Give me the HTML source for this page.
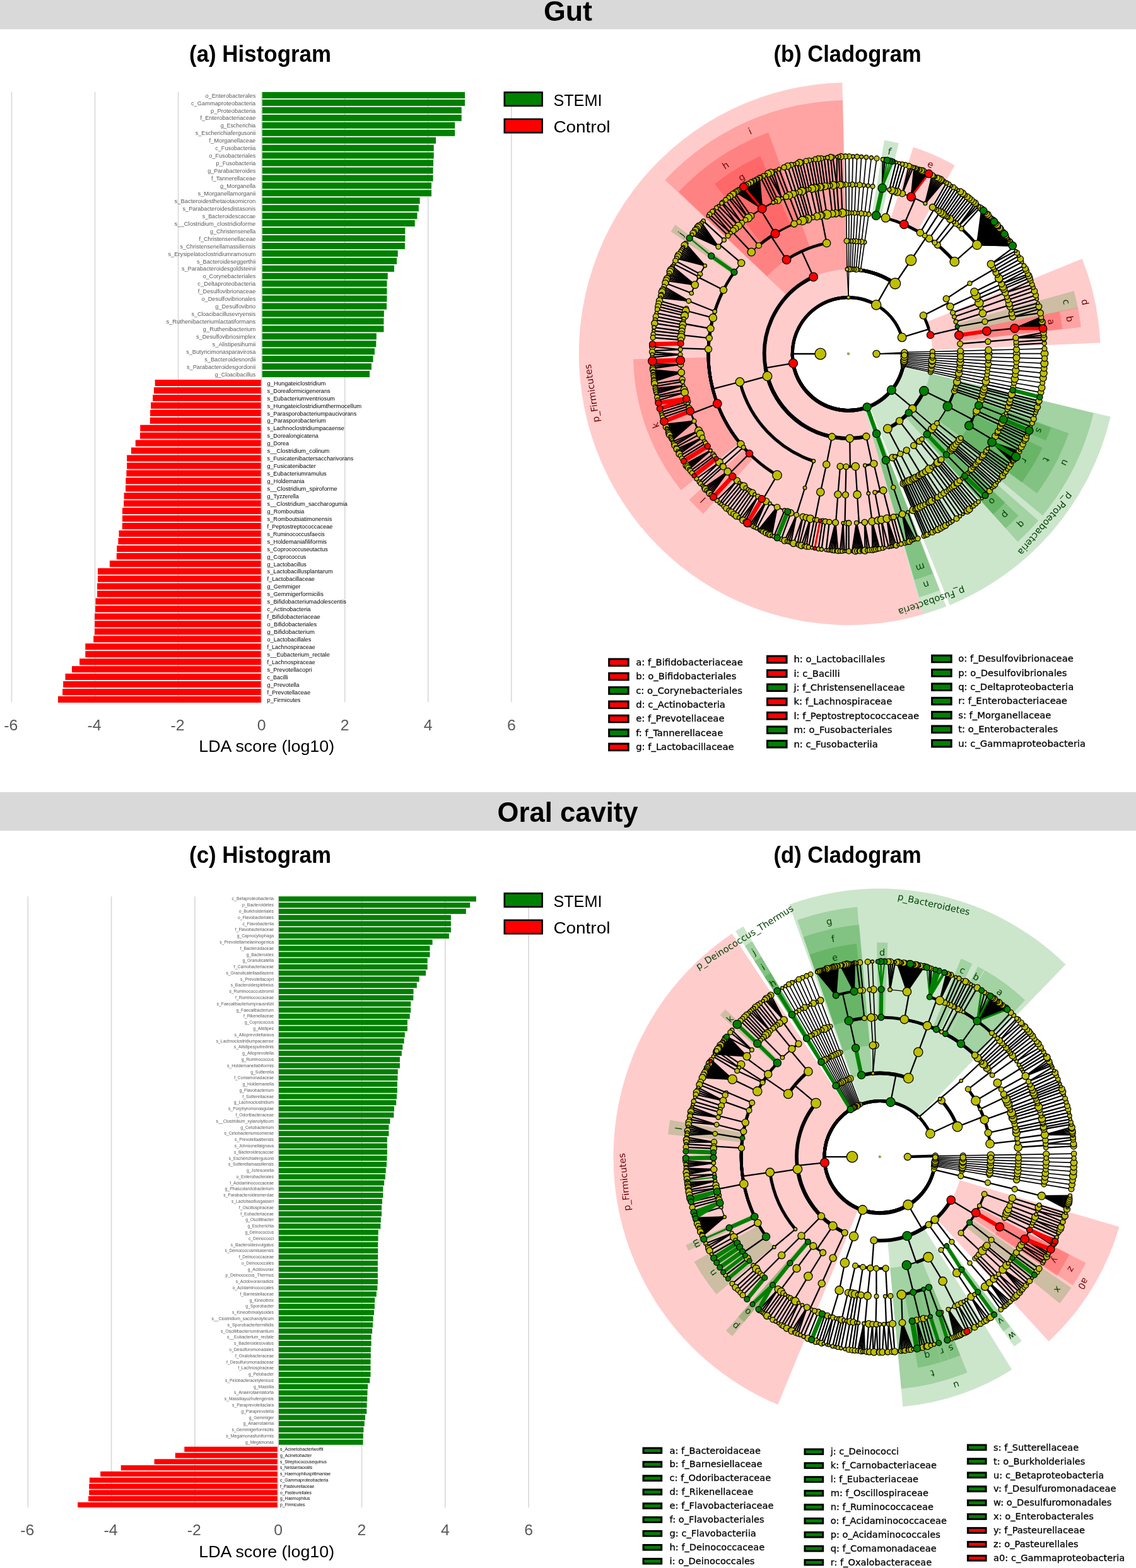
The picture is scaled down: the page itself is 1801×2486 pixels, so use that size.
<!DOCTYPE html>
<html><head><meta charset="utf-8"><title>LEfSe: Gut and Oral cavity</title>
<style>html,body{margin:0;padding:0;background:#fff}svg{display:block}text{white-space:pre}</style></head>
<body><svg width="1801" height="2486" viewBox="0 0 1801 2486" font-family="'Liberation Sans',sans-serif">
<rect x="0" y="-15" width="1801" height="61.4" fill="#d9d9d9"/>
<rect x="0" y="1255.8" width="1801" height="61.2" fill="#d9d9d9"/>
<text x="862" y="32.6" font-size="43.5" fill="#000" font-weight="bold" textLength="77" lengthAdjust="spacingAndGlyphs">Gut</text>
<text x="788.6" y="1303.2" font-size="43.5" fill="#000" font-weight="bold" textLength="223" lengthAdjust="spacingAndGlyphs">Oral cavity</text>
<text x="300" y="98.3" font-size="36" fill="#000" font-weight="bold" textLength="225" lengthAdjust="spacingAndGlyphs">(a) Histogram</text>
<text x="1226.6" y="98.3" font-size="36" fill="#000" font-weight="bold" textLength="234" lengthAdjust="spacingAndGlyphs">(b) Cladogram</text>
<text x="300" y="1368.3" font-size="36" fill="#000" font-weight="bold" textLength="225" lengthAdjust="spacingAndGlyphs">(c) Histogram</text>
<text x="1226.6" y="1368.3" font-size="36" fill="#000" font-weight="bold" textLength="234" lengthAdjust="spacingAndGlyphs">(d) Cladogram</text>
<g font-family="'Liberation Sans',sans-serif">
<g stroke="#d9d9d9" stroke-width="1.7">
<path d="M18.4 145.9V1113.3"/>
<path d="M150.5 145.9V1113.3"/>
<path d="M282.6 145.9V1113.3"/>
<path d="M414.6 145.9V1113.3"/>
<path d="M546.7 145.9V1113.3"/>
<path d="M678.7 145.9V1113.3"/>
<path d="M810.8 145.9V1113.3"/>
</g>
<g fill="#008000">
<rect x="415.7" y="145.9" width="321.3" height="10.1"/>
<rect x="415.7" y="157.8" width="321.3" height="10.1"/>
<rect x="415.7" y="169.8" width="316" height="10.1"/>
<rect x="415.7" y="181.8" width="316" height="10.1"/>
<rect x="415.7" y="193.7" width="305.5" height="10.1"/>
<rect x="415.7" y="205.7" width="305.5" height="10.1"/>
<rect x="415.7" y="217.6" width="275.3" height="10.1"/>
<rect x="415.7" y="229.6" width="272" height="10.1"/>
<rect x="415.7" y="241.5" width="272" height="10.1"/>
<rect x="415.7" y="253.4" width="271.3" height="10.1"/>
<rect x="415.7" y="265.4" width="270.9" height="10.1"/>
<rect x="415.7" y="277.4" width="270.9" height="10.1"/>
<rect x="415.7" y="289.3" width="268.3" height="10.1"/>
<rect x="415.7" y="301.2" width="268.3" height="10.1"/>
<rect x="415.7" y="313.2" width="249.9" height="10.1"/>
<rect x="415.7" y="325.1" width="248.1" height="10.1"/>
<rect x="415.7" y="337.1" width="245.7" height="10.1"/>
<rect x="415.7" y="349" width="242" height="10.1"/>
<rect x="415.7" y="361" width="226.6" height="10.1"/>
<rect x="415.7" y="372.9" width="226.6" height="10.1"/>
<rect x="415.7" y="384.9" width="226.2" height="10.1"/>
<rect x="415.7" y="396.9" width="215" height="10.1"/>
<rect x="415.7" y="408.8" width="213.3" height="10.1"/>
<rect x="415.7" y="420.8" width="209.3" height="10.1"/>
<rect x="415.7" y="432.7" width="199" height="10.1"/>
<rect x="415.7" y="444.6" width="197.7" height="10.1"/>
<rect x="415.7" y="456.6" width="197.7" height="10.1"/>
<rect x="415.7" y="468.5" width="197.7" height="10.1"/>
<rect x="415.7" y="480.5" width="197.3" height="10.1"/>
<rect x="415.7" y="492.4" width="193.1" height="10.1"/>
<rect x="415.7" y="504.4" width="192.7" height="10.1"/>
<rect x="415.7" y="516.4" width="192.7" height="10.1"/>
<rect x="415.7" y="528.3" width="181.1" height="10.1"/>
<rect x="415.7" y="540.2" width="180.6" height="10.1"/>
<rect x="415.7" y="552.2" width="178.2" height="10.1"/>
<rect x="415.7" y="564.1" width="175.8" height="10.1"/>
<rect x="415.7" y="576.1" width="173.2" height="10.1"/>
<rect x="415.7" y="588" width="170.3" height="10.1"/>
</g>
<g fill="#ff0000">
<rect x="245.7" y="602" width="168" height="10.1"/>
<rect x="244" y="614" width="169.7" height="10.1"/>
<rect x="242.2" y="625.9" width="171.5" height="10.1"/>
<rect x="239.2" y="637.9" width="174.5" height="10.1"/>
<rect x="238.1" y="649.8" width="175.6" height="10.1"/>
<rect x="237.8" y="661.8" width="175.9" height="10.1"/>
<rect x="222.3" y="673.7" width="191.4" height="10.1"/>
<rect x="222.1" y="685.6" width="191.6" height="10.1"/>
<rect x="214.8" y="697.6" width="198.9" height="10.1"/>
<rect x="208" y="709.5" width="205.7" height="10.1"/>
<rect x="201.2" y="721.5" width="212.5" height="10.1"/>
<rect x="201.2" y="733.5" width="212.5" height="10.1"/>
<rect x="200.4" y="745.4" width="213.3" height="10.1"/>
<rect x="199.3" y="757.4" width="214.4" height="10.1"/>
<rect x="199.1" y="769.3" width="214.6" height="10.1"/>
<rect x="196.6" y="781.2" width="217.1" height="10.1"/>
<rect x="196.2" y="793.2" width="217.5" height="10.1"/>
<rect x="194" y="805.1" width="219.7" height="10.1"/>
<rect x="194" y="817.1" width="219.7" height="10.1"/>
<rect x="193.8" y="829" width="219.9" height="10.1"/>
<rect x="188.5" y="841" width="225.2" height="10.1"/>
<rect x="187.4" y="853" width="226.3" height="10.1"/>
<rect x="185.3" y="864.9" width="228.4" height="10.1"/>
<rect x="184.8" y="876.8" width="228.9" height="10.1"/>
<rect x="173.9" y="888.8" width="239.8" height="10.1"/>
<rect x="155" y="900.8" width="258.7" height="10.1"/>
<rect x="155" y="912.7" width="258.7" height="10.1"/>
<rect x="154.1" y="924.6" width="259.6" height="10.1"/>
<rect x="154.1" y="936.6" width="259.6" height="10.1"/>
<rect x="151.5" y="948.5" width="262.2" height="10.1"/>
<rect x="151.1" y="960.5" width="262.6" height="10.1"/>
<rect x="150.2" y="972.5" width="263.5" height="10.1"/>
<rect x="150.2" y="984.4" width="263.5" height="10.1"/>
<rect x="150" y="996.3" width="263.7" height="10.1"/>
<rect x="148.2" y="1008.3" width="265.5" height="10.1"/>
<rect x="135.3" y="1020.2" width="278.4" height="10.1"/>
<rect x="135.3" y="1032.2" width="278.4" height="10.1"/>
<rect x="126.1" y="1044.2" width="287.6" height="10.1"/>
<rect x="114" y="1056.1" width="299.7" height="10.1"/>
<rect x="103.5" y="1068" width="310.2" height="10.1"/>
<rect x="100.2" y="1080" width="313.5" height="10.1"/>
<rect x="99.1" y="1092" width="314.6" height="10.1"/>
<rect x="92" y="1103.9" width="321.7" height="10.1"/>
</g>
<g font-family="'Liberation Sans',sans-serif" font-size="9.3" fill="#595959" text-anchor="end">
<text x="405.3" y="154.6" textLength="79.9" lengthAdjust="spacingAndGlyphs">o_Enterobacterales</text>
<text x="405.3" y="166.5" textLength="102.4" lengthAdjust="spacingAndGlyphs">c_Gammaproteobacteria</text>
<text x="405.3" y="178.5" textLength="71.3" lengthAdjust="spacingAndGlyphs">p_Proteobacteria</text>
<text x="405.3" y="190.4" textLength="87.8" lengthAdjust="spacingAndGlyphs">f_Enterobacteriaceae</text>
<text x="405.3" y="202.4" textLength="55.6" lengthAdjust="spacingAndGlyphs">g_Escherichia</text>
<text x="405.3" y="214.3" textLength="95.5" lengthAdjust="spacingAndGlyphs">s_Escherichiafergusonii</text>
<text x="405.3" y="226.3" textLength="73.8" lengthAdjust="spacingAndGlyphs">f_Morganellaceae</text>
<text x="405.3" y="238.2" textLength="64" lengthAdjust="spacingAndGlyphs">c_Fusobacteriia</text>
<text x="405.3" y="250.2" textLength="74" lengthAdjust="spacingAndGlyphs">o_Fusobacteriales</text>
<text x="405.3" y="262.1" textLength="62.7" lengthAdjust="spacingAndGlyphs">p_Fusobacteria</text>
<text x="405.3" y="274.1" textLength="76.1" lengthAdjust="spacingAndGlyphs">g_Parabacteroides</text>
<text x="405.3" y="286" textLength="70.3" lengthAdjust="spacingAndGlyphs">f_Tannerellaceae</text>
<text x="405.3" y="298" textLength="56.4" lengthAdjust="spacingAndGlyphs">g_Morganella</text>
<text x="405.3" y="309.9" textLength="91.9" lengthAdjust="spacingAndGlyphs">s_Morganellamorganii</text>
<text x="405.3" y="321.9" textLength="128.7" lengthAdjust="spacingAndGlyphs">s_Bacteroidesthetaiotaomicron</text>
<text x="405.3" y="333.8" textLength="115.7" lengthAdjust="spacingAndGlyphs">s_Parabacteroidesdistasonis</text>
<text x="405.3" y="345.8" textLength="84.5" lengthAdjust="spacingAndGlyphs">s_Bacteroidescaccae</text>
<text x="405.3" y="357.7" textLength="128.7" lengthAdjust="spacingAndGlyphs">s__Clostridium_clostridioforme</text>
<text x="405.3" y="369.7" textLength="72.4" lengthAdjust="spacingAndGlyphs">g_Christensenella</text>
<text x="405.3" y="381.6" textLength="89.8" lengthAdjust="spacingAndGlyphs">f_Christensenellaceae</text>
<text x="405.3" y="393.6" textLength="119.7" lengthAdjust="spacingAndGlyphs">s_Christensenellamassiliensis</text>
<text x="405.3" y="405.5" textLength="138.9" lengthAdjust="spacingAndGlyphs">s_Erysipelatoclostridiumramosum</text>
<text x="405.3" y="417.5" textLength="93.4" lengthAdjust="spacingAndGlyphs">s_Bacteroideseggerthii</text>
<text x="405.3" y="429.4" textLength="117.4" lengthAdjust="spacingAndGlyphs">s_Parabacteroidesgoldsteinii</text>
<text x="405.3" y="441.4" textLength="83.9" lengthAdjust="spacingAndGlyphs">o_Corynebacteriales</text>
<text x="405.3" y="453.3" textLength="92" lengthAdjust="spacingAndGlyphs">c_Deltaproteobacteria</text>
<text x="405.3" y="465.3" textLength="91.5" lengthAdjust="spacingAndGlyphs">f_Desulfovibrionaceae</text>
<text x="405.3" y="477.2" textLength="85.9" lengthAdjust="spacingAndGlyphs">o_Desulfovibrionales</text>
<text x="405.3" y="489.2" textLength="64" lengthAdjust="spacingAndGlyphs">g_Desulfovibrio</text>
<text x="405.3" y="501.1" textLength="101.8" lengthAdjust="spacingAndGlyphs">s_Cloacibacillusevryensis</text>
<text x="405.3" y="513.1" textLength="141.9" lengthAdjust="spacingAndGlyphs">s_Ruthenibacteriumlactatiformans</text>
<text x="405.3" y="525" textLength="83.5" lengthAdjust="spacingAndGlyphs">g_Ruthenibacterium</text>
<text x="405.3" y="537" textLength="94.4" lengthAdjust="spacingAndGlyphs">s_Desulfovibriosimplex</text>
<text x="405.3" y="548.9" textLength="68.7" lengthAdjust="spacingAndGlyphs">s_Alistipesihumii</text>
<text x="405.3" y="560.9" textLength="110.1" lengthAdjust="spacingAndGlyphs">s_Butyricimonasparavirosa</text>
<text x="405.3" y="572.8" textLength="81.1" lengthAdjust="spacingAndGlyphs">s_Bacteroidesnordii</text>
<text x="405.3" y="584.8" textLength="109.3" lengthAdjust="spacingAndGlyphs">s_Parabacteroidesgordonii</text>
<text x="405.3" y="596.7" textLength="64.5" lengthAdjust="spacingAndGlyphs">g_Cloacibacillus</text>
</g>
<g font-family="'Liberation Sans',sans-serif" font-size="9.3" fill="#000">
<text x="423.6" y="610.7" textLength="92.6" lengthAdjust="spacingAndGlyphs">g_Hungateiclostridium</text>
<text x="423.6" y="622.6" textLength="100" lengthAdjust="spacingAndGlyphs">s_Doreaformicigenerans</text>
<text x="423.6" y="634.6" textLength="107.5" lengthAdjust="spacingAndGlyphs">s_Eubacteriumventriosum</text>
<text x="423.6" y="646.5" textLength="149.5" lengthAdjust="spacingAndGlyphs">s_Hungateiclostridiumthermocellum</text>
<text x="423.6" y="658.5" textLength="141.7" lengthAdjust="spacingAndGlyphs">s_Parasporobacteriumpaucivorans</text>
<text x="423.6" y="670.4" textLength="93.2" lengthAdjust="spacingAndGlyphs">g_Parasporobacterium</text>
<text x="423.6" y="682.4" textLength="122.3" lengthAdjust="spacingAndGlyphs">s_Lachnoclostridiumpacaense</text>
<text x="423.6" y="694.3" textLength="81.2" lengthAdjust="spacingAndGlyphs">s_Dorealongicatena</text>
<text x="423.6" y="706.3" textLength="34.5" lengthAdjust="spacingAndGlyphs">g_Dorea</text>
<text x="423.6" y="718.2" textLength="98.7" lengthAdjust="spacingAndGlyphs">s__Clostridium_colinum</text>
<text x="423.6" y="730.2" textLength="136.8" lengthAdjust="spacingAndGlyphs">s_Fusicatenibactersaccharivorans</text>
<text x="423.6" y="742.1" textLength="77.1" lengthAdjust="spacingAndGlyphs">g_Fusicatenibacter</text>
<text x="423.6" y="754.1" textLength="94.1" lengthAdjust="spacingAndGlyphs">s_Eubacteriumramulus</text>
<text x="423.6" y="766" textLength="59.1" lengthAdjust="spacingAndGlyphs">g_Holdemania</text>
<text x="423.6" y="778" textLength="111.1" lengthAdjust="spacingAndGlyphs">s__Clostridium_spiroforme</text>
<text x="423.6" y="789.9" textLength="50.1" lengthAdjust="spacingAndGlyphs">g_Tyzzerella</text>
<text x="423.6" y="801.9" textLength="127.2" lengthAdjust="spacingAndGlyphs">s__Clostridium_saccharogumia</text>
<text x="423.6" y="813.8" textLength="58.8" lengthAdjust="spacingAndGlyphs">g_Romboutsia</text>
<text x="423.6" y="825.8" textLength="102.7" lengthAdjust="spacingAndGlyphs">s_Romboutsiatimonensis</text>
<text x="423.6" y="837.7" textLength="103.9" lengthAdjust="spacingAndGlyphs">f_Peptostreptococcaceae</text>
<text x="423.6" y="849.7" textLength="91.2" lengthAdjust="spacingAndGlyphs">s_Ruminococcusfaecis</text>
<text x="423.6" y="861.6" textLength="94.4" lengthAdjust="spacingAndGlyphs">s_Holdemaniafiliformis</text>
<text x="423.6" y="873.6" textLength="96.2" lengthAdjust="spacingAndGlyphs">s_Coprococcuseutactus</text>
<text x="423.6" y="885.5" textLength="61.7" lengthAdjust="spacingAndGlyphs">g_Coprococcus</text>
<text x="423.6" y="897.5" textLength="62.2" lengthAdjust="spacingAndGlyphs">g_Lactobacillus</text>
<text x="423.6" y="909.4" textLength="104" lengthAdjust="spacingAndGlyphs">s_Lactobacillusplantarum</text>
<text x="423.6" y="921.4" textLength="75.2" lengthAdjust="spacingAndGlyphs">f_Lactobacillaceae</text>
<text x="423.6" y="933.3" textLength="52.7" lengthAdjust="spacingAndGlyphs">g_Gemmiger</text>
<text x="423.6" y="945.3" textLength="89.2" lengthAdjust="spacingAndGlyphs">s_Gemmigerformicilis</text>
<text x="423.6" y="957.2" textLength="125.3" lengthAdjust="spacingAndGlyphs">s_Bifidobacteriumadolescentis</text>
<text x="423.6" y="969.2" textLength="68.9" lengthAdjust="spacingAndGlyphs">c_Actinobacteria</text>
<text x="423.6" y="981.1" textLength="84.2" lengthAdjust="spacingAndGlyphs">f_Bifidobacteriaceae</text>
<text x="423.6" y="993.1" textLength="78.6" lengthAdjust="spacingAndGlyphs">o_Bifidobacteriales</text>
<text x="423.6" y="1005" textLength="75.3" lengthAdjust="spacingAndGlyphs">g_Bifidobacterium</text>
<text x="423.6" y="1017" textLength="69.6" lengthAdjust="spacingAndGlyphs">o_Lactobacillales</text>
<text x="423.6" y="1028.9" textLength="76.1" lengthAdjust="spacingAndGlyphs">f_Lachnospiraceae</text>
<text x="423.6" y="1040.9" textLength="99.2" lengthAdjust="spacingAndGlyphs">s__Eubacterium_rectale</text>
<text x="423.6" y="1052.8" textLength="76.1" lengthAdjust="spacingAndGlyphs">f_Lachnospiraceae</text>
<text x="423.6" y="1064.8" textLength="70.9" lengthAdjust="spacingAndGlyphs">s_Prevotellacopri</text>
<text x="423.6" y="1076.7" textLength="33" lengthAdjust="spacingAndGlyphs">c_Bacilli</text>
<text x="423.6" y="1088.7" textLength="51.1" lengthAdjust="spacingAndGlyphs">g_Prevotella</text>
<text x="423.6" y="1100.6" textLength="68.5" lengthAdjust="spacingAndGlyphs">f_Prevotellaceae</text>
<text x="423.6" y="1112.6" textLength="52.9" lengthAdjust="spacingAndGlyphs">p_Firmicutes</text>
</g>
<g font-family="'Liberation Sans',sans-serif" font-size="24.6" fill="#595959" text-anchor="middle">
<text x="17.4" y="1158.4" textLength="22.1" lengthAdjust="spacingAndGlyphs">-6</text>
<text x="149.5" y="1158.4" textLength="22.1" lengthAdjust="spacingAndGlyphs">-4</text>
<text x="281.6" y="1158.4" textLength="22.1" lengthAdjust="spacingAndGlyphs">-2</text>
<text x="414.6" y="1158.4" textLength="13.8" lengthAdjust="spacingAndGlyphs">0</text>
<text x="546.7" y="1158.4" textLength="13.8" lengthAdjust="spacingAndGlyphs">2</text>
<text x="678.7" y="1158.4" textLength="13.8" lengthAdjust="spacingAndGlyphs">4</text>
<text x="810.8" y="1158.4" textLength="13.8" lengthAdjust="spacingAndGlyphs">6</text>
</g>
<text x="315.2" y="1191.7" font-size="26.6" fill="#000" textLength="215" lengthAdjust="spacingAndGlyphs">LDA score (log10)</text>
<g stroke="#d9d9d9" stroke-width="1.7">
<path d="M44.3 1421.2V2390.2"/>
<path d="M176.6 1421.2V2390.2"/>
<path d="M308.9 1421.2V2390.2"/>
<path d="M441.2 1421.2V2390.2"/>
<path d="M573.5 1421.2V2390.2"/>
<path d="M705.8 1421.2V2390.2"/>
<path d="M838.1 1421.2V2390.2"/>
</g>
<g fill="#008000">
<rect x="442" y="1421.2" width="312.9" height="8.2"/>
<rect x="442" y="1431" width="303.2" height="8.2"/>
<rect x="442" y="1440.8" width="296.8" height="8.2"/>
<rect x="442" y="1450.6" width="272.9" height="8.2"/>
<rect x="442" y="1460.3" width="272.9" height="8.2"/>
<rect x="442" y="1470.1" width="272.9" height="8.2"/>
<rect x="442" y="1479.9" width="269.9" height="8.2"/>
<rect x="442" y="1489.7" width="243.6" height="8.2"/>
<rect x="442" y="1499.5" width="239.5" height="8.2"/>
<rect x="442" y="1509.3" width="239.5" height="8.2"/>
<rect x="442" y="1519.1" width="235.7" height="8.2"/>
<rect x="442" y="1528.9" width="235.7" height="8.2"/>
<rect x="442" y="1538.6" width="233.1" height="8.2"/>
<rect x="442" y="1548.4" width="222.6" height="8.2"/>
<rect x="442" y="1558.2" width="218.8" height="8.2"/>
<rect x="442" y="1568" width="213.5" height="8.2"/>
<rect x="442" y="1577.8" width="213.3" height="8.2"/>
<rect x="442" y="1587.6" width="209.2" height="8.2"/>
<rect x="442" y="1597.4" width="209.2" height="8.2"/>
<rect x="442" y="1607.2" width="207.7" height="8.2"/>
<rect x="442" y="1616.9" width="203.9" height="8.2"/>
<rect x="442" y="1626.7" width="203.9" height="8.2"/>
<rect x="442" y="1636.5" width="199.8" height="8.2"/>
<rect x="442" y="1646.3" width="198.6" height="8.2"/>
<rect x="442" y="1656.1" width="196.3" height="8.2"/>
<rect x="442" y="1665.9" width="194.8" height="8.2"/>
<rect x="442" y="1675.7" width="191.9" height="8.2"/>
<rect x="442" y="1685.4" width="191.9" height="8.2"/>
<rect x="442" y="1695.2" width="188.7" height="8.2"/>
<rect x="442" y="1705" width="188.4" height="8.2"/>
<rect x="442" y="1714.8" width="187.8" height="8.2"/>
<rect x="442" y="1724.6" width="187.8" height="8.2"/>
<rect x="442" y="1734.4" width="187" height="8.2"/>
<rect x="442" y="1744.2" width="186.1" height="8.2"/>
<rect x="442" y="1754" width="182.9" height="8.2"/>
<rect x="442" y="1763.7" width="182.3" height="8.2"/>
<rect x="442" y="1773.5" width="176.4" height="8.2"/>
<rect x="442" y="1783.3" width="174.4" height="8.2"/>
<rect x="442" y="1793.1" width="174.4" height="8.2"/>
<rect x="442" y="1802.9" width="171.8" height="8.2"/>
<rect x="442" y="1812.7" width="171.8" height="8.2"/>
<rect x="442" y="1822.5" width="171.8" height="8.2"/>
<rect x="442" y="1832.3" width="171.5" height="8.2"/>
<rect x="442" y="1842" width="170.9" height="8.2"/>
<rect x="442" y="1851.8" width="169.7" height="8.2"/>
<rect x="442" y="1861.6" width="168.8" height="8.2"/>
<rect x="442" y="1871.4" width="167.1" height="8.2"/>
<rect x="442" y="1881.2" width="165.3" height="8.2"/>
<rect x="442" y="1891" width="165.3" height="8.2"/>
<rect x="442" y="1900.8" width="163.9" height="8.2"/>
<rect x="442" y="1910.6" width="163" height="8.2"/>
<rect x="442" y="1920.3" width="163" height="8.2"/>
<rect x="442" y="1930.1" width="161.8" height="8.2"/>
<rect x="442" y="1939.9" width="161.3" height="8.2"/>
<rect x="442" y="1949.7" width="157.7" height="8.2"/>
<rect x="442" y="1959.5" width="157.5" height="8.2"/>
<rect x="442" y="1969.3" width="157.2" height="8.2"/>
<rect x="442" y="1979.1" width="157.2" height="8.2"/>
<rect x="442" y="1988.8" width="157.2" height="8.2"/>
<rect x="442" y="1998.6" width="156.9" height="8.2"/>
<rect x="442" y="2008.4" width="156.9" height="8.2"/>
<rect x="442" y="2018.2" width="156.9" height="8.2"/>
<rect x="442" y="2028" width="156.9" height="8.2"/>
<rect x="442" y="2037.8" width="156.3" height="8.2"/>
<rect x="442" y="2047.6" width="154.8" height="8.2"/>
<rect x="442" y="2057.4" width="152.2" height="8.2"/>
<rect x="442" y="2067.1" width="151.9" height="8.2"/>
<rect x="442" y="2076.9" width="151" height="8.2"/>
<rect x="442" y="2086.7" width="149.6" height="8.2"/>
<rect x="442" y="2096.5" width="149" height="8.2"/>
<rect x="442" y="2106.3" width="148.1" height="8.2"/>
<rect x="442" y="2116.1" width="146.6" height="8.2"/>
<rect x="442" y="2125.9" width="146.6" height="8.2"/>
<rect x="442" y="2135.7" width="145.8" height="8.2"/>
<rect x="442" y="2145.4" width="145.8" height="8.2"/>
<rect x="442" y="2155.2" width="145.5" height="8.2"/>
<rect x="442" y="2165" width="145.5" height="8.2"/>
<rect x="442" y="2174.8" width="145.5" height="8.2"/>
<rect x="442" y="2184.6" width="144.3" height="8.2"/>
<rect x="442" y="2194.4" width="141.1" height="8.2"/>
<rect x="442" y="2204.2" width="140.5" height="8.2"/>
<rect x="442" y="2213.9" width="140.2" height="8.2"/>
<rect x="442" y="2223.7" width="139.6" height="8.2"/>
<rect x="442" y="2233.5" width="139.3" height="8.2"/>
<rect x="442" y="2243.3" width="137" height="8.2"/>
<rect x="442" y="2253.1" width="135.8" height="8.2"/>
<rect x="442" y="2262.9" width="134.4" height="8.2"/>
<rect x="442" y="2272.7" width="133.8" height="8.2"/>
<rect x="442" y="2282.5" width="133.5" height="8.2"/>
</g>
<g fill="#ff0000">
<rect x="292.3" y="2293.7" width="147.5" height="8.2"/>
<rect x="277.8" y="2303.5" width="162" height="8.2"/>
<rect x="244.6" y="2313.3" width="195.2" height="8.2"/>
<rect x="191.7" y="2323.1" width="248.1" height="8.2"/>
<rect x="159.2" y="2332.9" width="280.6" height="8.2"/>
<rect x="141.9" y="2342.7" width="297.9" height="8.2"/>
<rect x="141.2" y="2352.5" width="298.6" height="8.2"/>
<rect x="141.2" y="2362.3" width="298.6" height="8.2"/>
<rect x="140.1" y="2372" width="299.7" height="8.2"/>
<rect x="123.2" y="2381.8" width="316.6" height="8.2"/>
</g>
<g font-family="'Liberation Sans',sans-serif" font-size="7" fill="#595959" text-anchor="end">
<text x="434" y="1427.4" textLength="66.4" lengthAdjust="spacingAndGlyphs">c_Betaproteobacteria</text>
<text x="434" y="1437.2" textLength="49.9" lengthAdjust="spacingAndGlyphs">p_Bacteroidetes</text>
<text x="434" y="1447" textLength="55.3" lengthAdjust="spacingAndGlyphs">o_Burkholderiales</text>
<text x="434" y="1456.8" textLength="57.1" lengthAdjust="spacingAndGlyphs">o_Flavobacteriales</text>
<text x="434" y="1466.6" textLength="49.6" lengthAdjust="spacingAndGlyphs">c_Flavobacteriia</text>
<text x="434" y="1476.4" textLength="61.2" lengthAdjust="spacingAndGlyphs">f_Flavobacteriaceae</text>
<text x="434" y="1486.1" textLength="58.3" lengthAdjust="spacingAndGlyphs">g_Capnocytophaga</text>
<text x="434" y="1495.9" textLength="85.8" lengthAdjust="spacingAndGlyphs">s_Prevotellamelaninogenica</text>
<text x="434" y="1505.7" textLength="53.2" lengthAdjust="spacingAndGlyphs">f_Bacteroidaceae</text>
<text x="434" y="1515.5" textLength="43.2" lengthAdjust="spacingAndGlyphs">g_Bacteroides</text>
<text x="434" y="1525.3" textLength="49.6" lengthAdjust="spacingAndGlyphs">g_Granulicatella</text>
<text x="434" y="1535.1" textLength="63.2" lengthAdjust="spacingAndGlyphs">f_Carnobacteriaceae</text>
<text x="434" y="1544.9" textLength="75.6" lengthAdjust="spacingAndGlyphs">s_Granulicatellaadiacens</text>
<text x="434" y="1554.7" textLength="52.9" lengthAdjust="spacingAndGlyphs">s_Prevotellacopri</text>
<text x="434" y="1564.4" textLength="68.3" lengthAdjust="spacingAndGlyphs">s_Bacteroidesplebeius</text>
<text x="434" y="1574.2" textLength="70.6" lengthAdjust="spacingAndGlyphs">s_Ruminococcusbromii</text>
<text x="434" y="1584" textLength="60.9" lengthAdjust="spacingAndGlyphs">f_Ruminococcaceae</text>
<text x="434" y="1593.8" textLength="90.5" lengthAdjust="spacingAndGlyphs">s_Faecalibacteriumprausnitzii</text>
<text x="434" y="1603.6" textLength="59.5" lengthAdjust="spacingAndGlyphs">g_Faecalibacterium</text>
<text x="434" y="1613.4" textLength="47.9" lengthAdjust="spacingAndGlyphs">f_Rikenellaceae</text>
<text x="434" y="1623.2" textLength="46.1" lengthAdjust="spacingAndGlyphs">g_Coprococcus</text>
<text x="434" y="1633" textLength="32.8" lengthAdjust="spacingAndGlyphs">g_Alistipes</text>
<text x="434" y="1642.7" textLength="62.5" lengthAdjust="spacingAndGlyphs">s_Alloprevotellarava</text>
<text x="434" y="1652.5" textLength="91.3" lengthAdjust="spacingAndGlyphs">s_Lachnoclostridiumpacaense</text>
<text x="434" y="1662.3" textLength="63.2" lengthAdjust="spacingAndGlyphs">s_Alistipesputredinis</text>
<text x="434" y="1672.1" textLength="49.9" lengthAdjust="spacingAndGlyphs">g_Alloprevotella</text>
<text x="434" y="1681.9" textLength="51.2" lengthAdjust="spacingAndGlyphs">g_Ruminococcus</text>
<text x="434" y="1691.7" textLength="74.1" lengthAdjust="spacingAndGlyphs">s_Holdemanellabiformis</text>
<text x="434" y="1701.5" textLength="36.8" lengthAdjust="spacingAndGlyphs">g_Sutterella</text>
<text x="434" y="1711.2" textLength="62.8" lengthAdjust="spacingAndGlyphs">f_Comamonadaceae</text>
<text x="434" y="1721" textLength="49.6" lengthAdjust="spacingAndGlyphs">g_Holdemanella</text>
<text x="434" y="1730.8" textLength="54.6" lengthAdjust="spacingAndGlyphs">g_Flavobacterium</text>
<text x="434" y="1740.6" textLength="49.8" lengthAdjust="spacingAndGlyphs">f_Sutterellaceae</text>
<text x="434" y="1750.4" textLength="63.2" lengthAdjust="spacingAndGlyphs">g_Lachnoclostridium</text>
<text x="434" y="1760.2" textLength="71.9" lengthAdjust="spacingAndGlyphs">s_Porphyromonasgulae</text>
<text x="434" y="1770" textLength="60.6" lengthAdjust="spacingAndGlyphs">f_Odoribacteraceae</text>
<text x="434" y="1779.8" textLength="91.5" lengthAdjust="spacingAndGlyphs">s__Clostridium_xylanolyticum</text>
<text x="434" y="1789.5" textLength="52.7" lengthAdjust="spacingAndGlyphs">g_Cetobacterium</text>
<text x="434" y="1799.3" textLength="78.6" lengthAdjust="spacingAndGlyphs">s_Cetobacteriumsomerae</text>
<text x="434" y="1809.1" textLength="62" lengthAdjust="spacingAndGlyphs">s_Prevotellaalbensis</text>
<text x="434" y="1818.9" textLength="62.3" lengthAdjust="spacingAndGlyphs">s_Johnsonellaignava</text>
<text x="434" y="1828.7" textLength="63.1" lengthAdjust="spacingAndGlyphs">s_Bacteroidescaccae</text>
<text x="434" y="1838.5" textLength="71.2" lengthAdjust="spacingAndGlyphs">s_Escherichiafergusonii</text>
<text x="434" y="1848.3" textLength="72.1" lengthAdjust="spacingAndGlyphs">s_Sutterellamassiliensis</text>
<text x="434" y="1858.1" textLength="43.1" lengthAdjust="spacingAndGlyphs">g_Johnsonella</text>
<text x="434" y="1867.8" textLength="59.6" lengthAdjust="spacingAndGlyphs">o_Enterobacterales</text>
<text x="434" y="1877.6" textLength="69.7" lengthAdjust="spacingAndGlyphs">f_Acidaminococcaceae</text>
<text x="434" y="1887.4" textLength="77.5" lengthAdjust="spacingAndGlyphs">g_Phascolarctobacterium</text>
<text x="434" y="1897.2" textLength="79.8" lengthAdjust="spacingAndGlyphs">s_Parabacteroidesmerdae</text>
<text x="434" y="1907" textLength="66.9" lengthAdjust="spacingAndGlyphs">s_Lactobacillusgasseri</text>
<text x="434" y="1916.8" textLength="55.2" lengthAdjust="spacingAndGlyphs">f_Oscillospiraceae</text>
<text x="434" y="1926.6" textLength="52.7" lengthAdjust="spacingAndGlyphs">f_Eubacteriaceae</text>
<text x="434" y="1936.3" textLength="44.8" lengthAdjust="spacingAndGlyphs">g_Oscillibacter</text>
<text x="434" y="1946.1" textLength="41.5" lengthAdjust="spacingAndGlyphs">g_Escherichia</text>
<text x="434" y="1955.9" textLength="45.6" lengthAdjust="spacingAndGlyphs">g_Deinococcus</text>
<text x="434" y="1965.7" textLength="40.1" lengthAdjust="spacingAndGlyphs">c_Deinococci</text>
<text x="434" y="1975.5" textLength="68.2" lengthAdjust="spacingAndGlyphs">s_Bacteroidesvulgatus</text>
<text x="434" y="1985.3" textLength="77.4" lengthAdjust="spacingAndGlyphs">s_Deinococcusmisasensis</text>
<text x="434" y="1995.1" textLength="55.3" lengthAdjust="spacingAndGlyphs">f_Deinococcaceae</text>
<text x="434" y="2004.9" textLength="51.1" lengthAdjust="spacingAndGlyphs">o_Deinococcales</text>
<text x="434" y="2014.6" textLength="41.2" lengthAdjust="spacingAndGlyphs">g_Acidovorax</text>
<text x="434" y="2024.4" textLength="76.5" lengthAdjust="spacingAndGlyphs">p_Deinococcus_Thermus</text>
<text x="434" y="2034.2" textLength="60.3" lengthAdjust="spacingAndGlyphs">s_Acidovoraxradicis</text>
<text x="434" y="2044" textLength="65.5" lengthAdjust="spacingAndGlyphs">o_Acidaminococcales</text>
<text x="434" y="2053.8" textLength="53.6" lengthAdjust="spacingAndGlyphs">f_Barnesiellaceae</text>
<text x="434" y="2063.6" textLength="38.5" lengthAdjust="spacingAndGlyphs">g_Kineothrix</text>
<text x="434" y="2073.4" textLength="44.7" lengthAdjust="spacingAndGlyphs">g_Sporobacter</text>
<text x="434" y="2083.2" textLength="65.9" lengthAdjust="spacingAndGlyphs">s_Kineothrixalysoides</text>
<text x="434" y="2092.9" textLength="98.6" lengthAdjust="spacingAndGlyphs">s__Clostridium_saccharolyticum</text>
<text x="434" y="2102.7" textLength="73.5" lengthAdjust="spacingAndGlyphs">s_Sporobactertermitidis</text>
<text x="434" y="2112.5" textLength="84.1" lengthAdjust="spacingAndGlyphs">s_Oscillibacterruminantium</text>
<text x="434" y="2122.3" textLength="74" lengthAdjust="spacingAndGlyphs">s__Eubacterium_rectale</text>
<text x="434" y="2132.1" textLength="63" lengthAdjust="spacingAndGlyphs">s_Bacteroidesovatus</text>
<text x="434" y="2141.9" textLength="70.8" lengthAdjust="spacingAndGlyphs">o_Desulfuromonadales</text>
<text x="434" y="2151.7" textLength="60.9" lengthAdjust="spacingAndGlyphs">f_Oxalobacteraceae</text>
<text x="434" y="2161.5" textLength="75" lengthAdjust="spacingAndGlyphs">f_Desulfuromonadaceae</text>
<text x="434" y="2171.2" textLength="56.8" lengthAdjust="spacingAndGlyphs">f_Lachnospiraceae</text>
<text x="434" y="2181" textLength="40.1" lengthAdjust="spacingAndGlyphs">g_Pelobacter</text>
<text x="434" y="2190.8" textLength="77.1" lengthAdjust="spacingAndGlyphs">s_Pelobacteracetylenicus</text>
<text x="434" y="2200.6" textLength="31.9" lengthAdjust="spacingAndGlyphs">g_Massilia</text>
<text x="434" y="2210.4" textLength="63.1" lengthAdjust="spacingAndGlyphs">s_Anaerotaeniatorta</text>
<text x="434" y="2220.2" textLength="78.2" lengthAdjust="spacingAndGlyphs">s_Massiliayuzhufengensis</text>
<text x="434" y="2230" textLength="65.9" lengthAdjust="spacingAndGlyphs">s_Paraprevotellaclara</text>
<text x="434" y="2239.7" textLength="51.8" lengthAdjust="spacingAndGlyphs">g_Paraprevotella</text>
<text x="434" y="2249.5" textLength="39.3" lengthAdjust="spacingAndGlyphs">g_Gemmiger</text>
<text x="434" y="2259.3" textLength="48.5" lengthAdjust="spacingAndGlyphs">g_Anaerotaenia</text>
<text x="434" y="2269.1" textLength="66.6" lengthAdjust="spacingAndGlyphs">s_Gemmigerformicilis</text>
<text x="434" y="2278.9" textLength="75.7" lengthAdjust="spacingAndGlyphs">s_Megamonasfuniformis</text>
<text x="434" y="2288.7" textLength="44.9" lengthAdjust="spacingAndGlyphs">g_Megamonas</text>
</g>
<g font-family="'Liberation Sans',sans-serif" font-size="7" fill="#000">
<text x="444" y="2300" textLength="68.7" lengthAdjust="spacingAndGlyphs">s_Acinetobacterlwoffii</text>
<text x="444" y="2309.8" textLength="50.2" lengthAdjust="spacingAndGlyphs">g_Acinetobacter</text>
<text x="444" y="2319.5" textLength="73.9" lengthAdjust="spacingAndGlyphs">s_Streptococcusequinus</text>
<text x="444" y="2329.3" textLength="51" lengthAdjust="spacingAndGlyphs">s_Neisseriaoralis</text>
<text x="444" y="2339.1" textLength="80.1" lengthAdjust="spacingAndGlyphs">s_Haemophiluspittmaniae</text>
<text x="444" y="2348.9" textLength="76.4" lengthAdjust="spacingAndGlyphs">c_Gammaproteobacteria</text>
<text x="444" y="2358.7" textLength="54.2" lengthAdjust="spacingAndGlyphs">f_Pasteurellaceae</text>
<text x="444" y="2368.5" textLength="50" lengthAdjust="spacingAndGlyphs">o_Pasteurellales</text>
<text x="444" y="2378.3" textLength="47.4" lengthAdjust="spacingAndGlyphs">g_Haemophilus</text>
<text x="444" y="2388.1" textLength="39.5" lengthAdjust="spacingAndGlyphs">p_Firmicutes</text>
</g>
<g font-family="'Liberation Sans',sans-serif" font-size="24.6" fill="#595959" text-anchor="middle">
<text x="43.3" y="2433.6" textLength="22.1" lengthAdjust="spacingAndGlyphs">-6</text>
<text x="175.6" y="2433.6" textLength="22.1" lengthAdjust="spacingAndGlyphs">-4</text>
<text x="307.9" y="2433.6" textLength="22.1" lengthAdjust="spacingAndGlyphs">-2</text>
<text x="441.2" y="2433.6" textLength="13.8" lengthAdjust="spacingAndGlyphs">0</text>
<text x="573.5" y="2433.6" textLength="13.8" lengthAdjust="spacingAndGlyphs">2</text>
<text x="705.8" y="2433.6" textLength="13.8" lengthAdjust="spacingAndGlyphs">4</text>
<text x="838.1" y="2433.6" textLength="13.8" lengthAdjust="spacingAndGlyphs">6</text>
</g>
<text x="315.2" y="2468.7" font-size="26.6" fill="#000" textLength="215" lengthAdjust="spacingAndGlyphs">LDA score (log10)</text>
<rect x="799.8" y="146.4" width="59.8" height="21.4" fill="#008000" stroke="#000" stroke-width="2.6"/>
<text x="877.4" y="168.3" font-size="26.6" fill="#000" textLength="77" lengthAdjust="spacingAndGlyphs">STEMI</text>
<rect x="799.8" y="188.9" width="59.8" height="21.4" fill="#ff0000" stroke="#000" stroke-width="2.6"/>
<text x="877.4" y="209.9" font-size="26.6" fill="#000" textLength="90" lengthAdjust="spacingAndGlyphs">Control</text>
<rect x="799.8" y="1416.4" width="59.8" height="21.4" fill="#008000" stroke="#000" stroke-width="2.6"/>
<text x="877.4" y="1438.3" font-size="26.6" fill="#000" textLength="77" lengthAdjust="spacingAndGlyphs">STEMI</text>
<rect x="799.8" y="1458.9" width="59.8" height="21.4" fill="#ff0000" stroke="#000" stroke-width="2.6"/>
<text x="877.4" y="1479.9" font-size="26.6" fill="#000" textLength="90" lengthAdjust="spacingAndGlyphs">Control</text>
</g>
<g font-family="'DejaVu Sans',sans-serif" font-size="14.8" fill="#000" stroke="#000" stroke-width="0.3">
<rect x="965.6" y="1044.9" width="30.6" height="10.6" fill="#ff0000" stroke="#000" stroke-width="3"/>
<text x="1008.2" y="1055">a: f_Bifidobacteriaceae</text>
<rect x="965.6" y="1067.3" width="30.6" height="10.6" fill="#ff0000" stroke="#000" stroke-width="3"/>
<text x="1008.2" y="1077.4">b: o_Bifidobacteriales</text>
<rect x="965.6" y="1089.6" width="30.6" height="10.6" fill="#008000" stroke="#000" stroke-width="3"/>
<text x="1008.2" y="1099.7">c: o_Corynebacteriales</text>
<rect x="965.6" y="1112" width="30.6" height="10.6" fill="#ff0000" stroke="#000" stroke-width="3"/>
<text x="1008.2" y="1122.1">d: c_Actinobacteria</text>
<rect x="965.6" y="1134.3" width="30.6" height="10.6" fill="#ff0000" stroke="#000" stroke-width="3"/>
<text x="1008.2" y="1144.4">e: f_Prevotellaceae</text>
<rect x="965.6" y="1156.7" width="30.6" height="10.6" fill="#008000" stroke="#000" stroke-width="3"/>
<text x="1008.2" y="1166.8">f: f_Tannerellaceae</text>
<rect x="965.6" y="1179.1" width="30.6" height="10.6" fill="#ff0000" stroke="#000" stroke-width="3"/>
<text x="1008.2" y="1189.2">g: f_Lactobacillaceae</text>
<rect x="1216.5" y="1040.2" width="30.6" height="10.6" fill="#ff0000" stroke="#000" stroke-width="3"/>
<text x="1258.4" y="1050.3">h: o_Lactobacillales</text>
<rect x="1216.5" y="1062.6" width="30.6" height="10.6" fill="#ff0000" stroke="#000" stroke-width="3"/>
<text x="1258.4" y="1072.7">i: c_Bacilli</text>
<rect x="1216.5" y="1084.9" width="30.6" height="10.6" fill="#008000" stroke="#000" stroke-width="3"/>
<text x="1258.4" y="1095">j: f_Christensenellaceae</text>
<rect x="1216.5" y="1107.3" width="30.6" height="10.6" fill="#ff0000" stroke="#000" stroke-width="3"/>
<text x="1258.4" y="1117.4">k: f_Lachnospiraceae</text>
<rect x="1216.5" y="1129.6" width="30.6" height="10.6" fill="#ff0000" stroke="#000" stroke-width="3"/>
<text x="1258.4" y="1139.7">l: f_Peptostreptococcaceae</text>
<rect x="1216.5" y="1152" width="30.6" height="10.6" fill="#008000" stroke="#000" stroke-width="3"/>
<text x="1258.4" y="1162.1">m: o_Fusobacteriales</text>
<rect x="1216.5" y="1174.4" width="30.6" height="10.6" fill="#008000" stroke="#000" stroke-width="3"/>
<text x="1258.4" y="1184.5">n: c_Fusobacteriia</text>
<rect x="1477.6" y="1039.2" width="30.6" height="10.6" fill="#008000" stroke="#000" stroke-width="3"/>
<text x="1519.2" y="1049.3">o: f_Desulfovibrionaceae</text>
<rect x="1477.6" y="1061.6" width="30.6" height="10.6" fill="#008000" stroke="#000" stroke-width="3"/>
<text x="1519.2" y="1071.7">p: o_Desulfovibrionales</text>
<rect x="1477.6" y="1083.9" width="30.6" height="10.6" fill="#008000" stroke="#000" stroke-width="3"/>
<text x="1519.2" y="1094">q: c_Deltaproteobacteria</text>
<rect x="1477.6" y="1106.3" width="30.6" height="10.6" fill="#008000" stroke="#000" stroke-width="3"/>
<text x="1519.2" y="1116.4">r: f_Enterobacteriaceae</text>
<rect x="1477.6" y="1128.6" width="30.6" height="10.6" fill="#008000" stroke="#000" stroke-width="3"/>
<text x="1519.2" y="1138.7">s: f_Morganellaceae</text>
<rect x="1477.6" y="1151" width="30.6" height="10.6" fill="#008000" stroke="#000" stroke-width="3"/>
<text x="1519.2" y="1161.1">t: o_Enterobacterales</text>
<rect x="1477.6" y="1173.4" width="30.6" height="10.6" fill="#008000" stroke="#000" stroke-width="3"/>
<text x="1519.2" y="1183.5">u: c_Gammaproteobacteria</text>
</g>
<g font-family="'DejaVu Sans',sans-serif" font-size="14.6" fill="#000" stroke="#000" stroke-width="0.3">
<rect x="1020" y="2295.9" width="28.7" height="7.7" fill="#008000" stroke="#000" stroke-width="3"/>
<text x="1061.6" y="2304.5">a: f_Bacteroidaceae</text>
<rect x="1020" y="2317.8" width="28.7" height="7.7" fill="#008000" stroke="#000" stroke-width="3"/>
<text x="1061.6" y="2326.4">b: f_Barnesiellaceae</text>
<rect x="1020" y="2339.8" width="28.7" height="7.7" fill="#008000" stroke="#000" stroke-width="3"/>
<text x="1061.6" y="2348.4">c: f_Odoribacteraceae</text>
<rect x="1020" y="2361.7" width="28.7" height="7.7" fill="#008000" stroke="#000" stroke-width="3"/>
<text x="1061.6" y="2370.3">d: f_Rikenellaceae</text>
<rect x="1020" y="2383.7" width="28.7" height="7.7" fill="#008000" stroke="#000" stroke-width="3"/>
<text x="1061.6" y="2392.3">e: f_Flavobacteriaceae</text>
<rect x="1020" y="2405.6" width="28.7" height="7.7" fill="#008000" stroke="#000" stroke-width="3"/>
<text x="1061.6" y="2414.2">f: o_Flavobacteriales</text>
<rect x="1020" y="2427.5" width="28.7" height="7.7" fill="#008000" stroke="#000" stroke-width="3"/>
<text x="1061.6" y="2436.1">g: c_Flavobacteriia</text>
<rect x="1020" y="2449.5" width="28.7" height="7.7" fill="#008000" stroke="#000" stroke-width="3"/>
<text x="1061.6" y="2458.1">h: f_Deinococcaceae</text>
<rect x="1020" y="2471.4" width="28.7" height="7.7" fill="#008000" stroke="#000" stroke-width="3"/>
<text x="1061.6" y="2480">i: o_Deinococcales</text>
<rect x="1276" y="2297.8" width="28.7" height="7.7" fill="#008000" stroke="#000" stroke-width="3"/>
<text x="1316.7" y="2306.4">j: c_Deinococci</text>
<rect x="1276" y="2319.7" width="28.7" height="7.7" fill="#008000" stroke="#000" stroke-width="3"/>
<text x="1316.7" y="2328.3">k: f_Carnobacteriaceae</text>
<rect x="1276" y="2341.7" width="28.7" height="7.7" fill="#008000" stroke="#000" stroke-width="3"/>
<text x="1316.7" y="2350.3">l: f_Eubacteriaceae</text>
<rect x="1276" y="2363.6" width="28.7" height="7.7" fill="#008000" stroke="#000" stroke-width="3"/>
<text x="1316.7" y="2372.2">m: f_Oscillospiraceae</text>
<rect x="1276" y="2385.6" width="28.7" height="7.7" fill="#008000" stroke="#000" stroke-width="3"/>
<text x="1316.7" y="2394.2">n: f_Ruminococcaceae</text>
<rect x="1276" y="2407.5" width="28.7" height="7.7" fill="#008000" stroke="#000" stroke-width="3"/>
<text x="1316.7" y="2416.1">o: f_Acidaminococcaceae</text>
<rect x="1276" y="2429.4" width="28.7" height="7.7" fill="#008000" stroke="#000" stroke-width="3"/>
<text x="1316.7" y="2438">p: o_Acidaminococcales</text>
<rect x="1276" y="2451.4" width="28.7" height="7.7" fill="#008000" stroke="#000" stroke-width="3"/>
<text x="1316.7" y="2460">q: f_Comamonadaceae</text>
<rect x="1276" y="2473.3" width="28.7" height="7.7" fill="#008000" stroke="#000" stroke-width="3"/>
<text x="1316.7" y="2481.9">r: f_Oxalobacteraceae</text>
<rect x="1534.4" y="2291" width="28.7" height="7.7" fill="#008000" stroke="#000" stroke-width="3"/>
<text x="1575.1" y="2299.6">s: f_Sutterellaceae</text>
<rect x="1534.4" y="2312.9" width="28.7" height="7.7" fill="#008000" stroke="#000" stroke-width="3"/>
<text x="1575.1" y="2321.5">t: o_Burkholderiales</text>
<rect x="1534.4" y="2334.9" width="28.7" height="7.7" fill="#008000" stroke="#000" stroke-width="3"/>
<text x="1575.1" y="2343.5">u: c_Betaproteobacteria</text>
<rect x="1534.4" y="2356.8" width="28.7" height="7.7" fill="#008000" stroke="#000" stroke-width="3"/>
<text x="1575.1" y="2365.4">v: f_Desulfuromonadaceae</text>
<rect x="1534.4" y="2378.8" width="28.7" height="7.7" fill="#008000" stroke="#000" stroke-width="3"/>
<text x="1575.1" y="2387.4">w: o_Desulfuromonadales</text>
<rect x="1534.4" y="2400.7" width="28.7" height="7.7" fill="#008000" stroke="#000" stroke-width="3"/>
<text x="1575.1" y="2409.3">x: o_Enterobacterales</text>
<rect x="1534.4" y="2422.6" width="28.7" height="7.7" fill="#ff0000" stroke="#000" stroke-width="3"/>
<text x="1575.1" y="2431.2">y: f_Pasteurellaceae</text>
<rect x="1534.4" y="2444.6" width="28.7" height="7.7" fill="#ff0000" stroke="#000" stroke-width="3"/>
<text x="1575.1" y="2453.2">z: o_Pasteurellales</text>
<rect x="1534.4" y="2466.5" width="28.7" height="7.7" fill="#ff0000" stroke="#000" stroke-width="3"/>
<text x="1575.1" y="2475.1">a0: c_Gammaproteobacteria</text>
</g>
<g transform="translate(1345.1 0) scale(0.9935 1) translate(-1345.1 0)"><path d="M1335.3 131.1A430 430 0 1 0 1464.3 974.1L1369.9 646.9A89.4 89.4 0 1 1 1343.1 471.6Z" fill="#ff0000" fill-opacity="0.2"/>
<path d="M1336 158.9A402.2 402.2 0 0 0 1052.4 285.2L1247.5 469A134.2 134.2 0 0 1 1342.1 426.9Z" fill="#ff0000" fill-opacity="0.2"/>
<path d="M1217.4 210.1A373.4 373.4 0 0 0 1074.2 304L1215.3 437.9A178.9 178.9 0 0 1 1283.9 392.9Z" fill="#ff0000" fill-opacity="0.2"/>
<path d="M1204.3 247.6A343.6 343.6 0 0 0 1131.7 291.7L1206.2 385.8A223.6 223.6 0 0 1 1253.4 357Z" fill="#ff0000" fill-opacity="0.2"/>
<path d="M1068.9 356.6A343.6 343.6 0 0 0 1061.6 366.9L1160.6 434.7A223.6 223.6 0 0 1 1165.4 428Z" fill="#008000" fill-opacity="0.2"/>
<path d="M1001.6 569.4A343.6 343.6 0 0 0 1078.1 777.2L1171.3 701.7A223.6 223.6 0 0 1 1121.6 566.5Z" fill="#ff0000" fill-opacity="0.2"/>
<path d="M1091 792.2A343.6 343.6 0 0 0 1113.4 814.7L1194.3 726.1A223.6 223.6 0 0 1 1179.7 711.5Z" fill="#ff0000" fill-opacity="0.2"/>
<path d="M1746.9 543.5A402.2 402.2 0 0 0 1718 410.3L1469.5 510.7A134.2 134.2 0 0 1 1479.1 555.1Z" fill="#ff0000" fill-opacity="0.2"/>
<path d="M1716.1 518.7A373.4 373.4 0 0 0 1711.3 487.8L1520.5 525.9A178.9 178.9 0 0 1 1522.8 540.8Z" fill="#ff0000" fill-opacity="0.2"/>
<path d="M1686.4 521.5A343.6 343.6 0 0 0 1682.2 494.3L1564.4 517.6A223.6 223.6 0 0 1 1567.2 535.3Z" fill="#ff0000" fill-opacity="0.2"/>
<path d="M1711.4 488.5A373.4 373.4 0 0 0 1704.9 461.2L1517.5 513.2A178.9 178.9 0 0 1 1520.6 526.3Z" fill="#008000" fill-opacity="0.2"/>
<path d="M1514.8 262.2A343.6 343.6 0 0 0 1448.4 233.3L1412.3 347.7A223.6 223.6 0 0 1 1455.5 366.6Z" fill="#ff0000" fill-opacity="0.2"/>
<path d="M1425.3 226.9A343.6 343.6 0 0 0 1402.4 222.2L1382.4 340.5A223.6 223.6 0 0 1 1397.3 343.6Z" fill="#008000" fill-opacity="0.2"/>
<path d="M1464.3 974.1A430 430 0 0 0 1501.3 961.6L1377.6 644.3A89.4 89.4 0 0 1 1369.9 646.9Z" fill="#008000" fill-opacity="0.2"/>
<path d="M1458 947A402.2 402.2 0 0 0 1490.5 936L1393.6 686.1A134.2 134.2 0 0 1 1382.8 689.8Z" fill="#008000" fill-opacity="0.2"/>
<path d="M1450.5 919.2A373.4 373.4 0 0 0 1479.5 909.4L1409.5 727.9A178.9 178.9 0 0 1 1395.6 732.6Z" fill="#008000" fill-opacity="0.2"/>
<path d="M1506.9 959.4A430 430 0 0 0 1763.4 660.7L1432.1 581.7A89.4 89.4 0 0 1 1378.7 643.9Z" fill="#008000" fill-opacity="0.2"/>
<path d="M1655 817.4A402.2 402.2 0 0 0 1736.2 654.9L1475.6 592.3A134.2 134.2 0 0 1 1448.5 646.5Z" fill="#008000" fill-opacity="0.2"/>
<path d="M1646 782.1A373.4 373.4 0 0 0 1696.6 686.9L1513.5 621.3A178.9 178.9 0 0 1 1489.3 666.9Z" fill="#008000" fill-opacity="0.2"/>
<path d="M1660 698.6A343.6 343.6 0 0 0 1668.2 678L1555.3 637.1A223.6 223.6 0 0 1 1550 650.5Z" fill="#008000" fill-opacity="0.2"/>
<path d="M1621.7 764.9A343.6 343.6 0 0 0 1654.7 710L1546.6 658A223.6 223.6 0 0 1 1525.1 693.7Z" fill="#008000" fill-opacity="0.2"/>
<path d="M1615.3 859A402.2 402.2 0 0 0 1648.2 825.4L1446.2 649.2A134.2 134.2 0 0 1 1435.2 660.4Z" fill="#008000" fill-opacity="0.2"/>
<path d="M1595.9 837.6A373.4 373.4 0 0 0 1616.4 817.6L1475.1 683.9A178.9 178.9 0 0 1 1465.3 693.5Z" fill="#008000" fill-opacity="0.2"/>
<path d="M1575.9 815.5A343.6 343.6 0 0 0 1595.2 796.6L1507.8 714.3A223.6 223.6 0 0 1 1495.3 726.6Z" fill="#008000" fill-opacity="0.2"/>
<g fill="none" stroke-linecap="butt">
<path d="M1389.8 561L1434.5 560.9" stroke="#000" stroke-width="1.6"/>
<path d="M1389.8 561L1434.5 558.7" stroke="#000" stroke-width="1.6"/>
<path d="M1434.5 560.9L1479.3 560.8" stroke="#000" stroke-width="1.7"/>
<path d="M1479.3 560.8L1524 560.8" stroke="#000" stroke-width="1.7"/>
<path d="M1524 560.8L1568.7 560.7" stroke="#000" stroke-width="1.7"/>
<path d="M1568.7 560.7L1613.4 560.6" stroke="#000" stroke-width="1.7"/>
<path d="M1613.4 560.6L1658.1 560.6" stroke="#000" stroke-width="1.7"/>
<path d="M1434.5 558.7L1479.2 557.5" stroke="#000" stroke-width="1.7"/>
<path d="M1479.2 557.5L1523.9 556.3" stroke="#000" stroke-width="1.7"/>
<path d="M1523.9 556.3L1568.6 555.1" stroke="#000" stroke-width="1.7"/>
<path d="M1568.6 555.1L1613.3 554" stroke="#000" stroke-width="1.7"/>
<path d="M1613.3 554L1658 552.8" stroke="#000" stroke-width="1.7"/>
<path d="M1300.4 561L1255.7 561" stroke="#000" stroke-width="2.3"/>
<path d="M1404.8 729.6L1416.8 772.8" stroke="#000" stroke-width="2.3"/>
<path d="M1416.8 772.8L1431.1 815.2" stroke="#000" stroke-width="2.3"/>
<path d="M1422.2 818L1435.1 860.8" stroke="#000" stroke-width="2.3"/>
<path d="M1431.1 815.2L1439.1 859.6" stroke="#000" stroke-width="2.3"/>
<path d="M1431.1 815.2L1442.3 858.6" stroke="#000" stroke-width="2.3"/>
<path d="M1431.1 815.2L1445.5 857.5" stroke="#000" stroke-width="2.3"/>
<path d="M1431.1 815.2L1448.6 856.4" stroke="#000" stroke-width="2.3"/>
<path d="M1431.1 815.2L1451.8 855.3" stroke="#000" stroke-width="2.3"/>
<path d="M1439.9 812L1455.8 853.8" stroke="#000" stroke-width="2.3"/>
<path d="M1413.8 618.3L1448.2 646.9" stroke="#000" stroke-width="2.3"/>
<path d="M1407.7 679.7L1428.5 719.2" stroke="#000" stroke-width="2.3"/>
<path d="M1415.4 725.5L1432.9 766.6" stroke="#000" stroke-width="2.3"/>
<path d="M1431 767.4L1448.2 808.7" stroke="#000" stroke-width="2.3"/>
<path d="M1448.2 808.7L1465.4 850" stroke="#000" stroke-width="2.3"/>
<path d="M1433.2 766.5L1450.8 807.6" stroke="#000" stroke-width="2.3"/>
<path d="M1450.8 807.6L1468.4 848.7" stroke="#000" stroke-width="2.3"/>
<path d="M1435.1 765.7L1453.1 806.6" stroke="#000" stroke-width="2.3"/>
<path d="M1453.1 806.6L1471.1 847.6" stroke="#000" stroke-width="2.3"/>
<path d="M1419.3 723.8L1437.9 764.4" stroke="#000" stroke-width="2.3"/>
<path d="M1437.9 764.4L1456.4 805.1" stroke="#000" stroke-width="2.3"/>
<path d="M1456.4 805.1L1475 845.8" stroke="#000" stroke-width="2.3"/>
<path d="M1427.9 719.5L1448.7 759.2" stroke="#000" stroke-width="2.3"/>
<path d="M1440.9 763L1460.1 803.4" stroke="#000" stroke-width="2.3"/>
<path d="M1460.1 803.4L1479.2 843.9" stroke="#000" stroke-width="2.3"/>
<path d="M1443.8 761.6L1463.6 801.7" stroke="#000" stroke-width="2.3"/>
<path d="M1463.6 801.7L1483.3 841.9" stroke="#000" stroke-width="2.3"/>
<path d="M1447.1 760L1467.4 799.8" stroke="#000" stroke-width="2.3"/>
<path d="M1467.4 799.8L1487.8 839.6" stroke="#000" stroke-width="2.3"/>
<path d="M1450.3 758.3L1471.3 797.8" stroke="#000" stroke-width="2.3"/>
<path d="M1471.3 797.8L1492.3 837.3" stroke="#000" stroke-width="2.3"/>
<path d="M1453.1 756.8L1474.7 795.9" stroke="#000" stroke-width="2.3"/>
<path d="M1474.7 795.9L1496.3 835.1" stroke="#000" stroke-width="2.3"/>
<path d="M1455.7 755.3L1477.8 794.2" stroke="#000" stroke-width="2.3"/>
<path d="M1477.8 794.2L1500 833.1" stroke="#000" stroke-width="2.3"/>
<path d="M1437.9 713.9L1461.1 752.1" stroke="#000" stroke-width="2.3"/>
<path d="M1458.7 753.6L1481.4 792.1" stroke="#000" stroke-width="2.3"/>
<path d="M1481.4 792.1L1504.2 830.6" stroke="#000" stroke-width="2.3"/>
<path d="M1461.3 752L1484.6 790.2" stroke="#000" stroke-width="2.3"/>
<path d="M1484.6 790.2L1507.8 828.4" stroke="#000" stroke-width="2.3"/>
<path d="M1463.7 750.5L1487.5 788.4" stroke="#000" stroke-width="2.3"/>
<path d="M1487.5 788.4L1511.2 826.4" stroke="#000" stroke-width="2.3"/>
<path d="M1426.6 667.5L1453.8 703" stroke="#000" stroke-width="2.3"/>
<path d="M1449.3 706.4L1475.4 742.7" stroke="#000" stroke-width="2.3"/>
<path d="M1468.3 747.6L1493 784.9" stroke="#000" stroke-width="2.3"/>
<path d="M1493 784.9L1517.6 822.2" stroke="#000" stroke-width="2.3"/>
<path d="M1473.8 743.8L1499.6 780.4" stroke="#000" stroke-width="2.3"/>
<path d="M1497.5 781.8L1523 818.6" stroke="#000" stroke-width="2.3"/>
<path d="M1501.6 778.9L1527.7 815.3" stroke="#000" stroke-width="2.3"/>
<path d="M1478.3 740.6L1505 776.5" stroke="#000" stroke-width="2.3"/>
<path d="M1505 776.5L1531.6 812.4" stroke="#000" stroke-width="2.3"/>
<path d="M1481.8 737.9L1509.1 773.3" stroke="#000" stroke-width="2.3"/>
<path d="M1507.7 774.4L1534.8 810" stroke="#000" stroke-width="2.3"/>
<path d="M1510.6 772.2L1538.1 807.4" stroke="#000" stroke-width="2.3"/>
<path d="M1458.2 699.6L1486.5 734.2" stroke="#000" stroke-width="2.3"/>
<path d="M1485.5 735L1513.6 769.8" stroke="#000" stroke-width="2.3"/>
<path d="M1513.6 769.8L1541.7 804.6" stroke="#000" stroke-width="2.3"/>
<path d="M1487.8 733.1L1516.4 767.6" stroke="#000" stroke-width="2.3"/>
<path d="M1516.4 767.6L1544.9 802" stroke="#000" stroke-width="2.3"/>
<path d="M1462.2 696.2L1491.5 730" stroke="#000" stroke-width="2.3"/>
<path d="M1490.5 730.9L1519.6 764.9" stroke="#000" stroke-width="2.3"/>
<path d="M1519.6 764.9L1548.6 798.8" stroke="#000" stroke-width="2.3"/>
<path d="M1493.1 728.6L1522.7 762.1" stroke="#000" stroke-width="2.3"/>
<path d="M1522.7 762.1L1552.4 795.6" stroke="#000" stroke-width="2.3"/>
<path d="M1441.4 654.4L1473.4 685.6" stroke="#000" stroke-width="2.3"/>
<path d="M1501.5 720.8L1532.8 752.7" stroke="#000" stroke-width="2.3"/>
<path d="M1527.6 757.7L1558 790.5" stroke="#000" stroke-width="2.3"/>
<path d="M1535.1 750.5L1566.7 782.1" stroke="#000" stroke-width="2.3"/>
<path d="M1538.2 747.3L1570.4 778.4" stroke="#000" stroke-width="2.3"/>
<path d="M1475.9 683L1508.6 713.5" stroke="#000" stroke-width="2.3"/>
<path d="M1508.6 713.5L1541.3 744" stroke="#000" stroke-width="2.3"/>
<path d="M1541.3 744L1574 774.5" stroke="#000" stroke-width="2.3"/>
<path d="M1478.3 680.3L1511.7 710.2" stroke="#000" stroke-width="2.3"/>
<path d="M1510.9 711L1544.1 741" stroke="#000" stroke-width="2.3"/>
<path d="M1544.1 741L1577.3 771" stroke="#000" stroke-width="2.3"/>
<path d="M1512.6 709.1L1546.1 738.7" stroke="#000" stroke-width="2.3"/>
<path d="M1546.1 738.7L1579.6 768.4" stroke="#000" stroke-width="2.3"/>
<path d="M1447.3 647.9L1481.4 676.8" stroke="#000" stroke-width="2.3"/>
<path d="M1481.4 676.8L1515.5 705.8" stroke="#000" stroke-width="2.3"/>
<path d="M1514.6 706.8L1548.5 736" stroke="#000" stroke-width="2.3"/>
<path d="M1548.5 736L1582.4 765.1" stroke="#000" stroke-width="2.3"/>
<path d="M1516.8 704.3L1551.1 732.9" stroke="#000" stroke-width="2.3"/>
<path d="M1551.1 732.9L1585.4 761.6" stroke="#000" stroke-width="2.3"/>
<path d="M1465.7 619.8L1505.9 639.4" stroke="#000" stroke-width="2.3"/>
<path d="M1486.3 670.9L1521.5 698.4" stroke="#000" stroke-width="2.3"/>
<path d="M1519.9 700.5L1554.8 728.4" stroke="#000" stroke-width="2.3"/>
<path d="M1553.5 730L1588.2 758.2" stroke="#000" stroke-width="2.3"/>
<path d="M1556.1 726.7L1591.3 754.3" stroke="#000" stroke-width="2.3"/>
<path d="M1522.8 696.8L1558.3 723.9" stroke="#000" stroke-width="2.3"/>
<path d="M1558.3 723.9L1593.8 751.1" stroke="#000" stroke-width="2.3"/>
<path d="M1524.4 694.6L1560.3 721.3" stroke="#000" stroke-width="2.3"/>
<path d="M1560.3 721.3L1596.1 748" stroke="#000" stroke-width="2.3"/>
<path d="M1503.4 644.2L1543 665" stroke="#000" stroke-width="2.3"/>
<path d="M1537.6 674.8L1576.1 697.6" stroke="#000" stroke-width="2.3"/>
<path d="M1562.6 718.1L1598.8 744.3" stroke="#000" stroke-width="2.3"/>
<path d="M1565 714.7L1601.7 740.3" stroke="#000" stroke-width="2.3"/>
<path d="M1567.4 711.2L1604.5 736.3" stroke="#000" stroke-width="2.3"/>
<path d="M1574 701L1606.4 733.3" stroke="#000" stroke-width="2.3"/>
<path d="M1574 701L1607.7 731.4" stroke="#000" stroke-width="2.3"/>
<path d="M1574 701L1608.9 729.5" stroke="#000" stroke-width="2.3"/>
<path d="M1574 701L1610.2 727.5" stroke="#000" stroke-width="2.3"/>
<path d="M1574 701L1611.4 725.6" stroke="#000" stroke-width="2.3"/>
<path d="M1574 701L1612.6 723.6" stroke="#000" stroke-width="2.3"/>
<path d="M1574 701L1613.8 721.7" stroke="#000" stroke-width="2.3"/>
<path d="M1574 701L1614.9 719.7" stroke="#000" stroke-width="2.3"/>
<path d="M1574 701L1616.1 717.7" stroke="#000" stroke-width="2.3"/>
<path d="M1574 701L1617.2 715.7" stroke="#000" stroke-width="2.3"/>
<path d="M1579.5 691.6L1618.6 713.4" stroke="#000" stroke-width="2.3"/>
<path d="M1581.6 687.7L1621 708.8" stroke="#000" stroke-width="2.3"/>
<path d="M1583.7 683.8L1623.5 704.2" stroke="#000" stroke-width="2.3"/>
<path d="M1585.7 679.8L1625.8 699.6" stroke="#000" stroke-width="2.3"/>
<path d="M1547.7 655.5L1588.3 674.4" stroke="#000" stroke-width="2.3"/>
<path d="M1587.5 676.1L1627.9 695.3" stroke="#000" stroke-width="2.3"/>
<path d="M1589 672.7L1629.7 691.4" stroke="#000" stroke-width="2.3"/>
<path d="M1549.6 651.4L1590.5 669.5" stroke="#000" stroke-width="2.3"/>
<path d="M1590.5 669.5L1631.4 687.6" stroke="#000" stroke-width="2.3"/>
<path d="M1553.1 642.9L1594.7 659.3" stroke="#000" stroke-width="2.3"/>
<path d="M1594.5 660L1636.1 676.5" stroke="#000" stroke-width="2.3"/>
<path d="M1596.3 655.2L1638.2 670.9" stroke="#000" stroke-width="2.3"/>
<path d="M1514 619.9L1556.2 634.7" stroke="#000" stroke-width="2.3"/>
<path d="M1556.2 634.7L1598.4 649.4" stroke="#000" stroke-width="2.3"/>
<path d="M1598.4 649.4L1640.7 664.1" stroke="#000" stroke-width="2.3"/>
<path d="M1515.1 616.8L1557.6 630.7" stroke="#000" stroke-width="2.3"/>
<path d="M1557.6 630.7L1600.1 644.6" stroke="#000" stroke-width="2.3"/>
<path d="M1600.1 644.6L1642.5 658.6" stroke="#000" stroke-width="2.3"/>
<path d="M1516.3 613L1559.1 626" stroke="#000" stroke-width="2.3"/>
<path d="M1559.1 626L1601.8 639" stroke="#000" stroke-width="2.3"/>
<path d="M1601.3 640.7L1644 654" stroke="#000" stroke-width="2.3"/>
<path d="M1602.4 637.2L1645.2 649.9" stroke="#000" stroke-width="2.3"/>
<path d="M1517.4 609.2L1560.4 621.2" stroke="#000" stroke-width="2.3"/>
<path d="M1560.4 621.2L1603.5 633.2" stroke="#000" stroke-width="2.3"/>
<path d="M1603.5 633.2L1646.6 645.3" stroke="#000" stroke-width="2.3"/>
<path d="M1518.4 605.4L1561.7 616.5" stroke="#000" stroke-width="2.3"/>
<path d="M1561.5 617.3L1604.8 628.6" stroke="#000" stroke-width="2.3"/>
<path d="M1604.8 628.6L1648.1 639.8" stroke="#000" stroke-width="2.3"/>
<path d="M1562.2 614.4L1605.6 625.1" stroke="#000" stroke-width="2.3"/>
<path d="M1605.6 625.1L1649.1 635.8" stroke="#000" stroke-width="2.3"/>
<path d="M1432.4 580.4L1476.1 590" stroke="#000" stroke-width="1.7"/>
<path d="M1476.1 590L1519.7 599.7" stroke="#000" stroke-width="1.7"/>
<path d="M1519.7 599.7L1563.4 609.4" stroke="#000" stroke-width="1.7"/>
<path d="M1563.4 609.4L1607.2 618.6" stroke="#000" stroke-width="2.3"/>
<path d="M1432.8 578.5L1476.7 587.3" stroke="#000" stroke-width="1.7"/>
<path d="M1476.7 587.3L1520.5 596.1" stroke="#000" stroke-width="1.7"/>
<path d="M1520.5 596.1L1564.4 604.8" stroke="#000" stroke-width="1.7"/>
<path d="M1564.4 604.8L1608.2 613.6" stroke="#000" stroke-width="1.7"/>
<path d="M1608.2 613.6L1652.1 622.3" stroke="#000" stroke-width="1.7"/>
<path d="M1433.2 576.3L1477.3 584" stroke="#000" stroke-width="1.7"/>
<path d="M1477.3 584L1521.3 591.7" stroke="#000" stroke-width="1.7"/>
<path d="M1521.3 591.7L1565.4 599.4" stroke="#000" stroke-width="1.7"/>
<path d="M1565.4 599.4L1609.4 607" stroke="#000" stroke-width="1.7"/>
<path d="M1609.4 607L1653.5 614.7" stroke="#000" stroke-width="1.7"/>
<path d="M1433.6 574.2L1477.8 580.7" stroke="#000" stroke-width="1.7"/>
<path d="M1477.8 580.7L1522 587.3" stroke="#000" stroke-width="1.7"/>
<path d="M1522 587.3L1566.3 593.9" stroke="#000" stroke-width="1.7"/>
<path d="M1566.3 593.9L1610.5 600.5" stroke="#000" stroke-width="1.7"/>
<path d="M1610.5 600.5L1654.7 607" stroke="#000" stroke-width="1.7"/>
<path d="M1433.9 572L1478.3 577.4" stroke="#000" stroke-width="1.7"/>
<path d="M1478.3 577.4L1522.6 582.9" stroke="#000" stroke-width="1.7"/>
<path d="M1522.6 582.9L1567 588.4" stroke="#000" stroke-width="1.7"/>
<path d="M1567 588.4L1611.4 593.9" stroke="#000" stroke-width="1.7"/>
<path d="M1611.4 593.9L1655.8 599.3" stroke="#000" stroke-width="1.7"/>
<path d="M1434.1 569.7L1478.6 574.1" stroke="#000" stroke-width="1.7"/>
<path d="M1478.6 574.1L1523.1 578.5" stroke="#000" stroke-width="1.7"/>
<path d="M1523.1 578.5L1567.6 582.9" stroke="#000" stroke-width="1.7"/>
<path d="M1567.6 582.9L1612.1 587.2" stroke="#000" stroke-width="1.7"/>
<path d="M1612.1 587.2L1656.6 591.6" stroke="#000" stroke-width="1.7"/>
<path d="M1434.3 567.5L1478.9 570.8" stroke="#000" stroke-width="1.7"/>
<path d="M1478.9 570.8L1523.5 574.1" stroke="#000" stroke-width="1.7"/>
<path d="M1523.5 574.1L1568.1 577.3" stroke="#000" stroke-width="1.7"/>
<path d="M1568.1 577.3L1612.7 580.6" stroke="#000" stroke-width="1.7"/>
<path d="M1612.7 580.6L1657.3 583.9" stroke="#000" stroke-width="1.7"/>
<path d="M1434.4 565.3L1479.1 567.5" stroke="#000" stroke-width="1.7"/>
<path d="M1479.1 567.5L1523.8 569.6" stroke="#000" stroke-width="1.7"/>
<path d="M1523.8 569.6L1568.4 571.8" stroke="#000" stroke-width="1.7"/>
<path d="M1568.4 571.8L1613.1 574" stroke="#000" stroke-width="1.7"/>
<path d="M1613.1 574L1657.8 576.1" stroke="#000" stroke-width="1.7"/>
<path d="M1434.5 563.1L1479.2 564.1" stroke="#000" stroke-width="1.7"/>
<path d="M1479.2 564.1L1523.9 565.2" stroke="#000" stroke-width="1.7"/>
<path d="M1523.9 565.2L1568.6 566.2" stroke="#000" stroke-width="1.7"/>
<path d="M1568.6 566.2L1613.3 567.3" stroke="#000" stroke-width="1.7"/>
<path d="M1613.3 567.3L1658.1 568.3" stroke="#000" stroke-width="1.7"/>
<path d="M1430.6 534.9L1473.4 521.8" stroke="#000" stroke-width="2.3"/>
<path d="M1475.9 531.2L1519.5 521.2" stroke="#000" stroke-width="2.3"/>
<path d="M1523.3 545.1L1567.8 541.5" stroke="#000" stroke-width="2.3"/>
<path d="M1567.8 541.5L1612.4 537.6" stroke="#000" stroke-width="2.3"/>
<path d="M1613 546.6L1657.7 544.2" stroke="#000" stroke-width="2.3"/>
<path d="M1612.8 542.2L1657.4 539" stroke="#000" stroke-width="2.3"/>
<path d="M1612.2 535.5L1657.1 535.4" stroke="#000" stroke-width="2.3"/>
<path d="M1612.2 535.5L1656.7 531.3" stroke="#000" stroke-width="2.3"/>
<path d="M1612.2 535.5L1656.3 527.1" stroke="#000" stroke-width="2.3"/>
<path d="M1565.8 525L1610.4 520.6" stroke="#000" stroke-width="2.3"/>
<path d="M1610.4 520.6L1655.1 517.4" stroke="#000" stroke-width="2.3"/>
<path d="M1610.4 520.6L1654.7 515" stroke="#000" stroke-width="2.3"/>
<path d="M1610.4 520.6L1654.4 512.6" stroke="#000" stroke-width="2.3"/>
<path d="M1610.4 520.6L1654 510.1" stroke="#000" stroke-width="2.3"/>
<path d="M1610.4 520.6L1653.6 507.7" stroke="#000" stroke-width="2.3"/>
<path d="M1610.4 520.6L1653.1 505.3" stroke="#000" stroke-width="2.3"/>
<path d="M1610.4 520.6L1652.7 502.9" stroke="#000" stroke-width="2.3"/>
<path d="M1518.7 517.7L1562.8 509.9" stroke="#000" stroke-width="2.3"/>
<path d="M1562.8 509.9L1606.3 499.7" stroke="#000" stroke-width="2.3"/>
<path d="M1607 502.6L1651.4 496.2" stroke="#000" stroke-width="2.3"/>
<path d="M1607 502.6L1649.9 489.6" stroke="#000" stroke-width="2.3"/>
<path d="M1605.6 496.7L1649 486" stroke="#000" stroke-width="2.3"/>
<path d="M1604.4 492.1L1647.6 480.6" stroke="#000" stroke-width="2.3"/>
<path d="M1516.5 509.9L1559.3 496.7" stroke="#000" stroke-width="2.3"/>
<path d="M1559.3 496.7L1602.1 483.9" stroke="#000" stroke-width="2.3"/>
<path d="M1602.8 486.4L1645.8 473.9" stroke="#000" stroke-width="2.3"/>
<path d="M1601.4 481.4L1644.1 468.2" stroke="#000" stroke-width="2.3"/>
<path d="M1514 502.2L1556.4 487.8" stroke="#000" stroke-width="2.3"/>
<path d="M1556.4 487.8L1598.6 473.2" stroke="#000" stroke-width="2.3"/>
<path d="M1599.5 475.6L1641.9 461.4" stroke="#000" stroke-width="2.3"/>
<path d="M1597.8 470.8L1639.9 455.7" stroke="#000" stroke-width="2.3"/>
<path d="M1511.6 495.7L1553.6 480.3" stroke="#000" stroke-width="2.3"/>
<path d="M1553.6 480.3L1595.3 464.2" stroke="#000" stroke-width="2.3"/>
<path d="M1595.3 464.2L1638.2 451.1" stroke="#000" stroke-width="2.3"/>
<path d="M1595.3 464.2L1635.9 445" stroke="#000" stroke-width="2.3"/>
<path d="M1464.7 500.3L1504.6 480.1" stroke="#000" stroke-width="2.3"/>
<path d="M1507.5 486L1548.1 467.2" stroke="#000" stroke-width="2.3"/>
<path d="M1551 473.9L1592.2 456.4" stroke="#000" stroke-width="2.3"/>
<path d="M1592.9 458L1634.2 440.9" stroke="#000" stroke-width="2.3"/>
<path d="M1591.5 454.8L1632.6 437.1" stroke="#000" stroke-width="2.3"/>
<path d="M1548.7 468.7L1589.5 450.2" stroke="#000" stroke-width="2.3"/>
<path d="M1589.5 450.2L1631.5 434.6" stroke="#000" stroke-width="2.3"/>
<path d="M1589.5 450.2L1628.9 428.9" stroke="#000" stroke-width="2.3"/>
<path d="M1546 462.8L1586.1 443.1" stroke="#000" stroke-width="2.3"/>
<path d="M1587.1 445.1L1627.4 425.8" stroke="#000" stroke-width="2.3"/>
<path d="M1585.2 441.2L1625.2 421.2" stroke="#000" stroke-width="2.3"/>
<path d="M1501.2 473.7L1538.7 449.2" stroke="#000" stroke-width="2.3"/>
<path d="M1538.7 449.2L1577.5 426.8" stroke="#000" stroke-width="2.3"/>
<path d="M1582.6 436.2L1622.2 415.4" stroke="#000" stroke-width="2.3"/>
<path d="M1580.4 432L1619.6 410.5" stroke="#000" stroke-width="2.3"/>
<path d="M1578.1 427.9L1616.9 405.7" stroke="#000" stroke-width="2.3"/>
<path d="M1575.7 423.8L1614.1 400.9" stroke="#000" stroke-width="2.3"/>
<path d="M1572.6 418.7L1612.2 397.8" stroke="#000" stroke-width="2.3"/>
<path d="M1572.6 418.7L1608.7 392.1" stroke="#000" stroke-width="2.3"/>
<path d="M1389.5 483.4L1411.8 444.6" stroke="#000" stroke-width="2.3"/>
<path d="M1419.7 449.5L1444.9 412.5" stroke="#000" stroke-width="2.3"/>
<path d="M1444.9 412.5L1469.8 375.4" stroke="#000" stroke-width="2.3"/>
<path d="M1514.4 414.9L1548.2 385.7" stroke="#000" stroke-width="2.3"/>
<path d="M1550.3 388.2L1607 389.6" stroke="#000" stroke-width="2.3"/>
<path d="M1550.3 388.2L1607 389.6" stroke="#000" stroke-width="2.3"/>
<path d="M1550.3 388.2L1605.8 387.8" stroke="#000" stroke-width="2.3"/>
<path d="M1550.3 388.2L1604.6 386" stroke="#000" stroke-width="2.3"/>
<path d="M1550.3 388.2L1603.4 384.1" stroke="#000" stroke-width="2.3"/>
<path d="M1550.3 388.2L1602.2 382.3" stroke="#000" stroke-width="2.3"/>
<path d="M1550.3 388.2L1600.9 380.6" stroke="#000" stroke-width="2.3"/>
<path d="M1550.3 388.2L1599.6 378.8" stroke="#000" stroke-width="2.3"/>
<path d="M1550.3 388.2L1598.4 377" stroke="#000" stroke-width="2.3"/>
<path d="M1550.3 388.2L1597.1 375.2" stroke="#000" stroke-width="2.3"/>
<path d="M1550.3 388.2L1595.8 373.5" stroke="#000" stroke-width="2.3"/>
<path d="M1550.3 388.2L1594.4 371.7" stroke="#000" stroke-width="2.3"/>
<path d="M1550.3 388.2L1593.8 370.9" stroke="#000" stroke-width="2.3"/>
<path d="M1550.3 388.2L1593.1 370" stroke="#000" stroke-width="2.3"/>
<path d="M1550.3 388.2L1591.8 368.3" stroke="#000" stroke-width="2.3"/>
<path d="M1550.3 388.2L1590.4 366.6" stroke="#000" stroke-width="2.3"/>
<path d="M1550.3 388.2L1589.1 364.8" stroke="#000" stroke-width="2.3"/>
<path d="M1550.3 388.2L1587.7 363.1" stroke="#000" stroke-width="2.3"/>
<path d="M1550.3 388.2L1586.3 361.5" stroke="#000" stroke-width="2.3"/>
<path d="M1550.3 388.2L1584.9 359.8" stroke="#000" stroke-width="2.3"/>
<path d="M1550.3 388.2L1583.5 358.1" stroke="#000" stroke-width="2.3"/>
<path d="M1550.3 388.2L1582.1 356.5" stroke="#000" stroke-width="2.3"/>
<path d="M1550.3 388.2L1580.6 354.8" stroke="#000" stroke-width="2.3"/>
<path d="M1550.3 388.2L1579.2 353.2" stroke="#000" stroke-width="2.3"/>
<path d="M1550.3 388.2L1577.7 351.5" stroke="#000" stroke-width="2.3"/>
<path d="M1550.3 388.2L1577.7 351.5" stroke="#000" stroke-width="2.3"/>
<path d="M1550.3 388.2L1576.3 349.9" stroke="#000" stroke-width="2.3"/>
<path d="M1550.3 388.2L1574.8 348.3" stroke="#000" stroke-width="2.3"/>
<path d="M1550.3 388.2L1573.3 346.7" stroke="#000" stroke-width="2.3"/>
<path d="M1550.3 388.2L1571.8 345.1" stroke="#000" stroke-width="2.3"/>
<path d="M1550.3 388.2L1570.3 343.5" stroke="#000" stroke-width="2.3"/>
<path d="M1550.3 388.2L1568.8 342" stroke="#000" stroke-width="2.3"/>
<path d="M1550.3 388.2L1567.2 340.4" stroke="#000" stroke-width="2.3"/>
<path d="M1550.3 388.2L1565.7 338.9" stroke="#000" stroke-width="2.3"/>
<path d="M1550.3 388.2L1564.1 337.3" stroke="#000" stroke-width="2.3"/>
<path d="M1550.3 388.2L1562.6 335.8" stroke="#000" stroke-width="2.3"/>
<path d="M1550.3 388.2L1561 334.3" stroke="#000" stroke-width="2.3"/>
<path d="M1550.3 388.2L1560.6 333.9" stroke="#000" stroke-width="2.3"/>
<path d="M1550.3 388.2L1559.4 332.8" stroke="#000" stroke-width="2.3"/>
<path d="M1550.3 388.2L1557.8 331.3" stroke="#000" stroke-width="2.3"/>
<path d="M1525.3 362.2L1555.4 329.1" stroke="#000" stroke-width="2.3"/>
<path d="M1487.3 388.5L1515.8 354" stroke="#000" stroke-width="2.3"/>
<path d="M1520.9 358.3L1553 327" stroke="#000" stroke-width="2.3"/>
<path d="M1520.9 358.3L1550.2 324.5" stroke="#000" stroke-width="2.3"/>
<path d="M1520.9 358.3L1547.3 322" stroke="#000" stroke-width="2.3"/>
<path d="M1516.3 354.4L1544.8 319.9" stroke="#000" stroke-width="2.3"/>
<path d="M1482.8 384.8L1510.3 349.6" stroke="#000" stroke-width="2.3"/>
<path d="M1513.2 351.9L1541.3 317" stroke="#000" stroke-width="2.3"/>
<path d="M1510.3 349.6L1537.8 314.3" stroke="#000" stroke-width="2.3"/>
<path d="M1507.3 347.3L1534.4 311.7" stroke="#000" stroke-width="2.3"/>
<path d="M1474 378.3L1499.8 341.7" stroke="#000" stroke-width="2.3"/>
<path d="M1504.3 345L1530.9 309" stroke="#000" stroke-width="2.3"/>
<path d="M1501.3 342.8L1527.3 306.5" stroke="#000" stroke-width="2.3"/>
<path d="M1498.2 340.7L1523.8 303.9" stroke="#000" stroke-width="2.3"/>
<path d="M1466.9 373.5L1491.2 336" stroke="#000" stroke-width="2.3"/>
<path d="M1495.1 338.6L1520.1 301.5" stroke="#000" stroke-width="2.3"/>
<path d="M1492 336.5L1516.5 299.1" stroke="#000" stroke-width="2.3"/>
<path d="M1488.9 334.4L1512.8 296.7" stroke="#000" stroke-width="2.3"/>
<path d="M1459.6 368.9L1482.5 330.5" stroke="#000" stroke-width="2.3"/>
<path d="M1485.7 332.5L1509.1 294.4" stroke="#000" stroke-width="2.3"/>
<path d="M1482.5 330.5L1505.4 292.1" stroke="#000" stroke-width="2.3"/>
<path d="M1479.3 328.6L1501.6 289.9" stroke="#000" stroke-width="2.3"/>
<path d="M1433.9 355.8L1451.7 314.7" stroke="#000" stroke-width="2.3"/>
<path d="M1467.7 322.4L1497.4 287.5" stroke="#000" stroke-width="2.3"/>
<path d="M1467.7 322.4L1494.8 286.1" stroke="#000" stroke-width="2.3"/>
<path d="M1467.7 322.4L1492.2 284.7" stroke="#000" stroke-width="2.3"/>
<path d="M1467.7 322.4L1489.5 283.3" stroke="#000" stroke-width="2.3"/>
<path d="M1467.7 322.4L1486.9 281.9" stroke="#000" stroke-width="2.3"/>
<path d="M1467.7 322.4L1484.2 280.6" stroke="#000" stroke-width="2.3"/>
<path d="M1467.7 322.4L1481.5 279.2" stroke="#000" stroke-width="2.3"/>
<path d="M1467.7 322.4L1478.8 277.9" stroke="#000" stroke-width="2.3"/>
<path d="M1445.2 312L1471.4 274.6" stroke="#000" stroke-width="2.3"/>
<path d="M1445.2 312L1469.5 273.7" stroke="#000" stroke-width="2.3"/>
<path d="M1445.2 312L1467.6 272.9" stroke="#000" stroke-width="2.3"/>
<path d="M1445.2 312L1465.7 272.1" stroke="#000" stroke-width="2.3"/>
<path d="M1445.2 312L1463.7 271.3" stroke="#000" stroke-width="2.3"/>
<path d="M1445.2 312L1461.8 270.5" stroke="#000" stroke-width="2.3"/>
<path d="M1445.2 312L1459.9 269.8" stroke="#000" stroke-width="2.3"/>
<path d="M1445.2 312L1457.9 269" stroke="#000" stroke-width="2.3"/>
<path d="M1445.2 312L1456 268.3" stroke="#000" stroke-width="2.3"/>
<path d="M1445.2 312L1454 267.5" stroke="#000" stroke-width="2.3"/>
<path d="M1445.2 312L1452.1 266.8" stroke="#000" stroke-width="2.3"/>
<path d="M1445.2 312L1450.1 266.1" stroke="#000" stroke-width="2.3"/>
<path d="M1431.1 306.8L1448.3 265.4" stroke="#000" stroke-width="2.3"/>
<path d="M1431.1 306.8L1444.9 264.3" stroke="#000" stroke-width="2.3"/>
<path d="M1431.1 306.8L1441.6 263.2" stroke="#000" stroke-width="2.3"/>
<path d="M1404.5 345.4L1416.4 302.3" stroke="#000" stroke-width="2.3"/>
<path d="M1422.8 304.2L1435.8 261.4" stroke="#000" stroke-width="2.3"/>
<path d="M1418.7 303L1430.9 260" stroke="#000" stroke-width="2.3"/>
<path d="M1414.5 301.8L1426.1 258.6" stroke="#000" stroke-width="2.3"/>
<path d="M1410.3 300.7L1421.2 257.3" stroke="#000" stroke-width="2.3"/>
<path d="M1399.1 298.2L1403.2 253.4" stroke="#000" stroke-width="2.3"/>
<path d="M1399.1 298.2L1400 252.8" stroke="#000" stroke-width="2.3"/>
<path d="M1364.5 428.2L1370.9 384" stroke="#000" stroke-width="1.7"/>
<path d="M1370.9 384L1377.4 339.7" stroke="#000" stroke-width="1.7"/>
<path d="M1377.4 339.7L1383.8 295.5" stroke="#000" stroke-width="1.7"/>
<path d="M1383.8 295.5L1390.3 251.2" stroke="#000" stroke-width="1.7"/>
<path d="M1360.8 427.8L1366 383.3" stroke="#000" stroke-width="1.7"/>
<path d="M1366 383.3L1371.2 338.9" stroke="#000" stroke-width="1.7"/>
<path d="M1371.2 338.9L1376.4 294.5" stroke="#000" stroke-width="1.7"/>
<path d="M1376.4 294.5L1381.6 250.1" stroke="#000" stroke-width="1.7"/>
<path d="M1357.3 427.4L1361.3 382.9" stroke="#000" stroke-width="1.7"/>
<path d="M1361.3 382.9L1365.4 338.3" stroke="#000" stroke-width="1.7"/>
<path d="M1365.4 338.3L1369.4 293.8" stroke="#000" stroke-width="1.7"/>
<path d="M1369.4 293.8L1373.5 249.2" stroke="#000" stroke-width="1.7"/>
<path d="M1354 427.1L1357 382.5" stroke="#000" stroke-width="1.7"/>
<path d="M1357 382.5L1359.9 337.9" stroke="#000" stroke-width="1.7"/>
<path d="M1359.9 337.9L1362.9 293.3" stroke="#000" stroke-width="1.7"/>
<path d="M1362.9 293.3L1365.8 248.6" stroke="#000" stroke-width="1.7"/>
<path d="M1351 427L1352.9 382.3" stroke="#000" stroke-width="1.7"/>
<path d="M1352.9 382.3L1354.9 337.6" stroke="#000" stroke-width="1.7"/>
<path d="M1354.9 337.6L1356.8 292.9" stroke="#000" stroke-width="1.7"/>
<path d="M1356.8 292.9L1358.8 248.3" stroke="#000" stroke-width="1.7"/>
<path d="M1348.1 426.9L1349.2 382.2" stroke="#000" stroke-width="1.7"/>
<path d="M1349.2 382.2L1350.2 337.5" stroke="#000" stroke-width="1.7"/>
<path d="M1350.2 337.5L1351.2 292.7" stroke="#000" stroke-width="1.7"/>
<path d="M1351.2 292.7L1352.2 248" stroke="#000" stroke-width="1.7"/>
<path d="M1345.1 471.6L1345.6 426.8" stroke="#000" stroke-width="1.6"/>
<path d="M1345.1 471.6L1343 426.9" stroke="#000" stroke-width="1.6"/>
<path d="M1345.6 426.8L1345.7 382.1" stroke="#000" stroke-width="1.7"/>
<path d="M1345.7 382.1L1345.9 337.4" stroke="#000" stroke-width="1.7"/>
<path d="M1345.9 337.4L1346 292.7" stroke="#000" stroke-width="1.7"/>
<path d="M1346 292.7L1346.2 248" stroke="#000" stroke-width="1.7"/>
<path d="M1343 426.9L1342.3 382.1" stroke="#000" stroke-width="1.7"/>
<path d="M1342.3 382.1L1341.6 337.4" stroke="#000" stroke-width="1.7"/>
<path d="M1341.6 337.4L1340.9 292.7" stroke="#000" stroke-width="1.7"/>
<path d="M1340.9 292.7L1340.2 248" stroke="#000" stroke-width="1.7"/>
<path d="M1256.9 575.9L1212.8 583.4" stroke="#000" stroke-width="2.3"/>
<path d="M1289.3 439L1270.6 398.4" stroke="#000" stroke-width="2.3"/>
<path d="M1310.4 385.5L1301.7 341.7" stroke="#000" stroke-width="2.3"/>
<path d="M1335.3 337.6L1333.4 292.9" stroke="#000" stroke-width="2.3"/>
<path d="M1335 292.9L1333.4 248.2" stroke="#000" stroke-width="2.3"/>
<path d="M1331.8 293L1329.5 248.3" stroke="#000" stroke-width="2.3"/>
<path d="M1329.6 337.9L1326.5 293.3" stroke="#000" stroke-width="2.3"/>
<path d="M1326.5 293.3L1326.8 248.5" stroke="#000" stroke-width="2.3"/>
<path d="M1326.5 293.3L1320 249" stroke="#000" stroke-width="2.3"/>
<path d="M1324.8 338.3L1320.8 293.8" stroke="#000" stroke-width="2.3"/>
<path d="M1320.8 293.8L1316.7 249.3" stroke="#000" stroke-width="2.3"/>
<path d="M1319.3 338.9L1314.1 294.5" stroke="#000" stroke-width="2.3"/>
<path d="M1316.4 294.2L1311.6 249.8" stroke="#000" stroke-width="2.3"/>
<path d="M1311.9 294.7L1306.3 250.4" stroke="#000" stroke-width="2.3"/>
<path d="M1310.5 340.1L1303.6 295.9" stroke="#000" stroke-width="2.3"/>
<path d="M1307.6 295.3L1301.4 251" stroke="#000" stroke-width="2.3"/>
<path d="M1303.6 295.9L1296.7 251.7" stroke="#000" stroke-width="2.3"/>
<path d="M1299.6 296.6L1292 252.5" stroke="#000" stroke-width="2.3"/>
<path d="M1303.8 341.3L1295.5 297.3" stroke="#000" stroke-width="2.3"/>
<path d="M1295.5 297.3L1287.2 253.4" stroke="#000" stroke-width="2.3"/>
<path d="M1300.3 341.9L1291.4 298.1" stroke="#000" stroke-width="2.3"/>
<path d="M1291.4 298.1L1282.4 254.3" stroke="#000" stroke-width="2.3"/>
<path d="M1294.8 343.1L1284.8 299.6" stroke="#000" stroke-width="2.3"/>
<path d="M1287 299L1277.4 255.4" stroke="#000" stroke-width="2.3"/>
<path d="M1282.5 300.1L1272 256.6" stroke="#000" stroke-width="2.3"/>
<path d="M1288 344.8L1276.6 301.6" stroke="#000" stroke-width="2.3"/>
<path d="M1278.4 301.1L1267.3 257.8" stroke="#000" stroke-width="2.3"/>
<path d="M1274.9 302L1263.1 258.9" stroke="#000" stroke-width="2.3"/>
<path d="M1283.4 346.1L1271 303.1" stroke="#000" stroke-width="2.3"/>
<path d="M1271 303.1L1258.7 260.1" stroke="#000" stroke-width="2.3"/>
<path d="M1280 347.1L1267 304.3" stroke="#000" stroke-width="2.3"/>
<path d="M1267 304.3L1254 261.5" stroke="#000" stroke-width="2.3"/>
<path d="M1275.8 348.4L1262 305.9" stroke="#000" stroke-width="2.3"/>
<path d="M1262 305.9L1248.1 263.4" stroke="#000" stroke-width="2.3"/>
<path d="M1271.7 349.8L1257 307.5" stroke="#000" stroke-width="2.3"/>
<path d="M1257 307.5L1242.4 265.3" stroke="#000" stroke-width="2.3"/>
<path d="M1246.4 411.8L1221.7 374.5" stroke="#000" stroke-width="2.3"/>
<path d="M1266.1 351.8L1250.3 310" stroke="#000" stroke-width="2.3"/>
<path d="M1250.3 310L1234.4 268.2" stroke="#000" stroke-width="2.3"/>
<path d="M1258.5 354.9L1241.1 313.6" stroke="#000" stroke-width="2.3"/>
<path d="M1245.7 311.8L1229.2 270.2" stroke="#000" stroke-width="2.3"/>
<path d="M1238.8 314.6L1225.4 271.7" stroke="#000" stroke-width="2.3"/>
<path d="M1238.8 314.6L1221.1 273.6" stroke="#000" stroke-width="2.3"/>
<path d="M1238.8 314.6L1216.8 275.4" stroke="#000" stroke-width="2.3"/>
<path d="M1228.3 370.3L1204.9 332.2" stroke="#000" stroke-width="2.3"/>
<path d="M1232.4 317.5L1213.6 276.9" stroke="#000" stroke-width="2.3"/>
<path d="M1228.7 319.2L1209.3 278.9" stroke="#000" stroke-width="2.3"/>
<path d="M1225.1 321L1205.1 281" stroke="#000" stroke-width="2.3"/>
<path d="M1207.3 330.8L1203 282.1" stroke="#000" stroke-width="2.3"/>
<path d="M1207.3 330.8L1200.7 283.3" stroke="#000" stroke-width="2.3"/>
<path d="M1207.3 330.8L1198.4 284.5" stroke="#000" stroke-width="2.3"/>
<path d="M1207.3 330.8L1196.2 285.7" stroke="#000" stroke-width="2.3"/>
<path d="M1207.3 330.8L1193.9 286.9" stroke="#000" stroke-width="2.3"/>
<path d="M1207.3 330.8L1191.7 288.1" stroke="#000" stroke-width="2.3"/>
<path d="M1207.3 330.8L1189.4 289.4" stroke="#000" stroke-width="2.3"/>
<path d="M1207.3 330.8L1187.2 290.7" stroke="#000" stroke-width="2.3"/>
<path d="M1207.3 330.8L1185 292" stroke="#000" stroke-width="2.3"/>
<path d="M1207.3 330.8L1182.8 293.3" stroke="#000" stroke-width="2.3"/>
<path d="M1207.3 330.8L1180.6 294.7" stroke="#000" stroke-width="2.3"/>
<path d="M1207.3 330.8L1176.2 297.4" stroke="#000" stroke-width="2.3"/>
<path d="M1207.3 330.8L1174.1 298.8" stroke="#000" stroke-width="2.3"/>
<path d="M1207.3 330.8L1171.9 300.2" stroke="#000" stroke-width="2.3"/>
<path d="M1207.3 330.8L1169.8 301.7" stroke="#000" stroke-width="2.3"/>
<path d="M1207.3 330.8L1167.7 303.1" stroke="#000" stroke-width="2.3"/>
<path d="M1207.3 330.8L1165.5 304.6" stroke="#000" stroke-width="2.3"/>
<path d="M1189.4 342.4L1163.5 306" stroke="#000" stroke-width="2.3"/>
<path d="M1185.1 345.6L1160.9 307.9" stroke="#000" stroke-width="2.3"/>
<path d="M1185.1 345.6L1156.1 311.5" stroke="#000" stroke-width="2.3"/>
<path d="M1180.9 348.8L1153.5 313.5" stroke="#000" stroke-width="2.3"/>
<path d="M1202 389.2L1173.3 354.9" stroke="#000" stroke-width="2.3"/>
<path d="M1175 353.5L1149.2 316.9" stroke="#000" stroke-width="2.3"/>
<path d="M1175 353.5L1144.1 321" stroke="#000" stroke-width="2.3"/>
<path d="M1169.6 358L1142.8 322.1" stroke="#000" stroke-width="2.3"/>
<path d="M1169.6 358L1137.9 326.4" stroke="#000" stroke-width="2.3"/>
<path d="M1190.3 399.6L1159.4 367.3" stroke="#000" stroke-width="2.3"/>
<path d="M1164.6 362.5L1134.5 329.4" stroke="#000" stroke-width="2.3"/>
<path d="M1161.2 365.6L1130.5 333.1" stroke="#000" stroke-width="2.3"/>
<path d="M1157.1 369.6L1128 335.4" stroke="#000" stroke-width="2.3"/>
<path d="M1157.1 369.6L1123.5 339.9" stroke="#000" stroke-width="2.3"/>
<path d="M1153 373.6L1121 342.4" stroke="#000" stroke-width="2.3"/>
<path d="M1215.7 596.4L1172.6 608.2" stroke="#000" stroke-width="2.3"/>
<path d="M1171.8 605.5L1128.5 616.6" stroke="#000" stroke-width="2.3"/>
<path d="M1174.1 417L1139.9 388.2" stroke="#000" stroke-width="2.3"/>
<path d="M1146.6 380.4L1113.6 350.3" stroke="#000" stroke-width="2.3"/>
<path d="M1137.5 391.1L1110.7 353.5" stroke="#000" stroke-width="2.3"/>
<path d="M1137.5 391.1L1108.7 355.8" stroke="#000" stroke-width="2.3"/>
<path d="M1137.5 391.1L1106.7 358.1" stroke="#000" stroke-width="2.3"/>
<path d="M1137.5 391.1L1104.8 360.4" stroke="#000" stroke-width="2.3"/>
<path d="M1137.5 391.1L1102.9 362.7" stroke="#000" stroke-width="2.3"/>
<path d="M1137.5 391.1L1100.9 365.1" stroke="#000" stroke-width="2.3"/>
<path d="M1137.5 391.1L1099.1 367.5" stroke="#000" stroke-width="2.3"/>
<path d="M1137.5 391.1L1097.2 369.8" stroke="#000" stroke-width="2.3"/>
<path d="M1137.5 391.1L1095.4 372.3" stroke="#000" stroke-width="2.3"/>
<path d="M1145.7 459.8L1105.8 439.6" stroke="#000" stroke-width="2.3"/>
<path d="M1116.1 421.2L1085.3 386.3" stroke="#000" stroke-width="2.3"/>
<path d="M1116.1 421.2L1083.6 388.9" stroke="#000" stroke-width="2.3"/>
<path d="M1116.1 421.2L1082 391.4" stroke="#000" stroke-width="2.3"/>
<path d="M1116.1 421.2L1080.3 394" stroke="#000" stroke-width="2.3"/>
<path d="M1116.1 421.2L1078.7 396.6" stroke="#000" stroke-width="2.3"/>
<path d="M1116.1 421.2L1077.1 399.2" stroke="#000" stroke-width="2.3"/>
<path d="M1116.1 421.2L1075.6 401.8" stroke="#000" stroke-width="2.3"/>
<path d="M1116.1 421.2L1074 404.4" stroke="#000" stroke-width="2.3"/>
<path d="M1116.1 421.2L1072.5 407.1" stroke="#000" stroke-width="2.3"/>
<path d="M1116.1 421.2L1071 409.7" stroke="#000" stroke-width="2.3"/>
<path d="M1108.4 434.6L1069 413.5" stroke="#000" stroke-width="2.3"/>
<path d="M1106.2 438.8L1066.4 418.4" stroke="#000" stroke-width="2.3"/>
<path d="M1100.1 451.6L1064.5 422.3" stroke="#000" stroke-width="2.3"/>
<path d="M1100.1 451.6L1063.1 425" stroke="#000" stroke-width="2.3"/>
<path d="M1100.1 451.6L1061.8 427.8" stroke="#000" stroke-width="2.3"/>
<path d="M1100.1 451.6L1060.5 430.6" stroke="#000" stroke-width="2.3"/>
<path d="M1100.1 451.6L1059.2 433.4" stroke="#000" stroke-width="2.3"/>
<path d="M1100.1 451.6L1058 436.2" stroke="#000" stroke-width="2.3"/>
<path d="M1100.1 451.6L1056.8 439.1" stroke="#000" stroke-width="2.3"/>
<path d="M1100.1 451.6L1055.6 441.9" stroke="#000" stroke-width="2.3"/>
<path d="M1100.1 451.6L1054.4 444.8" stroke="#000" stroke-width="2.3"/>
<path d="M1094.6 464.8L1052.9 448.8" stroke="#000" stroke-width="2.3"/>
<path d="M1131.8 493.8L1090.2 477.2" stroke="#000" stroke-width="2.3"/>
<path d="M1090.2 477.2L1050.8 454.3" stroke="#000" stroke-width="2.3"/>
<path d="M1090.2 477.2L1049.7 457.3" stroke="#000" stroke-width="2.3"/>
<path d="M1090.2 477.2L1048.7 460.3" stroke="#000" stroke-width="2.3"/>
<path d="M1090.2 477.2L1047.7 463.2" stroke="#000" stroke-width="2.3"/>
<path d="M1090.2 477.2L1046.8 466.2" stroke="#000" stroke-width="2.3"/>
<path d="M1090.2 477.2L1045.8 469.2" stroke="#000" stroke-width="2.3"/>
<path d="M1090.2 477.2L1044.9 472.2" stroke="#000" stroke-width="2.3"/>
<path d="M1128.9 503.9L1085.7 492.5" stroke="#000" stroke-width="2.3"/>
<path d="M1086.6 489L1043.6 476.9" stroke="#000" stroke-width="2.3"/>
<path d="M1085.6 492.8L1042.3 481.4" stroke="#000" stroke-width="2.3"/>
<path d="M1084.6 496.7L1041.2 485.9" stroke="#000" stroke-width="2.3"/>
<path d="M1083.7 500.5L1040.1 490.4" stroke="#000" stroke-width="2.3"/>
<path d="M1125.1 521L1081.1 513" stroke="#000" stroke-width="2.3"/>
<path d="M1082.5 505.7L1038.8 496.4" stroke="#000" stroke-width="2.3"/>
<path d="M1081.6 510.3L1037.7 501.8" stroke="#000" stroke-width="2.3"/>
<path d="M1080.8 514.9L1036.7 507.2" stroke="#000" stroke-width="2.3"/>
<path d="M1080 519.5L1035.8 512.6" stroke="#000" stroke-width="2.3"/>
<path d="M1122.9 536.1L1078.5 531.1" stroke="#000" stroke-width="2.3"/>
<path d="M1079.2 525L1034.9 519.1" stroke="#000" stroke-width="2.3"/>
<path d="M1078.6 529.7L1034.2 524.5" stroke="#000" stroke-width="2.3"/>
<path d="M1078.1 534.4L1033.6 529.9" stroke="#000" stroke-width="2.3"/>
<path d="M1077.7 539L1033.1 535.3" stroke="#000" stroke-width="2.3"/>
<path d="M1121.6 553.6L1076.9 552.1" stroke="#000" stroke-width="2.3"/>
<path d="M1076.9 554.1L1032.3 549.8" stroke="#000" stroke-width="2.3"/>
<path d="M1076.9 554.1L1032.1 556.1" stroke="#000" stroke-width="2.3"/>
<path d="M1076.8 562.1L1032.1 558" stroke="#000" stroke-width="2.3"/>
<path d="M1076.8 562.1L1032.1 562.2" stroke="#000" stroke-width="2.3"/>
<path d="M1076.8 562.1L1032.1 566.5" stroke="#000" stroke-width="2.3"/>
<path d="M1135.9 640L1094.1 655.8" stroke="#000" stroke-width="2.3"/>
<path d="M1077.3 577.8L1032.5 577.1" stroke="#000" stroke-width="2.3"/>
<path d="M1077.3 577.8L1032.7 580.6" stroke="#000" stroke-width="2.3"/>
<path d="M1077.3 577.8L1032.9 584" stroke="#000" stroke-width="2.3"/>
<path d="M1078.4 590.6L1033.1 586.4" stroke="#000" stroke-width="2.3"/>
<path d="M1078.4 590.6L1033.3 588.7" stroke="#000" stroke-width="2.3"/>
<path d="M1078.4 590.6L1033.5 591" stroke="#000" stroke-width="2.3"/>
<path d="M1078.4 590.6L1033.7 593.3" stroke="#000" stroke-width="2.3"/>
<path d="M1078.4 590.6L1034 595.5" stroke="#000" stroke-width="2.3"/>
<path d="M1078.4 590.6L1034.2 597.8" stroke="#000" stroke-width="2.3"/>
<path d="M1078.4 590.6L1034.5 600.1" stroke="#000" stroke-width="2.3"/>
<path d="M1078.4 590.6L1034.8 602.4" stroke="#000" stroke-width="2.3"/>
<path d="M1078.4 590.6L1035.1 604.7" stroke="#000" stroke-width="2.3"/>
<path d="M1079.9 601.6L1035.7 608.3" stroke="#000" stroke-width="2.3"/>
<path d="M1080.4 605.2L1036.3 612.6" stroke="#000" stroke-width="2.3"/>
<path d="M1081.6 611.5L1036.9 615.7" stroke="#000" stroke-width="2.3"/>
<path d="M1081.6 611.5L1037.4 618.5" stroke="#000" stroke-width="2.3"/>
<path d="M1081.6 611.5L1037.9 621.4" stroke="#000" stroke-width="2.3"/>
<path d="M1081.6 611.5L1038.5 624.2" stroke="#000" stroke-width="2.3"/>
<path d="M1082.9 617.8L1039.2 627.3" stroke="#000" stroke-width="2.3"/>
<path d="M1083.9 622.3L1039.8 630" stroke="#000" stroke-width="2.3"/>
<path d="M1083.9 622.3L1040.9 635" stroke="#000" stroke-width="2.3"/>
<path d="M1087.7 636.8L1044.8 649.4" stroke="#000" stroke-width="2.3"/>
<path d="M1088.8 640.3L1046.1 653.6" stroke="#000" stroke-width="2.3"/>
<path d="M1089.9 643.9L1047.4 657.7" stroke="#000" stroke-width="2.3"/>
<path d="M1091.1 647.5L1048.8 661.9" stroke="#000" stroke-width="2.3"/>
<path d="M1098.9 667.7L1052.6 672.6" stroke="#000" stroke-width="2.3"/>
<path d="M1098.9 667.7L1053.5 674.7" stroke="#000" stroke-width="2.3"/>
<path d="M1098.9 667.7L1054.3 676.9" stroke="#000" stroke-width="2.3"/>
<path d="M1098.9 667.7L1055.2 679" stroke="#000" stroke-width="2.3"/>
<path d="M1098.9 667.7L1056 681.2" stroke="#000" stroke-width="2.3"/>
<path d="M1098.9 667.7L1056.9 683.3" stroke="#000" stroke-width="2.3"/>
<path d="M1098.9 667.7L1057.9 685.4" stroke="#000" stroke-width="2.3"/>
<path d="M1098.9 667.7L1058.8 687.6" stroke="#000" stroke-width="2.3"/>
<path d="M1098.9 667.7L1059.7 689.7" stroke="#000" stroke-width="2.3"/>
<path d="M1098.9 667.7L1060.7 691.8" stroke="#000" stroke-width="2.3"/>
<path d="M1098.9 667.7L1061.7 693.9" stroke="#000" stroke-width="2.3"/>
<path d="M1098.9 667.7L1062.7 696" stroke="#000" stroke-width="2.3"/>
<path d="M1098.9 667.7L1063.7 698.1" stroke="#000" stroke-width="2.3"/>
<path d="M1106.1 683L1064.7 700.2" stroke="#000" stroke-width="2.3"/>
<path d="M1106.1 683L1066.3 703.4" stroke="#000" stroke-width="2.3"/>
<path d="M1106.1 683L1067.9 706.5" stroke="#000" stroke-width="2.3"/>
<path d="M1108.8 688.1L1069.4 709.2" stroke="#000" stroke-width="2.3"/>
<path d="M1112 693.9L1071 712.1" stroke="#000" stroke-width="2.3"/>
<path d="M1112 693.9L1072.4 714.7" stroke="#000" stroke-width="2.3"/>
<path d="M1112 693.9L1073.9 717.3" stroke="#000" stroke-width="2.3"/>
<path d="M1112 693.9L1075.3 719.8" stroke="#000" stroke-width="2.3"/>
<path d="M1115.3 699.6L1077 722.6" stroke="#000" stroke-width="2.3"/>
<path d="M1117.3 702.8L1079.3 726.4" stroke="#000" stroke-width="2.3"/>
<path d="M1124.9 714.3L1085.4 735.7" stroke="#000" stroke-width="2.3"/>
<path d="M1124.9 714.3L1086.8 737.8" stroke="#000" stroke-width="2.3"/>
<path d="M1124.9 714.3L1088.2 739.8" stroke="#000" stroke-width="2.3"/>
<path d="M1124.9 714.3L1089.6 741.9" stroke="#000" stroke-width="2.3"/>
<path d="M1124.9 714.3L1091.1 743.9" stroke="#000" stroke-width="2.3"/>
<path d="M1129 720.1L1093 746.6" stroke="#000" stroke-width="2.3"/>
<path d="M1131.1 722.9L1095.5 749.9" stroke="#000" stroke-width="2.3"/>
<path d="M1173.3 704.1L1139.1 732.9" stroke="#000" stroke-width="2.3"/>
<path d="M1139.1 732.9L1102.7 759.1" stroke="#000" stroke-width="2.3"/>
<path d="M1139.1 732.9L1106.9 764.1" stroke="#000" stroke-width="2.3"/>
<path d="M1177.6 709.2L1144.1 738.8" stroke="#000" stroke-width="2.3"/>
<path d="M1142.8 737.3L1109.1 766.7" stroke="#000" stroke-width="2.3"/>
<path d="M1145.2 739.9L1111.8 769.8" stroke="#000" stroke-width="2.3"/>
<path d="M1187 719.1L1155.4 750.7" stroke="#000" stroke-width="2.3"/>
<path d="M1152.4 747.7L1115 773.2" stroke="#000" stroke-width="2.3"/>
<path d="M1152.4 747.7L1117.1 775.5" stroke="#000" stroke-width="2.3"/>
<path d="M1152.4 747.7L1119.2 777.7" stroke="#000" stroke-width="2.3"/>
<path d="M1152.4 747.7L1121.4 780" stroke="#000" stroke-width="2.3"/>
<path d="M1152.4 747.7L1123.6 782.2" stroke="#000" stroke-width="2.3"/>
<path d="M1152.4 747.7L1125.8 784.4" stroke="#000" stroke-width="2.3"/>
<path d="M1231.3 753.5L1208.5 792" stroke="#000" stroke-width="2.3"/>
<path d="M1167.3 761.9L1135.4 793.4" stroke="#000" stroke-width="2.3"/>
<path d="M1167.3 761.9L1139.9 797.4" stroke="#000" stroke-width="2.3"/>
<path d="M1171.4 765.5L1142.4 799.5" stroke="#000" stroke-width="2.3"/>
<path d="M1174.7 768.2L1146.3 802.8" stroke="#000" stroke-width="2.3"/>
<path d="M1178 771L1150.2 805.9" stroke="#000" stroke-width="2.3"/>
<path d="M1181.4 773.6L1154.1 809" stroke="#000" stroke-width="2.3"/>
<path d="M1184.9 776.2L1158.2 812.1" stroke="#000" stroke-width="2.3"/>
<path d="M1188.3 778.8L1162.2 815.1" stroke="#000" stroke-width="2.3"/>
<path d="M1191.9 781.3L1166.3 818" stroke="#000" stroke-width="2.3"/>
<path d="M1195.4 783.7L1170.5 820.8" stroke="#000" stroke-width="2.3"/>
<path d="M1200.8 787.2L1173.4 822.8" stroke="#000" stroke-width="2.3"/>
<path d="M1200.8 787.2L1176.8 825" stroke="#000" stroke-width="2.3"/>
<path d="M1200.8 787.2L1180.2 827.1" stroke="#000" stroke-width="2.3"/>
<path d="M1213.6 794.9L1187.7 831.6" stroke="#000" stroke-width="2.3"/>
<path d="M1213.6 794.9L1190.4 833.1" stroke="#000" stroke-width="2.3"/>
<path d="M1213.6 794.9L1193.1 834.6" stroke="#000" stroke-width="2.3"/>
<path d="M1213.6 794.9L1195.8 836.1" stroke="#000" stroke-width="2.3"/>
<path d="M1219.8 798.2L1198.9 837.8" stroke="#000" stroke-width="2.3"/>
<path d="M1231.3 804L1202.3 839.6" stroke="#000" stroke-width="2.3"/>
<path d="M1231.3 804L1204.5 840.7" stroke="#000" stroke-width="2.3"/>
<path d="M1231.3 804L1206.7 841.8" stroke="#000" stroke-width="2.3"/>
<path d="M1231.3 804L1209 842.9" stroke="#000" stroke-width="2.3"/>
<path d="M1231.3 804L1211.2 844" stroke="#000" stroke-width="2.3"/>
<path d="M1231.3 804L1213.5 845" stroke="#000" stroke-width="2.3"/>
<path d="M1231.3 804L1215.8 846.1" stroke="#000" stroke-width="2.3"/>
<path d="M1231.3 804L1218.1 847.1" stroke="#000" stroke-width="2.3"/>
<path d="M1231.3 804L1220.3 848.1" stroke="#000" stroke-width="2.3"/>
<path d="M1231.3 804L1222.6 849.1" stroke="#000" stroke-width="2.3"/>
<path d="M1243.2 809.2L1226.2 850.6" stroke="#000" stroke-width="2.3"/>
<path d="M1253.1 813.1L1237.8 855.1" stroke="#000" stroke-width="2.3"/>
<path d="M1289.5 731L1275.6 773.5" stroke="#000" stroke-width="2.3"/>
<path d="M1275.6 773.5L1262.2 816.2" stroke="#000" stroke-width="2.3"/>
<path d="M1262.2 816.2L1243.4 857.1" stroke="#000" stroke-width="2.3"/>
<path d="M1262.2 816.2L1246.7 858.2" stroke="#000" stroke-width="2.3"/>
<path d="M1262.2 816.2L1250 859.3" stroke="#000" stroke-width="2.3"/>
<path d="M1262.2 816.2L1253.4 860.3" stroke="#000" stroke-width="2.3"/>
<path d="M1318.8 692.6L1310 736.4" stroke="#000" stroke-width="2.3"/>
<path d="M1310 736.4L1300.5 780.1" stroke="#000" stroke-width="2.3"/>
<path d="M1300.5 780.1L1291.6 823.9" stroke="#000" stroke-width="2.3"/>
<path d="M1272.5 819.3L1257.5 861.5" stroke="#000" stroke-width="2.3"/>
<path d="M1272.5 819.3L1263.4 863.2" stroke="#000" stroke-width="2.3"/>
<path d="M1277.8 820.7L1266.6 864" stroke="#000" stroke-width="2.3"/>
<path d="M1284.2 822.3L1270.1 864.9" stroke="#000" stroke-width="2.3"/>
<path d="M1284.2 822.3L1274.1 865.9" stroke="#000" stroke-width="2.3"/>
<path d="M1284.2 822.3L1278.1 866.8" stroke="#000" stroke-width="2.3"/>
<path d="M1290.7 823.7L1281.6 867.5" stroke="#000" stroke-width="2.3"/>
<path d="M1295 824.6L1286.6 868.5" stroke="#000" stroke-width="2.3"/>
<path d="M1303.9 826.1L1297.1 870.3" stroke="#000" stroke-width="2.3"/>
<path d="M1308.3 826.8L1302.2 871.1" stroke="#000" stroke-width="2.3"/>
<path d="M1347.2 695.1L1347.9 739.9" stroke="#000" stroke-width="2.3"/>
<path d="M1332 739.4L1328.3 784" stroke="#000" stroke-width="2.3"/>
<path d="M1328.3 784L1325 828.6" stroke="#000" stroke-width="2.3"/>
<path d="M1314.6 827.6L1309.5 872" stroke="#000" stroke-width="2.3"/>
<path d="M1324.4 828.5L1313.5 872.4" stroke="#000" stroke-width="2.3"/>
<path d="M1324.4 828.5L1316.5 872.7" stroke="#000" stroke-width="2.3"/>
<path d="M1324.4 828.5L1319.4 873" stroke="#000" stroke-width="2.3"/>
<path d="M1324.4 828.5L1322.4 873.2" stroke="#000" stroke-width="2.3"/>
<path d="M1324.4 828.5L1325.3 873.4" stroke="#000" stroke-width="2.3"/>
<path d="M1324.4 828.5L1328.3 873.6" stroke="#000" stroke-width="2.3"/>
<path d="M1341.4 739.8L1340.4 784.6" stroke="#000" stroke-width="2.3"/>
<path d="M1340.4 784.6L1339.5 829.3" stroke="#000" stroke-width="2.3"/>
<path d="M1336.6 829.2L1331.7 873.8" stroke="#000" stroke-width="2.3"/>
<path d="M1336.6 829.2L1335.1 873.9" stroke="#000" stroke-width="2.3"/>
<path d="M1336.6 829.2L1338.5 874" stroke="#000" stroke-width="2.3"/>
<path d="M1342 829.3L1341.5 874" stroke="#000" stroke-width="2.3"/>
<path d="M1345.6 829.3L1345.7 874" stroke="#000" stroke-width="2.3"/>
<path d="M1356.3 739.5L1359.1 784.2" stroke="#000" stroke-width="2.3"/>
<path d="M1359.1 784.2L1361.9 828.8" stroke="#000" stroke-width="2.3"/>
<path d="M1357.9 829L1351 874" stroke="#000" stroke-width="2.3"/>
<path d="M1357.9 829L1353.6 873.9" stroke="#000" stroke-width="2.3"/>
<path d="M1357.9 829L1356.2 873.8" stroke="#000" stroke-width="2.3"/>
<path d="M1357.9 829L1358.8 873.7" stroke="#000" stroke-width="2.3"/>
<path d="M1357.9 829L1361.3 873.6" stroke="#000" stroke-width="2.3"/>
<path d="M1357.9 829L1363.9 873.5" stroke="#000" stroke-width="2.3"/>
<path d="M1357.9 829L1366.5 873.3" stroke="#000" stroke-width="2.3"/>
<path d="M1357.9 829L1369.1 873.1" stroke="#000" stroke-width="2.3"/>
<path d="M1371 828.1L1371.6 872.9" stroke="#000" stroke-width="2.3"/>
<path d="M1371 828.1L1375.3 872.6" stroke="#000" stroke-width="2.3"/>
<path d="M1371 828.1L1379.1 872.2" stroke="#000" stroke-width="2.3"/>
<path d="M1373.5 692.1L1382.9 735.8" stroke="#000" stroke-width="2.3"/>
<path d="M1371.5 737.9L1377 782.3" stroke="#000" stroke-width="2.3"/>
<path d="M1377 782.3L1382.9 826.6" stroke="#000" stroke-width="2.3"/>
<path d="M1382.9 826.6L1383.6 871.7" stroke="#000" stroke-width="2.3"/>
<path d="M1382.9 826.6L1386.4 871.3" stroke="#000" stroke-width="2.3"/>
<path d="M1382.9 826.6L1389.2 870.9" stroke="#000" stroke-width="2.3"/>
<path d="M1382.9 826.6L1392 870.5" stroke="#000" stroke-width="2.3"/>
<path d="M1382.9 826.6L1394.8 870.1" stroke="#000" stroke-width="2.3"/>
<path d="M1385.6 735.2L1395.8 778.8" stroke="#000" stroke-width="2.3"/>
<path d="M1387.4 780.6L1395.8 824.5" stroke="#000" stroke-width="2.3"/>
<path d="M1392.1 825.2L1399.9 869.2" stroke="#000" stroke-width="2.3"/>
<path d="M1397.6 824.1L1403.2 868.6" stroke="#000" stroke-width="2.3"/>
<path d="M1397.6 824.1L1409.4 867.4" stroke="#000" stroke-width="2.3"/>
<path d="M1400.7 777.6L1411.8 820.9" stroke="#000" stroke-width="2.3"/>
<path d="M1406.6 822.2L1412.4 866.7" stroke="#000" stroke-width="2.3"/>
<path d="M1406.6 822.2L1415.4 866" stroke="#000" stroke-width="2.3"/>
<path d="M1406.6 822.2L1418.4 865.3" stroke="#000" stroke-width="2.3"/>
<path d="M1406.6 822.2L1421.4 864.6" stroke="#000" stroke-width="2.3"/>
<path d="M1413.3 820.5L1424.7 863.7" stroke="#000" stroke-width="2.3"/>
<path d="M1417.2 819.5L1429.2 862.5" stroke="#000" stroke-width="2.3"/>
<path d="M1374.8 645.4L1389.9 687.5" stroke="#008000" stroke-width="6.3"/>
<path d="M1389.9 687.5L1404.8 729.6" stroke="#008000" stroke-width="6.3"/>
<path d="M1470.5 688.6L1501.5 720.8" stroke="#008000" stroke-width="6.3"/>
<path d="M1530.8 754.7L1563.3 785.4" stroke="#008000" stroke-width="6.3"/>
<path d="M1574 701L1612.4 724" stroke="#008000" stroke-width="6.3"/>
<path d="M1592.5 665L1633.6 682.6" stroke="#008000" stroke-width="6.3"/>
<path d="M1607.2 618.6L1650.5 629.6" stroke="#008000" stroke-width="6.3"/>
<path d="M1521.5 531.6L1565.8 525" stroke="#ff0000" stroke-width="6.3"/>
<path d="M1610.4 520.6L1655.6 520.9" stroke="#ff0000" stroke-width="5.2"/>
<path d="M1445.2 312L1473.3 275.4" stroke="#ff0000" stroke-width="3"/>
<path d="M1389.3 341.8L1399.1 298.2" stroke="#008000" stroke-width="6.9"/>
<path d="M1399.1 298.2L1416.6 256.2" stroke="#008000" stroke-width="1.9"/>
<path d="M1399.1 298.2L1413.9 255.6" stroke="#008000" stroke-width="1.9"/>
<path d="M1399.1 298.2L1410.7 254.9" stroke="#008000" stroke-width="1.9"/>
<path d="M1399.1 298.2L1406.8 254.1" stroke="#008000" stroke-width="2.5"/>
<path d="M1207.3 330.8L1177.8 296.4" stroke="#ff0000" stroke-width="3.5"/>
<path d="M1162.8 431.5L1126.2 405.8" stroke="#008000" stroke-width="5.8"/>
<path d="M1126.2 405.8L1091.5 377.4" stroke="#008000" stroke-width="2.5"/>
<path d="M1077.3 544.6L1032.4 545.7" stroke="#ff0000" stroke-width="6.9"/>
<path d="M1077 571.3L1032.3 572.5" stroke="#ff0000" stroke-width="7.5"/>
<path d="M1086.4 632.3L1041.9 638.8" stroke="#ff0000" stroke-width="6.9"/>
<path d="M1086.4 632.3L1044.3 647.8" stroke="#ff0000" stroke-width="5.8"/>
<path d="M1092.6 651.9L1050.9 668.1" stroke="#ff0000" stroke-width="6.9"/>
<path d="M1120.3 707.5L1082.3 731" stroke="#ff0000" stroke-width="6.9"/>
<path d="M1134.2 726.9L1098.8 754.2" stroke="#ff0000" stroke-width="6.9"/>
<path d="M1160.1 755.3L1129.6 788.1" stroke="#ff0000" stroke-width="6.9"/>
<path d="M1206.9 791L1183.9 829.3" stroke="#ff0000" stroke-width="6.9"/>
<path d="M1248.1 811.2L1231.4 852.7" stroke="#008000" stroke-width="6.9"/>
<path d="M1299.9 825.5L1291.3 869.4" stroke="#ff0000" stroke-width="3"/>
<path d="M1255.7 561A89.4 89.4 0 0 0 1374.8 645.4" stroke="#000" stroke-width="5"/>
<path d="M1255.7 561A89.4 89.4 0 0 0 1413.8 618.3" stroke="#000" stroke-width="5"/>
<path d="M1255.7 561A89.4 89.4 0 0 0 1432.4 580.4" stroke="#000" stroke-width="5"/>
<path d="M1255.7 561A89.4 89.4 0 0 0 1432.8 578.5" stroke="#000" stroke-width="5"/>
<path d="M1255.7 561A89.4 89.4 0 0 0 1433.2 576.3" stroke="#000" stroke-width="5"/>
<path d="M1255.7 561A89.4 89.4 0 0 0 1433.6 574.2" stroke="#000" stroke-width="5"/>
<path d="M1255.7 561A89.4 89.4 0 0 0 1433.9 572" stroke="#000" stroke-width="5"/>
<path d="M1255.7 561A89.4 89.4 0 0 0 1434.1 569.7" stroke="#000" stroke-width="5"/>
<path d="M1255.7 561A89.4 89.4 0 0 0 1434.3 567.5" stroke="#000" stroke-width="5"/>
<path d="M1255.7 561A89.4 89.4 0 0 0 1434.4 565.3" stroke="#000" stroke-width="5"/>
<path d="M1255.7 561A89.4 89.4 0 0 0 1434.5 563.1" stroke="#000" stroke-width="5"/>
<path d="M1430.6 534.9A89.4 89.4 0 0 0 1255.7 561" stroke="#000" stroke-width="5"/>
<path d="M1389.5 483.4A89.4 89.4 0 0 0 1255.7 561" stroke="#000" stroke-width="5"/>
<path d="M1345.1 471.6A89.4 89.4 0 0 0 1255.7 561" stroke="#000" stroke-width="5"/>
<path d="M1255.7 561A89.4 89.4 0 0 0 1256.9 575.9" stroke="#000" stroke-width="5"/>
<path d="M1422.2 818A268.3 268.3 0 0 0 1431.1 815.2" stroke="#000" stroke-width="2.1"/>
<path d="M1431.1 815.2A268.3 268.3 0 0 0 1439.9 812" stroke="#000" stroke-width="2.4"/>
<path d="M1407.7 679.7A134.2 134.2 0 0 0 1448.2 646.9" stroke="#000" stroke-width="5.9"/>
<path d="M1426.6 667.5A134.2 134.2 0 0 0 1448.2 646.9" stroke="#000" stroke-width="5.9"/>
<path d="M1441.4 654.4A134.2 134.2 0 0 0 1448.2 646.9" stroke="#000" stroke-width="5.9"/>
<path d="M1447.3 647.9A134.2 134.2 0 0 0 1448.2 646.9" stroke="#000" stroke-width="3.9"/>
<path d="M1448.2 646.9A134.2 134.2 0 0 0 1465.7 619.8" stroke="#000" stroke-width="5.9"/>
<path d="M1415.4 725.5A178.9 178.9 0 0 0 1428.5 719.2" stroke="#000" stroke-width="3.4"/>
<path d="M1419.3 723.8A178.9 178.9 0 0 0 1428.5 719.2" stroke="#000" stroke-width="2.2"/>
<path d="M1427.9 719.5A178.9 178.9 0 0 0 1428.5 719.2" stroke="#000" stroke-width="2.3"/>
<path d="M1428.5 719.2A178.9 178.9 0 0 0 1437.9 713.9" stroke="#000" stroke-width="2.3"/>
<path d="M1431 767.4A223.6 223.6 0 0 0 1432.9 766.6" stroke="#000" stroke-width="3.5"/>
<path d="M1432.9 766.6A223.6 223.6 0 0 0 1433.2 766.5" stroke="#000" stroke-width="3.4"/>
<path d="M1432.9 766.6A223.6 223.6 0 0 0 1435.1 765.7" stroke="#000" stroke-width="1.8"/>
<path d="M1440.9 763A223.6 223.6 0 0 0 1448.7 759.2" stroke="#000" stroke-width="3.1"/>
<path d="M1443.8 761.6A223.6 223.6 0 0 0 1448.7 759.2" stroke="#000" stroke-width="2.2"/>
<path d="M1447.1 760A223.6 223.6 0 0 0 1448.7 759.2" stroke="#000" stroke-width="1.9"/>
<path d="M1448.7 759.2A223.6 223.6 0 0 0 1450.3 758.3" stroke="#000" stroke-width="1.9"/>
<path d="M1448.7 759.2A223.6 223.6 0 0 0 1453.1 756.8" stroke="#000" stroke-width="2.3"/>
<path d="M1448.7 759.2A223.6 223.6 0 0 0 1455.7 755.3" stroke="#000" stroke-width="1.7"/>
<path d="M1458.7 753.6A223.6 223.6 0 0 0 1461.1 752.1" stroke="#000" stroke-width="3.2"/>
<path d="M1461.1 752.1A223.6 223.6 0 0 0 1461.3 752" stroke="#000" stroke-width="3.2"/>
<path d="M1461.1 752.1A223.6 223.6 0 0 0 1463.7 750.5" stroke="#000" stroke-width="2.2"/>
<path d="M1449.3 706.4A178.9 178.9 0 0 0 1453.8 703" stroke="#000" stroke-width="4.1"/>
<path d="M1453.8 703A178.9 178.9 0 0 0 1458.2 699.6" stroke="#000" stroke-width="3.6"/>
<path d="M1453.8 703A178.9 178.9 0 0 0 1462.2 696.2" stroke="#000" stroke-width="3"/>
<path d="M1468.3 747.6A223.6 223.6 0 0 0 1475.4 742.7" stroke="#000" stroke-width="2.4"/>
<path d="M1473.8 743.8A223.6 223.6 0 0 0 1475.4 742.7" stroke="#000" stroke-width="2.4"/>
<path d="M1475.4 742.7A223.6 223.6 0 0 0 1478.3 740.6" stroke="#000" stroke-width="2.2"/>
<path d="M1475.4 742.7A223.6 223.6 0 0 0 1481.8 737.9" stroke="#000" stroke-width="3.5"/>
<path d="M1497.5 781.8A268.3 268.3 0 0 0 1499.6 780.4" stroke="#000" stroke-width="1.3"/>
<path d="M1499.6 780.4A268.3 268.3 0 0 0 1501.6 778.9" stroke="#000" stroke-width="2"/>
<path d="M1507.7 774.4A268.3 268.3 0 0 0 1509.1 773.3" stroke="#000" stroke-width="2.3"/>
<path d="M1509.1 773.3A268.3 268.3 0 0 0 1510.6 772.2" stroke="#000" stroke-width="1.9"/>
<path d="M1485.5 735A223.6 223.6 0 0 0 1486.5 734.2" stroke="#000" stroke-width="3.2"/>
<path d="M1486.5 734.2A223.6 223.6 0 0 0 1487.8 733.1" stroke="#000" stroke-width="1.8"/>
<path d="M1490.5 730.9A223.6 223.6 0 0 0 1491.5 730" stroke="#000" stroke-width="2.3"/>
<path d="M1491.5 730A223.6 223.6 0 0 0 1493.1 728.6" stroke="#000" stroke-width="2.5"/>
<path d="M1470.5 688.6A178.9 178.9 0 0 0 1473.4 685.6" stroke="#000" stroke-width="1.9"/>
<path d="M1473.4 685.6A178.9 178.9 0 0 0 1475.9 683" stroke="#000" stroke-width="2.4"/>
<path d="M1473.4 685.6A178.9 178.9 0 0 0 1478.3 680.3" stroke="#000" stroke-width="3.6"/>
<path d="M1527.6 757.7A268.3 268.3 0 0 0 1532.8 752.7" stroke="#000" stroke-width="1.9"/>
<path d="M1532.8 752.7A268.3 268.3 0 0 0 1535.1 750.5" stroke="#000" stroke-width="1.6"/>
<path d="M1532.8 752.7A268.3 268.3 0 0 0 1538.2 747.3" stroke="#000" stroke-width="2.1"/>
<path d="M1510.9 711A223.6 223.6 0 0 0 1511.7 710.2" stroke="#000" stroke-width="3.5"/>
<path d="M1511.7 710.2A223.6 223.6 0 0 0 1512.6 709.1" stroke="#000" stroke-width="1.7"/>
<path d="M1514.6 706.8A223.6 223.6 0 0 0 1515.5 705.8" stroke="#000" stroke-width="2.3"/>
<path d="M1515.5 705.8A223.6 223.6 0 0 0 1516.8 704.3" stroke="#000" stroke-width="3.5"/>
<path d="M1486.3 670.9A178.9 178.9 0 0 0 1505.9 639.4" stroke="#000" stroke-width="2.1"/>
<path d="M1503.4 644.2A178.9 178.9 0 0 0 1505.9 639.4" stroke="#000" stroke-width="5.3"/>
<path d="M1505.9 639.4A178.9 178.9 0 0 0 1514 619.9" stroke="#000" stroke-width="3.3"/>
<path d="M1505.9 639.4A178.9 178.9 0 0 0 1515.1 616.8" stroke="#000" stroke-width="2.2"/>
<path d="M1505.9 639.4A178.9 178.9 0 0 0 1516.3 613" stroke="#000" stroke-width="3.2"/>
<path d="M1505.9 639.4A178.9 178.9 0 0 0 1517.4 609.2" stroke="#000" stroke-width="3.6"/>
<path d="M1505.9 639.4A178.9 178.9 0 0 0 1518.4 605.4" stroke="#000" stroke-width="3.2"/>
<path d="M1519.9 700.5A223.6 223.6 0 0 0 1521.5 698.4" stroke="#000" stroke-width="2.4"/>
<path d="M1521.5 698.4A223.6 223.6 0 0 0 1522.8 696.8" stroke="#000" stroke-width="2.2"/>
<path d="M1521.5 698.4A223.6 223.6 0 0 0 1524.4 694.6" stroke="#000" stroke-width="3.2"/>
<path d="M1553.5 730A268.3 268.3 0 0 0 1554.8 728.4" stroke="#000" stroke-width="2.4"/>
<path d="M1554.8 728.4A268.3 268.3 0 0 0 1556.1 726.7" stroke="#000" stroke-width="2.3"/>
<path d="M1537.6 674.8A223.6 223.6 0 0 0 1543 665" stroke="#000" stroke-width="4.7"/>
<path d="M1543 665A223.6 223.6 0 0 0 1547.7 655.5" stroke="#000" stroke-width="2.4"/>
<path d="M1543 665A223.6 223.6 0 0 0 1549.6 651.4" stroke="#000" stroke-width="3"/>
<path d="M1543 665A223.6 223.6 0 0 0 1553.1 642.9" stroke="#000" stroke-width="1.9"/>
<path d="M1562.6 718.1A268.3 268.3 0 0 0 1576.1 697.6" stroke="#000" stroke-width="2.1"/>
<path d="M1565 714.7A268.3 268.3 0 0 0 1576.1 697.6" stroke="#000" stroke-width="1.5"/>
<path d="M1567.4 711.2A268.3 268.3 0 0 0 1576.1 697.6" stroke="#000" stroke-width="1.6"/>
<path d="M1574 701A268.3 268.3 0 0 0 1576.1 697.6" stroke="#000" stroke-width="1.9"/>
<path d="M1576.1 697.6A268.3 268.3 0 0 0 1579.5 691.6" stroke="#000" stroke-width="2.4"/>
<path d="M1576.1 697.6A268.3 268.3 0 0 0 1581.6 687.7" stroke="#000" stroke-width="2.3"/>
<path d="M1576.1 697.6A268.3 268.3 0 0 0 1583.7 683.8" stroke="#000" stroke-width="2.3"/>
<path d="M1576.1 697.6A268.3 268.3 0 0 0 1585.7 679.8" stroke="#000" stroke-width="1.4"/>
<path d="M1587.5 676.1A268.3 268.3 0 0 0 1588.3 674.4" stroke="#000" stroke-width="2.2"/>
<path d="M1588.3 674.4A268.3 268.3 0 0 0 1589 672.7" stroke="#000" stroke-width="1.7"/>
<path d="M1592.5 665A268.3 268.3 0 0 0 1594.7 659.3" stroke="#000" stroke-width="1.9"/>
<path d="M1594.5 660A268.3 268.3 0 0 0 1594.7 659.3" stroke="#000" stroke-width="1.7"/>
<path d="M1594.7 659.3A268.3 268.3 0 0 0 1596.3 655.2" stroke="#000" stroke-width="1.4"/>
<path d="M1601.3 640.7A268.3 268.3 0 0 0 1601.8 639" stroke="#000" stroke-width="2.1"/>
<path d="M1601.8 639A268.3 268.3 0 0 0 1602.4 637.2" stroke="#000" stroke-width="1.6"/>
<path d="M1561.5 617.3A223.6 223.6 0 0 0 1561.7 616.5" stroke="#000" stroke-width="3.4"/>
<path d="M1561.7 616.5A223.6 223.6 0 0 0 1562.2 614.4" stroke="#000" stroke-width="2.2"/>
<path d="M1475.9 531.2A134.2 134.2 0 0 0 1473.4 521.8" stroke="#000" stroke-width="3.5"/>
<path d="M1473.4 521.8A134.2 134.2 0 0 0 1464.7 500.3" stroke="#000" stroke-width="4.7"/>
<path d="M1523.3 545.1A178.9 178.9 0 0 0 1519.5 521.2" stroke="#000" stroke-width="1.9"/>
<path d="M1521.5 531.6A178.9 178.9 0 0 0 1519.5 521.2" stroke="#000" stroke-width="1.9"/>
<path d="M1519.5 521.2A178.9 178.9 0 0 0 1518.7 517.7" stroke="#000" stroke-width="1.9"/>
<path d="M1519.5 521.2A178.9 178.9 0 0 0 1516.5 509.9" stroke="#000" stroke-width="1.9"/>
<path d="M1519.5 521.2A178.9 178.9 0 0 0 1514 502.2" stroke="#000" stroke-width="1.9"/>
<path d="M1519.5 521.2A178.9 178.9 0 0 0 1511.6 495.7" stroke="#000" stroke-width="1.9"/>
<path d="M1613 546.6A268.3 268.3 0 0 0 1612.4 537.6" stroke="#000" stroke-width="1.6"/>
<path d="M1612.8 542.2A268.3 268.3 0 0 0 1612.4 537.6" stroke="#000" stroke-width="1.7"/>
<path d="M1612.4 537.6A268.3 268.3 0 0 0 1612.2 535.5" stroke="#000" stroke-width="1.7"/>
<path d="M1607 502.6A268.3 268.3 0 0 0 1606.3 499.7" stroke="#000" stroke-width="1.9"/>
<path d="M1606.3 499.7A268.3 268.3 0 0 0 1605.6 496.7" stroke="#000" stroke-width="1.9"/>
<path d="M1606.3 499.7A268.3 268.3 0 0 0 1604.4 492.1" stroke="#000" stroke-width="2.4"/>
<path d="M1602.8 486.4A268.3 268.3 0 0 0 1602.1 483.9" stroke="#000" stroke-width="2.3"/>
<path d="M1602.1 483.9A268.3 268.3 0 0 0 1601.4 481.4" stroke="#000" stroke-width="1.4"/>
<path d="M1599.5 475.6A268.3 268.3 0 0 0 1598.6 473.2" stroke="#000" stroke-width="1.6"/>
<path d="M1598.6 473.2A268.3 268.3 0 0 0 1597.8 470.8" stroke="#000" stroke-width="2.1"/>
<path d="M1507.5 486A178.9 178.9 0 0 0 1504.6 480.1" stroke="#000" stroke-width="1.9"/>
<path d="M1504.6 480.1A178.9 178.9 0 0 0 1501.2 473.7" stroke="#000" stroke-width="1.9"/>
<path d="M1551 473.9A223.6 223.6 0 0 0 1548.1 467.2" stroke="#000" stroke-width="3.1"/>
<path d="M1548.7 468.7A223.6 223.6 0 0 0 1548.1 467.2" stroke="#000" stroke-width="3.1"/>
<path d="M1548.1 467.2A223.6 223.6 0 0 0 1546 462.8" stroke="#000" stroke-width="3.4"/>
<path d="M1592.9 458A268.3 268.3 0 0 0 1592.2 456.4" stroke="#000" stroke-width="2.2"/>
<path d="M1592.2 456.4A268.3 268.3 0 0 0 1591.5 454.8" stroke="#000" stroke-width="2"/>
<path d="M1587.1 445.1A268.3 268.3 0 0 0 1586.1 443.1" stroke="#000" stroke-width="1.8"/>
<path d="M1586.1 443.1A268.3 268.3 0 0 0 1585.2 441.2" stroke="#000" stroke-width="1.8"/>
<path d="M1582.6 436.2A268.3 268.3 0 0 0 1577.5 426.8" stroke="#000" stroke-width="1.5"/>
<path d="M1580.4 432A268.3 268.3 0 0 0 1577.5 426.8" stroke="#000" stroke-width="1.8"/>
<path d="M1578.1 427.9A268.3 268.3 0 0 0 1577.5 426.8" stroke="#000" stroke-width="1.6"/>
<path d="M1577.5 426.8A268.3 268.3 0 0 0 1575.7 423.8" stroke="#000" stroke-width="2.4"/>
<path d="M1577.5 426.8A268.3 268.3 0 0 0 1572.6 418.7" stroke="#000" stroke-width="1.4"/>
<path d="M1419.7 449.5A134.2 134.2 0 0 0 1411.8 444.6" stroke="#000" stroke-width="5.3"/>
<path d="M1411.8 444.6A134.2 134.2 0 0 0 1364.5 428.2" stroke="#000" stroke-width="5.3"/>
<path d="M1411.8 444.6A134.2 134.2 0 0 0 1360.8 427.8" stroke="#000" stroke-width="5.3"/>
<path d="M1411.8 444.6A134.2 134.2 0 0 0 1357.3 427.4" stroke="#000" stroke-width="5.3"/>
<path d="M1411.8 444.6A134.2 134.2 0 0 0 1354 427.1" stroke="#000" stroke-width="5.3"/>
<path d="M1411.8 444.6A134.2 134.2 0 0 0 1351 427" stroke="#000" stroke-width="5.3"/>
<path d="M1411.8 444.6A134.2 134.2 0 0 0 1348.1 426.9" stroke="#000" stroke-width="5.3"/>
<path d="M1514.4 414.9A223.6 223.6 0 0 0 1469.8 375.4" stroke="#000" stroke-width="5.3"/>
<path d="M1487.3 388.5A223.6 223.6 0 0 0 1469.8 375.4" stroke="#000" stroke-width="4.7"/>
<path d="M1482.8 384.8A223.6 223.6 0 0 0 1469.8 375.4" stroke="#000" stroke-width="4.7"/>
<path d="M1474 378.3A223.6 223.6 0 0 0 1469.8 375.4" stroke="#000" stroke-width="4.7"/>
<path d="M1469.8 375.4A223.6 223.6 0 0 0 1466.9 373.5" stroke="#000" stroke-width="4.7"/>
<path d="M1469.8 375.4A223.6 223.6 0 0 0 1459.6 368.9" stroke="#000" stroke-width="4.7"/>
<path d="M1469.8 375.4A223.6 223.6 0 0 0 1433.9 355.8" stroke="#000" stroke-width="4.7"/>
<path d="M1469.8 375.4A223.6 223.6 0 0 0 1404.5 345.4" stroke="#000" stroke-width="4.7"/>
<path d="M1469.8 375.4A223.6 223.6 0 0 0 1389.3 341.8" stroke="#000" stroke-width="1.9"/>
<path d="M1550.3 388.2A268.3 268.3 0 0 0 1548.2 385.7" stroke="#000" stroke-width="1.9"/>
<path d="M1548.2 385.7A268.3 268.3 0 0 0 1525.3 362.2" stroke="#000" stroke-width="4.7"/>
<path d="M1520.9 358.3A268.3 268.3 0 0 0 1515.8 354" stroke="#000" stroke-width="2"/>
<path d="M1516.3 354.4A268.3 268.3 0 0 0 1515.8 354" stroke="#000" stroke-width="1.5"/>
<path d="M1513.2 351.9A268.3 268.3 0 0 0 1510.3 349.6" stroke="#000" stroke-width="2.4"/>
<path d="M1510.3 349.6A268.3 268.3 0 0 0 1507.3 347.3" stroke="#000" stroke-width="1.9"/>
<path d="M1504.3 345A268.3 268.3 0 0 0 1499.8 341.7" stroke="#000" stroke-width="1.4"/>
<path d="M1501.3 342.8A268.3 268.3 0 0 0 1499.8 341.7" stroke="#000" stroke-width="1.6"/>
<path d="M1499.8 341.7A268.3 268.3 0 0 0 1498.2 340.7" stroke="#000" stroke-width="2.1"/>
<path d="M1495.1 338.6A268.3 268.3 0 0 0 1491.2 336" stroke="#000" stroke-width="1.6"/>
<path d="M1492 336.5A268.3 268.3 0 0 0 1491.2 336" stroke="#000" stroke-width="2.2"/>
<path d="M1491.2 336A268.3 268.3 0 0 0 1488.9 334.4" stroke="#000" stroke-width="1.8"/>
<path d="M1485.7 332.5A268.3 268.3 0 0 0 1482.5 330.5" stroke="#000" stroke-width="1.5"/>
<path d="M1482.5 330.5A268.3 268.3 0 0 0 1479.3 328.6" stroke="#000" stroke-width="1.7"/>
<path d="M1467.7 322.4A268.3 268.3 0 0 0 1451.7 314.7" stroke="#000" stroke-width="2.1"/>
<path d="M1451.7 314.7A268.3 268.3 0 0 0 1445.2 312" stroke="#000" stroke-width="3.5"/>
<path d="M1451.7 314.7A268.3 268.3 0 0 0 1431.1 306.8" stroke="#000" stroke-width="1.9"/>
<path d="M1422.8 304.2A268.3 268.3 0 0 0 1416.4 302.3" stroke="#000" stroke-width="1.6"/>
<path d="M1418.7 303A268.3 268.3 0 0 0 1416.4 302.3" stroke="#000" stroke-width="1.5"/>
<path d="M1416.4 302.3A268.3 268.3 0 0 0 1414.5 301.8" stroke="#000" stroke-width="2.1"/>
<path d="M1416.4 302.3A268.3 268.3 0 0 0 1410.3 300.7" stroke="#000" stroke-width="1.7"/>
<path d="M1289.3 439A134.2 134.2 0 0 0 1212.8 583.4" stroke="#000" stroke-width="5.9"/>
<path d="M1212.8 583.4A134.2 134.2 0 0 0 1215.7 596.4" stroke="#000" stroke-width="5.9"/>
<path d="M1212.8 583.4A134.2 134.2 0 0 0 1318.8 692.6" stroke="#000" stroke-width="5.9"/>
<path d="M1212.8 583.4A134.2 134.2 0 0 0 1347.2 695.1" stroke="#000" stroke-width="5.9"/>
<path d="M1212.8 583.4A134.2 134.2 0 0 0 1373.5 692.1" stroke="#000" stroke-width="5.9"/>
<path d="M1310.4 385.5A178.9 178.9 0 0 0 1270.6 398.4" stroke="#000" stroke-width="4.7"/>
<path d="M1270.6 398.4A178.9 178.9 0 0 0 1246.4 411.8" stroke="#000" stroke-width="4.7"/>
<path d="M1335.3 337.6A223.6 223.6 0 0 0 1301.7 341.7" stroke="#000" stroke-width="3"/>
<path d="M1329.6 337.9A223.6 223.6 0 0 0 1301.7 341.7" stroke="#000" stroke-width="3.1"/>
<path d="M1324.8 338.3A223.6 223.6 0 0 0 1301.7 341.7" stroke="#000" stroke-width="1.9"/>
<path d="M1319.3 338.9A223.6 223.6 0 0 0 1301.7 341.7" stroke="#000" stroke-width="2.2"/>
<path d="M1310.5 340.1A223.6 223.6 0 0 0 1301.7 341.7" stroke="#000" stroke-width="5.3"/>
<path d="M1303.8 341.3A223.6 223.6 0 0 0 1301.7 341.7" stroke="#000" stroke-width="3.3"/>
<path d="M1301.7 341.7A223.6 223.6 0 0 0 1300.3 341.9" stroke="#000" stroke-width="2.5"/>
<path d="M1301.7 341.7A223.6 223.6 0 0 0 1294.8 343.1" stroke="#000" stroke-width="1.8"/>
<path d="M1301.7 341.7A223.6 223.6 0 0 0 1288 344.8" stroke="#000" stroke-width="2"/>
<path d="M1301.7 341.7A223.6 223.6 0 0 0 1283.4 346.1" stroke="#000" stroke-width="1.9"/>
<path d="M1301.7 341.7A223.6 223.6 0 0 0 1280 347.1" stroke="#000" stroke-width="1.8"/>
<path d="M1301.7 341.7A223.6 223.6 0 0 0 1275.8 348.4" stroke="#000" stroke-width="2.2"/>
<path d="M1301.7 341.7A223.6 223.6 0 0 0 1271.7 349.8" stroke="#000" stroke-width="1.7"/>
<path d="M1335 292.9A268.3 268.3 0 0 0 1333.4 292.9" stroke="#000" stroke-width="1.8"/>
<path d="M1333.4 292.9A268.3 268.3 0 0 0 1331.8 293" stroke="#000" stroke-width="1.9"/>
<path d="M1316.4 294.2A268.3 268.3 0 0 0 1314.1 294.5" stroke="#000" stroke-width="2"/>
<path d="M1314.1 294.5A268.3 268.3 0 0 0 1311.9 294.7" stroke="#000" stroke-width="1.3"/>
<path d="M1307.6 295.3A268.3 268.3 0 0 0 1303.6 295.9" stroke="#000" stroke-width="1.7"/>
<path d="M1303.6 295.9A268.3 268.3 0 0 0 1299.6 296.6" stroke="#000" stroke-width="2.2"/>
<path d="M1287 299A268.3 268.3 0 0 0 1284.8 299.6" stroke="#000" stroke-width="2.2"/>
<path d="M1284.8 299.6A268.3 268.3 0 0 0 1282.5 300.1" stroke="#000" stroke-width="1.5"/>
<path d="M1278.4 301.1A268.3 268.3 0 0 0 1276.6 301.6" stroke="#000" stroke-width="1.9"/>
<path d="M1276.6 301.6A268.3 268.3 0 0 0 1274.9 302" stroke="#000" stroke-width="2.1"/>
<path d="M1266.1 351.8A223.6 223.6 0 0 0 1221.7 374.5" stroke="#000" stroke-width="1.8"/>
<path d="M1258.5 354.9A223.6 223.6 0 0 0 1221.7 374.5" stroke="#000" stroke-width="3.3"/>
<path d="M1228.3 370.3A223.6 223.6 0 0 0 1221.7 374.5" stroke="#000" stroke-width="4.7"/>
<path d="M1221.7 374.5A223.6 223.6 0 0 0 1202 389.2" stroke="#000" stroke-width="4.7"/>
<path d="M1221.7 374.5A223.6 223.6 0 0 0 1190.3 399.6" stroke="#000" stroke-width="1.9"/>
<path d="M1245.7 311.8A268.3 268.3 0 0 0 1241.1 313.6" stroke="#000" stroke-width="2.2"/>
<path d="M1241.1 313.6A268.3 268.3 0 0 0 1238.8 314.6" stroke="#000" stroke-width="1.5"/>
<path d="M1232.4 317.5A268.3 268.3 0 0 0 1204.9 332.2" stroke="#000" stroke-width="2"/>
<path d="M1228.7 319.2A268.3 268.3 0 0 0 1204.9 332.2" stroke="#000" stroke-width="1.7"/>
<path d="M1225.1 321A268.3 268.3 0 0 0 1204.9 332.2" stroke="#000" stroke-width="2"/>
<path d="M1207.3 330.8A268.3 268.3 0 0 0 1204.9 332.2" stroke="#000" stroke-width="1.6"/>
<path d="M1204.9 332.2A268.3 268.3 0 0 0 1189.4 342.4" stroke="#000" stroke-width="2.1"/>
<path d="M1204.9 332.2A268.3 268.3 0 0 0 1185.1 345.6" stroke="#000" stroke-width="1.7"/>
<path d="M1204.9 332.2A268.3 268.3 0 0 0 1180.9 348.8" stroke="#000" stroke-width="2"/>
<path d="M1175 353.5A268.3 268.3 0 0 0 1173.3 354.9" stroke="#000" stroke-width="1.9"/>
<path d="M1173.3 354.9A268.3 268.3 0 0 0 1169.6 358" stroke="#000" stroke-width="2.3"/>
<path d="M1164.6 362.5A268.3 268.3 0 0 0 1159.4 367.3" stroke="#000" stroke-width="2.1"/>
<path d="M1161.2 365.6A268.3 268.3 0 0 0 1159.4 367.3" stroke="#000" stroke-width="2.3"/>
<path d="M1159.4 367.3A268.3 268.3 0 0 0 1157.1 369.6" stroke="#000" stroke-width="2.1"/>
<path d="M1159.4 367.3A268.3 268.3 0 0 0 1153 373.6" stroke="#000" stroke-width="2"/>
<path d="M1171.8 605.5A178.9 178.9 0 0 0 1172.6 608.2" stroke="#000" stroke-width="1.9"/>
<path d="M1172.6 608.2A178.9 178.9 0 0 0 1289.5 731" stroke="#000" stroke-width="5"/>
<path d="M1174.1 417A223.6 223.6 0 0 0 1128.5 616.6" stroke="#000" stroke-width="1.9"/>
<path d="M1162.8 431.5A223.6 223.6 0 0 0 1128.5 616.6" stroke="#000" stroke-width="4.7"/>
<path d="M1145.7 459.8A223.6 223.6 0 0 0 1128.5 616.6" stroke="#000" stroke-width="4.7"/>
<path d="M1131.8 493.8A223.6 223.6 0 0 0 1128.5 616.6" stroke="#000" stroke-width="4.7"/>
<path d="M1128.9 503.9A223.6 223.6 0 0 0 1128.5 616.6" stroke="#000" stroke-width="4.7"/>
<path d="M1125.1 521A223.6 223.6 0 0 0 1128.5 616.6" stroke="#000" stroke-width="4.7"/>
<path d="M1122.9 536.1A223.6 223.6 0 0 0 1128.5 616.6" stroke="#000" stroke-width="4.7"/>
<path d="M1121.6 553.6A223.6 223.6 0 0 0 1128.5 616.6" stroke="#000" stroke-width="4.7"/>
<path d="M1128.5 616.6A223.6 223.6 0 0 0 1135.9 640" stroke="#000" stroke-width="4.7"/>
<path d="M1128.5 616.6A223.6 223.6 0 0 0 1173.3 704.1" stroke="#000" stroke-width="4.7"/>
<path d="M1128.5 616.6A223.6 223.6 0 0 0 1177.6 709.2" stroke="#000" stroke-width="4.7"/>
<path d="M1128.5 616.6A223.6 223.6 0 0 0 1187 719.1" stroke="#000" stroke-width="4.7"/>
<path d="M1128.5 616.6A223.6 223.6 0 0 0 1231.3 753.5" stroke="#000" stroke-width="4.7"/>
<path d="M1146.6 380.4A268.3 268.3 0 0 0 1139.9 388.2" stroke="#000" stroke-width="2.1"/>
<path d="M1139.9 388.2A268.3 268.3 0 0 0 1137.5 391.1" stroke="#000" stroke-width="1.9"/>
<path d="M1116.1 421.2A268.3 268.3 0 0 0 1105.8 439.6" stroke="#000" stroke-width="2.1"/>
<path d="M1108.4 434.6A268.3 268.3 0 0 0 1105.8 439.6" stroke="#000" stroke-width="1.9"/>
<path d="M1106.2 438.8A268.3 268.3 0 0 0 1105.8 439.6" stroke="#000" stroke-width="2.3"/>
<path d="M1105.8 439.6A268.3 268.3 0 0 0 1100.1 451.6" stroke="#000" stroke-width="1.4"/>
<path d="M1105.8 439.6A268.3 268.3 0 0 0 1094.6 464.8" stroke="#000" stroke-width="2.2"/>
<path d="M1086.6 489A268.3 268.3 0 0 0 1085.7 492.5" stroke="#000" stroke-width="2.3"/>
<path d="M1085.7 492.5A268.3 268.3 0 0 0 1085.6 492.8" stroke="#000" stroke-width="1.4"/>
<path d="M1085.7 492.5A268.3 268.3 0 0 0 1084.6 496.7" stroke="#000" stroke-width="1.4"/>
<path d="M1085.7 492.5A268.3 268.3 0 0 0 1083.7 500.5" stroke="#000" stroke-width="2.1"/>
<path d="M1082.5 505.7A268.3 268.3 0 0 0 1081.1 513" stroke="#000" stroke-width="1.4"/>
<path d="M1081.6 510.3A268.3 268.3 0 0 0 1081.1 513" stroke="#000" stroke-width="1.6"/>
<path d="M1081.1 513A268.3 268.3 0 0 0 1080.8 514.9" stroke="#000" stroke-width="1.7"/>
<path d="M1081.1 513A268.3 268.3 0 0 0 1080 519.5" stroke="#000" stroke-width="2.1"/>
<path d="M1079.2 525A268.3 268.3 0 0 0 1078.5 531.1" stroke="#000" stroke-width="2"/>
<path d="M1078.6 529.7A268.3 268.3 0 0 0 1078.5 531.1" stroke="#000" stroke-width="1.6"/>
<path d="M1078.5 531.1A268.3 268.3 0 0 0 1078.1 534.4" stroke="#000" stroke-width="1.6"/>
<path d="M1078.5 531.1A268.3 268.3 0 0 0 1077.7 539" stroke="#000" stroke-width="2.3"/>
<path d="M1077.3 544.6A268.3 268.3 0 0 0 1076.9 552.1" stroke="#000" stroke-width="1.4"/>
<path d="M1076.9 552.1A268.3 268.3 0 0 0 1076.9 554.1" stroke="#000" stroke-width="2"/>
<path d="M1076.9 552.1A268.3 268.3 0 0 0 1076.8 562.1" stroke="#000" stroke-width="1.6"/>
<path d="M1077 571.3A268.3 268.3 0 0 0 1094.1 655.8" stroke="#000" stroke-width="1.9"/>
<path d="M1077.3 577.8A268.3 268.3 0 0 0 1094.1 655.8" stroke="#000" stroke-width="1.5"/>
<path d="M1078.4 590.6A268.3 268.3 0 0 0 1094.1 655.8" stroke="#000" stroke-width="2.3"/>
<path d="M1079.9 601.6A268.3 268.3 0 0 0 1094.1 655.8" stroke="#000" stroke-width="2.4"/>
<path d="M1080.4 605.2A268.3 268.3 0 0 0 1094.1 655.8" stroke="#000" stroke-width="1.4"/>
<path d="M1081.6 611.5A268.3 268.3 0 0 0 1094.1 655.8" stroke="#000" stroke-width="1.8"/>
<path d="M1082.9 617.8A268.3 268.3 0 0 0 1094.1 655.8" stroke="#000" stroke-width="2.1"/>
<path d="M1083.9 622.3A268.3 268.3 0 0 0 1094.1 655.8" stroke="#000" stroke-width="1.7"/>
<path d="M1086.4 632.3A268.3 268.3 0 0 0 1094.1 655.8" stroke="#000" stroke-width="2.3"/>
<path d="M1087.7 636.8A268.3 268.3 0 0 0 1094.1 655.8" stroke="#000" stroke-width="1.9"/>
<path d="M1088.8 640.3A268.3 268.3 0 0 0 1094.1 655.8" stroke="#000" stroke-width="1.5"/>
<path d="M1089.9 643.9A268.3 268.3 0 0 0 1094.1 655.8" stroke="#000" stroke-width="1.9"/>
<path d="M1091.1 647.5A268.3 268.3 0 0 0 1094.1 655.8" stroke="#000" stroke-width="2"/>
<path d="M1092.6 651.9A268.3 268.3 0 0 0 1094.1 655.8" stroke="#000" stroke-width="1.7"/>
<path d="M1094.1 655.8A268.3 268.3 0 0 0 1098.9 667.7" stroke="#000" stroke-width="2"/>
<path d="M1094.1 655.8A268.3 268.3 0 0 0 1106.1 683" stroke="#000" stroke-width="2.2"/>
<path d="M1094.1 655.8A268.3 268.3 0 0 0 1108.8 688.1" stroke="#000" stroke-width="1.9"/>
<path d="M1094.1 655.8A268.3 268.3 0 0 0 1112 693.9" stroke="#000" stroke-width="1.9"/>
<path d="M1094.1 655.8A268.3 268.3 0 0 0 1115.3 699.6" stroke="#000" stroke-width="2.2"/>
<path d="M1094.1 655.8A268.3 268.3 0 0 0 1117.3 702.8" stroke="#000" stroke-width="2.1"/>
<path d="M1094.1 655.8A268.3 268.3 0 0 0 1120.3 707.5" stroke="#000" stroke-width="1.9"/>
<path d="M1094.1 655.8A268.3 268.3 0 0 0 1124.9 714.3" stroke="#000" stroke-width="2.3"/>
<path d="M1094.1 655.8A268.3 268.3 0 0 0 1129 720.1" stroke="#000" stroke-width="1.5"/>
<path d="M1094.1 655.8A268.3 268.3 0 0 0 1131.1 722.9" stroke="#000" stroke-width="2.2"/>
<path d="M1094.1 655.8A268.3 268.3 0 0 0 1134.2 726.9" stroke="#000" stroke-width="1.5"/>
<path d="M1142.8 737.3A268.3 268.3 0 0 0 1144.1 738.8" stroke="#000" stroke-width="2.4"/>
<path d="M1144.1 738.8A268.3 268.3 0 0 0 1145.2 739.9" stroke="#000" stroke-width="2"/>
<path d="M1152.4 747.7A268.3 268.3 0 0 0 1155.4 750.7" stroke="#000" stroke-width="1.7"/>
<path d="M1155.4 750.7A268.3 268.3 0 0 0 1160.1 755.3" stroke="#000" stroke-width="2.1"/>
<path d="M1167.3 761.9A268.3 268.3 0 0 0 1208.5 792" stroke="#000" stroke-width="2.2"/>
<path d="M1171.4 765.5A268.3 268.3 0 0 0 1208.5 792" stroke="#000" stroke-width="1.6"/>
<path d="M1174.7 768.2A268.3 268.3 0 0 0 1208.5 792" stroke="#000" stroke-width="1.7"/>
<path d="M1178 771A268.3 268.3 0 0 0 1208.5 792" stroke="#000" stroke-width="1.5"/>
<path d="M1181.4 773.6A268.3 268.3 0 0 0 1208.5 792" stroke="#000" stroke-width="1.9"/>
<path d="M1184.9 776.2A268.3 268.3 0 0 0 1208.5 792" stroke="#000" stroke-width="1.5"/>
<path d="M1188.3 778.8A268.3 268.3 0 0 0 1208.5 792" stroke="#000" stroke-width="1.5"/>
<path d="M1191.9 781.3A268.3 268.3 0 0 0 1208.5 792" stroke="#000" stroke-width="1.6"/>
<path d="M1195.4 783.7A268.3 268.3 0 0 0 1208.5 792" stroke="#000" stroke-width="1.8"/>
<path d="M1200.8 787.2A268.3 268.3 0 0 0 1208.5 792" stroke="#000" stroke-width="1.7"/>
<path d="M1206.9 791A268.3 268.3 0 0 0 1208.5 792" stroke="#000" stroke-width="1.8"/>
<path d="M1208.5 792A268.3 268.3 0 0 0 1213.6 794.9" stroke="#000" stroke-width="2.4"/>
<path d="M1208.5 792A268.3 268.3 0 0 0 1219.8 798.2" stroke="#000" stroke-width="2.1"/>
<path d="M1208.5 792A268.3 268.3 0 0 0 1231.3 804" stroke="#000" stroke-width="2.3"/>
<path d="M1208.5 792A268.3 268.3 0 0 0 1243.2 809.2" stroke="#000" stroke-width="1.5"/>
<path d="M1208.5 792A268.3 268.3 0 0 0 1248.1 811.2" stroke="#000" stroke-width="1.7"/>
<path d="M1208.5 792A268.3 268.3 0 0 0 1253.1 813.1" stroke="#000" stroke-width="1.4"/>
<path d="M1272.5 819.3A268.3 268.3 0 0 0 1291.6 823.9" stroke="#000" stroke-width="1.6"/>
<path d="M1277.8 820.7A268.3 268.3 0 0 0 1291.6 823.9" stroke="#000" stroke-width="1.4"/>
<path d="M1284.2 822.3A268.3 268.3 0 0 0 1291.6 823.9" stroke="#000" stroke-width="1.3"/>
<path d="M1290.7 823.7A268.3 268.3 0 0 0 1291.6 823.9" stroke="#000" stroke-width="2"/>
<path d="M1291.6 823.9A268.3 268.3 0 0 0 1295 824.6" stroke="#000" stroke-width="1.9"/>
<path d="M1291.6 823.9A268.3 268.3 0 0 0 1299.9 825.5" stroke="#000" stroke-width="2.2"/>
<path d="M1291.6 823.9A268.3 268.3 0 0 0 1303.9 826.1" stroke="#000" stroke-width="2.4"/>
<path d="M1291.6 823.9A268.3 268.3 0 0 0 1308.3 826.8" stroke="#000" stroke-width="1.6"/>
<path d="M1332 739.4A178.9 178.9 0 0 0 1347.9 739.9" stroke="#000" stroke-width="3.5"/>
<path d="M1341.4 739.8A178.9 178.9 0 0 0 1347.9 739.9" stroke="#000" stroke-width="3.5"/>
<path d="M1347.9 739.9A178.9 178.9 0 0 0 1356.3 739.5" stroke="#000" stroke-width="3.5"/>
<path d="M1314.6 827.6A268.3 268.3 0 0 0 1325 828.6" stroke="#000" stroke-width="1.5"/>
<path d="M1324.4 828.5A268.3 268.3 0 0 0 1325 828.6" stroke="#000" stroke-width="1.8"/>
<path d="M1336.6 829.2A268.3 268.3 0 0 0 1339.5 829.3" stroke="#000" stroke-width="2.1"/>
<path d="M1339.5 829.3A268.3 268.3 0 0 0 1342 829.3" stroke="#000" stroke-width="1.9"/>
<path d="M1339.5 829.3A268.3 268.3 0 0 0 1345.6 829.3" stroke="#000" stroke-width="2.1"/>
<path d="M1357.9 829A268.3 268.3 0 0 0 1361.9 828.8" stroke="#000" stroke-width="1.8"/>
<path d="M1361.9 828.8A268.3 268.3 0 0 0 1371 828.1" stroke="#000" stroke-width="1.7"/>
<path d="M1371.5 737.9A178.9 178.9 0 0 0 1382.9 735.8" stroke="#000" stroke-width="3.5"/>
<path d="M1382.9 735.8A178.9 178.9 0 0 0 1385.6 735.2" stroke="#000" stroke-width="3.5"/>
<path d="M1387.4 780.6A223.6 223.6 0 0 0 1395.8 778.8" stroke="#000" stroke-width="3.5"/>
<path d="M1395.8 778.8A223.6 223.6 0 0 0 1400.7 777.6" stroke="#000" stroke-width="3.5"/>
<path d="M1392.1 825.2A268.3 268.3 0 0 0 1395.8 824.5" stroke="#000" stroke-width="1.6"/>
<path d="M1395.8 824.5A268.3 268.3 0 0 0 1397.6 824.1" stroke="#000" stroke-width="2.2"/>
<path d="M1406.6 822.2A268.3 268.3 0 0 0 1411.8 820.9" stroke="#000" stroke-width="1.9"/>
<path d="M1411.8 820.9A268.3 268.3 0 0 0 1413.3 820.5" stroke="#000" stroke-width="1.7"/>
<path d="M1411.8 820.9A268.3 268.3 0 0 0 1417.2 819.5" stroke="#000" stroke-width="1.7"/>
<path d="M1530.8 754.7A268.3 268.3 0 0 0 1532.8 752.7" stroke="#008000" stroke-width="6.3"/>
</g>
<g stroke="#000" stroke-width="1.3">
<rect x="1343.8" y="559.7" width="2.6" height="2.6" fill="#bfbf00" stroke-width="0.4"/>
<circle cx="1389.8" cy="561" r="5.6" fill="#bfbf00"/>
<circle cx="1300.4" cy="561" r="8.8" fill="#bfbf00"/>
<circle cx="1434.5" cy="560.9" r="5.8" fill="#bfbf00"/>
<circle cx="1434.5" cy="558.7" r="4.9" fill="#bfbf00"/>
<circle cx="1432.4" cy="580.4" r="3.2" fill="#bfbf00"/>
<circle cx="1432.8" cy="578.5" r="3.8" fill="#bfbf00"/>
<circle cx="1433.2" cy="576.3" r="4.5" fill="#bfbf00"/>
<circle cx="1433.6" cy="574.2" r="5.3" fill="#bfbf00"/>
<circle cx="1433.9" cy="572" r="5.7" fill="#bfbf00"/>
<circle cx="1434.1" cy="569.7" r="5.2" fill="#bfbf00"/>
<circle cx="1434.3" cy="567.5" r="3.9" fill="#bfbf00"/>
<circle cx="1434.4" cy="565.3" r="5.8" fill="#bfbf00"/>
<circle cx="1434.5" cy="563.1" r="4.8" fill="#bfbf00"/>
<circle cx="1430.6" cy="534.9" r="6.8" fill="#bfbf00"/>
<circle cx="1389.5" cy="483.4" r="7.6" fill="#bfbf00"/>
<circle cx="1345.1" cy="471.6" r="2.8" fill="#bfbf00"/>
<circle cx="1479.3" cy="560.8" r="3.8" fill="#bfbf00"/>
<circle cx="1479.2" cy="557.5" r="3.9" fill="#bfbf00"/>
<circle cx="1407.7" cy="679.7" r="6.8" fill="#bfbf00"/>
<circle cx="1426.6" cy="667.5" r="5.6" fill="#bfbf00"/>
<circle cx="1447.3" cy="647.9" r="6.2" fill="#bfbf00"/>
<circle cx="1476.1" cy="590" r="3.9" fill="#bfbf00"/>
<circle cx="1476.7" cy="587.3" r="4" fill="#bfbf00"/>
<circle cx="1477.3" cy="584" r="4.7" fill="#bfbf00"/>
<circle cx="1477.8" cy="580.7" r="3.7" fill="#bfbf00"/>
<circle cx="1478.3" cy="577.4" r="5.3" fill="#bfbf00"/>
<circle cx="1478.6" cy="574.1" r="3.8" fill="#bfbf00"/>
<circle cx="1478.9" cy="570.8" r="5.9" fill="#bfbf00"/>
<circle cx="1479.1" cy="567.5" r="3.7" fill="#bfbf00"/>
<circle cx="1479.2" cy="564.1" r="4.1" fill="#bfbf00"/>
<circle cx="1464.7" cy="500.3" r="5.6" fill="#bfbf00"/>
<circle cx="1419.7" cy="449.5" r="8.5" fill="#bfbf00"/>
<circle cx="1364.5" cy="428.2" r="2.9" fill="#bfbf00"/>
<circle cx="1360.8" cy="427.8" r="2.9" fill="#bfbf00"/>
<circle cx="1357.3" cy="427.4" r="4.2" fill="#bfbf00"/>
<circle cx="1354" cy="427.1" r="3.6" fill="#bfbf00"/>
<circle cx="1351" cy="427" r="3.6" fill="#bfbf00"/>
<circle cx="1348.1" cy="426.9" r="4.1" fill="#bfbf00"/>
<circle cx="1345.6" cy="426.8" r="4.2" fill="#bfbf00"/>
<circle cx="1343" cy="426.9" r="2.9" fill="#bfbf00"/>
<circle cx="1215.7" cy="596.4" r="7.3" fill="#bfbf00"/>
<circle cx="1318.8" cy="692.6" r="5.6" fill="#bfbf00"/>
<circle cx="1347.2" cy="695.1" r="6.2" fill="#bfbf00"/>
<circle cx="1373.5" cy="692.1" r="5.6" fill="#bfbf00"/>
<circle cx="1524" cy="560.8" r="5.5" fill="#bfbf00"/>
<circle cx="1523.9" cy="556.3" r="4.6" fill="#bfbf00"/>
<circle cx="1415.4" cy="725.5" r="5.4" fill="#bfbf00"/>
<circle cx="1419.3" cy="723.8" r="3.3" fill="#bfbf00"/>
<circle cx="1427.9" cy="719.5" r="4.4" fill="#bfbf00"/>
<circle cx="1437.9" cy="713.9" r="5.1" fill="#bfbf00"/>
<circle cx="1449.3" cy="706.4" r="5" fill="#bfbf00"/>
<circle cx="1458.2" cy="699.6" r="4.9" fill="#bfbf00"/>
<circle cx="1462.2" cy="696.2" r="3.7" fill="#bfbf00"/>
<circle cx="1475.9" cy="683" r="4.3" fill="#bfbf00"/>
<circle cx="1478.3" cy="680.3" r="5.8" fill="#bfbf00"/>
<circle cx="1481.4" cy="676.8" r="5.1" fill="#bfbf00"/>
<circle cx="1486.3" cy="670.9" r="3.9" fill="#bfbf00"/>
<circle cx="1514" cy="619.9" r="4.5" fill="#bfbf00"/>
<circle cx="1515.1" cy="616.8" r="3.4" fill="#bfbf00"/>
<circle cx="1516.3" cy="613" r="4" fill="#bfbf00"/>
<circle cx="1517.4" cy="609.2" r="3.6" fill="#bfbf00"/>
<circle cx="1518.4" cy="605.4" r="5.7" fill="#bfbf00"/>
<circle cx="1519.7" cy="599.7" r="3.6" fill="#bfbf00"/>
<circle cx="1520.5" cy="596.1" r="3.7" fill="#bfbf00"/>
<circle cx="1521.3" cy="591.7" r="5.6" fill="#bfbf00"/>
<circle cx="1522" cy="587.3" r="3.6" fill="#bfbf00"/>
<circle cx="1522.6" cy="582.9" r="4.9" fill="#bfbf00"/>
<circle cx="1523.1" cy="578.5" r="4.3" fill="#bfbf00"/>
<circle cx="1523.5" cy="574.1" r="5.7" fill="#bfbf00"/>
<circle cx="1523.8" cy="569.6" r="4.8" fill="#bfbf00"/>
<circle cx="1523.9" cy="565.2" r="4.7" fill="#bfbf00"/>
<circle cx="1523.3" cy="545.1" r="4.5" fill="#bfbf00"/>
<circle cx="1516.5" cy="509.9" r="3.3" fill="#bfbf00"/>
<circle cx="1514" cy="502.2" r="3.3" fill="#bfbf00"/>
<circle cx="1511.6" cy="495.7" r="3.9" fill="#bfbf00"/>
<circle cx="1507.5" cy="486" r="5.6" fill="#bfbf00"/>
<circle cx="1501.2" cy="473.7" r="5" fill="#bfbf00"/>
<circle cx="1444.9" cy="412.5" r="8.5" fill="#bfbf00"/>
<circle cx="1370.9" cy="384" r="3.1" fill="#bfbf00"/>
<circle cx="1366" cy="383.3" r="4.1" fill="#bfbf00"/>
<circle cx="1361.3" cy="382.9" r="3.6" fill="#bfbf00"/>
<circle cx="1357" cy="382.5" r="4.2" fill="#bfbf00"/>
<circle cx="1352.9" cy="382.3" r="3.7" fill="#bfbf00"/>
<circle cx="1349.2" cy="382.2" r="3.3" fill="#bfbf00"/>
<circle cx="1345.7" cy="382.1" r="2.9" fill="#bfbf00"/>
<circle cx="1342.3" cy="382.1" r="4.2" fill="#bfbf00"/>
<circle cx="1310.4" cy="385.5" r="6.2" fill="#bfbf00"/>
<circle cx="1171.8" cy="605.5" r="6.8" fill="#bfbf00"/>
<circle cx="1289.5" cy="731" r="2.8" fill="#bfbf00"/>
<circle cx="1310" cy="736.4" r="5.6" fill="#bfbf00"/>
<circle cx="1332" cy="739.4" r="5" fill="#bfbf00"/>
<circle cx="1341.4" cy="739.8" r="4.5" fill="#bfbf00"/>
<circle cx="1356.3" cy="739.5" r="6.2" fill="#bfbf00"/>
<circle cx="1371.5" cy="737.9" r="2.8" fill="#bfbf00"/>
<circle cx="1385.6" cy="735.2" r="5.6" fill="#bfbf00"/>
<circle cx="1568.7" cy="560.7" r="5.8" fill="#bfbf00"/>
<circle cx="1568.6" cy="555.1" r="5.4" fill="#bfbf00"/>
<circle cx="1416.8" cy="772.8" r="3.6" fill="#bfbf00"/>
<circle cx="1431" cy="767.4" r="2.9" fill="#bfbf00"/>
<circle cx="1433.2" cy="766.5" r="5.6" fill="#bfbf00"/>
<circle cx="1435.1" cy="765.7" r="4.6" fill="#bfbf00"/>
<circle cx="1437.9" cy="764.4" r="5.3" fill="#bfbf00"/>
<circle cx="1440.9" cy="763" r="6.1" fill="#bfbf00"/>
<circle cx="1443.8" cy="761.6" r="6" fill="#bfbf00"/>
<circle cx="1447.1" cy="760" r="4.9" fill="#bfbf00"/>
<circle cx="1450.3" cy="758.3" r="5.7" fill="#bfbf00"/>
<circle cx="1453.1" cy="756.8" r="5.5" fill="#bfbf00"/>
<circle cx="1455.7" cy="755.3" r="4.2" fill="#bfbf00"/>
<circle cx="1458.7" cy="753.6" r="5.4" fill="#bfbf00"/>
<circle cx="1461.3" cy="752" r="4.4" fill="#bfbf00"/>
<circle cx="1463.7" cy="750.5" r="5.1" fill="#bfbf00"/>
<circle cx="1468.3" cy="747.6" r="5.1" fill="#bfbf00"/>
<circle cx="1473.8" cy="743.8" r="6.4" fill="#bfbf00"/>
<circle cx="1478.3" cy="740.6" r="3.4" fill="#bfbf00"/>
<circle cx="1481.8" cy="737.9" r="3.6" fill="#bfbf00"/>
<circle cx="1485.5" cy="735" r="4.9" fill="#bfbf00"/>
<circle cx="1487.8" cy="733.1" r="6.2" fill="#bfbf00"/>
<circle cx="1490.5" cy="730.9" r="2.9" fill="#bfbf00"/>
<circle cx="1493.1" cy="728.6" r="4.7" fill="#bfbf00"/>
<circle cx="1508.6" cy="713.5" r="6.1" fill="#bfbf00"/>
<circle cx="1510.9" cy="711" r="6.1" fill="#bfbf00"/>
<circle cx="1512.6" cy="709.1" r="6.4" fill="#bfbf00"/>
<circle cx="1514.6" cy="706.8" r="5.8" fill="#bfbf00"/>
<circle cx="1516.8" cy="704.3" r="5" fill="#bfbf00"/>
<circle cx="1519.9" cy="700.5" r="4.7" fill="#bfbf00"/>
<circle cx="1522.8" cy="696.8" r="5.7" fill="#bfbf00"/>
<circle cx="1524.4" cy="694.6" r="3.7" fill="#bfbf00"/>
<circle cx="1547.7" cy="655.5" r="3.6" fill="#bfbf00"/>
<circle cx="1549.6" cy="651.4" r="5.5" fill="#bfbf00"/>
<circle cx="1556.2" cy="634.7" r="5.3" fill="#bfbf00"/>
<circle cx="1557.6" cy="630.7" r="3.5" fill="#bfbf00"/>
<circle cx="1559.1" cy="626" r="5.4" fill="#bfbf00"/>
<circle cx="1560.4" cy="621.2" r="5.4" fill="#bfbf00"/>
<circle cx="1561.5" cy="617.3" r="5.7" fill="#bfbf00"/>
<circle cx="1562.2" cy="614.4" r="4.2" fill="#bfbf00"/>
<circle cx="1563.4" cy="609.4" r="3.5" fill="#bfbf00"/>
<circle cx="1564.4" cy="604.8" r="5.8" fill="#bfbf00"/>
<circle cx="1565.4" cy="599.4" r="3.9" fill="#bfbf00"/>
<circle cx="1566.3" cy="593.9" r="3.8" fill="#bfbf00"/>
<circle cx="1567" cy="588.4" r="3.8" fill="#bfbf00"/>
<circle cx="1567.6" cy="582.9" r="3.8" fill="#bfbf00"/>
<circle cx="1568.1" cy="577.3" r="5.2" fill="#bfbf00"/>
<circle cx="1568.4" cy="571.8" r="3.7" fill="#bfbf00"/>
<circle cx="1568.6" cy="566.2" r="5.3" fill="#bfbf00"/>
<circle cx="1567.8" cy="541.5" r="4.5" fill="#bfbf00"/>
<circle cx="1562.8" cy="509.9" r="4.5" fill="#bfbf00"/>
<circle cx="1559.3" cy="496.7" r="5.8" fill="#bfbf00"/>
<circle cx="1556.4" cy="487.8" r="3.8" fill="#bfbf00"/>
<circle cx="1553.6" cy="480.3" r="6.7" fill="#bfbf00"/>
<circle cx="1551" cy="473.9" r="4.5" fill="#bfbf00"/>
<circle cx="1548.7" cy="468.7" r="6.7" fill="#bfbf00"/>
<circle cx="1546" cy="462.8" r="6.1" fill="#bfbf00"/>
<circle cx="1538.7" cy="449.2" r="3.5" fill="#bfbf00"/>
<circle cx="1514.4" cy="414.9" r="7.3" fill="#bfbf00"/>
<circle cx="1487.3" cy="388.5" r="5" fill="#bfbf00"/>
<circle cx="1482.8" cy="384.8" r="3.9" fill="#bfbf00"/>
<circle cx="1474" cy="378.3" r="5.6" fill="#bfbf00"/>
<circle cx="1466.9" cy="373.5" r="3.9" fill="#bfbf00"/>
<circle cx="1459.6" cy="368.9" r="5.6" fill="#bfbf00"/>
<circle cx="1404.5" cy="345.4" r="6.8" fill="#bfbf00"/>
<circle cx="1377.4" cy="339.7" r="3.7" fill="#bfbf00"/>
<circle cx="1371.2" cy="338.9" r="3.7" fill="#bfbf00"/>
<circle cx="1365.4" cy="338.3" r="4.2" fill="#bfbf00"/>
<circle cx="1359.9" cy="337.9" r="2.8" fill="#bfbf00"/>
<circle cx="1354.9" cy="337.6" r="3.8" fill="#bfbf00"/>
<circle cx="1350.2" cy="337.5" r="3.2" fill="#bfbf00"/>
<circle cx="1345.9" cy="337.4" r="3.6" fill="#bfbf00"/>
<circle cx="1341.6" cy="337.4" r="4.4" fill="#bfbf00"/>
<circle cx="1335.3" cy="337.6" r="6.6" fill="#bfbf00"/>
<circle cx="1329.6" cy="337.9" r="4.1" fill="#bfbf00"/>
<circle cx="1324.8" cy="338.3" r="5.7" fill="#bfbf00"/>
<circle cx="1319.3" cy="338.9" r="5.5" fill="#bfbf00"/>
<circle cx="1310.5" cy="340.1" r="7.3" fill="#bfbf00"/>
<circle cx="1303.8" cy="341.3" r="4.2" fill="#bfbf00"/>
<circle cx="1300.3" cy="341.9" r="5.7" fill="#bfbf00"/>
<circle cx="1294.8" cy="343.1" r="5.7" fill="#bfbf00"/>
<circle cx="1288" cy="344.8" r="3.8" fill="#bfbf00"/>
<circle cx="1283.4" cy="346.1" r="3.3" fill="#bfbf00"/>
<circle cx="1280" cy="347.1" r="6.5" fill="#bfbf00"/>
<circle cx="1275.8" cy="348.4" r="5.1" fill="#bfbf00"/>
<circle cx="1271.7" cy="349.8" r="6.8" fill="#bfbf00"/>
<circle cx="1266.1" cy="351.8" r="4" fill="#bfbf00"/>
<circle cx="1258.5" cy="354.9" r="5.1" fill="#bfbf00"/>
<circle cx="1202" cy="389.2" r="4.5" fill="#bfbf00"/>
<circle cx="1190.3" cy="399.6" r="6.2" fill="#bfbf00"/>
<circle cx="1174.1" cy="417" r="5.6" fill="#bfbf00"/>
<circle cx="1145.7" cy="459.8" r="5.6" fill="#bfbf00"/>
<circle cx="1131.8" cy="493.8" r="3.3" fill="#bfbf00"/>
<circle cx="1128.9" cy="503.9" r="6.2" fill="#bfbf00"/>
<circle cx="1125.1" cy="521" r="5.6" fill="#bfbf00"/>
<circle cx="1122.9" cy="536.1" r="5" fill="#bfbf00"/>
<circle cx="1121.6" cy="553.6" r="5.6" fill="#bfbf00"/>
<circle cx="1173.3" cy="704.1" r="5.6" fill="#bfbf00"/>
<circle cx="1177.6" cy="709.2" r="3.3" fill="#bfbf00"/>
<circle cx="1231.3" cy="753.5" r="7.3" fill="#bfbf00"/>
<circle cx="1275.6" cy="773.5" r="2.8" fill="#bfbf00"/>
<circle cx="1300.5" cy="780.1" r="6.2" fill="#bfbf00"/>
<circle cx="1328.3" cy="784" r="5.6" fill="#bfbf00"/>
<circle cx="1340.4" cy="784.6" r="5" fill="#bfbf00"/>
<circle cx="1359.1" cy="784.2" r="6.2" fill="#bfbf00"/>
<circle cx="1377" cy="782.3" r="2.8" fill="#bfbf00"/>
<circle cx="1387.4" cy="780.6" r="3.3" fill="#bfbf00"/>
<circle cx="1400.7" cy="777.6" r="5.6" fill="#bfbf00"/>
<circle cx="1613.4" cy="560.6" r="5.3" fill="#bfbf00"/>
<circle cx="1613.3" cy="554" r="4.9" fill="#bfbf00"/>
<circle cx="1422.2" cy="818" r="2.9" fill="#bfbf00"/>
<circle cx="1431.1" cy="815.2" r="5.3" fill="#bfbf00"/>
<circle cx="1439.9" cy="812" r="2.6" fill="#bfbf00"/>
<circle cx="1448.2" cy="808.7" r="5.7" fill="#bfbf00"/>
<circle cx="1450.8" cy="807.6" r="3.5" fill="#bfbf00"/>
<circle cx="1453.1" cy="806.6" r="3.8" fill="#bfbf00"/>
<circle cx="1456.4" cy="805.1" r="5.3" fill="#bfbf00"/>
<circle cx="1460.1" cy="803.4" r="5.2" fill="#bfbf00"/>
<circle cx="1463.6" cy="801.7" r="4.5" fill="#bfbf00"/>
<circle cx="1467.4" cy="799.8" r="4.1" fill="#bfbf00"/>
<circle cx="1471.3" cy="797.8" r="3.2" fill="#bfbf00"/>
<circle cx="1474.7" cy="795.9" r="5.1" fill="#bfbf00"/>
<circle cx="1477.8" cy="794.2" r="5.5" fill="#bfbf00"/>
<circle cx="1481.4" cy="792.1" r="2.6" fill="#bfbf00"/>
<circle cx="1484.6" cy="790.2" r="2.4" fill="#bfbf00"/>
<circle cx="1487.5" cy="788.4" r="4.5" fill="#bfbf00"/>
<circle cx="1493" cy="784.9" r="4.8" fill="#bfbf00"/>
<circle cx="1497.5" cy="781.8" r="4.9" fill="#bfbf00"/>
<circle cx="1501.6" cy="778.9" r="3.7" fill="#bfbf00"/>
<circle cx="1505" cy="776.5" r="3.7" fill="#bfbf00"/>
<circle cx="1507.7" cy="774.4" r="4.1" fill="#bfbf00"/>
<circle cx="1510.6" cy="772.2" r="4.3" fill="#bfbf00"/>
<circle cx="1513.6" cy="769.8" r="5" fill="#bfbf00"/>
<circle cx="1516.4" cy="767.6" r="2.9" fill="#bfbf00"/>
<circle cx="1519.6" cy="764.9" r="5.7" fill="#bfbf00"/>
<circle cx="1522.7" cy="762.1" r="4.4" fill="#bfbf00"/>
<circle cx="1527.6" cy="757.7" r="3.4" fill="#bfbf00"/>
<circle cx="1535.1" cy="750.5" r="3.2" fill="#bfbf00"/>
<circle cx="1538.2" cy="747.3" r="2.9" fill="#bfbf00"/>
<circle cx="1541.3" cy="744" r="5" fill="#bfbf00"/>
<circle cx="1544.1" cy="741" r="3.8" fill="#bfbf00"/>
<circle cx="1546.1" cy="738.7" r="3.2" fill="#bfbf00"/>
<circle cx="1548.5" cy="736" r="4.5" fill="#bfbf00"/>
<circle cx="1551.1" cy="732.9" r="3.9" fill="#bfbf00"/>
<circle cx="1553.5" cy="730" r="4.9" fill="#bfbf00"/>
<circle cx="1556.1" cy="726.7" r="2.7" fill="#bfbf00"/>
<circle cx="1558.3" cy="723.9" r="4.5" fill="#bfbf00"/>
<circle cx="1560.3" cy="721.3" r="4.7" fill="#bfbf00"/>
<circle cx="1562.6" cy="718.1" r="2.5" fill="#bfbf00"/>
<circle cx="1565" cy="714.7" r="3.8" fill="#bfbf00"/>
<circle cx="1567.4" cy="711.2" r="2.7" fill="#bfbf00"/>
<circle cx="1579.5" cy="691.6" r="5.3" fill="#bfbf00"/>
<circle cx="1581.6" cy="687.7" r="2.7" fill="#bfbf00"/>
<circle cx="1583.7" cy="683.8" r="4.5" fill="#bfbf00"/>
<circle cx="1585.7" cy="679.8" r="3.1" fill="#bfbf00"/>
<circle cx="1587.5" cy="676.1" r="4.6" fill="#bfbf00"/>
<circle cx="1589" cy="672.7" r="3.5" fill="#bfbf00"/>
<circle cx="1590.5" cy="669.5" r="5.6" fill="#bfbf00"/>
<circle cx="1594.5" cy="660" r="5.4" fill="#bfbf00"/>
<circle cx="1596.3" cy="655.2" r="2.6" fill="#bfbf00"/>
<circle cx="1598.4" cy="649.4" r="3.4" fill="#bfbf00"/>
<circle cx="1600.1" cy="644.6" r="4.7" fill="#bfbf00"/>
<circle cx="1601.3" cy="640.7" r="2.8" fill="#bfbf00"/>
<circle cx="1602.4" cy="637.2" r="4.9" fill="#bfbf00"/>
<circle cx="1603.5" cy="633.2" r="4.3" fill="#bfbf00"/>
<circle cx="1604.8" cy="628.6" r="3.4" fill="#bfbf00"/>
<circle cx="1605.6" cy="625.1" r="5.6" fill="#bfbf00"/>
<circle cx="1608.2" cy="613.6" r="4.2" fill="#bfbf00"/>
<circle cx="1609.4" cy="607" r="4.2" fill="#bfbf00"/>
<circle cx="1610.5" cy="600.5" r="5.7" fill="#bfbf00"/>
<circle cx="1611.4" cy="593.9" r="4.7" fill="#bfbf00"/>
<circle cx="1612.1" cy="587.2" r="5.5" fill="#bfbf00"/>
<circle cx="1612.7" cy="580.6" r="3.8" fill="#bfbf00"/>
<circle cx="1613.1" cy="574" r="4.4" fill="#bfbf00"/>
<circle cx="1613.3" cy="567.3" r="5.4" fill="#bfbf00"/>
<circle cx="1613" cy="546.6" r="3.8" fill="#bfbf00"/>
<circle cx="1612.8" cy="542.2" r="3.9" fill="#bfbf00"/>
<circle cx="1612.2" cy="535.5" r="4.6" fill="#bfbf00"/>
<circle cx="1607" cy="502.6" r="4.9" fill="#bfbf00"/>
<circle cx="1605.6" cy="496.7" r="4.5" fill="#bfbf00"/>
<circle cx="1604.4" cy="492.1" r="2.8" fill="#bfbf00"/>
<circle cx="1602.8" cy="486.4" r="4.8" fill="#bfbf00"/>
<circle cx="1601.4" cy="481.4" r="5.2" fill="#bfbf00"/>
<circle cx="1599.5" cy="475.6" r="4.4" fill="#bfbf00"/>
<circle cx="1597.8" cy="470.8" r="3.9" fill="#bfbf00"/>
<circle cx="1595.3" cy="464.2" r="5" fill="#bfbf00"/>
<circle cx="1592.9" cy="458" r="5.6" fill="#bfbf00"/>
<circle cx="1591.5" cy="454.8" r="5.6" fill="#bfbf00"/>
<circle cx="1589.5" cy="450.2" r="4.9" fill="#bfbf00"/>
<circle cx="1587.1" cy="445.1" r="3" fill="#bfbf00"/>
<circle cx="1585.2" cy="441.2" r="6.2" fill="#bfbf00"/>
<circle cx="1582.6" cy="436.2" r="3.6" fill="#bfbf00"/>
<circle cx="1580.4" cy="432" r="4.9" fill="#bfbf00"/>
<circle cx="1578.1" cy="427.9" r="3.1" fill="#bfbf00"/>
<circle cx="1575.7" cy="423.8" r="4.2" fill="#bfbf00"/>
<circle cx="1572.6" cy="418.7" r="5.9" fill="#bfbf00"/>
<circle cx="1550.3" cy="388.2" r="7.3" fill="#bfbf00"/>
<circle cx="1525.3" cy="362.2" r="3.9" fill="#bfbf00"/>
<circle cx="1520.9" cy="358.3" r="3.1" fill="#bfbf00"/>
<circle cx="1516.3" cy="354.4" r="4.4" fill="#bfbf00"/>
<circle cx="1513.2" cy="351.9" r="3" fill="#bfbf00"/>
<circle cx="1510.3" cy="349.6" r="2.5" fill="#bfbf00"/>
<circle cx="1507.3" cy="347.3" r="5.6" fill="#bfbf00"/>
<circle cx="1504.3" cy="345" r="2.8" fill="#bfbf00"/>
<circle cx="1501.3" cy="342.8" r="4.2" fill="#bfbf00"/>
<circle cx="1498.2" cy="340.7" r="4.7" fill="#bfbf00"/>
<circle cx="1495.1" cy="338.6" r="5.9" fill="#bfbf00"/>
<circle cx="1492" cy="336.5" r="5.5" fill="#bfbf00"/>
<circle cx="1488.9" cy="334.4" r="4.5" fill="#bfbf00"/>
<circle cx="1485.7" cy="332.5" r="3.6" fill="#bfbf00"/>
<circle cx="1482.5" cy="330.5" r="3.6" fill="#bfbf00"/>
<circle cx="1479.3" cy="328.6" r="5.1" fill="#bfbf00"/>
<circle cx="1467.7" cy="322.4" r="2.9" fill="#bfbf00"/>
<circle cx="1431.1" cy="306.8" r="5" fill="#bfbf00"/>
<circle cx="1422.8" cy="304.2" r="6" fill="#bfbf00"/>
<circle cx="1418.7" cy="303" r="5.2" fill="#bfbf00"/>
<circle cx="1414.5" cy="301.8" r="5.5" fill="#bfbf00"/>
<circle cx="1410.3" cy="300.7" r="3" fill="#bfbf00"/>
<circle cx="1383.8" cy="295.5" r="3.5" fill="#bfbf00"/>
<circle cx="1376.4" cy="294.5" r="3.1" fill="#bfbf00"/>
<circle cx="1369.4" cy="293.8" r="3.1" fill="#bfbf00"/>
<circle cx="1362.9" cy="293.3" r="4.4" fill="#bfbf00"/>
<circle cx="1356.8" cy="292.9" r="3" fill="#bfbf00"/>
<circle cx="1351.2" cy="292.7" r="4.2" fill="#bfbf00"/>
<circle cx="1346" cy="292.7" r="2.9" fill="#bfbf00"/>
<circle cx="1340.9" cy="292.7" r="4" fill="#bfbf00"/>
<circle cx="1335" cy="292.9" r="4.9" fill="#bfbf00"/>
<circle cx="1331.8" cy="293" r="5.5" fill="#bfbf00"/>
<circle cx="1326.5" cy="293.3" r="4" fill="#bfbf00"/>
<circle cx="1320.8" cy="293.8" r="6.1" fill="#bfbf00"/>
<circle cx="1316.4" cy="294.2" r="3.7" fill="#bfbf00"/>
<circle cx="1311.9" cy="294.7" r="4.9" fill="#bfbf00"/>
<circle cx="1307.6" cy="295.3" r="5.5" fill="#bfbf00"/>
<circle cx="1303.6" cy="295.9" r="3.1" fill="#bfbf00"/>
<circle cx="1299.6" cy="296.6" r="5.8" fill="#bfbf00"/>
<circle cx="1295.5" cy="297.3" r="4.3" fill="#bfbf00"/>
<circle cx="1291.4" cy="298.1" r="6.1" fill="#bfbf00"/>
<circle cx="1287" cy="299" r="6" fill="#bfbf00"/>
<circle cx="1282.5" cy="300.1" r="3.2" fill="#bfbf00"/>
<circle cx="1278.4" cy="301.1" r="3.7" fill="#bfbf00"/>
<circle cx="1274.9" cy="302" r="3.8" fill="#bfbf00"/>
<circle cx="1271" cy="303.1" r="6.1" fill="#bfbf00"/>
<circle cx="1267" cy="304.3" r="4.5" fill="#bfbf00"/>
<circle cx="1262" cy="305.9" r="3.5" fill="#bfbf00"/>
<circle cx="1257" cy="307.5" r="5.5" fill="#bfbf00"/>
<circle cx="1250.3" cy="310" r="5.8" fill="#bfbf00"/>
<circle cx="1245.7" cy="311.8" r="4.5" fill="#bfbf00"/>
<circle cx="1238.8" cy="314.6" r="2.6" fill="#bfbf00"/>
<circle cx="1232.4" cy="317.5" r="5.5" fill="#bfbf00"/>
<circle cx="1228.7" cy="319.2" r="3.2" fill="#bfbf00"/>
<circle cx="1225.1" cy="321" r="3" fill="#bfbf00"/>
<circle cx="1189.4" cy="342.4" r="5.3" fill="#bfbf00"/>
<circle cx="1185.1" cy="345.6" r="6.2" fill="#bfbf00"/>
<circle cx="1180.9" cy="348.8" r="4" fill="#bfbf00"/>
<circle cx="1175" cy="353.5" r="4.4" fill="#bfbf00"/>
<circle cx="1169.6" cy="358" r="5.8" fill="#bfbf00"/>
<circle cx="1164.6" cy="362.5" r="5.3" fill="#bfbf00"/>
<circle cx="1161.2" cy="365.6" r="4.7" fill="#bfbf00"/>
<circle cx="1157.1" cy="369.6" r="2.9" fill="#bfbf00"/>
<circle cx="1153" cy="373.6" r="4" fill="#bfbf00"/>
<circle cx="1146.6" cy="380.4" r="3.4" fill="#bfbf00"/>
<circle cx="1137.5" cy="391.1" r="4" fill="#bfbf00"/>
<circle cx="1116.1" cy="421.2" r="2.9" fill="#bfbf00"/>
<circle cx="1108.4" cy="434.6" r="3.8" fill="#bfbf00"/>
<circle cx="1106.2" cy="438.8" r="2.7" fill="#bfbf00"/>
<circle cx="1100.1" cy="451.6" r="5.8" fill="#bfbf00"/>
<circle cx="1094.6" cy="464.8" r="3.2" fill="#bfbf00"/>
<circle cx="1090.2" cy="477.2" r="3.8" fill="#bfbf00"/>
<circle cx="1086.6" cy="489" r="3.6" fill="#bfbf00"/>
<circle cx="1085.6" cy="492.8" r="5.7" fill="#bfbf00"/>
<circle cx="1084.6" cy="496.7" r="3" fill="#bfbf00"/>
<circle cx="1083.7" cy="500.5" r="6" fill="#bfbf00"/>
<circle cx="1082.5" cy="505.7" r="3.2" fill="#bfbf00"/>
<circle cx="1081.6" cy="510.3" r="3.4" fill="#bfbf00"/>
<circle cx="1080.8" cy="514.9" r="5.4" fill="#bfbf00"/>
<circle cx="1080" cy="519.5" r="4.9" fill="#bfbf00"/>
<circle cx="1079.2" cy="525" r="5" fill="#bfbf00"/>
<circle cx="1078.6" cy="529.7" r="4.9" fill="#bfbf00"/>
<circle cx="1078.1" cy="534.4" r="6.1" fill="#bfbf00"/>
<circle cx="1077.7" cy="539" r="4.4" fill="#bfbf00"/>
<circle cx="1076.9" cy="554.1" r="3.4" fill="#bfbf00"/>
<circle cx="1076.8" cy="562.1" r="3.5" fill="#bfbf00"/>
<circle cx="1077.3" cy="577.8" r="4.7" fill="#bfbf00"/>
<circle cx="1078.4" cy="590.6" r="5.4" fill="#bfbf00"/>
<circle cx="1079.9" cy="601.6" r="4.6" fill="#bfbf00"/>
<circle cx="1080.4" cy="605.2" r="3.2" fill="#bfbf00"/>
<circle cx="1081.6" cy="611.5" r="2.6" fill="#bfbf00"/>
<circle cx="1082.9" cy="617.8" r="5.4" fill="#bfbf00"/>
<circle cx="1083.9" cy="622.3" r="5.8" fill="#bfbf00"/>
<circle cx="1087.7" cy="636.8" r="5.4" fill="#bfbf00"/>
<circle cx="1088.8" cy="640.3" r="3" fill="#bfbf00"/>
<circle cx="1089.9" cy="643.9" r="2.6" fill="#bfbf00"/>
<circle cx="1091.1" cy="647.5" r="4.8" fill="#bfbf00"/>
<circle cx="1098.9" cy="667.7" r="3.5" fill="#bfbf00"/>
<circle cx="1106.1" cy="683" r="6.1" fill="#bfbf00"/>
<circle cx="1108.8" cy="688.1" r="6.1" fill="#bfbf00"/>
<circle cx="1112" cy="693.9" r="4.2" fill="#bfbf00"/>
<circle cx="1115.3" cy="699.6" r="3" fill="#bfbf00"/>
<circle cx="1117.3" cy="702.8" r="3.6" fill="#bfbf00"/>
<circle cx="1124.9" cy="714.3" r="2.8" fill="#bfbf00"/>
<circle cx="1129" cy="720.1" r="3.4" fill="#bfbf00"/>
<circle cx="1131.1" cy="722.9" r="3.4" fill="#bfbf00"/>
<circle cx="1139.1" cy="732.9" r="5.9" fill="#bfbf00"/>
<circle cx="1142.8" cy="737.3" r="2.6" fill="#bfbf00"/>
<circle cx="1145.2" cy="739.9" r="4.9" fill="#bfbf00"/>
<circle cx="1152.4" cy="747.7" r="5.7" fill="#bfbf00"/>
<circle cx="1167.3" cy="761.9" r="5" fill="#bfbf00"/>
<circle cx="1171.4" cy="765.5" r="2.6" fill="#bfbf00"/>
<circle cx="1174.7" cy="768.2" r="3.5" fill="#bfbf00"/>
<circle cx="1178" cy="771" r="5.9" fill="#bfbf00"/>
<circle cx="1181.4" cy="773.6" r="3.5" fill="#bfbf00"/>
<circle cx="1184.9" cy="776.2" r="3.1" fill="#bfbf00"/>
<circle cx="1188.3" cy="778.8" r="3.8" fill="#bfbf00"/>
<circle cx="1191.9" cy="781.3" r="5.2" fill="#bfbf00"/>
<circle cx="1195.4" cy="783.7" r="2.6" fill="#bfbf00"/>
<circle cx="1200.8" cy="787.2" r="3.9" fill="#bfbf00"/>
<circle cx="1213.6" cy="794.9" r="5.3" fill="#bfbf00"/>
<circle cx="1219.8" cy="798.2" r="2.6" fill="#bfbf00"/>
<circle cx="1231.3" cy="804" r="4.7" fill="#bfbf00"/>
<circle cx="1243.2" cy="809.2" r="3.2" fill="#bfbf00"/>
<circle cx="1253.1" cy="813.1" r="5.1" fill="#bfbf00"/>
<circle cx="1262.2" cy="816.2" r="3.9" fill="#bfbf00"/>
<circle cx="1272.5" cy="819.3" r="5" fill="#bfbf00"/>
<circle cx="1277.8" cy="820.7" r="5" fill="#bfbf00"/>
<circle cx="1284.2" cy="822.3" r="6" fill="#bfbf00"/>
<circle cx="1290.7" cy="823.7" r="2.8" fill="#bfbf00"/>
<circle cx="1295" cy="824.6" r="3.9" fill="#bfbf00"/>
<circle cx="1303.9" cy="826.1" r="3.9" fill="#bfbf00"/>
<circle cx="1308.3" cy="826.8" r="4.3" fill="#bfbf00"/>
<circle cx="1314.6" cy="827.6" r="4.2" fill="#bfbf00"/>
<circle cx="1324.4" cy="828.5" r="4.9" fill="#bfbf00"/>
<circle cx="1336.6" cy="829.2" r="2.6" fill="#bfbf00"/>
<circle cx="1342" cy="829.3" r="4" fill="#bfbf00"/>
<circle cx="1345.6" cy="829.3" r="4.3" fill="#bfbf00"/>
<circle cx="1357.9" cy="829" r="3.4" fill="#bfbf00"/>
<circle cx="1371" cy="828.1" r="4.8" fill="#bfbf00"/>
<circle cx="1382.9" cy="826.6" r="6" fill="#bfbf00"/>
<circle cx="1392.1" cy="825.2" r="5.7" fill="#bfbf00"/>
<circle cx="1397.6" cy="824.1" r="5.9" fill="#bfbf00"/>
<circle cx="1406.6" cy="822.2" r="6.1" fill="#bfbf00"/>
<circle cx="1413.3" cy="820.5" r="3.4" fill="#bfbf00"/>
<circle cx="1417.2" cy="819.5" r="4.5" fill="#bfbf00"/>
<circle cx="1658.1" cy="560.6" r="5.8" fill="#bfbf00"/>
<circle cx="1658" cy="552.8" r="3.9" fill="#bfbf00"/>
<circle cx="1435.1" cy="860.8" r="3.9" fill="#bfbf00"/>
<circle cx="1439.1" cy="859.6" r="3.8" fill="#bfbf00"/>
<circle cx="1442.3" cy="858.6" r="4.5" fill="#bfbf00"/>
<circle cx="1445.5" cy="857.5" r="2.8" fill="#bfbf00"/>
<circle cx="1448.6" cy="856.4" r="2.4" fill="#bfbf00"/>
<circle cx="1451.8" cy="855.3" r="2.5" fill="#bfbf00"/>
<circle cx="1455.8" cy="853.8" r="4" fill="#bfbf00"/>
<circle cx="1465.4" cy="850" r="3.5" fill="#bfbf00"/>
<circle cx="1468.4" cy="848.7" r="3.5" fill="#bfbf00"/>
<circle cx="1471.1" cy="847.6" r="3.9" fill="#bfbf00"/>
<circle cx="1475" cy="845.8" r="2.6" fill="#bfbf00"/>
<circle cx="1479.2" cy="843.9" r="4.3" fill="#bfbf00"/>
<circle cx="1483.3" cy="841.9" r="3.3" fill="#bfbf00"/>
<circle cx="1487.8" cy="839.6" r="5.1" fill="#bfbf00"/>
<circle cx="1492.3" cy="837.3" r="4.9" fill="#bfbf00"/>
<circle cx="1496.3" cy="835.1" r="4.6" fill="#bfbf00"/>
<circle cx="1500" cy="833.1" r="4.8" fill="#bfbf00"/>
<circle cx="1504.2" cy="830.6" r="3.1" fill="#bfbf00"/>
<circle cx="1507.8" cy="828.4" r="3.2" fill="#bfbf00"/>
<circle cx="1511.2" cy="826.4" r="2.8" fill="#bfbf00"/>
<circle cx="1517.6" cy="822.2" r="4.4" fill="#bfbf00"/>
<circle cx="1523" cy="818.6" r="2.8" fill="#bfbf00"/>
<circle cx="1527.7" cy="815.3" r="2.2" fill="#bfbf00"/>
<circle cx="1531.6" cy="812.4" r="2.3" fill="#bfbf00"/>
<circle cx="1534.8" cy="810" r="5.1" fill="#bfbf00"/>
<circle cx="1538.1" cy="807.4" r="5.2" fill="#bfbf00"/>
<circle cx="1541.7" cy="804.6" r="2.2" fill="#bfbf00"/>
<circle cx="1544.9" cy="802" r="3.5" fill="#bfbf00"/>
<circle cx="1548.6" cy="798.8" r="3.4" fill="#bfbf00"/>
<circle cx="1552.4" cy="795.6" r="3.2" fill="#bfbf00"/>
<circle cx="1558" cy="790.5" r="2.1" fill="#bfbf00"/>
<circle cx="1566.7" cy="782.1" r="2.2" fill="#bfbf00"/>
<circle cx="1570.4" cy="778.4" r="4.4" fill="#bfbf00"/>
<circle cx="1574" cy="774.5" r="2.2" fill="#bfbf00"/>
<circle cx="1577.3" cy="771" r="3.5" fill="#bfbf00"/>
<circle cx="1579.6" cy="768.4" r="3.7" fill="#bfbf00"/>
<circle cx="1582.4" cy="765.1" r="2.4" fill="#bfbf00"/>
<circle cx="1585.4" cy="761.6" r="2.7" fill="#bfbf00"/>
<circle cx="1588.2" cy="758.2" r="2.8" fill="#bfbf00"/>
<circle cx="1591.3" cy="754.3" r="4.9" fill="#bfbf00"/>
<circle cx="1593.8" cy="751.1" r="3.2" fill="#bfbf00"/>
<circle cx="1596.1" cy="748" r="3.8" fill="#bfbf00"/>
<circle cx="1598.8" cy="744.3" r="2.9" fill="#bfbf00"/>
<circle cx="1601.7" cy="740.3" r="4" fill="#bfbf00"/>
<circle cx="1604.5" cy="736.3" r="3.7" fill="#bfbf00"/>
<circle cx="1606.4" cy="733.3" r="2.3" fill="#bfbf00"/>
<circle cx="1607.7" cy="731.4" r="2.3" fill="#bfbf00"/>
<circle cx="1608.9" cy="729.5" r="4.2" fill="#bfbf00"/>
<circle cx="1610.2" cy="727.5" r="3.8" fill="#bfbf00"/>
<circle cx="1611.4" cy="725.6" r="4" fill="#bfbf00"/>
<circle cx="1612.6" cy="723.6" r="3.2" fill="#bfbf00"/>
<circle cx="1613.8" cy="721.7" r="3.5" fill="#bfbf00"/>
<circle cx="1614.9" cy="719.7" r="2.7" fill="#bfbf00"/>
<circle cx="1616.1" cy="717.7" r="3.1" fill="#bfbf00"/>
<circle cx="1617.2" cy="715.7" r="4.4" fill="#bfbf00"/>
<circle cx="1618.6" cy="713.4" r="2.3" fill="#bfbf00"/>
<circle cx="1621" cy="708.8" r="4.6" fill="#bfbf00"/>
<circle cx="1623.5" cy="704.2" r="4.5" fill="#bfbf00"/>
<circle cx="1625.8" cy="699.6" r="3.4" fill="#bfbf00"/>
<circle cx="1627.9" cy="695.3" r="5.2" fill="#bfbf00"/>
<circle cx="1629.7" cy="691.4" r="3.8" fill="#bfbf00"/>
<circle cx="1631.4" cy="687.6" r="3.4" fill="#bfbf00"/>
<circle cx="1636.1" cy="676.5" r="2.3" fill="#bfbf00"/>
<circle cx="1638.2" cy="670.9" r="3.8" fill="#bfbf00"/>
<circle cx="1640.7" cy="664.1" r="4.5" fill="#bfbf00"/>
<circle cx="1642.5" cy="658.6" r="2.3" fill="#bfbf00"/>
<circle cx="1644" cy="654" r="3.2" fill="#bfbf00"/>
<circle cx="1645.2" cy="649.9" r="3.2" fill="#bfbf00"/>
<circle cx="1646.6" cy="645.3" r="4.9" fill="#bfbf00"/>
<circle cx="1648.1" cy="639.8" r="3" fill="#bfbf00"/>
<circle cx="1649.1" cy="635.8" r="4.9" fill="#bfbf00"/>
<circle cx="1652.1" cy="622.3" r="4.8" fill="#bfbf00"/>
<circle cx="1653.5" cy="614.7" r="5.4" fill="#bfbf00"/>
<circle cx="1654.7" cy="607" r="3.9" fill="#bfbf00"/>
<circle cx="1655.8" cy="599.3" r="5.4" fill="#bfbf00"/>
<circle cx="1656.6" cy="591.6" r="5.7" fill="#bfbf00"/>
<circle cx="1657.3" cy="583.9" r="4.7" fill="#bfbf00"/>
<circle cx="1657.8" cy="576.1" r="5.9" fill="#bfbf00"/>
<circle cx="1658.1" cy="568.3" r="4.5" fill="#bfbf00"/>
<circle cx="1657.7" cy="544.2" r="3.5" fill="#bfbf00"/>
<circle cx="1657.4" cy="539" r="2.8" fill="#bfbf00"/>
<circle cx="1657.1" cy="535.4" r="4.8" fill="#bfbf00"/>
<circle cx="1656.7" cy="531.3" r="4" fill="#bfbf00"/>
<circle cx="1656.3" cy="527.1" r="5" fill="#bfbf00"/>
<circle cx="1655.1" cy="517.4" r="4" fill="#bfbf00"/>
<circle cx="1654.7" cy="515" r="2.8" fill="#bfbf00"/>
<circle cx="1654.4" cy="512.6" r="4.7" fill="#bfbf00"/>
<circle cx="1654" cy="510.1" r="5.1" fill="#bfbf00"/>
<circle cx="1653.6" cy="507.7" r="3.1" fill="#bfbf00"/>
<circle cx="1653.1" cy="505.3" r="2.2" fill="#bfbf00"/>
<circle cx="1652.7" cy="502.9" r="3.9" fill="#bfbf00"/>
<circle cx="1651.4" cy="496.2" r="4.9" fill="#bfbf00"/>
<circle cx="1649.9" cy="489.6" r="2.4" fill="#bfbf00"/>
<circle cx="1649" cy="486" r="4.8" fill="#bfbf00"/>
<circle cx="1647.6" cy="480.6" r="2.4" fill="#bfbf00"/>
<circle cx="1645.8" cy="473.9" r="2.7" fill="#bfbf00"/>
<circle cx="1644.1" cy="468.2" r="4.3" fill="#bfbf00"/>
<circle cx="1641.9" cy="461.4" r="4.7" fill="#bfbf00"/>
<circle cx="1639.9" cy="455.7" r="3.3" fill="#bfbf00"/>
<circle cx="1638.2" cy="451.1" r="3.8" fill="#bfbf00"/>
<circle cx="1635.9" cy="445" r="4" fill="#bfbf00"/>
<circle cx="1634.2" cy="440.9" r="4.9" fill="#bfbf00"/>
<circle cx="1632.6" cy="437.1" r="5.1" fill="#bfbf00"/>
<circle cx="1631.5" cy="434.6" r="3.9" fill="#bfbf00"/>
<circle cx="1628.9" cy="428.9" r="4.5" fill="#bfbf00"/>
<circle cx="1627.4" cy="425.8" r="4.6" fill="#bfbf00"/>
<circle cx="1625.2" cy="421.2" r="3.4" fill="#bfbf00"/>
<circle cx="1622.2" cy="415.4" r="2.6" fill="#bfbf00"/>
<circle cx="1619.6" cy="410.5" r="4.8" fill="#bfbf00"/>
<circle cx="1616.9" cy="405.7" r="2.4" fill="#bfbf00"/>
<circle cx="1614.1" cy="400.9" r="4.1" fill="#bfbf00"/>
<circle cx="1612.2" cy="397.8" r="2.3" fill="#bfbf00"/>
<circle cx="1608.7" cy="392.1" r="2.5" fill="#bfbf00"/>
<circle cx="1607" cy="389.6" r="2.8" fill="#bfbf00"/>
<circle cx="1605.8" cy="387.8" r="2.9" fill="#bfbf00"/>
<circle cx="1604.6" cy="386" r="3" fill="#bfbf00"/>
<circle cx="1603.4" cy="384.1" r="4.6" fill="#bfbf00"/>
<circle cx="1602.2" cy="382.3" r="4.2" fill="#bfbf00"/>
<circle cx="1600.9" cy="380.6" r="2.9" fill="#bfbf00"/>
<circle cx="1599.6" cy="378.8" r="2.8" fill="#bfbf00"/>
<circle cx="1598.4" cy="377" r="3.1" fill="#bfbf00"/>
<circle cx="1597.1" cy="375.2" r="2.7" fill="#bfbf00"/>
<circle cx="1595.8" cy="373.5" r="4.7" fill="#bfbf00"/>
<circle cx="1594.4" cy="371.7" r="3.2" fill="#bfbf00"/>
<circle cx="1593.1" cy="370" r="4" fill="#bfbf00"/>
<circle cx="1591.8" cy="368.3" r="4.9" fill="#bfbf00"/>
<circle cx="1590.4" cy="366.6" r="3.8" fill="#bfbf00"/>
<circle cx="1589.1" cy="364.8" r="3" fill="#bfbf00"/>
<circle cx="1587.7" cy="363.1" r="5.1" fill="#bfbf00"/>
<circle cx="1586.3" cy="361.5" r="5.2" fill="#bfbf00"/>
<circle cx="1584.9" cy="359.8" r="3.3" fill="#bfbf00"/>
<circle cx="1583.5" cy="358.1" r="4" fill="#bfbf00"/>
<circle cx="1582.1" cy="356.5" r="5.4" fill="#bfbf00"/>
<circle cx="1580.6" cy="354.8" r="3.8" fill="#bfbf00"/>
<circle cx="1579.2" cy="353.2" r="2.9" fill="#bfbf00"/>
<circle cx="1577.7" cy="351.5" r="2.3" fill="#bfbf00"/>
<circle cx="1576.3" cy="349.9" r="5.3" fill="#bfbf00"/>
<circle cx="1574.8" cy="348.3" r="4.8" fill="#bfbf00"/>
<circle cx="1573.3" cy="346.7" r="3.5" fill="#bfbf00"/>
<circle cx="1571.8" cy="345.1" r="3.9" fill="#bfbf00"/>
<circle cx="1570.3" cy="343.5" r="3.9" fill="#bfbf00"/>
<circle cx="1568.8" cy="342" r="3.1" fill="#bfbf00"/>
<circle cx="1567.2" cy="340.4" r="5.5" fill="#bfbf00"/>
<circle cx="1565.7" cy="338.9" r="4.4" fill="#bfbf00"/>
<circle cx="1564.1" cy="337.3" r="3" fill="#bfbf00"/>
<circle cx="1562.6" cy="335.8" r="2.2" fill="#bfbf00"/>
<circle cx="1561" cy="334.3" r="3.7" fill="#bfbf00"/>
<circle cx="1559.4" cy="332.8" r="3.4" fill="#bfbf00"/>
<circle cx="1557.8" cy="331.3" r="4.8" fill="#bfbf00"/>
<circle cx="1555.4" cy="329.1" r="4.5" fill="#bfbf00"/>
<circle cx="1553" cy="327" r="3.2" fill="#bfbf00"/>
<circle cx="1550.2" cy="324.5" r="3" fill="#bfbf00"/>
<circle cx="1547.3" cy="322" r="5.1" fill="#bfbf00"/>
<circle cx="1544.8" cy="319.9" r="4.3" fill="#bfbf00"/>
<circle cx="1541.3" cy="317" r="4.7" fill="#bfbf00"/>
<circle cx="1537.8" cy="314.3" r="4.9" fill="#bfbf00"/>
<circle cx="1534.4" cy="311.7" r="4.9" fill="#bfbf00"/>
<circle cx="1530.9" cy="309" r="3.8" fill="#bfbf00"/>
<circle cx="1527.3" cy="306.5" r="5.4" fill="#bfbf00"/>
<circle cx="1523.8" cy="303.9" r="5" fill="#bfbf00"/>
<circle cx="1520.1" cy="301.5" r="2.5" fill="#bfbf00"/>
<circle cx="1516.5" cy="299.1" r="2.9" fill="#bfbf00"/>
<circle cx="1512.8" cy="296.7" r="3.9" fill="#bfbf00"/>
<circle cx="1509.1" cy="294.4" r="2.4" fill="#bfbf00"/>
<circle cx="1505.4" cy="292.1" r="3.7" fill="#bfbf00"/>
<circle cx="1501.6" cy="289.9" r="3.4" fill="#bfbf00"/>
<circle cx="1497.4" cy="287.5" r="3.5" fill="#bfbf00"/>
<circle cx="1494.8" cy="286.1" r="3.7" fill="#bfbf00"/>
<circle cx="1492.2" cy="284.7" r="5.4" fill="#bfbf00"/>
<circle cx="1489.5" cy="283.3" r="4.9" fill="#bfbf00"/>
<circle cx="1486.9" cy="281.9" r="4.4" fill="#bfbf00"/>
<circle cx="1484.2" cy="280.6" r="2.2" fill="#bfbf00"/>
<circle cx="1481.5" cy="279.2" r="3.4" fill="#bfbf00"/>
<circle cx="1478.8" cy="277.9" r="4.5" fill="#bfbf00"/>
<circle cx="1471.4" cy="274.6" r="3" fill="#bfbf00"/>
<circle cx="1469.5" cy="273.7" r="4.1" fill="#bfbf00"/>
<circle cx="1467.6" cy="272.9" r="3.7" fill="#bfbf00"/>
<circle cx="1465.7" cy="272.1" r="2.2" fill="#bfbf00"/>
<circle cx="1463.7" cy="271.3" r="5.5" fill="#bfbf00"/>
<circle cx="1461.8" cy="270.5" r="4.8" fill="#bfbf00"/>
<circle cx="1459.9" cy="269.8" r="2.9" fill="#bfbf00"/>
<circle cx="1457.9" cy="269" r="4.2" fill="#bfbf00"/>
<circle cx="1456" cy="268.3" r="3.1" fill="#bfbf00"/>
<circle cx="1454" cy="267.5" r="3.4" fill="#bfbf00"/>
<circle cx="1452.1" cy="266.8" r="4" fill="#bfbf00"/>
<circle cx="1450.1" cy="266.1" r="3.2" fill="#bfbf00"/>
<circle cx="1448.3" cy="265.4" r="3.3" fill="#bfbf00"/>
<circle cx="1444.9" cy="264.3" r="3.5" fill="#bfbf00"/>
<circle cx="1441.6" cy="263.2" r="4.4" fill="#bfbf00"/>
<circle cx="1435.8" cy="261.4" r="4" fill="#bfbf00"/>
<circle cx="1430.9" cy="260" r="3.3" fill="#bfbf00"/>
<circle cx="1426.1" cy="258.6" r="2.5" fill="#bfbf00"/>
<circle cx="1421.2" cy="257.3" r="2.5" fill="#bfbf00"/>
<circle cx="1403.2" cy="253.4" r="3.9" fill="#bfbf00"/>
<circle cx="1400" cy="252.8" r="3.3" fill="#bfbf00"/>
<circle cx="1390.3" cy="251.2" r="4" fill="#bfbf00"/>
<circle cx="1381.6" cy="250.1" r="3.1" fill="#bfbf00"/>
<circle cx="1373.5" cy="249.2" r="3.3" fill="#bfbf00"/>
<circle cx="1365.8" cy="248.6" r="3.1" fill="#bfbf00"/>
<circle cx="1358.8" cy="248.3" r="3.8" fill="#bfbf00"/>
<circle cx="1352.2" cy="248" r="3" fill="#bfbf00"/>
<circle cx="1346.2" cy="248" r="4.1" fill="#bfbf00"/>
<circle cx="1340.2" cy="248" r="4" fill="#bfbf00"/>
<circle cx="1333.4" cy="248.2" r="4.7" fill="#bfbf00"/>
<circle cx="1329.5" cy="248.3" r="3.5" fill="#bfbf00"/>
<circle cx="1326.8" cy="248.5" r="2.2" fill="#bfbf00"/>
<circle cx="1320" cy="249" r="3.5" fill="#bfbf00"/>
<circle cx="1316.7" cy="249.3" r="4.8" fill="#bfbf00"/>
<circle cx="1311.6" cy="249.8" r="3.3" fill="#bfbf00"/>
<circle cx="1306.3" cy="250.4" r="2.5" fill="#bfbf00"/>
<circle cx="1301.4" cy="251" r="4.2" fill="#bfbf00"/>
<circle cx="1296.7" cy="251.7" r="4.7" fill="#bfbf00"/>
<circle cx="1292" cy="252.5" r="4" fill="#bfbf00"/>
<circle cx="1287.2" cy="253.4" r="2.6" fill="#bfbf00"/>
<circle cx="1282.4" cy="254.3" r="3.9" fill="#bfbf00"/>
<circle cx="1277.4" cy="255.4" r="4.3" fill="#bfbf00"/>
<circle cx="1272" cy="256.6" r="2.4" fill="#bfbf00"/>
<circle cx="1267.3" cy="257.8" r="5.3" fill="#bfbf00"/>
<circle cx="1263.1" cy="258.9" r="3.7" fill="#bfbf00"/>
<circle cx="1258.7" cy="260.1" r="2.6" fill="#bfbf00"/>
<circle cx="1254" cy="261.5" r="4" fill="#bfbf00"/>
<circle cx="1248.1" cy="263.4" r="5.2" fill="#bfbf00"/>
<circle cx="1242.4" cy="265.3" r="4.2" fill="#bfbf00"/>
<circle cx="1234.4" cy="268.2" r="3" fill="#bfbf00"/>
<circle cx="1229.2" cy="270.2" r="2.4" fill="#bfbf00"/>
<circle cx="1225.4" cy="271.7" r="2.8" fill="#bfbf00"/>
<circle cx="1221.1" cy="273.6" r="5.5" fill="#bfbf00"/>
<circle cx="1216.8" cy="275.4" r="5.3" fill="#bfbf00"/>
<circle cx="1213.6" cy="276.9" r="2.2" fill="#bfbf00"/>
<circle cx="1209.3" cy="278.9" r="3.7" fill="#bfbf00"/>
<circle cx="1205.1" cy="281" r="3.5" fill="#bfbf00"/>
<circle cx="1203" cy="282.1" r="4.1" fill="#bfbf00"/>
<circle cx="1200.7" cy="283.3" r="2.8" fill="#bfbf00"/>
<circle cx="1198.4" cy="284.5" r="3.9" fill="#bfbf00"/>
<circle cx="1196.2" cy="285.7" r="3.1" fill="#bfbf00"/>
<circle cx="1193.9" cy="286.9" r="4.1" fill="#bfbf00"/>
<circle cx="1191.7" cy="288.1" r="3.3" fill="#bfbf00"/>
<circle cx="1189.4" cy="289.4" r="4.3" fill="#bfbf00"/>
<circle cx="1187.2" cy="290.7" r="2.3" fill="#bfbf00"/>
<circle cx="1185" cy="292" r="4.4" fill="#bfbf00"/>
<circle cx="1182.8" cy="293.3" r="2.7" fill="#bfbf00"/>
<circle cx="1180.6" cy="294.7" r="5.4" fill="#bfbf00"/>
<circle cx="1176.2" cy="297.4" r="4.2" fill="#bfbf00"/>
<circle cx="1174.1" cy="298.8" r="3.7" fill="#bfbf00"/>
<circle cx="1171.9" cy="300.2" r="3.5" fill="#bfbf00"/>
<circle cx="1169.8" cy="301.7" r="4.3" fill="#bfbf00"/>
<circle cx="1167.7" cy="303.1" r="4.5" fill="#bfbf00"/>
<circle cx="1165.5" cy="304.6" r="4.7" fill="#bfbf00"/>
<circle cx="1163.5" cy="306" r="3.8" fill="#bfbf00"/>
<circle cx="1160.9" cy="307.9" r="5" fill="#bfbf00"/>
<circle cx="1156.1" cy="311.5" r="5" fill="#bfbf00"/>
<circle cx="1153.5" cy="313.5" r="3.6" fill="#bfbf00"/>
<circle cx="1149.2" cy="316.9" r="3.9" fill="#bfbf00"/>
<circle cx="1144.1" cy="321" r="3.6" fill="#bfbf00"/>
<circle cx="1142.8" cy="322.1" r="3.2" fill="#bfbf00"/>
<circle cx="1137.9" cy="326.4" r="2.4" fill="#bfbf00"/>
<circle cx="1134.5" cy="329.4" r="3.2" fill="#bfbf00"/>
<circle cx="1130.5" cy="333.1" r="2.4" fill="#bfbf00"/>
<circle cx="1128" cy="335.4" r="3.7" fill="#bfbf00"/>
<circle cx="1123.5" cy="339.9" r="3.8" fill="#bfbf00"/>
<circle cx="1121" cy="342.4" r="2.3" fill="#bfbf00"/>
<circle cx="1113.6" cy="350.3" r="3.2" fill="#bfbf00"/>
<circle cx="1110.7" cy="353.5" r="3" fill="#bfbf00"/>
<circle cx="1108.7" cy="355.8" r="2.4" fill="#bfbf00"/>
<circle cx="1106.7" cy="358.1" r="5.2" fill="#bfbf00"/>
<circle cx="1104.8" cy="360.4" r="5.4" fill="#bfbf00"/>
<circle cx="1102.9" cy="362.7" r="4.4" fill="#bfbf00"/>
<circle cx="1100.9" cy="365.1" r="5.1" fill="#bfbf00"/>
<circle cx="1099.1" cy="367.5" r="3.6" fill="#bfbf00"/>
<circle cx="1097.2" cy="369.8" r="4.9" fill="#bfbf00"/>
<circle cx="1095.4" cy="372.3" r="2.9" fill="#bfbf00"/>
<circle cx="1085.3" cy="386.3" r="4" fill="#bfbf00"/>
<circle cx="1083.6" cy="388.9" r="5.3" fill="#bfbf00"/>
<circle cx="1082" cy="391.4" r="2.2" fill="#bfbf00"/>
<circle cx="1080.3" cy="394" r="3" fill="#bfbf00"/>
<circle cx="1078.7" cy="396.6" r="3.2" fill="#bfbf00"/>
<circle cx="1077.1" cy="399.2" r="3.3" fill="#bfbf00"/>
<circle cx="1075.6" cy="401.8" r="2.4" fill="#bfbf00"/>
<circle cx="1074" cy="404.4" r="5.2" fill="#bfbf00"/>
<circle cx="1072.5" cy="407.1" r="4.9" fill="#bfbf00"/>
<circle cx="1071" cy="409.7" r="3.5" fill="#bfbf00"/>
<circle cx="1069" cy="413.5" r="4.1" fill="#bfbf00"/>
<circle cx="1066.4" cy="418.4" r="2.3" fill="#bfbf00"/>
<circle cx="1064.5" cy="422.3" r="3.2" fill="#bfbf00"/>
<circle cx="1063.1" cy="425" r="3.8" fill="#bfbf00"/>
<circle cx="1061.8" cy="427.8" r="5.3" fill="#bfbf00"/>
<circle cx="1060.5" cy="430.6" r="5.4" fill="#bfbf00"/>
<circle cx="1059.2" cy="433.4" r="3.7" fill="#bfbf00"/>
<circle cx="1058" cy="436.2" r="2.9" fill="#bfbf00"/>
<circle cx="1056.8" cy="439.1" r="3.2" fill="#bfbf00"/>
<circle cx="1055.6" cy="441.9" r="5.2" fill="#bfbf00"/>
<circle cx="1054.4" cy="444.8" r="5.2" fill="#bfbf00"/>
<circle cx="1052.9" cy="448.8" r="5" fill="#bfbf00"/>
<circle cx="1050.8" cy="454.3" r="3.7" fill="#bfbf00"/>
<circle cx="1049.7" cy="457.3" r="2.7" fill="#bfbf00"/>
<circle cx="1048.7" cy="460.3" r="5.1" fill="#bfbf00"/>
<circle cx="1047.7" cy="463.2" r="5.5" fill="#bfbf00"/>
<circle cx="1046.8" cy="466.2" r="2.8" fill="#bfbf00"/>
<circle cx="1045.8" cy="469.2" r="4.3" fill="#bfbf00"/>
<circle cx="1044.9" cy="472.2" r="2.8" fill="#bfbf00"/>
<circle cx="1043.6" cy="476.9" r="5.2" fill="#bfbf00"/>
<circle cx="1042.3" cy="481.4" r="4.5" fill="#bfbf00"/>
<circle cx="1041.2" cy="485.9" r="4.5" fill="#bfbf00"/>
<circle cx="1040.1" cy="490.4" r="3.7" fill="#bfbf00"/>
<circle cx="1038.8" cy="496.4" r="2.8" fill="#bfbf00"/>
<circle cx="1037.7" cy="501.8" r="4.4" fill="#bfbf00"/>
<circle cx="1036.7" cy="507.2" r="3.4" fill="#bfbf00"/>
<circle cx="1035.8" cy="512.6" r="5.1" fill="#bfbf00"/>
<circle cx="1034.9" cy="519.1" r="3.1" fill="#bfbf00"/>
<circle cx="1034.2" cy="524.5" r="2.5" fill="#bfbf00"/>
<circle cx="1033.6" cy="529.9" r="3.6" fill="#bfbf00"/>
<circle cx="1033.1" cy="535.3" r="3.9" fill="#bfbf00"/>
<circle cx="1032.3" cy="549.8" r="4.8" fill="#bfbf00"/>
<circle cx="1032.1" cy="556.1" r="2.5" fill="#bfbf00"/>
<circle cx="1032.1" cy="558" r="4.7" fill="#bfbf00"/>
<circle cx="1032.1" cy="562.2" r="3" fill="#bfbf00"/>
<circle cx="1032.1" cy="566.5" r="3.1" fill="#bfbf00"/>
<circle cx="1032.5" cy="577.1" r="3" fill="#bfbf00"/>
<circle cx="1032.7" cy="580.6" r="3.6" fill="#bfbf00"/>
<circle cx="1032.9" cy="584" r="4.7" fill="#bfbf00"/>
<circle cx="1033.1" cy="586.4" r="4.8" fill="#bfbf00"/>
<circle cx="1033.3" cy="588.7" r="3" fill="#bfbf00"/>
<circle cx="1033.5" cy="591" r="3.8" fill="#bfbf00"/>
<circle cx="1033.7" cy="593.3" r="2.9" fill="#bfbf00"/>
<circle cx="1034" cy="595.5" r="4.1" fill="#bfbf00"/>
<circle cx="1034.2" cy="597.8" r="3.8" fill="#bfbf00"/>
<circle cx="1034.5" cy="600.1" r="2.3" fill="#bfbf00"/>
<circle cx="1034.8" cy="602.4" r="4.2" fill="#bfbf00"/>
<circle cx="1035.1" cy="604.7" r="4.6" fill="#bfbf00"/>
<circle cx="1035.7" cy="608.3" r="5.1" fill="#bfbf00"/>
<circle cx="1036.3" cy="612.6" r="2.7" fill="#bfbf00"/>
<circle cx="1036.9" cy="615.7" r="3.8" fill="#bfbf00"/>
<circle cx="1037.4" cy="618.5" r="3.6" fill="#bfbf00"/>
<circle cx="1037.9" cy="621.4" r="3.6" fill="#bfbf00"/>
<circle cx="1038.5" cy="624.2" r="3" fill="#bfbf00"/>
<circle cx="1039.2" cy="627.3" r="2.4" fill="#bfbf00"/>
<circle cx="1039.8" cy="630" r="4.1" fill="#bfbf00"/>
<circle cx="1040.9" cy="635" r="4" fill="#bfbf00"/>
<circle cx="1044.8" cy="649.4" r="3" fill="#bfbf00"/>
<circle cx="1046.1" cy="653.6" r="3.2" fill="#bfbf00"/>
<circle cx="1047.4" cy="657.7" r="3.2" fill="#bfbf00"/>
<circle cx="1048.8" cy="661.9" r="3.9" fill="#bfbf00"/>
<circle cx="1052.6" cy="672.6" r="4.1" fill="#bfbf00"/>
<circle cx="1053.5" cy="674.7" r="2.5" fill="#bfbf00"/>
<circle cx="1054.3" cy="676.9" r="4.9" fill="#bfbf00"/>
<circle cx="1055.2" cy="679" r="2.7" fill="#bfbf00"/>
<circle cx="1056" cy="681.2" r="3" fill="#bfbf00"/>
<circle cx="1056.9" cy="683.3" r="2.7" fill="#bfbf00"/>
<circle cx="1057.9" cy="685.4" r="4.5" fill="#bfbf00"/>
<circle cx="1058.8" cy="687.6" r="4.9" fill="#bfbf00"/>
<circle cx="1059.7" cy="689.7" r="4.8" fill="#bfbf00"/>
<circle cx="1060.7" cy="691.8" r="2.4" fill="#bfbf00"/>
<circle cx="1061.7" cy="693.9" r="3.5" fill="#bfbf00"/>
<circle cx="1062.7" cy="696" r="3.4" fill="#bfbf00"/>
<circle cx="1063.7" cy="698.1" r="2.9" fill="#bfbf00"/>
<circle cx="1064.7" cy="700.2" r="2.3" fill="#bfbf00"/>
<circle cx="1066.3" cy="703.4" r="3.8" fill="#bfbf00"/>
<circle cx="1067.9" cy="706.5" r="4.7" fill="#bfbf00"/>
<circle cx="1069.4" cy="709.2" r="2.7" fill="#bfbf00"/>
<circle cx="1071" cy="712.1" r="4.7" fill="#bfbf00"/>
<circle cx="1072.4" cy="714.7" r="2.3" fill="#bfbf00"/>
<circle cx="1073.9" cy="717.3" r="3" fill="#bfbf00"/>
<circle cx="1075.3" cy="719.8" r="5.1" fill="#bfbf00"/>
<circle cx="1077" cy="722.6" r="3.5" fill="#bfbf00"/>
<circle cx="1079.3" cy="726.4" r="3.6" fill="#bfbf00"/>
<circle cx="1085.4" cy="735.7" r="2.3" fill="#bfbf00"/>
<circle cx="1086.8" cy="737.8" r="5.5" fill="#bfbf00"/>
<circle cx="1088.2" cy="739.8" r="4.7" fill="#bfbf00"/>
<circle cx="1089.6" cy="741.9" r="4.6" fill="#bfbf00"/>
<circle cx="1091.1" cy="743.9" r="2.9" fill="#bfbf00"/>
<circle cx="1093" cy="746.6" r="4" fill="#bfbf00"/>
<circle cx="1095.5" cy="749.9" r="3.7" fill="#bfbf00"/>
<circle cx="1102.7" cy="759.1" r="3.4" fill="#bfbf00"/>
<circle cx="1106.9" cy="764.1" r="3.3" fill="#bfbf00"/>
<circle cx="1109.1" cy="766.7" r="3.5" fill="#bfbf00"/>
<circle cx="1111.8" cy="769.8" r="2.4" fill="#bfbf00"/>
<circle cx="1115" cy="773.2" r="4.1" fill="#bfbf00"/>
<circle cx="1117.1" cy="775.5" r="5.1" fill="#bfbf00"/>
<circle cx="1119.2" cy="777.7" r="3.7" fill="#bfbf00"/>
<circle cx="1121.4" cy="780" r="3.5" fill="#bfbf00"/>
<circle cx="1123.6" cy="782.2" r="5" fill="#bfbf00"/>
<circle cx="1125.8" cy="784.4" r="3.4" fill="#bfbf00"/>
<circle cx="1135.4" cy="793.4" r="3.4" fill="#bfbf00"/>
<circle cx="1139.9" cy="797.4" r="3.1" fill="#bfbf00"/>
<circle cx="1142.4" cy="799.5" r="2.8" fill="#bfbf00"/>
<circle cx="1146.3" cy="802.8" r="3.5" fill="#bfbf00"/>
<circle cx="1150.2" cy="805.9" r="4.6" fill="#bfbf00"/>
<circle cx="1154.1" cy="809" r="3.4" fill="#bfbf00"/>
<circle cx="1158.2" cy="812.1" r="5.3" fill="#bfbf00"/>
<circle cx="1162.2" cy="815.1" r="4.7" fill="#bfbf00"/>
<circle cx="1166.3" cy="818" r="5.2" fill="#bfbf00"/>
<circle cx="1170.5" cy="820.8" r="3.2" fill="#bfbf00"/>
<circle cx="1173.4" cy="822.8" r="2.4" fill="#bfbf00"/>
<circle cx="1176.8" cy="825" r="5.1" fill="#bfbf00"/>
<circle cx="1180.2" cy="827.1" r="3.3" fill="#bfbf00"/>
<circle cx="1187.7" cy="831.6" r="3.9" fill="#bfbf00"/>
<circle cx="1190.4" cy="833.1" r="2.4" fill="#bfbf00"/>
<circle cx="1193.1" cy="834.6" r="3.5" fill="#bfbf00"/>
<circle cx="1195.8" cy="836.1" r="3" fill="#bfbf00"/>
<circle cx="1198.9" cy="837.8" r="2.7" fill="#bfbf00"/>
<circle cx="1202.3" cy="839.6" r="2.3" fill="#bfbf00"/>
<circle cx="1204.5" cy="840.7" r="3.2" fill="#bfbf00"/>
<circle cx="1206.7" cy="841.8" r="3.6" fill="#bfbf00"/>
<circle cx="1209" cy="842.9" r="4" fill="#bfbf00"/>
<circle cx="1211.2" cy="844" r="2.6" fill="#bfbf00"/>
<circle cx="1213.5" cy="845" r="4.5" fill="#bfbf00"/>
<circle cx="1215.8" cy="846.1" r="3" fill="#bfbf00"/>
<circle cx="1218.1" cy="847.1" r="4.6" fill="#bfbf00"/>
<circle cx="1220.3" cy="848.1" r="4.4" fill="#bfbf00"/>
<circle cx="1222.6" cy="849.1" r="2.7" fill="#bfbf00"/>
<circle cx="1226.2" cy="850.6" r="3.1" fill="#bfbf00"/>
<circle cx="1237.8" cy="855.1" r="3.5" fill="#bfbf00"/>
<circle cx="1243.4" cy="857.1" r="5.1" fill="#bfbf00"/>
<circle cx="1246.7" cy="858.2" r="2.9" fill="#bfbf00"/>
<circle cx="1250" cy="859.3" r="3.1" fill="#bfbf00"/>
<circle cx="1253.4" cy="860.3" r="3.3" fill="#bfbf00"/>
<circle cx="1257.5" cy="861.5" r="5.2" fill="#bfbf00"/>
<circle cx="1263.4" cy="863.2" r="2.9" fill="#bfbf00"/>
<circle cx="1266.6" cy="864" r="4.4" fill="#bfbf00"/>
<circle cx="1270.1" cy="864.9" r="5.1" fill="#bfbf00"/>
<circle cx="1274.1" cy="865.9" r="3" fill="#bfbf00"/>
<circle cx="1278.1" cy="866.8" r="4.3" fill="#bfbf00"/>
<circle cx="1281.6" cy="867.5" r="3.6" fill="#bfbf00"/>
<circle cx="1286.6" cy="868.5" r="2.4" fill="#bfbf00"/>
<circle cx="1297.1" cy="870.3" r="3.3" fill="#bfbf00"/>
<circle cx="1302.2" cy="871.1" r="3.1" fill="#bfbf00"/>
<circle cx="1309.5" cy="872" r="2.7" fill="#bfbf00"/>
<circle cx="1313.5" cy="872.4" r="3" fill="#bfbf00"/>
<circle cx="1316.5" cy="872.7" r="2.5" fill="#bfbf00"/>
<circle cx="1319.4" cy="873" r="3.3" fill="#bfbf00"/>
<circle cx="1322.4" cy="873.2" r="3.6" fill="#bfbf00"/>
<circle cx="1325.3" cy="873.4" r="2.7" fill="#bfbf00"/>
<circle cx="1328.3" cy="873.6" r="4.1" fill="#bfbf00"/>
<circle cx="1331.7" cy="873.8" r="3.5" fill="#bfbf00"/>
<circle cx="1335.1" cy="873.9" r="3.4" fill="#bfbf00"/>
<circle cx="1338.5" cy="874" r="2.4" fill="#bfbf00"/>
<circle cx="1341.5" cy="874" r="2.4" fill="#bfbf00"/>
<circle cx="1345.7" cy="874" r="4.1" fill="#bfbf00"/>
<circle cx="1351" cy="874" r="2.2" fill="#bfbf00"/>
<circle cx="1353.6" cy="873.9" r="3.3" fill="#bfbf00"/>
<circle cx="1356.2" cy="873.8" r="5.1" fill="#bfbf00"/>
<circle cx="1358.8" cy="873.7" r="4.1" fill="#bfbf00"/>
<circle cx="1361.3" cy="873.6" r="3" fill="#bfbf00"/>
<circle cx="1363.9" cy="873.5" r="4.4" fill="#bfbf00"/>
<circle cx="1366.5" cy="873.3" r="2.8" fill="#bfbf00"/>
<circle cx="1369.1" cy="873.1" r="3.7" fill="#bfbf00"/>
<circle cx="1371.6" cy="872.9" r="5.4" fill="#bfbf00"/>
<circle cx="1375.3" cy="872.6" r="3.4" fill="#bfbf00"/>
<circle cx="1379.1" cy="872.2" r="4.1" fill="#bfbf00"/>
<circle cx="1383.6" cy="871.7" r="4.7" fill="#bfbf00"/>
<circle cx="1386.4" cy="871.3" r="4.3" fill="#bfbf00"/>
<circle cx="1389.2" cy="870.9" r="4.2" fill="#bfbf00"/>
<circle cx="1392" cy="870.5" r="3.5" fill="#bfbf00"/>
<circle cx="1394.8" cy="870.1" r="3.6" fill="#bfbf00"/>
<circle cx="1399.9" cy="869.2" r="3.4" fill="#bfbf00"/>
<circle cx="1403.2" cy="868.6" r="2.3" fill="#bfbf00"/>
<circle cx="1409.4" cy="867.4" r="2.6" fill="#bfbf00"/>
<circle cx="1412.4" cy="866.7" r="2.7" fill="#bfbf00"/>
<circle cx="1415.4" cy="866" r="2.8" fill="#bfbf00"/>
<circle cx="1418.4" cy="865.3" r="2.9" fill="#bfbf00"/>
<circle cx="1421.4" cy="864.6" r="4.4" fill="#bfbf00"/>
<circle cx="1424.7" cy="863.7" r="2.2" fill="#bfbf00"/>
<circle cx="1429.2" cy="862.5" r="3.5" fill="#bfbf00"/>
<circle cx="1374.8" cy="645.4" r="6.5" fill="#008000"/>
<circle cx="1413.8" cy="618.3" r="7" fill="#008000"/>
<circle cx="1256.9" cy="575.9" r="7" fill="#ff0000"/>
<circle cx="1389.9" cy="687.5" r="6.2" fill="#008000"/>
<circle cx="1441.4" cy="654.4" r="5.6" fill="#008000"/>
<circle cx="1465.7" cy="619.8" r="7.3" fill="#008000"/>
<circle cx="1475.9" cy="531.2" r="5.6" fill="#ff0000"/>
<circle cx="1289.3" cy="439" r="6.8" fill="#ff0000"/>
<circle cx="1404.8" cy="729.6" r="6.2" fill="#008000"/>
<circle cx="1470.5" cy="688.6" r="5.6" fill="#008000"/>
<circle cx="1503.4" cy="644.2" r="7.3" fill="#008000"/>
<circle cx="1521.5" cy="531.6" r="6.8" fill="#ff0000"/>
<circle cx="1518.7" cy="517.7" r="3.3" fill="#008000"/>
<circle cx="1246.4" cy="411.8" r="6.8" fill="#ff0000"/>
<circle cx="1501.5" cy="720.8" r="5" fill="#008000"/>
<circle cx="1537.6" cy="674.8" r="6.8" fill="#008000"/>
<circle cx="1553.1" cy="642.9" r="6.2" fill="#008000"/>
<circle cx="1565.8" cy="525" r="6.8" fill="#ff0000"/>
<circle cx="1433.9" cy="355.8" r="6.8" fill="#ff0000"/>
<circle cx="1389.3" cy="341.8" r="6.8" fill="#008000"/>
<circle cx="1228.3" cy="370.3" r="6.8" fill="#ff0000"/>
<circle cx="1162.8" cy="431.5" r="5" fill="#008000"/>
<circle cx="1135.9" cy="640" r="6.8" fill="#ff0000"/>
<circle cx="1187" cy="719.1" r="5.6" fill="#ff0000"/>
<circle cx="1530.8" cy="754.7" r="5" fill="#008000"/>
<circle cx="1574" cy="701" r="6.8" fill="#008000"/>
<circle cx="1592.5" cy="665" r="6.2" fill="#008000"/>
<circle cx="1607.2" cy="618.6" r="4.5" fill="#008000"/>
<circle cx="1610.4" cy="520.6" r="6.8" fill="#ff0000"/>
<circle cx="1445.2" cy="312" r="6.8" fill="#ff0000"/>
<circle cx="1399.1" cy="298.2" r="6.8" fill="#008000"/>
<circle cx="1207.3" cy="330.8" r="6.8" fill="#ff0000"/>
<circle cx="1126.2" cy="405.8" r="5" fill="#008000"/>
<circle cx="1077.3" cy="544.6" r="5" fill="#ff0000"/>
<circle cx="1077" cy="571.3" r="6.8" fill="#ff0000"/>
<circle cx="1086.4" cy="632.3" r="5.6" fill="#ff0000"/>
<circle cx="1092.6" cy="651.9" r="6.2" fill="#ff0000"/>
<circle cx="1120.3" cy="707.5" r="4.5" fill="#ff0000"/>
<circle cx="1134.2" cy="726.9" r="3.3" fill="#ff0000"/>
<circle cx="1160.1" cy="755.3" r="5.6" fill="#ff0000"/>
<circle cx="1206.9" cy="791" r="5.6" fill="#ff0000"/>
<circle cx="1248.1" cy="811.2" r="5" fill="#008000"/>
<circle cx="1299.9" cy="825.5" r="2.8" fill="#ff0000"/>
<circle cx="1563.3" cy="785.4" r="5" fill="#008000"/>
<circle cx="1612.4" cy="724" r="6.8" fill="#008000"/>
<circle cx="1633.6" cy="682.6" r="6.2" fill="#008000"/>
<circle cx="1650.5" cy="629.6" r="4.5" fill="#008000"/>
<circle cx="1655.6" cy="520.9" r="6.2" fill="#ff0000"/>
<circle cx="1607" cy="389.6" r="6.2" fill="#008000"/>
<circle cx="1593.8" cy="370.9" r="5.6" fill="#008000"/>
<circle cx="1577.7" cy="351.5" r="5.6" fill="#008000"/>
<circle cx="1560.6" cy="333.9" r="5.6" fill="#008000"/>
<circle cx="1473.3" cy="275.4" r="6.2" fill="#ff0000"/>
<circle cx="1416.6" cy="256.2" r="3.9" fill="#008000"/>
<circle cx="1413.9" cy="255.6" r="4.5" fill="#008000"/>
<circle cx="1410.7" cy="254.9" r="4.5" fill="#008000"/>
<circle cx="1406.8" cy="254.1" r="5" fill="#008000"/>
<circle cx="1177.8" cy="296.4" r="6.2" fill="#ff0000"/>
<circle cx="1091.5" cy="377.4" r="5" fill="#008000"/>
<circle cx="1032.4" cy="545.7" r="5" fill="#ff0000"/>
<circle cx="1032.3" cy="572.5" r="6.8" fill="#ff0000"/>
<circle cx="1041.9" cy="638.8" r="5" fill="#ff0000"/>
<circle cx="1044.3" cy="647.8" r="5" fill="#ff0000"/>
<circle cx="1050.9" cy="668.1" r="6.2" fill="#ff0000"/>
<circle cx="1082.3" cy="731" r="4.5" fill="#ff0000"/>
<circle cx="1098.8" cy="754.2" r="3.3" fill="#ff0000"/>
<circle cx="1129.6" cy="788.1" r="5.6" fill="#ff0000"/>
<circle cx="1183.9" cy="829.3" r="6.2" fill="#ff0000"/>
<circle cx="1231.4" cy="852.7" r="5" fill="#008000"/>
<circle cx="1291.3" cy="869.4" r="2.8" fill="#ff0000"/>
</g>
<text x="935.4" y="623.7" transform="rotate(-98.7 935.4 623.7)" font-family="'DejaVu Sans',sans-serif" font-size="14.8" fill="#6e0000" text-anchor="middle" dominant-baseline="central">p_Firmicutes</text>
<text x="1187.8" y="207.7" transform="rotate(-24 1187.8 207.7)" font-family="'DejaVu Sans',sans-serif" font-size="14.8" fill="#6e0000" text-anchor="middle" dominant-baseline="central">i</text>
<text x="1148.9" y="261.7" transform="rotate(-33.2 1148.9 261.7)" font-family="'DejaVu Sans',sans-serif" font-size="14.8" fill="#6e0000" text-anchor="middle" dominant-baseline="central">h</text>
<text x="1174.6" y="280.7" transform="rotate(-31.3 1174.6 280.7)" font-family="'DejaVu Sans',sans-serif" font-size="14.8" fill="#6e0000" text-anchor="middle" dominant-baseline="central">g</text>
<text x="1077.8" y="370.7" transform="rotate(-54.6 1077.8 370.7)" font-family="'DejaVu Sans',sans-serif" font-size="14.8" fill="#003f00" text-anchor="middle" dominant-baseline="central">j</text>
<text x="1037.2" y="674.3" transform="rotate(-110.2 1037.2 674.3)" font-family="'DejaVu Sans',sans-serif" font-size="14.8" fill="#6e0000" text-anchor="middle" dominant-baseline="central">k</text>
<text x="1112.9" y="792.8" transform="rotate(-134.9 1112.9 792.8)" font-family="'DejaVu Sans',sans-serif" font-size="14.8" fill="#6e0000" text-anchor="middle" dominant-baseline="central">l</text>
<text x="1723" y="479" transform="rotate(77.8 1723 479)" font-family="'DejaVu Sans',sans-serif" font-size="14.8" fill="#6e0000" text-anchor="middle" dominant-baseline="central">d</text>
<text x="1698.7" y="505.6" transform="rotate(81.1 1698.7 505.6)" font-family="'DejaVu Sans',sans-serif" font-size="14.8" fill="#6e0000" text-anchor="middle" dominant-baseline="central">b</text>
<text x="1669.2" y="510.2" transform="rotate(81.1 1669.2 510.2)" font-family="'DejaVu Sans',sans-serif" font-size="14.8" fill="#6e0000" text-anchor="middle" dominant-baseline="central">a</text>
<text x="1693.3" y="478.4" transform="rotate(76.7 1693.3 478.4)" font-family="'DejaVu Sans',sans-serif" font-size="14.8" fill="#003f00" text-anchor="middle" dominant-baseline="central">c</text>
<text x="1476.2" y="260.2" transform="rotate(23.5 1476.2 260.2)" font-family="'DejaVu Sans',sans-serif" font-size="14.8" fill="#6e0000" text-anchor="middle" dominant-baseline="central">e</text>
<text x="1410.8" y="239.5" transform="rotate(11.5 1410.8 239.5)" font-family="'DejaVu Sans',sans-serif" font-size="14.8" fill="#003f00" text-anchor="middle" dominant-baseline="central">f</text>
<text x="1478" y="953.6" transform="rotate(161.3 1478 953.6)" font-family="'DejaVu Sans',sans-serif" font-size="14.8" fill="#003f00" text-anchor="middle" dominant-baseline="central">p_Fusobacteria</text>
<text x="1469.4" y="927.2" transform="rotate(161.2 1469.4 927.2)" font-family="'DejaVu Sans',sans-serif" font-size="14.8" fill="#003f00" text-anchor="middle" dominant-baseline="central">n</text>
<text x="1460.1" y="899.9" transform="rotate(161.2 1460.1 899.9)" font-family="'DejaVu Sans',sans-serif" font-size="14.8" fill="#003f00" text-anchor="middle" dominant-baseline="central">m</text>
<text x="1659.6" y="831" transform="rotate(130.7 1659.6 831)" font-family="'DejaVu Sans',sans-serif" font-size="14.8" fill="#003f00" text-anchor="middle" dominant-baseline="central">p_Proteobacteria</text>
<text x="1691" y="733.8" transform="rotate(116.5 1691 733.8)" font-family="'DejaVu Sans',sans-serif" font-size="14.8" fill="#003f00" text-anchor="middle" dominant-baseline="central">u</text>
<text x="1661.1" y="729" transform="rotate(118 1661.1 729)" font-family="'DejaVu Sans',sans-serif" font-size="14.8" fill="#003f00" text-anchor="middle" dominant-baseline="central">t</text>
<text x="1649.8" y="682.6" transform="rotate(111.8 1649.8 682.6)" font-family="'DejaVu Sans',sans-serif" font-size="14.8" fill="#003f00" text-anchor="middle" dominant-baseline="central">s</text>
<text x="1626.2" y="730.2" transform="rotate(121 1626.2 730.2)" font-family="'DejaVu Sans',sans-serif" font-size="14.8" fill="#003f00" text-anchor="middle" dominant-baseline="central">r</text>
<text x="1621.2" y="831.8" transform="rotate(134.4 1621.2 831.8)" font-family="'DejaVu Sans',sans-serif" font-size="14.8" fill="#003f00" text-anchor="middle" dominant-baseline="central">q</text>
<text x="1595.5" y="816.7" transform="rotate(135.6 1595.5 816.7)" font-family="'DejaVu Sans',sans-serif" font-size="14.8" fill="#003f00" text-anchor="middle" dominant-baseline="central">p</text>
<text x="1574.9" y="795.2" transform="rotate(135.6 1574.9 795.2)" font-family="'DejaVu Sans',sans-serif" font-size="14.8" fill="#003f00" text-anchor="middle" dominant-baseline="central">o</text></g>
<g transform="translate(1394.9 0) scale(0.9935 1) translate(-1394.9 0)"><path d="M1158.9 1480.3A425.3 425.3 0 0 0 1232.2 2227L1361 1915.9A88.5 88.5 0 0 1 1345.8 1760.5Z" fill="#ff0000" fill-opacity="0.2"/>
<path d="M1691.4 1529.2A425.3 425.3 0 0 0 1250.1 1434.2L1364.8 1750.9A88.5 88.5 0 0 1 1456.6 1770.7Z" fill="#008000" fill-opacity="0.2"/>
<path d="M1177.1 1468.8A425.3 425.3 0 0 0 1164.5 1476.6L1347 1759.7A88.5 88.5 0 0 1 1349.6 1758.1Z" fill="#008000" fill-opacity="0.2"/>
<path d="M1191.2 1492.4A397.8 397.8 0 0 0 1179.4 1499.7L1323 1722.5A132.8 132.8 0 0 1 1326.9 1720.1Z" fill="#008000" fill-opacity="0.2"/>
<path d="M1205.8 1516.9A369.3 369.3 0 0 0 1194.9 1523.7L1299 1685.3A177 177 0 0 1 1304.3 1682.1Z" fill="#008000" fill-opacity="0.2"/>
<path d="M1220.9 1542.2A339.8 339.8 0 0 0 1210.8 1548.5L1275 1648.1A221.2 221.2 0 0 1 1281.6 1644.1Z" fill="#008000" fill-opacity="0.2"/>
<path d="M1358.8 1438A397.8 397.8 0 0 0 1263.4 1458.7L1351 1708.8A132.8 132.8 0 0 1 1382.9 1701.9Z" fill="#008000" fill-opacity="0.2"/>
<path d="M1362.1 1466.3A369.3 369.3 0 0 0 1272.8 1485.6L1336.4 1667A177 177 0 0 1 1379.2 1657.8Z" fill="#008000" fill-opacity="0.2"/>
<path d="M1357.6 1496.3A339.8 339.8 0 0 0 1282.6 1513.4L1321.8 1625.3A221.2 221.2 0 0 1 1370.6 1614.2Z" fill="#008000" fill-opacity="0.2"/>
<path d="M1407.4 1494.5A339.8 339.8 0 0 0 1390.2 1494.3L1391.8 1612.9A221.2 221.2 0 0 1 1403 1613Z" fill="#008000" fill-opacity="0.2"/>
<path d="M1542.3 1527.9A339.8 339.8 0 0 0 1524.4 1519.9L1479.2 1629.5A221.2 221.2 0 0 1 1490.8 1634.7Z" fill="#008000" fill-opacity="0.2"/>
<path d="M1561.2 1537.8A339.8 339.8 0 0 0 1551.3 1532.4L1496.7 1637.7A221.2 221.2 0 0 1 1503.2 1641.2Z" fill="#008000" fill-opacity="0.2"/>
<path d="M1626.7 1585.6A339.8 339.8 0 0 0 1562.2 1538.3L1503.8 1641.5A221.2 221.2 0 0 1 1545.8 1672.3Z" fill="#008000" fill-opacity="0.2"/>
<path d="M1148.4 1600.2A339.8 339.8 0 0 0 1140 1609.4L1228.9 1687.8A221.2 221.2 0 0 1 1234.4 1681.8Z" fill="#008000" fill-opacity="0.2"/>
<path d="M1060.1 1775.7A339.8 339.8 0 0 0 1056.9 1798.6L1174.9 1811A221.2 221.2 0 0 1 1176.9 1796.1Z" fill="#008000" fill-opacity="0.2"/>
<path d="M1085.2 1973.9A339.8 339.8 0 0 0 1089.5 1983.1L1196 1931.1A221.2 221.2 0 0 1 1193.3 1925.1Z" fill="#008000" fill-opacity="0.2"/>
<path d="M1098.6 2000.4A339.8 339.8 0 0 0 1134.2 2052.1L1225.2 1976A221.2 221.2 0 0 1 1202 1942.4Z" fill="#008000" fill-opacity="0.2"/>
<path d="M1168.8 2087.8A339.8 339.8 0 0 0 1178.3 2095.9L1253.9 2004.6A221.2 221.2 0 0 1 1247.7 1999.3Z" fill="#008000" fill-opacity="0.2"/>
<path d="M1149.2 2109.8A369.3 369.3 0 0 0 1159.5 2118.6L1282.1 1970.5A177 177 0 0 1 1277.2 1966.3Z" fill="#008000" fill-opacity="0.2"/>
<path d="M1431.6 2230.2A397.8 397.8 0 0 0 1605.7 2171.4L1465.2 1946.7A132.8 132.8 0 0 1 1407.2 1966.3Z" fill="#008000" fill-opacity="0.2"/>
<path d="M1429 2201.8A369.3 369.3 0 0 0 1534.4 2176L1461.8 1998A177 177 0 0 1 1411.2 2010.3Z" fill="#008000" fill-opacity="0.2"/>
<path d="M1455.7 2168.4A339.8 339.8 0 0 0 1493.1 2159.4L1458.8 2045.9A221.2 221.2 0 0 1 1434.5 2051.8Z" fill="#008000" fill-opacity="0.2"/>
<path d="M1493.7 2159.2A339.8 339.8 0 0 0 1504.4 2155.8L1466.2 2043.5A221.2 221.2 0 0 1 1459.2 2045.8Z" fill="#008000" fill-opacity="0.2"/>
<path d="M1505 2155.6A339.8 339.8 0 0 0 1523.3 2148.7L1478.5 2038.9A221.2 221.2 0 0 1 1466.6 2043.4Z" fill="#008000" fill-opacity="0.2"/>
<path d="M1591.8 2111.1A339.8 339.8 0 0 0 1602.7 2103L1530.2 2009.2A221.2 221.2 0 0 1 1523.1 2014.4Z" fill="#008000" fill-opacity="0.2"/>
<path d="M1609.3 2134.7A369.3 369.3 0 0 0 1621.2 2125.9L1503.4 1974A177 177 0 0 1 1497.7 1978.2Z" fill="#008000" fill-opacity="0.2"/>
<path d="M1664.4 2126.7A397.8 397.8 0 0 0 1776.9 1945.1L1522.4 1871.1A132.8 132.8 0 0 1 1484.8 1931.7Z" fill="#ff0000" fill-opacity="0.2"/>
<path d="M1702.8 2037.9A369.3 369.3 0 0 0 1723.6 2002.3L1552.5 1914.7A177 177 0 0 1 1542.5 1931.8Z" fill="#ff0000" fill-opacity="0.2"/>
<path d="M1677.3 2023.1A339.8 339.8 0 0 0 1697.4 1988.9L1591.9 1934.9A221.2 221.2 0 0 1 1578.8 1957.2Z" fill="#ff0000" fill-opacity="0.2"/>
<path d="M1681.9 2066.5A369.3 369.3 0 0 0 1700.3 2041.7L1541.3 1933.6A177 177 0 0 1 1532.5 1945.5Z" fill="#008000" fill-opacity="0.2"/>
<g fill="none" stroke-linecap="butt">
<path d="M1439.2 1834.1L1483.4 1832.7" stroke="#000" stroke-width="4.5"/>
<path d="M1483.4 1832.7L1527.6 1832" stroke="#000" stroke-width="1.7"/>
<path d="M1527.6 1832L1571.9 1831.3" stroke="#000" stroke-width="1.7"/>
<path d="M1571.9 1831.3L1616.1 1830.6" stroke="#000" stroke-width="1.7"/>
<path d="M1616.1 1830.6L1660.4 1829.9" stroke="#000" stroke-width="1.7"/>
<path d="M1660.4 1829.9L1704.6 1829.2" stroke="#000" stroke-width="1.7"/>
<path d="M1350.7 1834.1L1306.4 1834.1" stroke="#000" stroke-width="2.3"/>
<path d="M1367.4 1918.2L1353.3 1960.2" stroke="#000" stroke-width="2.3"/>
<path d="M1353.3 1960.2L1339 2002.1" stroke="#000" stroke-width="2.3"/>
<path d="M1339 2002.1L1330.2 2045.7" stroke="#000" stroke-width="2.3"/>
<path d="M1330.2 2045.7L1317.3 2088" stroke="#000" stroke-width="2.3"/>
<path d="M1296.5 2080.7L1280.1 2121.8" stroke="#000" stroke-width="2.3"/>
<path d="M1307.3 2084.7L1292.8 2126.5" stroke="#000" stroke-width="2.3"/>
<path d="M1311.3 2086.1L1297.3 2128.1" stroke="#000" stroke-width="2.3"/>
<path d="M1315.2 2087.3L1301.9 2129.6" stroke="#000" stroke-width="2.3"/>
<path d="M1320.1 2088.9L1304.9 2130.5" stroke="#000" stroke-width="2.3"/>
<path d="M1320.1 2088.9L1310.4 2132.1" stroke="#000" stroke-width="2.3"/>
<path d="M1325.1 2090.3L1313.4 2132.9" stroke="#000" stroke-width="2.3"/>
<path d="M1440 1910.3L1462.5 1948.4" stroke="#000" stroke-width="2.3"/>
<path d="M1385.4 1966.5L1382.2 2010.6" stroke="#000" stroke-width="2.3"/>
<path d="M1355.7 2006.7L1345.9 2049.9" stroke="#000" stroke-width="2.3"/>
<path d="M1344 2049.4L1333.9 2092.5" stroke="#000" stroke-width="2.3"/>
<path d="M1330.2 2091.6L1319.5 2134.5" stroke="#000" stroke-width="2.3"/>
<path d="M1333.9 2092.5L1323.7 2135.6" stroke="#000" stroke-width="2.3"/>
<path d="M1337.5 2093.3L1328 2136.5" stroke="#000" stroke-width="2.3"/>
<path d="M1350.6 2050.9L1341.8 2094.2" stroke="#000" stroke-width="2.3"/>
<path d="M1341.8 2094.2L1332.9 2137.6" stroke="#000" stroke-width="2.3"/>
<path d="M1367.8 2009L1361.1 2052.7" stroke="#000" stroke-width="2.3"/>
<path d="M1355.3 2051.8L1347.4 2095.3" stroke="#000" stroke-width="2.3"/>
<path d="M1347.4 2095.3L1339.5 2138.9" stroke="#000" stroke-width="2.3"/>
<path d="M1359.5 2052.5L1352.5 2096.2" stroke="#000" stroke-width="2.3"/>
<path d="M1352.5 2096.2L1345.4 2139.9" stroke="#000" stroke-width="2.3"/>
<path d="M1364.9 2053.3L1358.9 2097.1" stroke="#000" stroke-width="2.3"/>
<path d="M1357.1 2096.9L1350.8 2140.7" stroke="#000" stroke-width="2.3"/>
<path d="M1360.7 2097.4L1355 2141.3" stroke="#000" stroke-width="2.3"/>
<path d="M1379.8 2010.5L1375.2 2054.5" stroke="#000" stroke-width="2.3"/>
<path d="M1375.2 2054.5L1371.3 2098.5" stroke="#000" stroke-width="2.3"/>
<path d="M1369.3 2098.4L1359.6 2141.8" stroke="#000" stroke-width="2.3"/>
<path d="M1369.3 2098.4L1362.3 2142.1" stroke="#000" stroke-width="2.3"/>
<path d="M1369.3 2098.4L1365.1 2142.4" stroke="#000" stroke-width="2.3"/>
<path d="M1369.3 2098.4L1367.8 2142.7" stroke="#000" stroke-width="2.3"/>
<path d="M1369.3 2098.4L1370.6 2142.9" stroke="#000" stroke-width="2.3"/>
<path d="M1377.2 2099L1374.2 2143.2" stroke="#000" stroke-width="2.3"/>
<path d="M1389.3 2011L1389.5 2055.3" stroke="#000" stroke-width="2.3"/>
<path d="M1389.5 2055.3L1388.4 2099.5" stroke="#000" stroke-width="2.3"/>
<path d="M1383.2 2099.3L1378.3 2143.4" stroke="#000" stroke-width="2.3"/>
<path d="M1383.2 2099.3L1384.2 2143.7" stroke="#000" stroke-width="2.3"/>
<path d="M1389.5 2099.5L1385.6 2143.7" stroke="#000" stroke-width="2.3"/>
<path d="M1389.5 2099.5L1391.5 2143.8" stroke="#000" stroke-width="2.3"/>
<path d="M1394.7 2099.6L1394.6 2143.8" stroke="#000" stroke-width="2.3"/>
<path d="M1404.2 2010.9L1406.5 2055" stroke="#000" stroke-width="2.3"/>
<path d="M1403.4 2055.2L1405.1 2099.4" stroke="#000" stroke-width="2.3"/>
<path d="M1401.4 2099.5L1399 2143.8" stroke="#000" stroke-width="2.3"/>
<path d="M1401.4 2099.5L1405.9 2143.7" stroke="#000" stroke-width="2.3"/>
<path d="M1408.8 2099.2L1407.6 2143.6" stroke="#000" stroke-width="2.3"/>
<path d="M1408.8 2099.2L1414.5 2143.2" stroke="#000" stroke-width="2.3"/>
<path d="M1411.9 2054.7L1415.2 2098.8" stroke="#000" stroke-width="2.3"/>
<path d="M1415.2 2098.8L1418.6 2142.9" stroke="#000" stroke-width="2.3"/>
<path d="M1438.4 1959.5L1452.9 2001.3" stroke="#000" stroke-width="2.3"/>
<path d="M1437.7 2005.8L1448.4 2048.8" stroke="#000" stroke-width="2.3"/>
<path d="M1429.5 2052.6L1430.7 2097.2" stroke="#000" stroke-width="2.3"/>
<path d="M1430.7 2097.2L1425.6 2142.3" stroke="#000" stroke-width="2.3"/>
<path d="M1430.7 2097.2L1428.7 2142" stroke="#000" stroke-width="2.3"/>
<path d="M1430.7 2097.2L1431.9 2141.6" stroke="#000" stroke-width="2.3"/>
<path d="M1430.7 2097.2L1435.1 2141.2" stroke="#000" stroke-width="2.3"/>
<path d="M1430.7 2097.2L1438.3 2140.8" stroke="#000" stroke-width="2.3"/>
<path d="M1430.7 2097.2L1441.4 2140.3" stroke="#000" stroke-width="2.3"/>
<path d="M1430.7 2097.2L1444.6 2139.8" stroke="#000" stroke-width="2.3"/>
<path d="M1430.7 2097.2L1447.7 2139.3" stroke="#000" stroke-width="2.3"/>
<path d="M1448.2 2048.8L1458.8 2091.8" stroke="#000" stroke-width="2.3"/>
<path d="M1453.6 2093L1459.3 2137.1" stroke="#000" stroke-width="2.3"/>
<path d="M1453.6 2093L1463.4 2136.2" stroke="#000" stroke-width="2.3"/>
<path d="M1453.6 2093L1467.5 2135.2" stroke="#000" stroke-width="2.3"/>
<path d="M1460.3 2091.4L1471.1 2134.3" stroke="#000" stroke-width="2.3"/>
<path d="M1464.6 2090.3L1476.3 2133" stroke="#000" stroke-width="2.3"/>
<path d="M1469 2089L1481.4 2131.5" stroke="#000" stroke-width="2.3"/>
<path d="M1464.7 2044L1475.5 2087.1" stroke="#000" stroke-width="2.3"/>
<path d="M1473 2041.1L1488.6 2082.5" stroke="#000" stroke-width="2.3"/>
<path d="M1493.1 2080.8L1509.4 2121.9" stroke="#000" stroke-width="2.3"/>
<path d="M1472.2 1993.3L1495.3 2031.2" stroke="#000" stroke-width="2.3"/>
<path d="M1495.3 2031.2L1515.4 2070.7" stroke="#000" stroke-width="2.3"/>
<path d="M1504.2 2076.1L1514.3 2119.9" stroke="#000" stroke-width="2.3"/>
<path d="M1504.2 2076.1L1517 2118.8" stroke="#000" stroke-width="2.3"/>
<path d="M1504.2 2076.1L1519.7 2117.6" stroke="#000" stroke-width="2.3"/>
<path d="M1504.2 2076.1L1522.4 2116.4" stroke="#000" stroke-width="2.3"/>
<path d="M1504.2 2076.1L1525 2115.2" stroke="#000" stroke-width="2.3"/>
<path d="M1504.2 2076.1L1527.7 2114" stroke="#000" stroke-width="2.3"/>
<path d="M1504.2 2076.1L1530.3 2112.7" stroke="#000" stroke-width="2.3"/>
<path d="M1514.6 2071.1L1533.8 2110.9" stroke="#000" stroke-width="2.3"/>
<path d="M1519.4 2068.6L1537.2 2109.2" stroke="#000" stroke-width="2.3"/>
<path d="M1519.4 2068.6L1543.1 2106.1" stroke="#000" stroke-width="2.3"/>
<path d="M1524.6 2065.8L1546.2 2104.4" stroke="#000" stroke-width="2.3"/>
<path d="M1528.7 2063.4L1551 2101.6" stroke="#000" stroke-width="2.3"/>
<path d="M1532.8 2061L1555.8 2098.8" stroke="#000" stroke-width="2.3"/>
<path d="M1472.7 1941.6L1498.7 1977.5" stroke="#000" stroke-width="2.3"/>
<path d="M1492.6 1981.7L1517.8 2018.1" stroke="#000" stroke-width="2.3"/>
<path d="M1517.8 2018.1L1542.4 2054.9" stroke="#000" stroke-width="2.3"/>
<path d="M1540.4 2056.2L1560.9 2095.6" stroke="#000" stroke-width="2.3"/>
<path d="M1540.4 2056.2L1564.7 2093.2" stroke="#000" stroke-width="2.3"/>
<path d="M1540.4 2056.2L1568.4 2090.7" stroke="#000" stroke-width="2.3"/>
<path d="M1546.4 2052.2L1571.6 2088.5" stroke="#000" stroke-width="2.3"/>
<path d="M1482.7 1933.7L1509.7 1968.8" stroke="#000" stroke-width="2.3"/>
<path d="M1509.7 1968.8L1538.4 2002.5" stroke="#000" stroke-width="2.3"/>
<path d="M1538.4 2002.5L1567.2 2036.1" stroke="#000" stroke-width="2.3"/>
<path d="M1562.6 2039.9L1588 2076.3" stroke="#000" stroke-width="2.3"/>
<path d="M1562.6 2039.9L1593.1 2072.1" stroke="#000" stroke-width="2.3"/>
<path d="M1569.8 2033.8L1594.8 2070.7" stroke="#000" stroke-width="2.3"/>
<path d="M1569.8 2033.8L1597.6 2068.3" stroke="#000" stroke-width="2.3"/>
<path d="M1569.8 2033.8L1600.4 2065.9" stroke="#000" stroke-width="2.3"/>
<path d="M1569.8 2033.8L1603.1 2063.4" stroke="#000" stroke-width="2.3"/>
<path d="M1508.5 1902.7L1546.4 1925.6" stroke="#000" stroke-width="2.3"/>
<path d="M1524.3 1954.8L1556.7 1985" stroke="#000" stroke-width="2.3"/>
<path d="M1546.4 1995.4L1576.6 2027.6" stroke="#000" stroke-width="2.3"/>
<path d="M1576.6 2027.6L1606.9 2059.9" stroke="#000" stroke-width="2.3"/>
<path d="M1549.1 1992.7L1580 2024.4" stroke="#000" stroke-width="2.3"/>
<path d="M1580 2024.4L1610.8 2056.2" stroke="#000" stroke-width="2.3"/>
<path d="M1552.7 1989.2L1584.2 2020.2" stroke="#000" stroke-width="2.3"/>
<path d="M1584.2 2020.2L1613.4 2053.7" stroke="#000" stroke-width="2.3"/>
<path d="M1584.2 2020.2L1618.1 2048.8" stroke="#000" stroke-width="2.3"/>
<path d="M1558.5 1983L1591.2 2012.8" stroke="#000" stroke-width="2.3"/>
<path d="M1591.2 2012.8L1619.8 2047.1" stroke="#000" stroke-width="2.3"/>
<path d="M1591.2 2012.8L1622.6 2044.1" stroke="#000" stroke-width="2.3"/>
<path d="M1591.2 2012.8L1625.3 2041.1" stroke="#000" stroke-width="2.3"/>
<path d="M1591.2 2012.8L1628.1 2038" stroke="#000" stroke-width="2.3"/>
<path d="M1563.4 1977.5L1597.1 2006.1" stroke="#000" stroke-width="2.3"/>
<path d="M1597.1 2006.1L1630.8 2034.8" stroke="#000" stroke-width="2.3"/>
<path d="M1565.6 1974.8L1599.8 2003" stroke="#000" stroke-width="2.3"/>
<path d="M1599.8 2003L1633.9 2031.1" stroke="#000" stroke-width="2.3"/>
<path d="M1538 1938.2L1572.8 1965.7" stroke="#000" stroke-width="2.3"/>
<path d="M1572.8 1965.7L1608.3 1992" stroke="#000" stroke-width="2.3"/>
<path d="M1603.1 1998.8L1637.8 2026.3" stroke="#000" stroke-width="2.3"/>
<path d="M1609.6 1990.3L1645.4 2016.3" stroke="#000" stroke-width="2.3"/>
<path d="M1612.7 1985.9L1649 2011.2" stroke="#000" stroke-width="2.3"/>
<path d="M1586.2 1945.2L1624.5 1967.4" stroke="#000" stroke-width="2.3"/>
<path d="M1617.7 1978.5L1654.8 2002.5" stroke="#000" stroke-width="2.3"/>
<path d="M1620.5 1974L1656.6 1999.8" stroke="#000" stroke-width="2.3"/>
<path d="M1620.5 1974L1659.7 1994.8" stroke="#000" stroke-width="2.3"/>
<path d="M1623.3 1969.5L1661.4 1992" stroke="#000" stroke-width="2.3"/>
<path d="M1626.2 1964.5L1662.9 1989.4" stroke="#000" stroke-width="2.3"/>
<path d="M1626.2 1964.5L1664.5 1986.6" stroke="#000" stroke-width="2.3"/>
<path d="M1554 1911.7L1593.8 1931.1" stroke="#000" stroke-width="2.3"/>
<path d="M1593.8 1931.1L1633.5 1950.5" stroke="#000" stroke-width="2.3"/>
<path d="M1633.5 1950.5L1671 1974.5" stroke="#000" stroke-width="2.3"/>
<path d="M1633.5 1950.5L1672.5 1971.4" stroke="#000" stroke-width="2.3"/>
<path d="M1633.5 1950.5L1674.1 1968.3" stroke="#000" stroke-width="2.3"/>
<path d="M1633.5 1950.5L1675.5 1965.2" stroke="#000" stroke-width="2.3"/>
<path d="M1561.7 1893.2L1603.5 1908" stroke="#000" stroke-width="2.3"/>
<path d="M1596.5 1925.1L1636.9 1943.4" stroke="#000" stroke-width="2.3"/>
<path d="M1636.9 1943.4L1677.2 1961.6" stroke="#000" stroke-width="2.3"/>
<path d="M1598.1 1921.6L1638.7 1939.1" stroke="#000" stroke-width="2.3"/>
<path d="M1638.7 1939.1L1679.4 1956.6" stroke="#000" stroke-width="2.3"/>
<path d="M1599.8 1917.6L1640.8 1934.3" stroke="#000" stroke-width="2.3"/>
<path d="M1640.8 1934.3L1680.7 1953.5" stroke="#000" stroke-width="2.3"/>
<path d="M1640.8 1934.3L1682.8 1948.4" stroke="#000" stroke-width="2.3"/>
<path d="M1602 1911.8L1643.5 1927.4" stroke="#000" stroke-width="2.3"/>
<path d="M1642.7 1929.4L1684 1945.3" stroke="#000" stroke-width="2.3"/>
<path d="M1644.2 1925.3L1685.8 1940.5" stroke="#000" stroke-width="2.3"/>
<path d="M1604.3 1905.4L1646.2 1919.7" stroke="#000" stroke-width="2.3"/>
<path d="M1646.2 1919.7L1687 1937.3" stroke="#000" stroke-width="2.3"/>
<path d="M1646.2 1919.7L1689.2 1930.7" stroke="#000" stroke-width="2.3"/>
<path d="M1606.3 1899.4L1648.6 1912.4" stroke="#000" stroke-width="2.3"/>
<path d="M1648 1914.3L1690.2 1927.7" stroke="#000" stroke-width="2.3"/>
<path d="M1649.2 1910.5L1691.5 1923.3" stroke="#000" stroke-width="2.3"/>
<path d="M1481.1 1854.3L1524.1 1864.6" stroke="#000" stroke-width="2.3"/>
<path d="M1524.1 1864.6L1567.1 1875.1" stroke="#000" stroke-width="2.3"/>
<path d="M1567.1 1875.1L1610.1 1885.4" stroke="#000" stroke-width="2.3"/>
<path d="M1610.1 1885.4L1653.1 1896.1" stroke="#000" stroke-width="2.3"/>
<path d="M1653.1 1896.1L1693.4 1917" stroke="#000" stroke-width="2.3"/>
<path d="M1653.1 1896.1L1694 1914.6" stroke="#000" stroke-width="2.3"/>
<path d="M1653.1 1896.1L1694.6 1912.3" stroke="#000" stroke-width="2.3"/>
<path d="M1653.1 1896.1L1695.2 1909.9" stroke="#000" stroke-width="2.3"/>
<path d="M1653.1 1896.1L1695.8 1907.6" stroke="#000" stroke-width="2.3"/>
<path d="M1653.1 1896.1L1696.4 1905.2" stroke="#000" stroke-width="2.3"/>
<path d="M1653.1 1896.1L1696.9 1902.9" stroke="#000" stroke-width="2.3"/>
<path d="M1653.1 1896.1L1697.5 1900.5" stroke="#000" stroke-width="2.3"/>
<path d="M1653.1 1896.1L1698 1898.1" stroke="#000" stroke-width="2.3"/>
<path d="M1653.1 1896.1L1698.5 1895.7" stroke="#000" stroke-width="2.3"/>
<path d="M1482.2 1848.7L1525.8 1856" stroke="#000" stroke-width="1.7"/>
<path d="M1525.8 1856L1569.5 1863.3" stroke="#000" stroke-width="1.7"/>
<path d="M1569.5 1863.3L1613.1 1870.6" stroke="#000" stroke-width="1.7"/>
<path d="M1613.1 1870.6L1656.8 1877.9" stroke="#000" stroke-width="1.7"/>
<path d="M1656.8 1877.9L1700.4 1885.2" stroke="#000" stroke-width="1.7"/>
<path d="M1482.5 1846.7L1526.3 1853" stroke="#000" stroke-width="1.7"/>
<path d="M1526.3 1853L1570.1 1859.3" stroke="#000" stroke-width="1.7"/>
<path d="M1570.1 1859.3L1613.9 1865.7" stroke="#000" stroke-width="1.7"/>
<path d="M1613.9 1865.7L1657.7 1872" stroke="#000" stroke-width="1.7"/>
<path d="M1657.7 1872L1701.5 1878.3" stroke="#000" stroke-width="1.7"/>
<path d="M1482.8 1844.7L1526.7 1850" stroke="#000" stroke-width="1.7"/>
<path d="M1526.7 1850L1570.6 1855.4" stroke="#000" stroke-width="1.7"/>
<path d="M1570.6 1855.4L1614.5 1860.7" stroke="#000" stroke-width="1.7"/>
<path d="M1614.5 1860.7L1658.5 1866" stroke="#000" stroke-width="1.7"/>
<path d="M1658.5 1866L1702.4 1871.3" stroke="#000" stroke-width="1.7"/>
<path d="M1483 1842.7L1527 1847.1" stroke="#000" stroke-width="1.7"/>
<path d="M1527 1847.1L1571.1 1851.4" stroke="#000" stroke-width="1.7"/>
<path d="M1571.1 1851.4L1615.1 1855.7" stroke="#000" stroke-width="1.7"/>
<path d="M1615.1 1855.7L1659.1 1860" stroke="#000" stroke-width="1.7"/>
<path d="M1659.1 1860L1703.2 1864.3" stroke="#000" stroke-width="1.7"/>
<path d="M1483.2 1840.7L1527.3 1844.1" stroke="#000" stroke-width="1.7"/>
<path d="M1527.3 1844.1L1571.4 1847.4" stroke="#000" stroke-width="1.7"/>
<path d="M1571.4 1847.4L1615.5 1850.7" stroke="#000" stroke-width="1.7"/>
<path d="M1615.5 1850.7L1659.7 1854" stroke="#000" stroke-width="1.7"/>
<path d="M1659.7 1854L1703.8 1857.3" stroke="#000" stroke-width="1.7"/>
<path d="M1483.3 1838.7L1527.5 1841" stroke="#000" stroke-width="1.7"/>
<path d="M1527.5 1841L1571.7 1843.4" stroke="#000" stroke-width="1.7"/>
<path d="M1571.7 1843.4L1615.8 1845.7" stroke="#000" stroke-width="1.7"/>
<path d="M1615.8 1845.7L1660 1848" stroke="#000" stroke-width="1.7"/>
<path d="M1660 1848L1704.2 1850.3" stroke="#000" stroke-width="1.7"/>
<path d="M1483.4 1836.7L1527.6 1838" stroke="#000" stroke-width="1.7"/>
<path d="M1527.6 1838L1571.8 1839.4" stroke="#000" stroke-width="1.7"/>
<path d="M1571.8 1839.4L1616.1 1840.7" stroke="#000" stroke-width="1.7"/>
<path d="M1616.1 1840.7L1660.3 1842" stroke="#000" stroke-width="1.7"/>
<path d="M1660.3 1842L1704.5 1843.3" stroke="#000" stroke-width="1.7"/>
<path d="M1483.4 1834.7L1527.6 1835" stroke="#000" stroke-width="1.7"/>
<path d="M1527.6 1835L1571.9 1835.3" stroke="#000" stroke-width="1.7"/>
<path d="M1571.9 1835.3L1616.1 1835.6" stroke="#000" stroke-width="1.7"/>
<path d="M1616.1 1835.6L1660.4 1836" stroke="#000" stroke-width="1.7"/>
<path d="M1660.4 1836L1704.6 1836.3" stroke="#000" stroke-width="1.7"/>
<path d="M1475.4 1797.3L1515.6 1778.8" stroke="#000" stroke-width="2.3"/>
<path d="M1518.7 1786.3L1560 1770.4" stroke="#000" stroke-width="2.3"/>
<path d="M1570.7 1813.4L1614.6 1808.3" stroke="#000" stroke-width="2.3"/>
<path d="M1615.6 1819L1659.8 1816" stroke="#000" stroke-width="2.3"/>
<path d="M1660 1819.6L1704.2 1817.2" stroke="#000" stroke-width="2.3"/>
<path d="M1659.6 1813.6L1704 1813.6" stroke="#000" stroke-width="2.3"/>
<path d="M1659.6 1813.6L1703.4 1806.8" stroke="#000" stroke-width="2.3"/>
<path d="M1615.1 1812.1L1659.1 1807.7" stroke="#000" stroke-width="2.3"/>
<path d="M1659.1 1807.7L1703.1 1803.3" stroke="#000" stroke-width="2.3"/>
<path d="M1614.2 1804.8L1658.1 1799" stroke="#000" stroke-width="2.3"/>
<path d="M1658.1 1799L1702.7 1799.1" stroke="#000" stroke-width="2.3"/>
<path d="M1658.1 1799L1702.3 1796.1" stroke="#000" stroke-width="2.3"/>
<path d="M1658.1 1799L1701.9 1793.1" stroke="#000" stroke-width="2.3"/>
<path d="M1658.1 1799L1701.5 1790.1" stroke="#000" stroke-width="2.3"/>
<path d="M1658.1 1799L1701.1 1787.1" stroke="#000" stroke-width="2.3"/>
<path d="M1567.8 1796.1L1611 1786.6" stroke="#000" stroke-width="2.3"/>
<path d="M1612.8 1796L1656.4 1788.4" stroke="#000" stroke-width="2.3"/>
<path d="M1656.7 1790L1700.4 1782.7" stroke="#000" stroke-width="2.3"/>
<path d="M1656.1 1786.8L1699.7 1778.9" stroke="#000" stroke-width="2.3"/>
<path d="M1612 1791.4L1655.4 1782.9" stroke="#000" stroke-width="2.3"/>
<path d="M1655.4 1782.9L1698.8 1774.4" stroke="#000" stroke-width="2.3"/>
<path d="M1611.2 1787.6L1654.5 1778.3" stroke="#000" stroke-width="2.3"/>
<path d="M1654.5 1778.3L1697.7 1769.1" stroke="#000" stroke-width="2.3"/>
<path d="M1609.9 1782L1652.9 1771.5" stroke="#000" stroke-width="2.3"/>
<path d="M1653.5 1773.8L1696.6 1763.8" stroke="#000" stroke-width="2.3"/>
<path d="M1652.4 1769.3L1695.3 1758.5" stroke="#000" stroke-width="2.3"/>
<path d="M1608.5 1776.4L1651.2 1764.8" stroke="#000" stroke-width="2.3"/>
<path d="M1651.2 1764.8L1693.9 1753.3" stroke="#000" stroke-width="2.3"/>
<path d="M1561.9 1775.3L1603.6 1760.6" stroke="#000" stroke-width="2.3"/>
<path d="M1607.3 1772L1649.7 1759.6" stroke="#000" stroke-width="2.3"/>
<path d="M1649.7 1759.6L1692.2 1747.2" stroke="#000" stroke-width="2.3"/>
<path d="M1606.1 1768L1648.3 1754.8" stroke="#000" stroke-width="2.3"/>
<path d="M1648.3 1754.8L1690.5 1741.6" stroke="#000" stroke-width="2.3"/>
<path d="M1604.8 1764L1646.7 1750" stroke="#000" stroke-width="2.3"/>
<path d="M1646.7 1750L1688.7 1736" stroke="#000" stroke-width="2.3"/>
<path d="M1603.5 1760.3L1645.2 1745.6" stroke="#000" stroke-width="2.3"/>
<path d="M1645.2 1745.6L1686.9 1730.8" stroke="#000" stroke-width="2.3"/>
<path d="M1601.8 1755.7L1643.2 1740" stroke="#000" stroke-width="2.3"/>
<path d="M1643.8 1741.7L1685.3 1726.3" stroke="#000" stroke-width="2.3"/>
<path d="M1642.5 1738.4L1683.8 1722.4" stroke="#000" stroke-width="2.3"/>
<path d="M1599.6 1750.2L1640.6 1733.5" stroke="#000" stroke-width="2.3"/>
<path d="M1641.2 1735.1L1682.3 1718.6" stroke="#000" stroke-width="2.3"/>
<path d="M1639.9 1731.8L1680.7 1714.8" stroke="#000" stroke-width="2.3"/>
<path d="M1597.9 1746.2L1638.5 1728.6" stroke="#000" stroke-width="2.3"/>
<path d="M1638.5 1728.6L1679.1 1711" stroke="#000" stroke-width="2.3"/>
<path d="M1554.9 1758.5L1594.9 1739.5" stroke="#000" stroke-width="2.3"/>
<path d="M1596.2 1742.3L1636.5 1724" stroke="#000" stroke-width="2.3"/>
<path d="M1636.5 1724L1676.8 1705.6" stroke="#000" stroke-width="2.3"/>
<path d="M1594.6 1738.8L1634.5 1719.8" stroke="#000" stroke-width="2.3"/>
<path d="M1634.5 1719.8L1674.5 1700.7" stroke="#000" stroke-width="2.3"/>
<path d="M1592.6 1734.7L1632.1 1714.8" stroke="#000" stroke-width="2.3"/>
<path d="M1632.1 1714.8L1673 1697.6" stroke="#000" stroke-width="2.3"/>
<path d="M1632.1 1714.8L1670.2 1692.2" stroke="#000" stroke-width="2.3"/>
<path d="M1547.9 1745.1L1586.1 1722.8" stroke="#000" stroke-width="2.3"/>
<path d="M1588.6 1727.2L1627.4 1705.9" stroke="#000" stroke-width="2.3"/>
<path d="M1627.4 1705.9L1668.8 1689.4" stroke="#000" stroke-width="2.3"/>
<path d="M1627.4 1705.9L1667 1686.1" stroke="#000" stroke-width="2.3"/>
<path d="M1627.4 1705.9L1665.2 1682.9" stroke="#000" stroke-width="2.3"/>
<path d="M1627.4 1705.9L1663.4 1679.6" stroke="#000" stroke-width="2.3"/>
<path d="M1582.6 1716.9L1620.1 1693.5" stroke="#000" stroke-width="2.3"/>
<path d="M1623.4 1698.9L1661.5 1676.3" stroke="#000" stroke-width="2.3"/>
<path d="M1621.2 1695.3L1658.9 1672.1" stroke="#000" stroke-width="2.3"/>
<path d="M1619 1691.7L1656.3 1668" stroke="#000" stroke-width="2.3"/>
<path d="M1616.7 1688.2L1653.7 1663.8" stroke="#000" stroke-width="2.3"/>
<path d="M1535.7 1726.8L1570.9 1700" stroke="#000" stroke-width="2.3"/>
<path d="M1574.3 1704.6L1610.2 1678.7" stroke="#000" stroke-width="2.3"/>
<path d="M1613 1682.6L1651.2 1660.2" stroke="#000" stroke-width="2.3"/>
<path d="M1613 1682.6L1647.4 1654.6" stroke="#000" stroke-width="2.3"/>
<path d="M1609.5 1677.7L1645.2 1651.6" stroke="#000" stroke-width="2.3"/>
<path d="M1606.6 1673.8L1641.8 1647.1" stroke="#000" stroke-width="2.3"/>
<path d="M1568.8 1697.3L1603.6 1669.9" stroke="#000" stroke-width="2.3"/>
<path d="M1603.6 1669.9L1638.3 1642.6" stroke="#000" stroke-width="2.3"/>
<path d="M1565.6 1693.4L1599.8 1665.3" stroke="#000" stroke-width="2.3"/>
<path d="M1600.9 1666.6L1635.3 1638.7" stroke="#000" stroke-width="2.3"/>
<path d="M1598.7 1663.9L1632.6 1635.5" stroke="#000" stroke-width="2.3"/>
<path d="M1562.8 1690L1596.4 1661.2" stroke="#000" stroke-width="2.3"/>
<path d="M1596.4 1661.2L1630 1632.4" stroke="#000" stroke-width="2.3"/>
<path d="M1457.2 1771.2L1490.7 1742.2" stroke="#000" stroke-width="2.3"/>
<path d="M1490.7 1742.2L1524.6 1713.6" stroke="#000" stroke-width="2.3"/>
<path d="M1524.6 1713.6L1557 1683.5" stroke="#000" stroke-width="2.3"/>
<path d="M1560.1 1686.9L1593.1 1657.5" stroke="#000" stroke-width="2.3"/>
<path d="M1593.1 1657.5L1626.2 1628" stroke="#000" stroke-width="2.3"/>
<path d="M1557.5 1684.1L1590 1654" stroke="#000" stroke-width="2.3"/>
<path d="M1590 1654L1622.5 1624" stroke="#000" stroke-width="2.3"/>
<path d="M1554.1 1680.5L1585.9 1649.7" stroke="#000" stroke-width="2.3"/>
<path d="M1585.9 1649.7L1620.1 1621.4" stroke="#000" stroke-width="2.3"/>
<path d="M1585.9 1649.7L1615.4 1616.6" stroke="#000" stroke-width="2.3"/>
<path d="M1551 1677.3L1582.2 1645.9" stroke="#000" stroke-width="2.3"/>
<path d="M1582.2 1645.9L1613.4 1614.6" stroke="#000" stroke-width="2.3"/>
<path d="M1412.1 1747.3L1420.7 1703.9" stroke="#000" stroke-width="2.3"/>
<path d="M1440.5 1709.4L1456.2 1668.1" stroke="#000" stroke-width="2.3"/>
<path d="M1456.2 1668.1L1471.5 1626.5" stroke="#000" stroke-width="2.3"/>
<path d="M1546.5 1672.9L1578 1641.8" stroke="#000" stroke-width="2.3"/>
<path d="M1578 1641.8L1608.5 1609.8" stroke="#000" stroke-width="2.3"/>
<path d="M1524.3 1654.7L1550.2 1618.8" stroke="#000" stroke-width="2.3"/>
<path d="M1573.6 1637.7L1604 1605.5" stroke="#000" stroke-width="2.3"/>
<path d="M1550.2 1618.8L1595.7 1598.2" stroke="#000" stroke-width="2.3"/>
<path d="M1550.2 1618.8L1593.9 1596.7" stroke="#000" stroke-width="2.3"/>
<path d="M1550.2 1618.8L1592.1 1595.2" stroke="#000" stroke-width="2.3"/>
<path d="M1550.2 1618.8L1590.3 1593.7" stroke="#000" stroke-width="2.3"/>
<path d="M1550.2 1618.8L1588.4 1592.2" stroke="#000" stroke-width="2.3"/>
<path d="M1550.2 1618.8L1586.6 1590.8" stroke="#000" stroke-width="2.3"/>
<path d="M1550.2 1618.8L1584.7 1589.3" stroke="#000" stroke-width="2.3"/>
<path d="M1550.2 1618.8L1582.9 1587.9" stroke="#000" stroke-width="2.3"/>
<path d="M1550.2 1618.8L1581 1586.5" stroke="#000" stroke-width="2.3"/>
<path d="M1550.2 1618.8L1579.1 1585.1" stroke="#000" stroke-width="2.3"/>
<path d="M1550.2 1618.8L1577.3 1583.7" stroke="#000" stroke-width="2.3"/>
<path d="M1550.2 1618.8L1575.4 1582.3" stroke="#000" stroke-width="2.3"/>
<path d="M1550.2 1618.8L1573.4 1581" stroke="#000" stroke-width="2.3"/>
<path d="M1550.2 1618.8L1567.2 1576.7" stroke="#000" stroke-width="2.3"/>
<path d="M1550.2 1618.8L1562.2 1573.4" stroke="#000" stroke-width="2.3"/>
<path d="M1528.1 1604.4L1550.2 1566.1" stroke="#000" stroke-width="2.3"/>
<path d="M1499.5 1639.1L1520.4 1600.1" stroke="#000" stroke-width="2.3"/>
<path d="M1522.7 1601.4L1544 1562.6" stroke="#000" stroke-width="2.3"/>
<path d="M1519.2 1599.5L1540 1560.4" stroke="#000" stroke-width="2.3"/>
<path d="M1493.6 1636.1L1513.4 1596.5" stroke="#000" stroke-width="2.3"/>
<path d="M1514.8 1597.2L1534.8 1557.7" stroke="#000" stroke-width="2.3"/>
<path d="M1511.9 1595.8L1531.4 1556.1" stroke="#000" stroke-width="2.3"/>
<path d="M1484.9 1632L1502.9 1591.6" stroke="#000" stroke-width="2.3"/>
<path d="M1507.5 1593.6L1526.2 1553.6" stroke="#000" stroke-width="2.3"/>
<path d="M1503.1 1591.6L1521.1 1551.2" stroke="#000" stroke-width="2.3"/>
<path d="M1498.7 1589.7L1516 1549" stroke="#000" stroke-width="2.3"/>
<path d="M1470.6 1626.2L1485.7 1584.6" stroke="#000" stroke-width="2.3"/>
<path d="M1490.5 1586.4L1509.9 1546.5" stroke="#000" stroke-width="2.3"/>
<path d="M1490.5 1586.4L1508.2 1545.8" stroke="#000" stroke-width="2.3"/>
<path d="M1490.5 1586.4L1506.5 1545.2" stroke="#000" stroke-width="2.3"/>
<path d="M1490.5 1586.4L1504.8 1544.5" stroke="#000" stroke-width="2.3"/>
<path d="M1490.5 1586.4L1503.1 1543.9" stroke="#000" stroke-width="2.3"/>
<path d="M1490.5 1586.4L1501.4 1543.2" stroke="#000" stroke-width="2.3"/>
<path d="M1474.3 1580.7L1477.2 1535.5" stroke="#000" stroke-width="2.3"/>
<path d="M1474.3 1580.7L1474 1534.6" stroke="#000" stroke-width="2.3"/>
<path d="M1434.1 1616.3L1441.9 1572.8" stroke="#000" stroke-width="2.3"/>
<path d="M1438.3 1572.2L1465.7 1532.6" stroke="#000" stroke-width="2.3"/>
<path d="M1438.3 1572.2L1463.7 1532.1" stroke="#000" stroke-width="2.3"/>
<path d="M1438.3 1572.2L1461.7 1531.6" stroke="#000" stroke-width="2.3"/>
<path d="M1438.3 1572.2L1459.6 1531.2" stroke="#000" stroke-width="2.3"/>
<path d="M1438.3 1572.2L1457.6 1530.8" stroke="#000" stroke-width="2.3"/>
<path d="M1438.3 1572.2L1455.5 1530.3" stroke="#000" stroke-width="2.3"/>
<path d="M1438.3 1572.2L1453.4 1529.9" stroke="#000" stroke-width="2.3"/>
<path d="M1438.3 1572.2L1451.4 1529.5" stroke="#000" stroke-width="2.3"/>
<path d="M1438.3 1572.2L1449.3 1529.2" stroke="#000" stroke-width="2.3"/>
<path d="M1438.3 1572.2L1447.3 1528.8" stroke="#000" stroke-width="2.3"/>
<path d="M1438.3 1572.2L1445.2 1528.5" stroke="#000" stroke-width="2.3"/>
<path d="M1438.3 1572.2L1443.4 1528.2" stroke="#000" stroke-width="2.3"/>
<path d="M1438.3 1572.2L1443.1 1528.1" stroke="#000" stroke-width="2.3"/>
<path d="M1438.3 1572.2L1441.1 1527.8" stroke="#000" stroke-width="2.3"/>
<path d="M1438.3 1572.2L1439 1527.5" stroke="#000" stroke-width="2.3"/>
<path d="M1438.3 1572.2L1436.9 1527.2" stroke="#000" stroke-width="2.3"/>
<path d="M1438.3 1572.2L1434.8 1526.9" stroke="#000" stroke-width="2.3"/>
<path d="M1438.3 1572.2L1432.7 1526.7" stroke="#000" stroke-width="2.3"/>
<path d="M1438.3 1572.2L1430.7 1526.4" stroke="#000" stroke-width="2.3"/>
<path d="M1438.3 1572.2L1428.6 1526.2" stroke="#000" stroke-width="2.3"/>
<path d="M1438.3 1572.2L1426.5 1526" stroke="#000" stroke-width="2.3"/>
<path d="M1438.3 1572.2L1424.4 1525.8" stroke="#000" stroke-width="2.3"/>
<path d="M1438.3 1572.2L1422.3 1525.6" stroke="#000" stroke-width="2.3"/>
<path d="M1411.1 1569.1L1419.4 1525.3" stroke="#000" stroke-width="2.3"/>
<path d="M1411.1 1569.1L1415.7 1525" stroke="#000" stroke-width="2.3"/>
<path d="M1411.1 1569.1L1411.9 1524.8" stroke="#000" stroke-width="2.3"/>
<path d="M1411.1 1569.1L1408.2 1524.6" stroke="#000" stroke-width="2.3"/>
<path d="M1384 1701.8L1388.1 1657.2" stroke="#000" stroke-width="1.7"/>
<path d="M1384 1701.8L1383.8 1657.4" stroke="#000" stroke-width="1.7"/>
<path d="M1388.1 1657.2L1386.4 1613" stroke="#000" stroke-width="1.7"/>
<path d="M1386.4 1613L1384.7 1568.8" stroke="#000" stroke-width="1.7"/>
<path d="M1384.7 1568.8L1383 1524.6" stroke="#000" stroke-width="1.7"/>
<path d="M1383.8 1657.4L1381 1613.3" stroke="#000" stroke-width="1.7"/>
<path d="M1381 1613.3L1378.2 1569.1" stroke="#000" stroke-width="1.7"/>
<path d="M1378.2 1569.1L1375.5 1525" stroke="#000" stroke-width="1.7"/>
<path d="M1356.3 1661.4L1346.6 1618.2" stroke="#000" stroke-width="2.3"/>
<path d="M1370.2 1614.2L1365.3 1570.3" stroke="#000" stroke-width="2.3"/>
<path d="M1367.7 1570L1363.2 1526" stroke="#000" stroke-width="2.3"/>
<path d="M1363.3 1570.5L1358.1 1526.5" stroke="#000" stroke-width="2.3"/>
<path d="M1345.5 1618.4L1335.6 1575.3" stroke="#000" stroke-width="2.3"/>
<path d="M1353.8 1571.8L1354.5 1527" stroke="#000" stroke-width="2.3"/>
<path d="M1353.8 1571.8L1352.7 1527.2" stroke="#000" stroke-width="2.3"/>
<path d="M1353.8 1571.8L1351 1527.5" stroke="#000" stroke-width="2.3"/>
<path d="M1353.8 1571.8L1349.3 1527.7" stroke="#000" stroke-width="2.3"/>
<path d="M1353.8 1571.8L1347.6 1528" stroke="#000" stroke-width="2.3"/>
<path d="M1353.8 1571.8L1345.8 1528.3" stroke="#000" stroke-width="2.3"/>
<path d="M1353.8 1571.8L1344.1 1528.5" stroke="#000" stroke-width="2.3"/>
<path d="M1353.8 1571.8L1342.4 1528.8" stroke="#000" stroke-width="2.3"/>
<path d="M1353.8 1571.8L1340.7 1529.1" stroke="#000" stroke-width="2.3"/>
<path d="M1353.8 1571.8L1338.9 1529.4" stroke="#000" stroke-width="2.3"/>
<path d="M1353.8 1571.8L1337.2 1529.8" stroke="#000" stroke-width="2.3"/>
<path d="M1353.8 1571.8L1335.5 1530.1" stroke="#000" stroke-width="2.3"/>
<path d="M1353.8 1571.8L1333.8 1530.4" stroke="#000" stroke-width="2.3"/>
<path d="M1353.8 1571.8L1332.1 1530.8" stroke="#000" stroke-width="2.3"/>
<path d="M1324.8 1578L1328.4 1531.6" stroke="#000" stroke-width="2.3"/>
<path d="M1324.8 1578L1326.7 1531.9" stroke="#000" stroke-width="2.3"/>
<path d="M1324.8 1578L1325.1 1532.3" stroke="#000" stroke-width="2.3"/>
<path d="M1324.8 1578L1323.4 1532.7" stroke="#000" stroke-width="2.3"/>
<path d="M1324.8 1578L1321.8 1533.1" stroke="#000" stroke-width="2.3"/>
<path d="M1324.8 1578L1320.1 1533.5" stroke="#000" stroke-width="2.3"/>
<path d="M1324.8 1578L1318.5 1533.9" stroke="#000" stroke-width="2.3"/>
<path d="M1324.8 1578L1316.8 1534.4" stroke="#000" stroke-width="2.3"/>
<path d="M1324.8 1578L1315.2 1534.8" stroke="#000" stroke-width="2.3"/>
<path d="M1324.8 1578L1313.5 1535.2" stroke="#000" stroke-width="2.3"/>
<path d="M1324.8 1578L1311.9 1535.7" stroke="#000" stroke-width="2.3"/>
<path d="M1324.8 1578L1310.3 1536.1" stroke="#000" stroke-width="2.3"/>
<path d="M1324.8 1578L1308.6 1536.6" stroke="#000" stroke-width="2.3"/>
<path d="M1324.8 1578L1307 1537.1" stroke="#000" stroke-width="2.3"/>
<path d="M1324.8 1578L1305.4 1537.6" stroke="#000" stroke-width="2.3"/>
<path d="M1324.8 1578L1303.7 1538.1" stroke="#000" stroke-width="2.3"/>
<path d="M1324.8 1578L1302.1 1538.6" stroke="#000" stroke-width="2.3"/>
<path d="M1324.8 1578L1300.5 1539.1" stroke="#000" stroke-width="2.3"/>
<path d="M1324.8 1578L1298.9 1539.6" stroke="#000" stroke-width="2.3"/>
<path d="M1324.8 1578L1297.3 1540.1" stroke="#000" stroke-width="2.3"/>
<path d="M1324.8 1578L1295.7 1540.7" stroke="#000" stroke-width="2.3"/>
<path d="M1324.8 1578L1294.1 1541.2" stroke="#000" stroke-width="2.3"/>
<path d="M1363.3 1751.4L1347.5 1710.1" stroke="#000" stroke-width="1.7"/>
<path d="M1347.5 1710.1L1331.8 1668.7" stroke="#000" stroke-width="1.7"/>
<path d="M1331.8 1668.7L1316 1627.4" stroke="#000" stroke-width="1.7"/>
<path d="M1316 1627.4L1300.2 1586.1" stroke="#000" stroke-width="1.7"/>
<path d="M1300.2 1586.1L1284.4 1544.7" stroke="#000" stroke-width="1.7"/>
<path d="M1361.5 1752.2L1344.7 1711.2" stroke="#000" stroke-width="1.7"/>
<path d="M1344.7 1711.2L1328 1670.2" stroke="#000" stroke-width="1.7"/>
<path d="M1328 1670.2L1311.3 1629.3" stroke="#000" stroke-width="1.7"/>
<path d="M1311.3 1629.3L1294.6 1588.3" stroke="#000" stroke-width="1.7"/>
<path d="M1294.6 1588.3L1277.9 1547.3" stroke="#000" stroke-width="1.7"/>
<path d="M1359.6 1752.9L1342 1712.4" stroke="#000" stroke-width="1.7"/>
<path d="M1342 1712.4L1324.3 1671.8" stroke="#000" stroke-width="1.7"/>
<path d="M1324.3 1671.8L1306.7 1631.2" stroke="#000" stroke-width="1.7"/>
<path d="M1306.7 1631.2L1289 1590.6" stroke="#000" stroke-width="1.7"/>
<path d="M1289 1590.6L1271.4 1550" stroke="#000" stroke-width="1.7"/>
<path d="M1357.9 1753.7L1339.4 1713.5" stroke="#000" stroke-width="1.7"/>
<path d="M1339.4 1713.5L1320.9 1673.3" stroke="#000" stroke-width="1.7"/>
<path d="M1320.9 1673.3L1302.4 1633.1" stroke="#000" stroke-width="1.7"/>
<path d="M1302.4 1633.1L1284 1592.9" stroke="#000" stroke-width="1.7"/>
<path d="M1284 1592.9L1265.5 1552.7" stroke="#000" stroke-width="1.7"/>
<path d="M1356.4 1754.4L1337.1 1714.6" stroke="#000" stroke-width="1.7"/>
<path d="M1337.1 1714.6L1317.9 1674.7" stroke="#000" stroke-width="1.7"/>
<path d="M1317.9 1674.7L1298.6 1634.9" stroke="#000" stroke-width="1.7"/>
<path d="M1298.6 1634.9L1279.3 1595.1" stroke="#000" stroke-width="1.7"/>
<path d="M1279.3 1595.1L1260.1 1555.2" stroke="#000" stroke-width="1.7"/>
<path d="M1354.9 1755.2L1334.8 1715.7" stroke="#000" stroke-width="1.7"/>
<path d="M1334.8 1715.7L1314.8 1676.3" stroke="#000" stroke-width="1.7"/>
<path d="M1314.8 1676.3L1294.8 1636.8" stroke="#000" stroke-width="1.7"/>
<path d="M1294.8 1636.8L1274.8 1597.3" stroke="#000" stroke-width="1.7"/>
<path d="M1274.8 1597.3L1254.8 1557.9" stroke="#000" stroke-width="1.7"/>
<path d="M1353.4 1756L1332.6 1716.9" stroke="#000" stroke-width="1.7"/>
<path d="M1332.6 1716.9L1311.8 1677.8" stroke="#000" stroke-width="1.7"/>
<path d="M1311.8 1677.8L1291 1638.7" stroke="#000" stroke-width="1.7"/>
<path d="M1291 1638.7L1270.3 1599.7" stroke="#000" stroke-width="1.7"/>
<path d="M1270.3 1599.7L1249.5 1560.6" stroke="#000" stroke-width="1.7"/>
<path d="M1351.9 1756.8L1330.3 1718.1" stroke="#000" stroke-width="1.7"/>
<path d="M1330.3 1718.1L1308.8 1679.4" stroke="#000" stroke-width="1.7"/>
<path d="M1308.8 1679.4L1287.3 1640.8" stroke="#000" stroke-width="1.7"/>
<path d="M1287.3 1640.8L1265.8 1602.1" stroke="#000" stroke-width="1.7"/>
<path d="M1265.8 1602.1L1244.3 1563.4" stroke="#000" stroke-width="1.7"/>
<path d="M1350.4 1757.6L1328.1 1719.4" stroke="#000" stroke-width="1.7"/>
<path d="M1328.1 1719.4L1305.9 1681.1" stroke="#000" stroke-width="1.7"/>
<path d="M1305.9 1681.1L1283.6 1642.9" stroke="#000" stroke-width="1.7"/>
<path d="M1283.6 1642.9L1261.3 1604.6" stroke="#000" stroke-width="1.7"/>
<path d="M1261.3 1604.6L1239.1 1566.4" stroke="#000" stroke-width="1.7"/>
<path d="M1306.9 1843.4L1262.9 1848" stroke="#000" stroke-width="2.3"/>
<path d="M1292.9 1749.1L1258.9 1720.8" stroke="#000" stroke-width="2.3"/>
<path d="M1280.7 1698.9L1252.1 1665.1" stroke="#000" stroke-width="2.3"/>
<path d="M1265.2 1654.9L1239.2 1619" stroke="#000" stroke-width="2.3"/>
<path d="M1241.7 1617.3L1220.9 1577.8" stroke="#000" stroke-width="2.3"/>
<path d="M1241.7 1617.3L1218.5 1579.5" stroke="#000" stroke-width="2.3"/>
<path d="M1241.7 1617.3L1216.1 1581.1" stroke="#000" stroke-width="2.3"/>
<path d="M1241.7 1617.3L1213.8 1582.8" stroke="#000" stroke-width="2.3"/>
<path d="M1241.7 1617.3L1211.4 1584.6" stroke="#000" stroke-width="2.3"/>
<path d="M1234.9 1622.2L1208.3 1586.9" stroke="#000" stroke-width="2.3"/>
<path d="M1254.5 1663.1L1226.4 1628.9" stroke="#000" stroke-width="2.3"/>
<path d="M1230.9 1625.3L1203.6 1590.5" stroke="#000" stroke-width="2.3"/>
<path d="M1227.7 1627.8L1199.9 1593.5" stroke="#000" stroke-width="2.3"/>
<path d="M1224.6 1630.4L1196.2 1596.5" stroke="#000" stroke-width="2.3"/>
<path d="M1219.9 1634.4L1193.6 1598.7" stroke="#000" stroke-width="2.3"/>
<path d="M1219.9 1634.4L1190.7 1601.2" stroke="#000" stroke-width="2.3"/>
<path d="M1219.9 1634.4L1187.9 1603.7" stroke="#000" stroke-width="2.3"/>
<path d="M1215.3 1638.5L1185.4 1605.9" stroke="#000" stroke-width="2.3"/>
<path d="M1239.4 1676.7L1208.3 1645.2" stroke="#000" stroke-width="2.3"/>
<path d="M1212.4 1641.2L1182 1609.1" stroke="#000" stroke-width="2.3"/>
<path d="M1209.7 1643.9L1178.8 1612.2" stroke="#000" stroke-width="2.3"/>
<path d="M1207 1646.6L1175.6 1615.3" stroke="#000" stroke-width="2.3"/>
<path d="M1204.3 1649.3L1172.5 1618.5" stroke="#000" stroke-width="2.3"/>
<path d="M1248.7 1734.4L1212.1 1709.4" stroke="#000" stroke-width="2.3"/>
<path d="M1216.6 1703.1L1180.9 1676.9" stroke="#000" stroke-width="2.3"/>
<path d="M1190.6 1664.5L1159 1633.3" stroke="#000" stroke-width="2.3"/>
<path d="M1190.6 1664.5L1156.2 1636.7" stroke="#000" stroke-width="2.3"/>
<path d="M1190.6 1664.5L1150.5 1643.8" stroke="#000" stroke-width="2.3"/>
<path d="M1182.6 1674.7L1151.5 1642.5" stroke="#000" stroke-width="2.3"/>
<path d="M1182.6 1674.7L1150.1 1644.3" stroke="#000" stroke-width="2.3"/>
<path d="M1182.6 1674.7L1148.7 1646.1" stroke="#000" stroke-width="2.3"/>
<path d="M1182.6 1674.7L1147.3 1648" stroke="#000" stroke-width="2.3"/>
<path d="M1182.6 1674.7L1145.9 1649.8" stroke="#000" stroke-width="2.3"/>
<path d="M1182.6 1674.7L1144.5 1651.7" stroke="#000" stroke-width="2.3"/>
<path d="M1182.6 1674.7L1143.2 1653.6" stroke="#000" stroke-width="2.3"/>
<path d="M1182.6 1674.7L1141.8 1655.5" stroke="#000" stroke-width="2.3"/>
<path d="M1182.6 1674.7L1140.5 1657.4" stroke="#000" stroke-width="2.3"/>
<path d="M1182.6 1674.7L1139.2 1659.3" stroke="#000" stroke-width="2.3"/>
<path d="M1182.6 1674.7L1137.9 1661.2" stroke="#000" stroke-width="2.3"/>
<path d="M1182.6 1674.7L1136.6 1663.1" stroke="#000" stroke-width="2.3"/>
<path d="M1182.6 1674.7L1135.3 1665.1" stroke="#000" stroke-width="2.3"/>
<path d="M1182.6 1674.7L1134.1 1667" stroke="#000" stroke-width="2.3"/>
<path d="M1182.6 1674.7L1132.8 1669" stroke="#000" stroke-width="2.3"/>
<path d="M1182.6 1674.7L1131.6 1671" stroke="#000" stroke-width="2.3"/>
<path d="M1208.7 1714.6L1171.5 1690.7" stroke="#000" stroke-width="2.3"/>
<path d="M1173.5 1687.6L1136.5 1663.2" stroke="#000" stroke-width="2.3"/>
<path d="M1170.2 1692.7L1134.5 1666.3" stroke="#000" stroke-width="2.3"/>
<path d="M1170.2 1692.7L1131 1672" stroke="#000" stroke-width="2.3"/>
<path d="M1207.7 1716.2L1167.1 1697.8" stroke="#000" stroke-width="2.3"/>
<path d="M1167.1 1697.8L1129.1 1675" stroke="#000" stroke-width="2.3"/>
<path d="M1199.5 1730.2L1159.6 1711.1" stroke="#000" stroke-width="2.3"/>
<path d="M1159.6 1711.1L1125.9 1680.5" stroke="#000" stroke-width="2.3"/>
<path d="M1159.6 1711.1L1124.8 1682.5" stroke="#000" stroke-width="2.3"/>
<path d="M1159.6 1711.1L1124.8 1682.5" stroke="#000" stroke-width="2.3"/>
<path d="M1159.6 1711.1L1123.7 1684.5" stroke="#000" stroke-width="2.3"/>
<path d="M1159.6 1711.1L1122.6 1686.4" stroke="#000" stroke-width="2.3"/>
<path d="M1159.6 1711.1L1121.5 1688.4" stroke="#000" stroke-width="2.3"/>
<path d="M1159.6 1711.1L1120.5 1690.4" stroke="#000" stroke-width="2.3"/>
<path d="M1159.6 1711.1L1119.4 1692.4" stroke="#000" stroke-width="2.3"/>
<path d="M1159.6 1711.1L1118.4 1694.4" stroke="#000" stroke-width="2.3"/>
<path d="M1159.6 1711.1L1117.4 1696.5" stroke="#000" stroke-width="2.3"/>
<path d="M1159.6 1711.1L1116.4 1698.5" stroke="#000" stroke-width="2.3"/>
<path d="M1159.6 1711.1L1115.4 1700.5" stroke="#000" stroke-width="2.3"/>
<path d="M1159.6 1711.1L1114.5 1702.6" stroke="#000" stroke-width="2.3"/>
<path d="M1159.6 1711.1L1113.5 1704.6" stroke="#000" stroke-width="2.3"/>
<path d="M1159.6 1711.1L1112.6 1706.6" stroke="#000" stroke-width="2.3"/>
<path d="M1159.6 1711.1L1111.7 1708.7" stroke="#000" stroke-width="2.3"/>
<path d="M1263.6 1853.7L1219.8 1860.3" stroke="#000" stroke-width="2.3"/>
<path d="M1219.6 1858.7L1175.8 1864.9" stroke="#000" stroke-width="2.3"/>
<path d="M1190.9 1748.4L1150.1 1731.2" stroke="#000" stroke-width="2.3"/>
<path d="M1149.7 1732.3L1108.8 1715.3" stroke="#000" stroke-width="2.3"/>
<path d="M1148.1 1736.1L1107 1719.8" stroke="#000" stroke-width="2.3"/>
<path d="M1186.2 1760.6L1144.5 1745.9" stroke="#000" stroke-width="2.3"/>
<path d="M1144.9 1744.9L1105.2 1724.5" stroke="#000" stroke-width="2.3"/>
<path d="M1144.9 1744.9L1103.8 1728.1" stroke="#000" stroke-width="2.3"/>
<path d="M1144.9 1744.9L1102.5 1731.8" stroke="#000" stroke-width="2.3"/>
<path d="M1144.9 1744.9L1101.3 1735.5" stroke="#000" stroke-width="2.3"/>
<path d="M1142 1753.2L1099.9 1739.7" stroke="#000" stroke-width="2.3"/>
<path d="M1180.4 1779.8L1137.5 1769" stroke="#000" stroke-width="2.3"/>
<path d="M1140.3 1758.7L1097.9 1746.2" stroke="#000" stroke-width="2.3"/>
<path d="M1139 1763.3L1096.4 1751.5" stroke="#000" stroke-width="2.3"/>
<path d="M1136.9 1771.3L1095.3 1755.5" stroke="#000" stroke-width="2.3"/>
<path d="M1136.9 1771.3L1094.4 1759.1" stroke="#000" stroke-width="2.3"/>
<path d="M1136.9 1771.3L1093.5 1762.6" stroke="#000" stroke-width="2.3"/>
<path d="M1136.9 1771.3L1092.7 1766.2" stroke="#000" stroke-width="2.3"/>
<path d="M1177.4 1793.8L1134.4 1783" stroke="#000" stroke-width="2.3"/>
<path d="M1134.4 1783L1091.9 1769.8" stroke="#000" stroke-width="2.3"/>
<path d="M1134.4 1783L1090.9 1774.5" stroke="#000" stroke-width="2.3"/>
<path d="M1134.4 1783L1090.1 1779.1" stroke="#000" stroke-width="2.3"/>
<path d="M1175.6 1804.5L1132 1797.4" stroke="#000" stroke-width="2.3"/>
<path d="M1132 1797.4L1089.4 1782.9" stroke="#000" stroke-width="2.3"/>
<path d="M1132 1797.4L1088.9 1786.2" stroke="#000" stroke-width="2.3"/>
<path d="M1132 1797.4L1088.4 1789.6" stroke="#000" stroke-width="2.3"/>
<path d="M1132 1797.4L1087.9 1792.9" stroke="#000" stroke-width="2.3"/>
<path d="M1132 1797.4L1087.5 1796.3" stroke="#000" stroke-width="2.3"/>
<path d="M1132 1797.4L1087.1 1799.7" stroke="#000" stroke-width="2.3"/>
<path d="M1174.1 1820.2L1129.9 1817.4" stroke="#000" stroke-width="2.3"/>
<path d="M1130.4 1810.8L1086.7 1803.2" stroke="#000" stroke-width="2.3"/>
<path d="M1130.4 1810.8L1086.3 1807" stroke="#000" stroke-width="2.3"/>
<path d="M1130.4 1810.8L1086 1810.7" stroke="#000" stroke-width="2.3"/>
<path d="M1130 1816.9L1085.8 1814" stroke="#000" stroke-width="2.3"/>
<path d="M1129.7 1821L1085.5 1818.8" stroke="#000" stroke-width="2.3"/>
<path d="M1177.9 1877.1L1134.5 1885.7" stroke="#000" stroke-width="2.3"/>
<path d="M1129.6 1843.8L1085.2 1840.7" stroke="#000" stroke-width="2.3"/>
<path d="M1129.6 1843.8L1085.3 1843.9" stroke="#000" stroke-width="2.3"/>
<path d="M1129.6 1843.8L1085.4 1847" stroke="#000" stroke-width="2.3"/>
<path d="M1129.6 1843.8L1085.6 1850.2" stroke="#000" stroke-width="2.3"/>
<path d="M1130.1 1854L1085.7 1852.5" stroke="#000" stroke-width="2.3"/>
<path d="M1130.1 1854L1085.9 1855.7" stroke="#000" stroke-width="2.3"/>
<path d="M1130.1 1854L1086.1 1858.8" stroke="#000" stroke-width="2.3"/>
<path d="M1130.1 1854L1086.4 1862" stroke="#000" stroke-width="2.3"/>
<path d="M1130.9 1862L1086.6 1863.9" stroke="#000" stroke-width="2.3"/>
<path d="M1130.9 1862L1087.2 1869.5" stroke="#000" stroke-width="2.3"/>
<path d="M1132.2 1872.5L1087.8 1874.6" stroke="#000" stroke-width="2.3"/>
<path d="M1132.2 1872.5L1088.2 1877.5" stroke="#000" stroke-width="2.3"/>
<path d="M1132.2 1872.5L1088.6 1880.4" stroke="#000" stroke-width="2.3"/>
<path d="M1132.2 1872.5L1089.1 1883.3" stroke="#000" stroke-width="2.3"/>
<path d="M1133.2 1879.1L1089.6 1886.6" stroke="#000" stroke-width="2.3"/>
<path d="M1134.1 1883.8L1090.1 1889.4" stroke="#000" stroke-width="2.3"/>
<path d="M1134.1 1883.8L1091.1 1894.7" stroke="#000" stroke-width="2.3"/>
<path d="M1136.5 1895.3L1093.5 1905.4" stroke="#000" stroke-width="2.3"/>
<path d="M1137.5 1899L1094.5 1909.8" stroke="#000" stroke-width="2.3"/>
<path d="M1138.4 1902.7L1095.7 1914.2" stroke="#000" stroke-width="2.3"/>
<path d="M1141.7 1914L1099.5 1927.3" stroke="#000" stroke-width="2.3"/>
<path d="M1147.1 1929.5L1100.7 1930.9" stroke="#000" stroke-width="2.3"/>
<path d="M1147.1 1929.5L1101.4 1933.2" stroke="#000" stroke-width="2.3"/>
<path d="M1147.1 1929.5L1102.2 1935.4" stroke="#000" stroke-width="2.3"/>
<path d="M1147.1 1929.5L1103 1937.7" stroke="#000" stroke-width="2.3"/>
<path d="M1147.1 1929.5L1103.8 1939.9" stroke="#000" stroke-width="2.3"/>
<path d="M1147.1 1929.5L1104.6 1942.1" stroke="#000" stroke-width="2.3"/>
<path d="M1147.1 1929.5L1105.4 1944.3" stroke="#000" stroke-width="2.3"/>
<path d="M1147.1 1929.5L1106.3 1946.6" stroke="#000" stroke-width="2.3"/>
<path d="M1147.1 1929.5L1107.2 1948.8" stroke="#000" stroke-width="2.3"/>
<path d="M1147.1 1929.5L1108 1951" stroke="#000" stroke-width="2.3"/>
<path d="M1147.1 1929.5L1108.9 1953.2" stroke="#000" stroke-width="2.3"/>
<path d="M1147.1 1929.5L1109.9 1955.3" stroke="#000" stroke-width="2.3"/>
<path d="M1147.1 1929.5L1110.8 1957.5" stroke="#000" stroke-width="2.3"/>
<path d="M1147.1 1929.5L1111.8 1959.7" stroke="#000" stroke-width="2.3"/>
<path d="M1200.1 1939L1161.1 1960" stroke="#000" stroke-width="2.3"/>
<path d="M1158.6 1955.2L1117.2 1971.4" stroke="#000" stroke-width="2.3"/>
<path d="M1158.6 1955.2L1119.2 1975.4" stroke="#000" stroke-width="2.3"/>
<path d="M1158.6 1955.2L1121.3 1979.3" stroke="#000" stroke-width="2.3"/>
<path d="M1162 1961.5L1123.2 1982.8" stroke="#000" stroke-width="2.3"/>
<path d="M1213.4 1960.7L1177.1 1986" stroke="#000" stroke-width="2.3"/>
<path d="M1164.7 1966.4L1126.4 1988.5" stroke="#000" stroke-width="2.3"/>
<path d="M1183.7 1995L1148.5 2021.8" stroke="#000" stroke-width="2.3"/>
<path d="M1260.1 1948.8L1226.2 1977.2" stroke="#000" stroke-width="2.3"/>
<path d="M1226.2 1977.2L1193 2006.5" stroke="#000" stroke-width="2.3"/>
<path d="M1193 2006.5L1159.4 2035.3" stroke="#000" stroke-width="2.3"/>
<path d="M1301.4 1928.3L1270.2 1959.7" stroke="#000" stroke-width="2.3"/>
<path d="M1269.7 1959.3L1238.2 1990.3" stroke="#000" stroke-width="2.3"/>
<path d="M1238.2 1990.3L1206.8 2021.5" stroke="#000" stroke-width="2.3"/>
<path d="M1197.4 2011.5L1164.4 2041.1" stroke="#000" stroke-width="2.3"/>
<path d="M1200.6 2015.1L1168.3 2045.3" stroke="#000" stroke-width="2.3"/>
<path d="M1204 2018.6L1172.2 2049.4" stroke="#000" stroke-width="2.3"/>
<path d="M1207.4 2022.1L1176.2 2053.4" stroke="#000" stroke-width="2.3"/>
<path d="M1319.9 1943.6L1294.9 1980.1" stroke="#000" stroke-width="2.3"/>
<path d="M1288.6 1975.6L1262.1 2011" stroke="#000" stroke-width="2.3"/>
<path d="M1262.1 2011L1235.5 2046.4" stroke="#000" stroke-width="2.3"/>
<path d="M1232.5 2044.1L1202.4 2076.8" stroke="#000" stroke-width="2.3"/>
<path d="M1232.5 2044.1L1205.4 2079.1" stroke="#000" stroke-width="2.3"/>
<path d="M1232.5 2044.1L1208.4 2081.4" stroke="#000" stroke-width="2.3"/>
<path d="M1237.3 2047.8L1211.1 2083.4" stroke="#000" stroke-width="2.3"/>
<path d="M1240.6 2050.2L1214.9 2086.2" stroke="#000" stroke-width="2.3"/>
<path d="M1244 2052.5L1218.8 2088.9" stroke="#000" stroke-width="2.3"/>
<path d="M1304 1986L1280.6 2023.5" stroke="#000" stroke-width="2.3"/>
<path d="M1280.6 2023.5L1257.8 2061.4" stroke="#000" stroke-width="2.3"/>
<path d="M1248.4 2055.5L1223.9 2092.4" stroke="#000" stroke-width="2.3"/>
<path d="M1252.2 2058L1228.5 2095.3" stroke="#000" stroke-width="2.3"/>
<path d="M1256.2 2060.5L1233.1 2098.2" stroke="#000" stroke-width="2.3"/>
<path d="M1260.1 2062.9L1237.7 2101" stroke="#000" stroke-width="2.3"/>
<path d="M1265.2 2065.7L1240.7 2102.8" stroke="#000" stroke-width="2.3"/>
<path d="M1265.2 2065.7L1246.4 2105.9" stroke="#000" stroke-width="2.3"/>
<path d="M1338.8 1954.4L1320.1 1994.5" stroke="#000" stroke-width="2.3"/>
<path d="M1320.1 1994.5L1302.1 2034.9" stroke="#000" stroke-width="2.3"/>
<path d="M1302.1 2034.9L1283.5 2075.1" stroke="#000" stroke-width="2.3"/>
<path d="M1271.1 2069L1250.5 2108.1" stroke="#000" stroke-width="2.3"/>
<path d="M1278.6 2072.8L1254.3 2110.1" stroke="#000" stroke-width="2.3"/>
<path d="M1278.6 2072.8L1257.6 2111.8" stroke="#000" stroke-width="2.3"/>
<path d="M1278.6 2072.8L1261 2113.4" stroke="#000" stroke-width="2.3"/>
<path d="M1278.6 2072.8L1264.3 2115" stroke="#000" stroke-width="2.3"/>
<path d="M1286.3 2076.4L1268.2 2116.7" stroke="#000" stroke-width="2.3"/>
<path d="M1290.7 2078.3L1273.3 2119" stroke="#000" stroke-width="2.3"/>
<path d="M1302.8 2083.1L1285.9 2124" stroke="#008000" stroke-width="6.8"/>
<path d="M1446.5 2094.5L1454.2 2138.1" stroke="#008000" stroke-width="8"/>
<path d="M1475.5 2087.1L1488.9 2129.2" stroke="#008000" stroke-width="5.7"/>
<path d="M1489.5 2082.2L1502.6 2124.5" stroke="#008000" stroke-width="5.7"/>
<path d="M1501.5 1975.4L1525.3 2012.9" stroke="#008000" stroke-width="5.7"/>
<path d="M1525.3 2012.9L1551.3 2048.6" stroke="#008000" stroke-width="5.7"/>
<path d="M1551.3 2048.6L1577.4 2084.4" stroke="#008000" stroke-width="5.7"/>
<path d="M1606.4 1994.6L1641.6 2021.4" stroke="#008000" stroke-width="6.8"/>
<path d="M1548.1 1922.7L1586.2 1945.2" stroke="#ff0000" stroke-width="6.3"/>
<path d="M1626.2 1964.5L1667.7 1980.8" stroke="#ff0000" stroke-width="6.8"/>
<path d="M1633.9 1949.7L1671.9 1972.8" stroke="#ff0000" stroke-width="3"/>
<path d="M1633.9 1949.7L1674.3 1967.8" stroke="#ff0000" stroke-width="5.7"/>
<path d="M1550.2 1618.8L1598.1 1600.3" stroke="#008000" stroke-width="3"/>
<path d="M1550.2 1618.8L1571.1 1579.3" stroke="#008000" stroke-width="3"/>
<path d="M1550.2 1618.8L1557.2 1570.3" stroke="#008000" stroke-width="3"/>
<path d="M1474.3 1580.7L1497.8 1541.9" stroke="#008000" stroke-width="4.5"/>
<path d="M1474.3 1580.7L1489.6 1539.2" stroke="#008000" stroke-width="5.7"/>
<path d="M1474.3 1580.7L1483.4 1537.3" stroke="#008000" stroke-width="5.7"/>
<path d="M1474.3 1580.7L1469.8 1533.6" stroke="#008000" stroke-width="2"/>
<path d="M1396.8 1612.9L1397.2 1568.6" stroke="#008000" stroke-width="6.3"/>
<path d="M1397.2 1568.6L1402.5 1524.4" stroke="#008000" stroke-width="2.5"/>
<path d="M1397.2 1568.6L1396.5 1524.4" stroke="#008000" stroke-width="3"/>
<path d="M1397.2 1568.6L1391.7 1524.4" stroke="#008000" stroke-width="2"/>
<path d="M1365.5 1704.6L1356.3 1661.4" stroke="#008000" stroke-width="6.3"/>
<path d="M1348.1 1759L1324.7 1721.4" stroke="#008000" stroke-width="5.7"/>
<path d="M1324.7 1721.4L1301.4 1683.8" stroke="#008000" stroke-width="5.7"/>
<path d="M1301.4 1683.8L1278 1646.3" stroke="#008000" stroke-width="5.7"/>
<path d="M1278 1646.3L1254.6 1608.7" stroke="#008000" stroke-width="5.7"/>
<path d="M1254.6 1608.7L1231.2 1571.1" stroke="#008000" stroke-width="5.7"/>
<path d="M1231.3 1685.2L1199.5 1654.4" stroke="#008000" stroke-width="5.7"/>
<path d="M1199.5 1654.4L1167.3 1624" stroke="#008000" stroke-width="5.7"/>
<path d="M1129.5 1827.2L1085.3 1825.5" stroke="#008000" stroke-width="6.8"/>
<path d="M1129.4 1835.5L1085.2 1836.3" stroke="#008000" stroke-width="6.8"/>
<path d="M1131.4 1866.5L1087.5 1871.8" stroke="#008000" stroke-width="2"/>
<path d="M1135.2 1889.3L1092.3 1900.1" stroke="#008000" stroke-width="6.8"/>
<path d="M1135.2 1889.3L1093.5 1905.4" stroke="#008000" stroke-width="4.5"/>
<path d="M1139.7 1907.3L1097.9 1922.1" stroke="#008000" stroke-width="6.8"/>
<path d="M1139.7 1907.3L1099.6 1927.8" stroke="#008000" stroke-width="4.5"/>
<path d="M1139.7 1907.3L1101 1931.9" stroke="#008000" stroke-width="3"/>
<path d="M1195 1929L1154.5 1946.7" stroke="#008000" stroke-width="6.3"/>
<path d="M1154.5 1946.7L1113.9 1964.5" stroke="#008000" stroke-width="3"/>
<path d="M1167.3 1970.8L1130 1994.6" stroke="#008000" stroke-width="6.8"/>
<path d="M1171.2 1977.1L1134.5 2001.9" stroke="#008000" stroke-width="6.8"/>
<path d="M1175.8 1984.1L1139.6 2009.5" stroke="#008000" stroke-width="6.8"/>
<path d="M1180.1 1990.2L1144.9 2017" stroke="#008000" stroke-width="5.7"/>
<path d="M1186.8 1999L1152.8 2027.3" stroke="#008000" stroke-width="5.7"/>
<path d="M1211.1 2025.7L1182.9 2059.9" stroke="#008000" stroke-width="6.8"/>
<path d="M1280.2 1968.9L1251.5 2002.6" stroke="#008000" stroke-width="6.3"/>
<path d="M1251.5 2002.6L1223.9 2037.2" stroke="#008000" stroke-width="6.3"/>
<path d="M1223.9 2037.2L1191.7 2067.9" stroke="#008000" stroke-width="5.7"/>
<path d="M1223.9 2037.2L1201.2 2075.8" stroke="#008000" stroke-width="6.3"/>
<path d="M1306.4 1834.1A88.5 88.5 0 0 0 1367.4 1918.2" stroke="#000" stroke-width="4.9"/>
<path d="M1306.4 1834.1A88.5 88.5 0 0 0 1440 1910.3" stroke="#000" stroke-width="4.9"/>
<path d="M1306.4 1834.1A88.5 88.5 0 0 0 1481.1 1854.3" stroke="#000" stroke-width="4.9"/>
<path d="M1306.4 1834.1A88.5 88.5 0 0 0 1482.2 1848.7" stroke="#000" stroke-width="4.9"/>
<path d="M1306.4 1834.1A88.5 88.5 0 0 0 1482.5 1846.7" stroke="#000" stroke-width="4.9"/>
<path d="M1306.4 1834.1A88.5 88.5 0 0 0 1482.8 1844.7" stroke="#000" stroke-width="4.9"/>
<path d="M1306.4 1834.1A88.5 88.5 0 0 0 1483 1842.7" stroke="#000" stroke-width="4.9"/>
<path d="M1306.4 1834.1A88.5 88.5 0 0 0 1483.2 1840.7" stroke="#000" stroke-width="4.9"/>
<path d="M1306.4 1834.1A88.5 88.5 0 0 0 1483.3 1838.7" stroke="#000" stroke-width="4.9"/>
<path d="M1306.4 1834.1A88.5 88.5 0 0 0 1483.4 1836.7" stroke="#000" stroke-width="4.9"/>
<path d="M1306.4 1834.1A88.5 88.5 0 0 0 1483.4 1834.7" stroke="#000" stroke-width="4.9"/>
<path d="M1475.4 1797.3A88.5 88.5 0 0 0 1306.4 1834.1" stroke="#000" stroke-width="4.9"/>
<path d="M1457.2 1771.2A88.5 88.5 0 0 0 1306.4 1834.1" stroke="#000" stroke-width="4.9"/>
<path d="M1412.1 1747.3A88.5 88.5 0 0 0 1306.4 1834.1" stroke="#000" stroke-width="4.9"/>
<path d="M1363.3 1751.4A88.5 88.5 0 0 0 1306.4 1834.1" stroke="#000" stroke-width="4.9"/>
<path d="M1361.5 1752.2A88.5 88.5 0 0 0 1306.4 1834.1" stroke="#000" stroke-width="4.9"/>
<path d="M1359.6 1752.9A88.5 88.5 0 0 0 1306.4 1834.1" stroke="#000" stroke-width="4.9"/>
<path d="M1357.9 1753.7A88.5 88.5 0 0 0 1306.4 1834.1" stroke="#000" stroke-width="4.9"/>
<path d="M1356.4 1754.4A88.5 88.5 0 0 0 1306.4 1834.1" stroke="#000" stroke-width="4.9"/>
<path d="M1354.9 1755.2A88.5 88.5 0 0 0 1306.4 1834.1" stroke="#000" stroke-width="4.9"/>
<path d="M1353.4 1756A88.5 88.5 0 0 0 1306.4 1834.1" stroke="#000" stroke-width="4.9"/>
<path d="M1351.9 1756.8A88.5 88.5 0 0 0 1306.4 1834.1" stroke="#000" stroke-width="4.9"/>
<path d="M1350.4 1757.6A88.5 88.5 0 0 0 1306.4 1834.1" stroke="#000" stroke-width="4.9"/>
<path d="M1348.1 1759A88.5 88.5 0 0 0 1306.4 1834.1" stroke="#000" stroke-width="4.9"/>
<path d="M1306.4 1834.1A88.5 88.5 0 0 0 1306.9 1843.4" stroke="#000" stroke-width="4.9"/>
<path d="M1296.5 2080.7A265.5 265.5 0 0 0 1317.3 2088" stroke="#000" stroke-width="2.3"/>
<path d="M1302.8 2083.1A265.5 265.5 0 0 0 1317.3 2088" stroke="#000" stroke-width="2"/>
<path d="M1307.3 2084.7A265.5 265.5 0 0 0 1317.3 2088" stroke="#000" stroke-width="2"/>
<path d="M1311.3 2086.1A265.5 265.5 0 0 0 1317.3 2088" stroke="#000" stroke-width="2"/>
<path d="M1315.2 2087.3A265.5 265.5 0 0 0 1317.3 2088" stroke="#000" stroke-width="1.4"/>
<path d="M1317.3 2088A265.5 265.5 0 0 0 1320.1 2088.9" stroke="#000" stroke-width="2.2"/>
<path d="M1317.3 2088A265.5 265.5 0 0 0 1325.1 2090.3" stroke="#000" stroke-width="1.8"/>
<path d="M1385.4 1966.5A132.8 132.8 0 0 0 1462.5 1948.4" stroke="#000" stroke-width="5.8"/>
<path d="M1438.4 1959.5A132.8 132.8 0 0 0 1462.5 1948.4" stroke="#000" stroke-width="5.8"/>
<path d="M1462.5 1948.4A132.8 132.8 0 0 0 1472.7 1941.6" stroke="#000" stroke-width="5.8"/>
<path d="M1462.5 1948.4A132.8 132.8 0 0 0 1482.7 1933.7" stroke="#000" stroke-width="5.8"/>
<path d="M1462.5 1948.4A132.8 132.8 0 0 0 1508.5 1902.7" stroke="#000" stroke-width="5.8"/>
<path d="M1355.7 2006.7A177 177 0 0 0 1382.2 2010.6" stroke="#000" stroke-width="4.1"/>
<path d="M1367.8 2009A177 177 0 0 0 1382.2 2010.6" stroke="#000" stroke-width="4.1"/>
<path d="M1379.8 2010.5A177 177 0 0 0 1382.2 2010.6" stroke="#000" stroke-width="4.1"/>
<path d="M1382.2 2010.6A177 177 0 0 0 1389.3 2011" stroke="#000" stroke-width="4.1"/>
<path d="M1382.2 2010.6A177 177 0 0 0 1404.2 2010.9" stroke="#000" stroke-width="4.1"/>
<path d="M1344 2049.4A221.2 221.2 0 0 0 1345.9 2049.9" stroke="#000" stroke-width="2.9"/>
<path d="M1345.9 2049.9A221.2 221.2 0 0 0 1350.6 2050.9" stroke="#000" stroke-width="3.4"/>
<path d="M1330.2 2091.6A265.5 265.5 0 0 0 1333.9 2092.5" stroke="#000" stroke-width="2.3"/>
<path d="M1333.9 2092.5A265.5 265.5 0 0 0 1337.5 2093.3" stroke="#000" stroke-width="1.8"/>
<path d="M1355.3 2051.8A221.2 221.2 0 0 0 1361.1 2052.7" stroke="#000" stroke-width="3.2"/>
<path d="M1359.5 2052.5A221.2 221.2 0 0 0 1361.1 2052.7" stroke="#000" stroke-width="3"/>
<path d="M1361.1 2052.7A221.2 221.2 0 0 0 1364.9 2053.3" stroke="#000" stroke-width="1.8"/>
<path d="M1357.1 2096.9A265.5 265.5 0 0 0 1358.9 2097.1" stroke="#000" stroke-width="2.3"/>
<path d="M1358.9 2097.1A265.5 265.5 0 0 0 1360.7 2097.4" stroke="#000" stroke-width="1.5"/>
<path d="M1369.3 2098.4A265.5 265.5 0 0 0 1371.3 2098.5" stroke="#000" stroke-width="2.2"/>
<path d="M1371.3 2098.5A265.5 265.5 0 0 0 1377.2 2099" stroke="#000" stroke-width="2.1"/>
<path d="M1383.2 2099.3A265.5 265.5 0 0 0 1388.4 2099.5" stroke="#000" stroke-width="2"/>
<path d="M1388.4 2099.5A265.5 265.5 0 0 0 1389.5 2099.5" stroke="#000" stroke-width="1.8"/>
<path d="M1388.4 2099.5A265.5 265.5 0 0 0 1394.7 2099.6" stroke="#000" stroke-width="1.5"/>
<path d="M1403.4 2055.2A221.2 221.2 0 0 0 1406.5 2055" stroke="#000" stroke-width="1.7"/>
<path d="M1406.5 2055A221.2 221.2 0 0 0 1411.9 2054.7" stroke="#000" stroke-width="2.1"/>
<path d="M1401.4 2099.5A265.5 265.5 0 0 0 1405.1 2099.4" stroke="#000" stroke-width="1.3"/>
<path d="M1405.1 2099.4A265.5 265.5 0 0 0 1408.8 2099.2" stroke="#000" stroke-width="2.2"/>
<path d="M1437.7 2005.8A177 177 0 0 0 1452.9 2001.3" stroke="#000" stroke-width="2"/>
<path d="M1452.9 2001.3A177 177 0 0 0 1472.2 1993.3" stroke="#000" stroke-width="5.3"/>
<path d="M1429.5 2052.6A221.2 221.2 0 0 0 1448.4 2048.8" stroke="#000" stroke-width="4.7"/>
<path d="M1448.2 2048.8A221.2 221.2 0 0 0 1448.4 2048.8" stroke="#000" stroke-width="4.7"/>
<path d="M1448.4 2048.8A221.2 221.2 0 0 0 1464.7 2044" stroke="#000" stroke-width="4.7"/>
<path d="M1448.4 2048.8A221.2 221.2 0 0 0 1473 2041.1" stroke="#000" stroke-width="4.7"/>
<path d="M1446.5 2094.5A265.5 265.5 0 0 0 1458.8 2091.8" stroke="#000" stroke-width="1.3"/>
<path d="M1453.6 2093A265.5 265.5 0 0 0 1458.8 2091.8" stroke="#000" stroke-width="2.3"/>
<path d="M1458.8 2091.8A265.5 265.5 0 0 0 1460.3 2091.4" stroke="#000" stroke-width="1.7"/>
<path d="M1458.8 2091.8A265.5 265.5 0 0 0 1464.6 2090.3" stroke="#000" stroke-width="1.5"/>
<path d="M1458.8 2091.8A265.5 265.5 0 0 0 1469 2089" stroke="#000" stroke-width="2.2"/>
<path d="M1488.6 2082.5A265.5 265.5 0 0 0 1489.5 2082.2" stroke="#000" stroke-width="2"/>
<path d="M1488.6 2082.5A265.5 265.5 0 0 0 1493.1 2080.8" stroke="#000" stroke-width="1.9"/>
<path d="M1504.2 2076.1A265.5 265.5 0 0 0 1515.4 2070.7" stroke="#000" stroke-width="2.2"/>
<path d="M1514.6 2071.1A265.5 265.5 0 0 0 1515.4 2070.7" stroke="#000" stroke-width="1.9"/>
<path d="M1515.4 2070.7A265.5 265.5 0 0 0 1519.4 2068.6" stroke="#000" stroke-width="2"/>
<path d="M1515.4 2070.7A265.5 265.5 0 0 0 1524.6 2065.8" stroke="#000" stroke-width="1.9"/>
<path d="M1515.4 2070.7A265.5 265.5 0 0 0 1528.7 2063.4" stroke="#000" stroke-width="2"/>
<path d="M1515.4 2070.7A265.5 265.5 0 0 0 1532.8 2061" stroke="#000" stroke-width="1.5"/>
<path d="M1492.6 1981.7A177 177 0 0 0 1498.7 1977.5" stroke="#000" stroke-width="2"/>
<path d="M1498.7 1977.5A177 177 0 0 0 1501.5 1975.4" stroke="#000" stroke-width="2"/>
<path d="M1540.4 2056.2A265.5 265.5 0 0 0 1542.4 2054.9" stroke="#000" stroke-width="1.7"/>
<path d="M1542.4 2054.9A265.5 265.5 0 0 0 1546.4 2052.2" stroke="#000" stroke-width="2.3"/>
<path d="M1562.6 2039.9A265.5 265.5 0 0 0 1567.2 2036.1" stroke="#000" stroke-width="1.5"/>
<path d="M1567.2 2036.1A265.5 265.5 0 0 0 1569.8 2033.8" stroke="#000" stroke-width="1.9"/>
<path d="M1524.3 1954.8A177 177 0 0 0 1546.4 1925.6" stroke="#000" stroke-width="3.5"/>
<path d="M1538 1938.2A177 177 0 0 0 1546.4 1925.6" stroke="#000" stroke-width="3.5"/>
<path d="M1546.4 1925.6A177 177 0 0 0 1548.1 1922.7" stroke="#000" stroke-width="2"/>
<path d="M1546.4 1925.6A177 177 0 0 0 1554 1911.7" stroke="#000" stroke-width="3.7"/>
<path d="M1546.4 1925.6A177 177 0 0 0 1561.7 1893.2" stroke="#000" stroke-width="3.5"/>
<path d="M1546.4 1995.4A221.2 221.2 0 0 0 1556.7 1985" stroke="#000" stroke-width="3.1"/>
<path d="M1549.1 1992.7A221.2 221.2 0 0 0 1556.7 1985" stroke="#000" stroke-width="3.3"/>
<path d="M1552.7 1989.2A221.2 221.2 0 0 0 1556.7 1985" stroke="#000" stroke-width="2.4"/>
<path d="M1556.7 1985A221.2 221.2 0 0 0 1558.5 1983" stroke="#000" stroke-width="3.1"/>
<path d="M1556.7 1985A221.2 221.2 0 0 0 1563.4 1977.5" stroke="#000" stroke-width="1.7"/>
<path d="M1556.7 1985A221.2 221.2 0 0 0 1565.6 1974.8" stroke="#000" stroke-width="1.8"/>
<path d="M1603.1 1998.8A265.5 265.5 0 0 0 1608.3 1992" stroke="#000" stroke-width="1.3"/>
<path d="M1606.4 1994.6A265.5 265.5 0 0 0 1608.3 1992" stroke="#000" stroke-width="1.8"/>
<path d="M1608.3 1992A265.5 265.5 0 0 0 1609.6 1990.3" stroke="#000" stroke-width="1.7"/>
<path d="M1608.3 1992A265.5 265.5 0 0 0 1612.7 1985.9" stroke="#000" stroke-width="2"/>
<path d="M1617.7 1978.5A265.5 265.5 0 0 0 1624.5 1967.4" stroke="#000" stroke-width="1.9"/>
<path d="M1620.5 1974A265.5 265.5 0 0 0 1624.5 1967.4" stroke="#000" stroke-width="1.5"/>
<path d="M1623.3 1969.5A265.5 265.5 0 0 0 1624.5 1967.4" stroke="#000" stroke-width="2.1"/>
<path d="M1624.5 1967.4A265.5 265.5 0 0 0 1626.2 1964.5" stroke="#000" stroke-width="2"/>
<path d="M1624.5 1967.4A265.5 265.5 0 0 0 1633.9 1949.7" stroke="#000" stroke-width="2"/>
<path d="M1596.5 1925.1A221.2 221.2 0 0 0 1603.5 1908" stroke="#000" stroke-width="1.9"/>
<path d="M1598.1 1921.6A221.2 221.2 0 0 0 1603.5 1908" stroke="#000" stroke-width="3"/>
<path d="M1599.8 1917.6A221.2 221.2 0 0 0 1603.5 1908" stroke="#000" stroke-width="3.4"/>
<path d="M1602 1911.8A221.2 221.2 0 0 0 1603.5 1908" stroke="#000" stroke-width="3.5"/>
<path d="M1603.5 1908A221.2 221.2 0 0 0 1604.3 1905.4" stroke="#000" stroke-width="3.3"/>
<path d="M1603.5 1908A221.2 221.2 0 0 0 1606.3 1899.4" stroke="#000" stroke-width="1.8"/>
<path d="M1642.7 1929.4A265.5 265.5 0 0 0 1643.5 1927.4" stroke="#000" stroke-width="1.5"/>
<path d="M1643.5 1927.4A265.5 265.5 0 0 0 1644.2 1925.3" stroke="#000" stroke-width="2.3"/>
<path d="M1648 1914.3A265.5 265.5 0 0 0 1648.6 1912.4" stroke="#000" stroke-width="1.9"/>
<path d="M1648.6 1912.4A265.5 265.5 0 0 0 1649.2 1910.5" stroke="#000" stroke-width="2.2"/>
<path d="M1518.7 1786.3A132.8 132.8 0 0 0 1515.6 1778.8" stroke="#000" stroke-width="2"/>
<path d="M1515.6 1778.8A132.8 132.8 0 0 0 1493.4 1745.1" stroke="#000" stroke-width="5.3"/>
<path d="M1570.7 1813.4A177 177 0 0 0 1560 1770.4" stroke="#000" stroke-width="4.7"/>
<path d="M1567.8 1796.1A177 177 0 0 0 1560 1770.4" stroke="#000" stroke-width="4.7"/>
<path d="M1561.9 1775.3A177 177 0 0 0 1560 1770.4" stroke="#000" stroke-width="4.7"/>
<path d="M1560 1770.4A177 177 0 0 0 1554.9 1758.5" stroke="#000" stroke-width="4.7"/>
<path d="M1560 1770.4A177 177 0 0 0 1547.9 1745.1" stroke="#000" stroke-width="4.7"/>
<path d="M1560 1770.4A177 177 0 0 0 1535.7 1726.8" stroke="#000" stroke-width="4.7"/>
<path d="M1615.6 1819A221.2 221.2 0 0 0 1614.6 1808.3" stroke="#000" stroke-width="2.3"/>
<path d="M1615.1 1812.1A221.2 221.2 0 0 0 1614.6 1808.3" stroke="#000" stroke-width="3.1"/>
<path d="M1614.6 1808.3A221.2 221.2 0 0 0 1614.2 1804.8" stroke="#000" stroke-width="3.2"/>
<path d="M1660 1819.6A265.5 265.5 0 0 0 1659.8 1816" stroke="#000" stroke-width="1.9"/>
<path d="M1659.8 1816A265.5 265.5 0 0 0 1659.6 1813.6" stroke="#000" stroke-width="1.5"/>
<path d="M1612.8 1796A221.2 221.2 0 0 0 1611 1786.6" stroke="#000" stroke-width="1.9"/>
<path d="M1612 1791.4A221.2 221.2 0 0 0 1611 1786.6" stroke="#000" stroke-width="2.1"/>
<path d="M1611.2 1787.6A221.2 221.2 0 0 0 1611 1786.6" stroke="#000" stroke-width="1.9"/>
<path d="M1611 1786.6A221.2 221.2 0 0 0 1609.9 1782" stroke="#000" stroke-width="2"/>
<path d="M1611 1786.6A221.2 221.2 0 0 0 1608.5 1776.4" stroke="#000" stroke-width="3.4"/>
<path d="M1656.7 1790A265.5 265.5 0 0 0 1656.4 1788.4" stroke="#000" stroke-width="2"/>
<path d="M1656.4 1788.4A265.5 265.5 0 0 0 1656.1 1786.8" stroke="#000" stroke-width="2"/>
<path d="M1653.5 1773.8A265.5 265.5 0 0 0 1652.9 1771.5" stroke="#000" stroke-width="2.3"/>
<path d="M1652.9 1771.5A265.5 265.5 0 0 0 1652.4 1769.3" stroke="#000" stroke-width="1.9"/>
<path d="M1607.3 1772A221.2 221.2 0 0 0 1603.6 1760.6" stroke="#000" stroke-width="2.3"/>
<path d="M1606.1 1768A221.2 221.2 0 0 0 1603.6 1760.6" stroke="#000" stroke-width="1.7"/>
<path d="M1604.8 1764A221.2 221.2 0 0 0 1603.6 1760.6" stroke="#000" stroke-width="3.2"/>
<path d="M1603.6 1760.6A221.2 221.2 0 0 0 1603.5 1760.3" stroke="#000" stroke-width="2.3"/>
<path d="M1603.6 1760.6A221.2 221.2 0 0 0 1601.8 1755.7" stroke="#000" stroke-width="3.3"/>
<path d="M1603.6 1760.6A221.2 221.2 0 0 0 1599.6 1750.2" stroke="#000" stroke-width="1.9"/>
<path d="M1603.6 1760.6A221.2 221.2 0 0 0 1597.9 1746.2" stroke="#000" stroke-width="2.1"/>
<path d="M1643.8 1741.7A265.5 265.5 0 0 0 1643.2 1740" stroke="#000" stroke-width="2.1"/>
<path d="M1643.2 1740A265.5 265.5 0 0 0 1642.5 1738.4" stroke="#000" stroke-width="2.3"/>
<path d="M1641.2 1735.1A265.5 265.5 0 0 0 1640.6 1733.5" stroke="#000" stroke-width="1.8"/>
<path d="M1640.6 1733.5A265.5 265.5 0 0 0 1639.9 1731.8" stroke="#000" stroke-width="1.9"/>
<path d="M1596.2 1742.3A221.2 221.2 0 0 0 1594.9 1739.5" stroke="#000" stroke-width="1.9"/>
<path d="M1594.9 1739.5A221.2 221.2 0 0 0 1594.6 1738.8" stroke="#000" stroke-width="3.2"/>
<path d="M1594.9 1739.5A221.2 221.2 0 0 0 1592.6 1734.7" stroke="#000" stroke-width="2.4"/>
<path d="M1588.6 1727.2A221.2 221.2 0 0 0 1586.1 1722.8" stroke="#000" stroke-width="2.1"/>
<path d="M1586.1 1722.8A221.2 221.2 0 0 0 1582.6 1716.9" stroke="#000" stroke-width="1.8"/>
<path d="M1623.4 1698.9A265.5 265.5 0 0 0 1620.1 1693.5" stroke="#000" stroke-width="1.6"/>
<path d="M1621.2 1695.3A265.5 265.5 0 0 0 1620.1 1693.5" stroke="#000" stroke-width="1.4"/>
<path d="M1620.1 1693.5A265.5 265.5 0 0 0 1619 1691.7" stroke="#000" stroke-width="1.9"/>
<path d="M1620.1 1693.5A265.5 265.5 0 0 0 1616.7 1688.2" stroke="#000" stroke-width="2.3"/>
<path d="M1574.3 1704.6A221.2 221.2 0 0 0 1570.9 1700" stroke="#000" stroke-width="2.4"/>
<path d="M1570.9 1700A221.2 221.2 0 0 0 1568.8 1697.3" stroke="#000" stroke-width="1.8"/>
<path d="M1570.9 1700A221.2 221.2 0 0 0 1565.6 1693.4" stroke="#000" stroke-width="2.1"/>
<path d="M1570.9 1700A221.2 221.2 0 0 0 1562.8 1690" stroke="#000" stroke-width="1.8"/>
<path d="M1613 1682.6A265.5 265.5 0 0 0 1610.2 1678.7" stroke="#000" stroke-width="1.8"/>
<path d="M1610.2 1678.7A265.5 265.5 0 0 0 1609.5 1677.7" stroke="#000" stroke-width="2.1"/>
<path d="M1610.2 1678.7A265.5 265.5 0 0 0 1606.6 1673.8" stroke="#000" stroke-width="2.1"/>
<path d="M1600.9 1666.6A265.5 265.5 0 0 0 1599.8 1665.3" stroke="#000" stroke-width="2.1"/>
<path d="M1599.8 1665.3A265.5 265.5 0 0 0 1598.7 1663.9" stroke="#000" stroke-width="2"/>
<path d="M1560.1 1686.9A221.2 221.2 0 0 0 1557 1683.5" stroke="#000" stroke-width="3.2"/>
<path d="M1557.5 1684.1A221.2 221.2 0 0 0 1557 1683.5" stroke="#000" stroke-width="2.4"/>
<path d="M1557 1683.5A221.2 221.2 0 0 0 1554.1 1680.5" stroke="#000" stroke-width="3.2"/>
<path d="M1557 1683.5A221.2 221.2 0 0 0 1551 1677.3" stroke="#000" stroke-width="1.6"/>
<path d="M1440.5 1709.4A132.8 132.8 0 0 0 1420.7 1703.9" stroke="#000" stroke-width="5.8"/>
<path d="M1420.7 1703.9A132.8 132.8 0 0 0 1384 1701.8" stroke="#000" stroke-width="5.8"/>
<path d="M1420.7 1703.9A132.8 132.8 0 0 0 1365.5 1704.6" stroke="#000" stroke-width="5.8"/>
<path d="M1546.5 1672.9A221.2 221.2 0 0 0 1471.5 1626.5" stroke="#000" stroke-width="5.3"/>
<path d="M1524.3 1654.7A221.2 221.2 0 0 0 1471.5 1626.5" stroke="#000" stroke-width="5.3"/>
<path d="M1499.5 1639.1A221.2 221.2 0 0 0 1471.5 1626.5" stroke="#000" stroke-width="4.7"/>
<path d="M1493.6 1636.1A221.2 221.2 0 0 0 1471.5 1626.5" stroke="#000" stroke-width="4.7"/>
<path d="M1484.9 1632A221.2 221.2 0 0 0 1471.5 1626.5" stroke="#000" stroke-width="4.7"/>
<path d="M1471.5 1626.5A221.2 221.2 0 0 0 1470.6 1626.2" stroke="#000" stroke-width="4.7"/>
<path d="M1471.5 1626.5A221.2 221.2 0 0 0 1434.1 1616.3" stroke="#000" stroke-width="4.7"/>
<path d="M1471.5 1626.5A221.2 221.2 0 0 0 1396.8 1612.9" stroke="#000" stroke-width="4.7"/>
<path d="M1573.6 1637.7A265.5 265.5 0 0 0 1550.2 1618.8" stroke="#000" stroke-width="4.7"/>
<path d="M1550.2 1618.8A265.5 265.5 0 0 0 1528.1 1604.4" stroke="#000" stroke-width="4.7"/>
<path d="M1522.7 1601.4A265.5 265.5 0 0 0 1520.4 1600.1" stroke="#000" stroke-width="1.5"/>
<path d="M1520.4 1600.1A265.5 265.5 0 0 0 1519.2 1599.5" stroke="#000" stroke-width="2.4"/>
<path d="M1514.8 1597.2A265.5 265.5 0 0 0 1513.4 1596.5" stroke="#000" stroke-width="1.9"/>
<path d="M1513.4 1596.5A265.5 265.5 0 0 0 1511.9 1595.8" stroke="#000" stroke-width="1.6"/>
<path d="M1507.5 1593.6A265.5 265.5 0 0 0 1502.9 1591.6" stroke="#000" stroke-width="1.8"/>
<path d="M1503.1 1591.6A265.5 265.5 0 0 0 1502.9 1591.6" stroke="#000" stroke-width="2.2"/>
<path d="M1502.9 1591.6A265.5 265.5 0 0 0 1498.7 1589.7" stroke="#000" stroke-width="1.7"/>
<path d="M1490.5 1586.4A265.5 265.5 0 0 0 1485.7 1584.6" stroke="#000" stroke-width="4.7"/>
<path d="M1485.7 1584.6A265.5 265.5 0 0 0 1474.3 1580.7" stroke="#000" stroke-width="4.7"/>
<path d="M1441.9 1572.8A265.5 265.5 0 0 0 1438.3 1572.2" stroke="#000" stroke-width="2.1"/>
<path d="M1441.9 1572.8A265.5 265.5 0 0 0 1411.1 1569.1" stroke="#000" stroke-width="1.4"/>
<path d="M1370.2 1614.2A221.2 221.2 0 0 0 1346.6 1618.2" stroke="#000" stroke-width="5.3"/>
<path d="M1346.6 1618.2A221.2 221.2 0 0 0 1345.5 1618.4" stroke="#000" stroke-width="5.3"/>
<path d="M1367.7 1570A265.5 265.5 0 0 0 1365.3 1570.3" stroke="#000" stroke-width="2.2"/>
<path d="M1365.3 1570.3A265.5 265.5 0 0 0 1363.3 1570.5" stroke="#000" stroke-width="1.7"/>
<path d="M1353.8 1571.8A265.5 265.5 0 0 0 1335.6 1575.3" stroke="#000" stroke-width="4.1"/>
<path d="M1335.6 1575.3A265.5 265.5 0 0 0 1324.8 1578" stroke="#000" stroke-width="4.1"/>
<path d="M1292.9 1749.1A132.8 132.8 0 0 0 1262.9 1848" stroke="#000" stroke-width="5.8"/>
<path d="M1262.9 1848A132.8 132.8 0 0 0 1263.6 1853.7" stroke="#000" stroke-width="5.8"/>
<path d="M1262.9 1848A132.8 132.8 0 0 0 1301.4 1928.3" stroke="#000" stroke-width="5.8"/>
<path d="M1262.9 1848A132.8 132.8 0 0 0 1319.9 1943.6" stroke="#000" stroke-width="5.8"/>
<path d="M1262.9 1848A132.8 132.8 0 0 0 1338.8 1954.4" stroke="#000" stroke-width="5.8"/>
<path d="M1280.7 1698.9A177 177 0 0 0 1258.9 1720.8" stroke="#000" stroke-width="5.3"/>
<path d="M1258.9 1720.8A177 177 0 0 0 1248.7 1734.4" stroke="#000" stroke-width="5.3"/>
<path d="M1265.2 1654.9A221.2 221.2 0 0 0 1252.1 1665.1" stroke="#000" stroke-width="3.5"/>
<path d="M1254.5 1663.1A221.2 221.2 0 0 0 1252.1 1665.1" stroke="#000" stroke-width="3.5"/>
<path d="M1252.1 1665.1A221.2 221.2 0 0 0 1239.4 1676.7" stroke="#000" stroke-width="1.9"/>
<path d="M1241.7 1617.3A265.5 265.5 0 0 0 1239.2 1619" stroke="#000" stroke-width="2.2"/>
<path d="M1239.2 1619A265.5 265.5 0 0 0 1234.9 1622.2" stroke="#000" stroke-width="2.2"/>
<path d="M1230.9 1625.3A265.5 265.5 0 0 0 1226.4 1628.9" stroke="#000" stroke-width="2"/>
<path d="M1227.7 1627.8A265.5 265.5 0 0 0 1226.4 1628.9" stroke="#000" stroke-width="1.5"/>
<path d="M1226.4 1628.9A265.5 265.5 0 0 0 1224.6 1630.4" stroke="#000" stroke-width="1.5"/>
<path d="M1226.4 1628.9A265.5 265.5 0 0 0 1219.9 1634.4" stroke="#000" stroke-width="1.6"/>
<path d="M1226.4 1628.9A265.5 265.5 0 0 0 1215.3 1638.5" stroke="#000" stroke-width="2"/>
<path d="M1212.4 1641.2A265.5 265.5 0 0 0 1208.3 1645.2" stroke="#000" stroke-width="1.6"/>
<path d="M1209.7 1643.9A265.5 265.5 0 0 0 1208.3 1645.2" stroke="#000" stroke-width="2"/>
<path d="M1208.3 1645.2A265.5 265.5 0 0 0 1207 1646.6" stroke="#000" stroke-width="1.3"/>
<path d="M1208.3 1645.2A265.5 265.5 0 0 0 1204.3 1649.3" stroke="#000" stroke-width="1.6"/>
<path d="M1231.3 1685.2A221.2 221.2 0 0 0 1212.1 1709.4" stroke="#000" stroke-width="4.7"/>
<path d="M1216.6 1703.1A221.2 221.2 0 0 0 1212.1 1709.4" stroke="#000" stroke-width="4.7"/>
<path d="M1212.1 1709.4A221.2 221.2 0 0 0 1208.7 1714.6" stroke="#000" stroke-width="1.8"/>
<path d="M1212.1 1709.4A221.2 221.2 0 0 0 1207.7 1716.2" stroke="#000" stroke-width="4.7"/>
<path d="M1212.1 1709.4A221.2 221.2 0 0 0 1199.5 1730.2" stroke="#000" stroke-width="4.7"/>
<path d="M1190.6 1664.5A265.5 265.5 0 0 0 1180.9 1676.9" stroke="#000" stroke-width="1.4"/>
<path d="M1182.6 1674.7A265.5 265.5 0 0 0 1180.9 1676.9" stroke="#000" stroke-width="1.8"/>
<path d="M1173.5 1687.6A265.5 265.5 0 0 0 1171.5 1690.7" stroke="#000" stroke-width="2.1"/>
<path d="M1171.5 1690.7A265.5 265.5 0 0 0 1170.2 1692.7" stroke="#000" stroke-width="1.4"/>
<path d="M1219.6 1858.7A177 177 0 0 0 1219.8 1860.3" stroke="#000" stroke-width="2"/>
<path d="M1219.8 1860.3A177 177 0 0 0 1260.1 1948.8" stroke="#000" stroke-width="4.9"/>
<path d="M1190.9 1748.4A221.2 221.2 0 0 0 1175.8 1864.9" stroke="#000" stroke-width="4.7"/>
<path d="M1186.2 1760.6A221.2 221.2 0 0 0 1175.8 1864.9" stroke="#000" stroke-width="4.7"/>
<path d="M1180.4 1779.8A221.2 221.2 0 0 0 1175.8 1864.9" stroke="#000" stroke-width="4.7"/>
<path d="M1177.4 1793.8A221.2 221.2 0 0 0 1175.8 1864.9" stroke="#000" stroke-width="4.7"/>
<path d="M1175.6 1804.5A221.2 221.2 0 0 0 1175.8 1864.9" stroke="#000" stroke-width="4.7"/>
<path d="M1174.1 1820.2A221.2 221.2 0 0 0 1175.8 1864.9" stroke="#000" stroke-width="4.7"/>
<path d="M1175.8 1864.9A221.2 221.2 0 0 0 1177.9 1877.1" stroke="#000" stroke-width="4.7"/>
<path d="M1175.8 1864.9A221.2 221.2 0 0 0 1195 1929" stroke="#000" stroke-width="4.7"/>
<path d="M1175.8 1864.9A221.2 221.2 0 0 0 1200.1 1939" stroke="#000" stroke-width="4.7"/>
<path d="M1175.8 1864.9A221.2 221.2 0 0 0 1213.4 1960.7" stroke="#000" stroke-width="4.7"/>
<path d="M1150.1 1731.2A265.5 265.5 0 0 0 1149.7 1732.3" stroke="#000" stroke-width="1.8"/>
<path d="M1150.1 1731.2A265.5 265.5 0 0 0 1148.1 1736.1" stroke="#000" stroke-width="2"/>
<path d="M1144.9 1744.9A265.5 265.5 0 0 0 1144.5 1745.9" stroke="#000" stroke-width="1.4"/>
<path d="M1144.5 1745.9A265.5 265.5 0 0 0 1142 1753.2" stroke="#000" stroke-width="1.6"/>
<path d="M1140.3 1758.7A265.5 265.5 0 0 0 1137.5 1769" stroke="#000" stroke-width="1.3"/>
<path d="M1139 1763.3A265.5 265.5 0 0 0 1137.5 1769" stroke="#000" stroke-width="2.1"/>
<path d="M1137.5 1769A265.5 265.5 0 0 0 1136.9 1771.3" stroke="#000" stroke-width="2"/>
<path d="M1130.4 1810.8A265.5 265.5 0 0 0 1129.9 1817.4" stroke="#000" stroke-width="1.5"/>
<path d="M1130 1816.9A265.5 265.5 0 0 0 1129.9 1817.4" stroke="#000" stroke-width="1.4"/>
<path d="M1129.9 1817.4A265.5 265.5 0 0 0 1129.7 1821" stroke="#000" stroke-width="1.8"/>
<path d="M1129.5 1827.2A265.5 265.5 0 0 0 1134.5 1885.7" stroke="#000" stroke-width="1.6"/>
<path d="M1129.4 1835.5A265.5 265.5 0 0 0 1134.5 1885.7" stroke="#000" stroke-width="2.2"/>
<path d="M1129.6 1843.8A265.5 265.5 0 0 0 1134.5 1885.7" stroke="#000" stroke-width="1.4"/>
<path d="M1130.1 1854A265.5 265.5 0 0 0 1134.5 1885.7" stroke="#000" stroke-width="1.6"/>
<path d="M1130.9 1862A265.5 265.5 0 0 0 1134.5 1885.7" stroke="#000" stroke-width="1.3"/>
<path d="M1131.4 1866.5A265.5 265.5 0 0 0 1134.5 1885.7" stroke="#000" stroke-width="1.7"/>
<path d="M1132.2 1872.5A265.5 265.5 0 0 0 1134.5 1885.7" stroke="#000" stroke-width="2"/>
<path d="M1133.2 1879.1A265.5 265.5 0 0 0 1134.5 1885.7" stroke="#000" stroke-width="1.3"/>
<path d="M1134.1 1883.8A265.5 265.5 0 0 0 1134.5 1885.7" stroke="#000" stroke-width="2.1"/>
<path d="M1134.5 1885.7A265.5 265.5 0 0 0 1135.2 1889.3" stroke="#000" stroke-width="2"/>
<path d="M1134.5 1885.7A265.5 265.5 0 0 0 1136.5 1895.3" stroke="#000" stroke-width="1.3"/>
<path d="M1134.5 1885.7A265.5 265.5 0 0 0 1137.5 1899" stroke="#000" stroke-width="1.9"/>
<path d="M1134.5 1885.7A265.5 265.5 0 0 0 1138.4 1902.7" stroke="#000" stroke-width="2"/>
<path d="M1134.5 1885.7A265.5 265.5 0 0 0 1139.7 1907.3" stroke="#000" stroke-width="1.8"/>
<path d="M1134.5 1885.7A265.5 265.5 0 0 0 1141.7 1914" stroke="#000" stroke-width="2"/>
<path d="M1134.5 1885.7A265.5 265.5 0 0 0 1147.1 1929.5" stroke="#000" stroke-width="1.5"/>
<path d="M1158.6 1955.2A265.5 265.5 0 0 0 1161.1 1960" stroke="#000" stroke-width="1.8"/>
<path d="M1161.1 1960A265.5 265.5 0 0 0 1162 1961.5" stroke="#000" stroke-width="1.4"/>
<path d="M1164.7 1966.4A265.5 265.5 0 0 0 1177.1 1986" stroke="#000" stroke-width="2.2"/>
<path d="M1167.3 1970.8A265.5 265.5 0 0 0 1177.1 1986" stroke="#000" stroke-width="2.2"/>
<path d="M1171.2 1977.1A265.5 265.5 0 0 0 1177.1 1986" stroke="#000" stroke-width="2"/>
<path d="M1175.8 1984.1A265.5 265.5 0 0 0 1177.1 1986" stroke="#000" stroke-width="2"/>
<path d="M1177.1 1986A265.5 265.5 0 0 0 1180.1 1990.2" stroke="#000" stroke-width="2.1"/>
<path d="M1177.1 1986A265.5 265.5 0 0 0 1183.7 1995" stroke="#000" stroke-width="2.2"/>
<path d="M1177.1 1986A265.5 265.5 0 0 0 1186.8 1999" stroke="#000" stroke-width="1.6"/>
<path d="M1269.7 1959.3A177 177 0 0 0 1270.2 1959.7" stroke="#000" stroke-width="2"/>
<path d="M1270.2 1959.7A177 177 0 0 0 1280.2 1968.9" stroke="#000" stroke-width="2"/>
<path d="M1197.4 2011.5A265.5 265.5 0 0 0 1206.8 2021.5" stroke="#000" stroke-width="1.8"/>
<path d="M1200.6 2015.1A265.5 265.5 0 0 0 1206.8 2021.5" stroke="#000" stroke-width="1.7"/>
<path d="M1204 2018.6A265.5 265.5 0 0 0 1206.8 2021.5" stroke="#000" stroke-width="1.5"/>
<path d="M1206.8 2021.5A265.5 265.5 0 0 0 1207.4 2022.1" stroke="#000" stroke-width="2.2"/>
<path d="M1206.8 2021.5A265.5 265.5 0 0 0 1211.1 2025.7" stroke="#000" stroke-width="2.1"/>
<path d="M1288.6 1975.6A177 177 0 0 0 1294.9 1980.1" stroke="#000" stroke-width="3.5"/>
<path d="M1294.9 1980.1A177 177 0 0 0 1304 1986" stroke="#000" stroke-width="3.5"/>
<path d="M1232.5 2044.1A265.5 265.5 0 0 0 1235.5 2046.4" stroke="#000" stroke-width="1.9"/>
<path d="M1235.5 2046.4A265.5 265.5 0 0 0 1237.3 2047.8" stroke="#000" stroke-width="1.7"/>
<path d="M1235.5 2046.4A265.5 265.5 0 0 0 1240.6 2050.2" stroke="#000" stroke-width="1.9"/>
<path d="M1235.5 2046.4A265.5 265.5 0 0 0 1244 2052.5" stroke="#000" stroke-width="2.2"/>
<path d="M1248.4 2055.5A265.5 265.5 0 0 0 1257.8 2061.4" stroke="#000" stroke-width="2.2"/>
<path d="M1252.2 2058A265.5 265.5 0 0 0 1257.8 2061.4" stroke="#000" stroke-width="2.2"/>
<path d="M1256.2 2060.5A265.5 265.5 0 0 0 1257.8 2061.4" stroke="#000" stroke-width="2.1"/>
<path d="M1257.8 2061.4A265.5 265.5 0 0 0 1260.1 2062.9" stroke="#000" stroke-width="1.3"/>
<path d="M1257.8 2061.4A265.5 265.5 0 0 0 1265.2 2065.7" stroke="#000" stroke-width="2"/>
<path d="M1271.1 2069A265.5 265.5 0 0 0 1283.5 2075.1" stroke="#000" stroke-width="2.4"/>
<path d="M1278.6 2072.8A265.5 265.5 0 0 0 1283.5 2075.1" stroke="#000" stroke-width="1.5"/>
<path d="M1283.5 2075.1A265.5 265.5 0 0 0 1286.3 2076.4" stroke="#000" stroke-width="1.6"/>
<path d="M1283.5 2075.1A265.5 265.5 0 0 0 1290.7 2078.3" stroke="#000" stroke-width="1.3"/>
</g>
<g stroke="#000" stroke-width="1.3">
<rect x="1393.6" y="1832.8" width="2.6" height="2.6" fill="#bfbf00" stroke-width="0.4"/>
<circle cx="1439.2" cy="1834.1" r="5.6" fill="#bfbf00"/>
<circle cx="1350.7" cy="1834.1" r="8.7" fill="#bfbf00"/>
<circle cx="1483.4" cy="1832.7" r="4.7" fill="#bfbf00"/>
<circle cx="1367.4" cy="1918.2" r="7.2" fill="#bfbf00"/>
<circle cx="1440" cy="1910.3" r="7.8" fill="#bfbf00"/>
<circle cx="1481.1" cy="1854.3" r="3.9" fill="#bfbf00"/>
<circle cx="1482.2" cy="1848.7" r="5.2" fill="#bfbf00"/>
<circle cx="1482.5" cy="1846.7" r="4.7" fill="#bfbf00"/>
<circle cx="1482.8" cy="1844.7" r="5.3" fill="#bfbf00"/>
<circle cx="1483" cy="1842.7" r="5.6" fill="#bfbf00"/>
<circle cx="1483.2" cy="1840.7" r="5.3" fill="#bfbf00"/>
<circle cx="1483.3" cy="1838.7" r="4" fill="#bfbf00"/>
<circle cx="1483.4" cy="1836.7" r="3.9" fill="#bfbf00"/>
<circle cx="1483.4" cy="1834.7" r="4.2" fill="#bfbf00"/>
<circle cx="1475.4" cy="1797.3" r="7.2" fill="#bfbf00"/>
<circle cx="1457.2" cy="1771.2" r="2.2" fill="#bfbf00"/>
<circle cx="1363.3" cy="1751.4" r="3.9" fill="#bfbf00"/>
<circle cx="1361.5" cy="1752.2" r="3.1" fill="#bfbf00"/>
<circle cx="1359.6" cy="1752.9" r="3.3" fill="#bfbf00"/>
<circle cx="1357.9" cy="1753.7" r="5.2" fill="#bfbf00"/>
<circle cx="1356.4" cy="1754.4" r="3.4" fill="#bfbf00"/>
<circle cx="1354.9" cy="1755.2" r="3.9" fill="#bfbf00"/>
<circle cx="1353.4" cy="1756" r="4.9" fill="#bfbf00"/>
<circle cx="1351.9" cy="1756.8" r="5.1" fill="#bfbf00"/>
<circle cx="1350.4" cy="1757.6" r="4.6" fill="#bfbf00"/>
<circle cx="1527.6" cy="1832" r="4.2" fill="#bfbf00"/>
<circle cx="1353.3" cy="1960.2" r="7.2" fill="#bfbf00"/>
<circle cx="1385.4" cy="1966.5" r="5.6" fill="#bfbf00"/>
<circle cx="1472.7" cy="1941.6" r="5" fill="#bfbf00"/>
<circle cx="1482.7" cy="1933.7" r="6.1" fill="#bfbf00"/>
<circle cx="1524.1" cy="1864.6" r="4.4" fill="#bfbf00"/>
<circle cx="1525.8" cy="1856" r="4.3" fill="#bfbf00"/>
<circle cx="1526.3" cy="1853" r="4.5" fill="#bfbf00"/>
<circle cx="1526.7" cy="1850" r="5.8" fill="#bfbf00"/>
<circle cx="1527" cy="1847.1" r="5.5" fill="#bfbf00"/>
<circle cx="1527.3" cy="1844.1" r="4" fill="#bfbf00"/>
<circle cx="1527.5" cy="1841" r="5.7" fill="#bfbf00"/>
<circle cx="1527.6" cy="1838" r="3.8" fill="#bfbf00"/>
<circle cx="1527.6" cy="1835" r="4.6" fill="#bfbf00"/>
<circle cx="1518.7" cy="1786.3" r="7.8" fill="#bfbf00"/>
<circle cx="1493.4" cy="1745.1" r="5.6" fill="#bfbf00"/>
<circle cx="1490.7" cy="1742.2" r="2.7" fill="#bfbf00"/>
<circle cx="1440.5" cy="1709.4" r="7.8" fill="#bfbf00"/>
<circle cx="1384" cy="1701.8" r="2.7" fill="#bfbf00"/>
<circle cx="1347.5" cy="1710.1" r="5.3" fill="#bfbf00"/>
<circle cx="1344.7" cy="1711.2" r="4.6" fill="#bfbf00"/>
<circle cx="1342" cy="1712.4" r="3.7" fill="#bfbf00"/>
<circle cx="1339.4" cy="1713.5" r="4.1" fill="#bfbf00"/>
<circle cx="1337.1" cy="1714.6" r="3.5" fill="#bfbf00"/>
<circle cx="1334.8" cy="1715.7" r="5.3" fill="#bfbf00"/>
<circle cx="1332.6" cy="1716.9" r="4.5" fill="#bfbf00"/>
<circle cx="1330.3" cy="1718.1" r="4.1" fill="#bfbf00"/>
<circle cx="1328.1" cy="1719.4" r="3.2" fill="#bfbf00"/>
<circle cx="1292.9" cy="1749.1" r="7.8" fill="#bfbf00"/>
<circle cx="1263.6" cy="1853.7" r="7.2" fill="#bfbf00"/>
<circle cx="1301.4" cy="1928.3" r="5.6" fill="#bfbf00"/>
<circle cx="1319.9" cy="1943.6" r="6.7" fill="#bfbf00"/>
<circle cx="1338.8" cy="1954.4" r="5" fill="#bfbf00"/>
<circle cx="1571.9" cy="1831.3" r="5.5" fill="#bfbf00"/>
<circle cx="1339" cy="2002.1" r="7.2" fill="#bfbf00"/>
<circle cx="1355.7" cy="2006.7" r="4.4" fill="#bfbf00"/>
<circle cx="1367.8" cy="2009" r="4.4" fill="#bfbf00"/>
<circle cx="1379.8" cy="2010.5" r="5" fill="#bfbf00"/>
<circle cx="1389.3" cy="2011" r="4.4" fill="#bfbf00"/>
<circle cx="1404.2" cy="2010.9" r="5" fill="#bfbf00"/>
<circle cx="1472.2" cy="1993.3" r="7.8" fill="#bfbf00"/>
<circle cx="1492.6" cy="1981.7" r="3.9" fill="#bfbf00"/>
<circle cx="1509.7" cy="1968.8" r="4" fill="#bfbf00"/>
<circle cx="1524.3" cy="1954.8" r="4.4" fill="#bfbf00"/>
<circle cx="1554" cy="1911.7" r="3.4" fill="#bfbf00"/>
<circle cx="1561.7" cy="1893.2" r="4.4" fill="#bfbf00"/>
<circle cx="1567.1" cy="1875.1" r="4.4" fill="#bfbf00"/>
<circle cx="1569.5" cy="1863.3" r="3.8" fill="#bfbf00"/>
<circle cx="1570.1" cy="1859.3" r="5.5" fill="#bfbf00"/>
<circle cx="1570.6" cy="1855.4" r="4.7" fill="#bfbf00"/>
<circle cx="1571.1" cy="1851.4" r="4.3" fill="#bfbf00"/>
<circle cx="1571.4" cy="1847.4" r="5.5" fill="#bfbf00"/>
<circle cx="1571.7" cy="1843.4" r="4.5" fill="#bfbf00"/>
<circle cx="1571.8" cy="1839.4" r="5.6" fill="#bfbf00"/>
<circle cx="1571.9" cy="1835.3" r="4" fill="#bfbf00"/>
<circle cx="1570.7" cy="1813.4" r="6.7" fill="#bfbf00"/>
<circle cx="1567.8" cy="1796.1" r="5.6" fill="#bfbf00"/>
<circle cx="1561.9" cy="1775.3" r="6.7" fill="#bfbf00"/>
<circle cx="1554.9" cy="1758.5" r="2.7" fill="#bfbf00"/>
<circle cx="1547.9" cy="1745.1" r="7.2" fill="#bfbf00"/>
<circle cx="1535.7" cy="1726.8" r="4.4" fill="#bfbf00"/>
<circle cx="1524.6" cy="1713.6" r="2.7" fill="#bfbf00"/>
<circle cx="1456.2" cy="1668.1" r="7.2" fill="#bfbf00"/>
<circle cx="1388.1" cy="1657.2" r="5.2" fill="#bfbf00"/>
<circle cx="1383.8" cy="1657.4" r="5.7" fill="#bfbf00"/>
<circle cx="1331.8" cy="1668.7" r="3.9" fill="#bfbf00"/>
<circle cx="1328" cy="1670.2" r="4.9" fill="#bfbf00"/>
<circle cx="1324.3" cy="1671.8" r="4.4" fill="#bfbf00"/>
<circle cx="1320.9" cy="1673.3" r="4.4" fill="#bfbf00"/>
<circle cx="1317.9" cy="1674.7" r="4.2" fill="#bfbf00"/>
<circle cx="1314.8" cy="1676.3" r="2.9" fill="#bfbf00"/>
<circle cx="1311.8" cy="1677.8" r="3.4" fill="#bfbf00"/>
<circle cx="1308.8" cy="1679.4" r="4.8" fill="#bfbf00"/>
<circle cx="1305.9" cy="1681.1" r="5" fill="#bfbf00"/>
<circle cx="1280.7" cy="1698.9" r="6.7" fill="#bfbf00"/>
<circle cx="1248.7" cy="1734.4" r="7.2" fill="#bfbf00"/>
<circle cx="1219.6" cy="1858.7" r="6.7" fill="#bfbf00"/>
<circle cx="1260.1" cy="1948.8" r="2.7" fill="#bfbf00"/>
<circle cx="1269.7" cy="1959.3" r="5.6" fill="#bfbf00"/>
<circle cx="1288.6" cy="1975.6" r="5.6" fill="#bfbf00"/>
<circle cx="1304" cy="1986" r="5" fill="#bfbf00"/>
<circle cx="1320.1" cy="1994.5" r="5.6" fill="#bfbf00"/>
<circle cx="1616.1" cy="1830.6" r="3.8" fill="#bfbf00"/>
<circle cx="1330.2" cy="2045.7" r="6.7" fill="#bfbf00"/>
<circle cx="1344" cy="2049.4" r="5" fill="#bfbf00"/>
<circle cx="1350.6" cy="2050.9" r="6.2" fill="#bfbf00"/>
<circle cx="1355.3" cy="2051.8" r="6.1" fill="#bfbf00"/>
<circle cx="1359.5" cy="2052.5" r="3.5" fill="#bfbf00"/>
<circle cx="1364.9" cy="2053.3" r="5.2" fill="#bfbf00"/>
<circle cx="1375.2" cy="2054.5" r="6" fill="#bfbf00"/>
<circle cx="1389.5" cy="2055.3" r="3.4" fill="#bfbf00"/>
<circle cx="1403.4" cy="2055.2" r="2.9" fill="#bfbf00"/>
<circle cx="1411.9" cy="2054.7" r="4" fill="#bfbf00"/>
<circle cx="1429.5" cy="2052.6" r="7.2" fill="#bfbf00"/>
<circle cx="1495.3" cy="2031.2" r="6.7" fill="#bfbf00"/>
<circle cx="1517.8" cy="2018.1" r="6.4" fill="#bfbf00"/>
<circle cx="1538.4" cy="2002.5" r="3.6" fill="#bfbf00"/>
<circle cx="1546.4" cy="1995.4" r="3.5" fill="#bfbf00"/>
<circle cx="1549.1" cy="1992.7" r="3.3" fill="#bfbf00"/>
<circle cx="1552.7" cy="1989.2" r="4.2" fill="#bfbf00"/>
<circle cx="1558.5" cy="1983" r="6.5" fill="#bfbf00"/>
<circle cx="1563.4" cy="1977.5" r="5.2" fill="#bfbf00"/>
<circle cx="1565.6" cy="1974.8" r="5.4" fill="#bfbf00"/>
<circle cx="1572.8" cy="1965.7" r="4.4" fill="#bfbf00"/>
<circle cx="1593.8" cy="1931.1" r="3.9" fill="#bfbf00"/>
<circle cx="1596.5" cy="1925.1" r="5.7" fill="#bfbf00"/>
<circle cx="1598.1" cy="1921.6" r="6.1" fill="#bfbf00"/>
<circle cx="1599.8" cy="1917.6" r="5.5" fill="#bfbf00"/>
<circle cx="1602" cy="1911.8" r="4.4" fill="#bfbf00"/>
<circle cx="1604.3" cy="1905.4" r="3.5" fill="#bfbf00"/>
<circle cx="1606.3" cy="1899.4" r="5.6" fill="#bfbf00"/>
<circle cx="1610.1" cy="1885.4" r="4.4" fill="#bfbf00"/>
<circle cx="1613.1" cy="1870.6" r="5.1" fill="#bfbf00"/>
<circle cx="1613.9" cy="1865.7" r="4.4" fill="#bfbf00"/>
<circle cx="1614.5" cy="1860.7" r="5.3" fill="#bfbf00"/>
<circle cx="1615.1" cy="1855.7" r="5.6" fill="#bfbf00"/>
<circle cx="1615.5" cy="1850.7" r="4.6" fill="#bfbf00"/>
<circle cx="1615.8" cy="1845.7" r="4.6" fill="#bfbf00"/>
<circle cx="1616.1" cy="1840.7" r="4.7" fill="#bfbf00"/>
<circle cx="1616.1" cy="1835.6" r="4.9" fill="#bfbf00"/>
<circle cx="1615.6" cy="1819" r="6.3" fill="#bfbf00"/>
<circle cx="1615.1" cy="1812.1" r="3.7" fill="#bfbf00"/>
<circle cx="1614.2" cy="1804.8" r="4.1" fill="#bfbf00"/>
<circle cx="1612.8" cy="1796" r="6.1" fill="#bfbf00"/>
<circle cx="1612" cy="1791.4" r="5.4" fill="#bfbf00"/>
<circle cx="1611.2" cy="1787.6" r="4.1" fill="#bfbf00"/>
<circle cx="1609.9" cy="1782" r="4.4" fill="#bfbf00"/>
<circle cx="1608.5" cy="1776.4" r="5" fill="#bfbf00"/>
<circle cx="1607.3" cy="1772" r="6.6" fill="#bfbf00"/>
<circle cx="1606.1" cy="1768" r="5.6" fill="#bfbf00"/>
<circle cx="1604.8" cy="1764" r="6.6" fill="#bfbf00"/>
<circle cx="1603.5" cy="1760.3" r="3.3" fill="#bfbf00"/>
<circle cx="1601.8" cy="1755.7" r="4.3" fill="#bfbf00"/>
<circle cx="1599.6" cy="1750.2" r="6.4" fill="#bfbf00"/>
<circle cx="1597.9" cy="1746.2" r="6.3" fill="#bfbf00"/>
<circle cx="1596.2" cy="1742.3" r="6.5" fill="#bfbf00"/>
<circle cx="1594.6" cy="1738.8" r="3.2" fill="#bfbf00"/>
<circle cx="1592.6" cy="1734.7" r="5" fill="#bfbf00"/>
<circle cx="1588.6" cy="1727.2" r="4" fill="#bfbf00"/>
<circle cx="1582.6" cy="1716.9" r="6.3" fill="#bfbf00"/>
<circle cx="1574.3" cy="1704.6" r="3.8" fill="#bfbf00"/>
<circle cx="1568.8" cy="1697.3" r="3.8" fill="#bfbf00"/>
<circle cx="1565.6" cy="1693.4" r="5.5" fill="#bfbf00"/>
<circle cx="1562.8" cy="1690" r="4.3" fill="#bfbf00"/>
<circle cx="1560.1" cy="1686.9" r="6.2" fill="#bfbf00"/>
<circle cx="1557.5" cy="1684.1" r="3.3" fill="#bfbf00"/>
<circle cx="1554.1" cy="1680.5" r="4" fill="#bfbf00"/>
<circle cx="1551" cy="1677.3" r="5.9" fill="#bfbf00"/>
<circle cx="1546.5" cy="1672.9" r="5" fill="#bfbf00"/>
<circle cx="1493.6" cy="1636.1" r="3.3" fill="#bfbf00"/>
<circle cx="1470.6" cy="1626.2" r="6.7" fill="#bfbf00"/>
<circle cx="1434.1" cy="1616.3" r="6.7" fill="#bfbf00"/>
<circle cx="1386.4" cy="1613" r="4.9" fill="#bfbf00"/>
<circle cx="1381" cy="1613.3" r="6.1" fill="#bfbf00"/>
<circle cx="1370.2" cy="1614.2" r="3.9" fill="#bfbf00"/>
<circle cx="1316" cy="1627.4" r="3.5" fill="#bfbf00"/>
<circle cx="1311.3" cy="1629.3" r="4.9" fill="#bfbf00"/>
<circle cx="1306.7" cy="1631.2" r="5.7" fill="#bfbf00"/>
<circle cx="1302.4" cy="1633.1" r="3.8" fill="#bfbf00"/>
<circle cx="1298.6" cy="1634.9" r="3.3" fill="#bfbf00"/>
<circle cx="1294.8" cy="1636.8" r="5" fill="#bfbf00"/>
<circle cx="1291" cy="1638.7" r="4.9" fill="#bfbf00"/>
<circle cx="1287.3" cy="1640.8" r="3.1" fill="#bfbf00"/>
<circle cx="1283.6" cy="1642.9" r="4.1" fill="#bfbf00"/>
<circle cx="1265.2" cy="1654.9" r="5" fill="#bfbf00"/>
<circle cx="1254.5" cy="1663.1" r="5.6" fill="#bfbf00"/>
<circle cx="1239.4" cy="1676.7" r="3.2" fill="#bfbf00"/>
<circle cx="1216.6" cy="1703.1" r="6.1" fill="#bfbf00"/>
<circle cx="1208.7" cy="1714.6" r="3.3" fill="#bfbf00"/>
<circle cx="1207.7" cy="1716.2" r="3.9" fill="#bfbf00"/>
<circle cx="1199.5" cy="1730.2" r="7.2" fill="#bfbf00"/>
<circle cx="1190.9" cy="1748.4" r="4.4" fill="#bfbf00"/>
<circle cx="1186.2" cy="1760.6" r="4.4" fill="#bfbf00"/>
<circle cx="1180.4" cy="1779.8" r="5.6" fill="#bfbf00"/>
<circle cx="1177.4" cy="1793.8" r="5" fill="#bfbf00"/>
<circle cx="1174.1" cy="1820.2" r="5" fill="#bfbf00"/>
<circle cx="1177.9" cy="1877.1" r="6.7" fill="#bfbf00"/>
<circle cx="1200.1" cy="1939" r="5.6" fill="#bfbf00"/>
<circle cx="1226.2" cy="1977.2" r="2.7" fill="#bfbf00"/>
<circle cx="1238.2" cy="1990.3" r="5.6" fill="#bfbf00"/>
<circle cx="1262.1" cy="2011" r="6.1" fill="#bfbf00"/>
<circle cx="1280.6" cy="2023.5" r="6.7" fill="#bfbf00"/>
<circle cx="1302.1" cy="2034.9" r="5.6" fill="#bfbf00"/>
<circle cx="1660.4" cy="1829.9" r="5" fill="#bfbf00"/>
<circle cx="1296.5" cy="2080.7" r="5.2" fill="#bfbf00"/>
<circle cx="1307.3" cy="2084.7" r="3.4" fill="#bfbf00"/>
<circle cx="1311.3" cy="2086.1" r="4.7" fill="#bfbf00"/>
<circle cx="1315.2" cy="2087.3" r="2.6" fill="#bfbf00"/>
<circle cx="1320.1" cy="2088.9" r="4" fill="#bfbf00"/>
<circle cx="1325.1" cy="2090.3" r="3" fill="#bfbf00"/>
<circle cx="1330.2" cy="2091.6" r="4.1" fill="#bfbf00"/>
<circle cx="1333.9" cy="2092.5" r="5.1" fill="#bfbf00"/>
<circle cx="1337.5" cy="2093.3" r="3.1" fill="#bfbf00"/>
<circle cx="1341.8" cy="2094.2" r="2.9" fill="#bfbf00"/>
<circle cx="1347.4" cy="2095.3" r="5.2" fill="#bfbf00"/>
<circle cx="1352.5" cy="2096.2" r="4.9" fill="#bfbf00"/>
<circle cx="1357.1" cy="2096.9" r="2.7" fill="#bfbf00"/>
<circle cx="1360.7" cy="2097.4" r="2.8" fill="#bfbf00"/>
<circle cx="1369.3" cy="2098.4" r="2.9" fill="#bfbf00"/>
<circle cx="1377.2" cy="2099" r="5.4" fill="#bfbf00"/>
<circle cx="1383.2" cy="2099.3" r="4.5" fill="#bfbf00"/>
<circle cx="1389.5" cy="2099.5" r="4.5" fill="#bfbf00"/>
<circle cx="1394.7" cy="2099.6" r="2.9" fill="#bfbf00"/>
<circle cx="1401.4" cy="2099.5" r="3.1" fill="#bfbf00"/>
<circle cx="1408.8" cy="2099.2" r="3.2" fill="#bfbf00"/>
<circle cx="1415.2" cy="2098.8" r="5.4" fill="#bfbf00"/>
<circle cx="1430.7" cy="2097.2" r="5.4" fill="#bfbf00"/>
<circle cx="1453.6" cy="2093" r="4.9" fill="#bfbf00"/>
<circle cx="1460.3" cy="2091.4" r="3.9" fill="#bfbf00"/>
<circle cx="1464.6" cy="2090.3" r="5" fill="#bfbf00"/>
<circle cx="1469" cy="2089" r="2.9" fill="#bfbf00"/>
<circle cx="1493.1" cy="2080.8" r="3.3" fill="#bfbf00"/>
<circle cx="1504.2" cy="2076.1" r="3.4" fill="#bfbf00"/>
<circle cx="1514.6" cy="2071.1" r="3.9" fill="#bfbf00"/>
<circle cx="1519.4" cy="2068.6" r="4.2" fill="#bfbf00"/>
<circle cx="1524.6" cy="2065.8" r="4" fill="#bfbf00"/>
<circle cx="1528.7" cy="2063.4" r="2.7" fill="#bfbf00"/>
<circle cx="1532.8" cy="2061" r="2.5" fill="#bfbf00"/>
<circle cx="1540.4" cy="2056.2" r="5.5" fill="#bfbf00"/>
<circle cx="1546.4" cy="2052.2" r="3.4" fill="#bfbf00"/>
<circle cx="1562.6" cy="2039.9" r="6.1" fill="#bfbf00"/>
<circle cx="1569.8" cy="2033.8" r="5.3" fill="#bfbf00"/>
<circle cx="1576.6" cy="2027.6" r="5.6" fill="#bfbf00"/>
<circle cx="1580" cy="2024.4" r="3.1" fill="#bfbf00"/>
<circle cx="1584.2" cy="2020.2" r="3.5" fill="#bfbf00"/>
<circle cx="1591.2" cy="2012.8" r="6.1" fill="#bfbf00"/>
<circle cx="1597.1" cy="2006.1" r="6.1" fill="#bfbf00"/>
<circle cx="1599.8" cy="2003" r="3.1" fill="#bfbf00"/>
<circle cx="1603.1" cy="1998.8" r="2.9" fill="#bfbf00"/>
<circle cx="1609.6" cy="1990.3" r="3.8" fill="#bfbf00"/>
<circle cx="1612.7" cy="1985.9" r="4.8" fill="#bfbf00"/>
<circle cx="1617.7" cy="1978.5" r="5" fill="#bfbf00"/>
<circle cx="1620.5" cy="1974" r="5.4" fill="#bfbf00"/>
<circle cx="1623.3" cy="1969.5" r="4.2" fill="#bfbf00"/>
<circle cx="1633.5" cy="1950.5" r="4.2" fill="#bfbf00"/>
<circle cx="1636.9" cy="1943.4" r="3.5" fill="#bfbf00"/>
<circle cx="1638.7" cy="1939.1" r="3.3" fill="#bfbf00"/>
<circle cx="1640.8" cy="1934.3" r="4.3" fill="#bfbf00"/>
<circle cx="1642.7" cy="1929.4" r="5.4" fill="#bfbf00"/>
<circle cx="1644.2" cy="1925.3" r="2.7" fill="#bfbf00"/>
<circle cx="1646.2" cy="1919.7" r="2.6" fill="#bfbf00"/>
<circle cx="1648" cy="1914.3" r="5.3" fill="#bfbf00"/>
<circle cx="1649.2" cy="1910.5" r="3.3" fill="#bfbf00"/>
<circle cx="1653.1" cy="1896.1" r="6.1" fill="#bfbf00"/>
<circle cx="1656.8" cy="1877.9" r="3.9" fill="#bfbf00"/>
<circle cx="1657.7" cy="1872" r="5.3" fill="#bfbf00"/>
<circle cx="1658.5" cy="1866" r="5.3" fill="#bfbf00"/>
<circle cx="1659.1" cy="1860" r="5.3" fill="#bfbf00"/>
<circle cx="1659.7" cy="1854" r="4.2" fill="#bfbf00"/>
<circle cx="1660" cy="1848" r="4.7" fill="#bfbf00"/>
<circle cx="1660.3" cy="1842" r="5.1" fill="#bfbf00"/>
<circle cx="1660.4" cy="1836" r="3.7" fill="#bfbf00"/>
<circle cx="1660" cy="1819.6" r="3.6" fill="#bfbf00"/>
<circle cx="1659.6" cy="1813.6" r="4.2" fill="#bfbf00"/>
<circle cx="1659.1" cy="1807.7" r="4.7" fill="#bfbf00"/>
<circle cx="1658.1" cy="1799" r="5.9" fill="#bfbf00"/>
<circle cx="1656.7" cy="1790" r="5.2" fill="#bfbf00"/>
<circle cx="1656.1" cy="1786.8" r="5.2" fill="#bfbf00"/>
<circle cx="1655.4" cy="1782.9" r="2.6" fill="#bfbf00"/>
<circle cx="1654.5" cy="1778.3" r="4.8" fill="#bfbf00"/>
<circle cx="1653.5" cy="1773.8" r="5.7" fill="#bfbf00"/>
<circle cx="1652.4" cy="1769.3" r="3.2" fill="#bfbf00"/>
<circle cx="1651.2" cy="1764.8" r="4.1" fill="#bfbf00"/>
<circle cx="1649.7" cy="1759.6" r="4.4" fill="#bfbf00"/>
<circle cx="1648.3" cy="1754.8" r="6" fill="#bfbf00"/>
<circle cx="1646.7" cy="1750" r="3.2" fill="#bfbf00"/>
<circle cx="1645.2" cy="1745.6" r="4.4" fill="#bfbf00"/>
<circle cx="1643.8" cy="1741.7" r="4.2" fill="#bfbf00"/>
<circle cx="1642.5" cy="1738.4" r="3.9" fill="#bfbf00"/>
<circle cx="1641.2" cy="1735.1" r="5.8" fill="#bfbf00"/>
<circle cx="1639.9" cy="1731.8" r="5.9" fill="#bfbf00"/>
<circle cx="1638.5" cy="1728.6" r="4.7" fill="#bfbf00"/>
<circle cx="1636.5" cy="1724" r="5.3" fill="#bfbf00"/>
<circle cx="1634.5" cy="1719.8" r="3.7" fill="#bfbf00"/>
<circle cx="1632.1" cy="1714.8" r="4" fill="#bfbf00"/>
<circle cx="1627.4" cy="1705.9" r="5.7" fill="#bfbf00"/>
<circle cx="1623.4" cy="1698.9" r="2.6" fill="#bfbf00"/>
<circle cx="1621.2" cy="1695.3" r="2.7" fill="#bfbf00"/>
<circle cx="1619" cy="1691.7" r="2.8" fill="#bfbf00"/>
<circle cx="1616.7" cy="1688.2" r="2.9" fill="#bfbf00"/>
<circle cx="1613" cy="1682.6" r="2.8" fill="#bfbf00"/>
<circle cx="1609.5" cy="1677.7" r="3.3" fill="#bfbf00"/>
<circle cx="1606.6" cy="1673.8" r="5.1" fill="#bfbf00"/>
<circle cx="1603.6" cy="1669.9" r="3.2" fill="#bfbf00"/>
<circle cx="1600.9" cy="1666.6" r="3.9" fill="#bfbf00"/>
<circle cx="1598.7" cy="1663.9" r="3.6" fill="#bfbf00"/>
<circle cx="1596.4" cy="1661.2" r="4.2" fill="#bfbf00"/>
<circle cx="1593.1" cy="1657.5" r="3.1" fill="#bfbf00"/>
<circle cx="1590" cy="1654" r="4.2" fill="#bfbf00"/>
<circle cx="1585.9" cy="1649.7" r="4.9" fill="#bfbf00"/>
<circle cx="1582.2" cy="1645.9" r="3.4" fill="#bfbf00"/>
<circle cx="1578" cy="1641.8" r="3.2" fill="#bfbf00"/>
<circle cx="1573.6" cy="1637.7" r="3.9" fill="#bfbf00"/>
<circle cx="1528.1" cy="1604.4" r="2.7" fill="#bfbf00"/>
<circle cx="1522.7" cy="1601.4" r="4.1" fill="#bfbf00"/>
<circle cx="1519.2" cy="1599.5" r="4.5" fill="#bfbf00"/>
<circle cx="1514.8" cy="1597.2" r="2.9" fill="#bfbf00"/>
<circle cx="1511.9" cy="1595.8" r="4.2" fill="#bfbf00"/>
<circle cx="1507.5" cy="1593.6" r="4.2" fill="#bfbf00"/>
<circle cx="1503.1" cy="1591.6" r="3.2" fill="#bfbf00"/>
<circle cx="1498.7" cy="1589.7" r="4.3" fill="#bfbf00"/>
<circle cx="1490.5" cy="1586.4" r="6.7" fill="#bfbf00"/>
<circle cx="1438.3" cy="1572.2" r="6.7" fill="#bfbf00"/>
<circle cx="1411.1" cy="1569.1" r="3.3" fill="#bfbf00"/>
<circle cx="1384.7" cy="1568.8" r="5.5" fill="#bfbf00"/>
<circle cx="1378.2" cy="1569.1" r="3.5" fill="#bfbf00"/>
<circle cx="1367.7" cy="1570" r="4.6" fill="#bfbf00"/>
<circle cx="1363.3" cy="1570.5" r="4.4" fill="#bfbf00"/>
<circle cx="1300.2" cy="1586.1" r="5.1" fill="#bfbf00"/>
<circle cx="1294.6" cy="1588.3" r="2.2" fill="#bfbf00"/>
<circle cx="1289" cy="1590.6" r="5" fill="#bfbf00"/>
<circle cx="1284" cy="1592.9" r="2.2" fill="#bfbf00"/>
<circle cx="1279.3" cy="1595.1" r="2.7" fill="#bfbf00"/>
<circle cx="1274.8" cy="1597.3" r="4.7" fill="#bfbf00"/>
<circle cx="1270.3" cy="1599.7" r="2.8" fill="#bfbf00"/>
<circle cx="1265.8" cy="1602.1" r="3.6" fill="#bfbf00"/>
<circle cx="1261.3" cy="1604.6" r="3.1" fill="#bfbf00"/>
<circle cx="1241.7" cy="1617.3" r="5.7" fill="#bfbf00"/>
<circle cx="1234.9" cy="1622.2" r="5.3" fill="#bfbf00"/>
<circle cx="1230.9" cy="1625.3" r="4" fill="#bfbf00"/>
<circle cx="1227.7" cy="1627.8" r="4.3" fill="#bfbf00"/>
<circle cx="1224.6" cy="1630.4" r="4" fill="#bfbf00"/>
<circle cx="1219.9" cy="1634.4" r="4.2" fill="#bfbf00"/>
<circle cx="1215.3" cy="1638.5" r="6" fill="#bfbf00"/>
<circle cx="1212.4" cy="1641.2" r="5.8" fill="#bfbf00"/>
<circle cx="1209.7" cy="1643.9" r="4.1" fill="#bfbf00"/>
<circle cx="1207" cy="1646.6" r="3.6" fill="#bfbf00"/>
<circle cx="1204.3" cy="1649.3" r="3.5" fill="#bfbf00"/>
<circle cx="1190.6" cy="1664.5" r="3.3" fill="#bfbf00"/>
<circle cx="1182.6" cy="1674.7" r="6.1" fill="#bfbf00"/>
<circle cx="1173.5" cy="1687.6" r="6" fill="#bfbf00"/>
<circle cx="1170.2" cy="1692.7" r="3" fill="#bfbf00"/>
<circle cx="1167.1" cy="1697.8" r="3.9" fill="#bfbf00"/>
<circle cx="1159.6" cy="1711.1" r="7.2" fill="#bfbf00"/>
<circle cx="1149.7" cy="1732.3" r="2.8" fill="#bfbf00"/>
<circle cx="1148.1" cy="1736.1" r="4.6" fill="#bfbf00"/>
<circle cx="1144.9" cy="1744.9" r="5.3" fill="#bfbf00"/>
<circle cx="1142" cy="1753.2" r="4.9" fill="#bfbf00"/>
<circle cx="1140.3" cy="1758.7" r="3.4" fill="#bfbf00"/>
<circle cx="1139" cy="1763.3" r="4.2" fill="#bfbf00"/>
<circle cx="1136.9" cy="1771.3" r="3.7" fill="#bfbf00"/>
<circle cx="1134.4" cy="1783" r="3.8" fill="#bfbf00"/>
<circle cx="1132" cy="1797.4" r="3.8" fill="#bfbf00"/>
<circle cx="1130.4" cy="1810.8" r="4.6" fill="#bfbf00"/>
<circle cx="1130" cy="1816.9" r="3.8" fill="#bfbf00"/>
<circle cx="1129.7" cy="1821" r="5.1" fill="#bfbf00"/>
<circle cx="1129.6" cy="1843.8" r="3.3" fill="#bfbf00"/>
<circle cx="1130.1" cy="1854" r="5.1" fill="#bfbf00"/>
<circle cx="1130.9" cy="1862" r="2.8" fill="#bfbf00"/>
<circle cx="1132.2" cy="1872.5" r="2.8" fill="#bfbf00"/>
<circle cx="1133.2" cy="1879.1" r="5.1" fill="#bfbf00"/>
<circle cx="1134.1" cy="1883.8" r="5" fill="#bfbf00"/>
<circle cx="1136.5" cy="1895.3" r="5.4" fill="#bfbf00"/>
<circle cx="1137.5" cy="1899" r="3.6" fill="#bfbf00"/>
<circle cx="1138.4" cy="1902.7" r="5" fill="#bfbf00"/>
<circle cx="1141.7" cy="1914" r="2.8" fill="#bfbf00"/>
<circle cx="1147.1" cy="1929.5" r="2.6" fill="#bfbf00"/>
<circle cx="1158.6" cy="1955.2" r="3" fill="#bfbf00"/>
<circle cx="1162" cy="1961.5" r="5.8" fill="#bfbf00"/>
<circle cx="1164.7" cy="1966.4" r="3.2" fill="#bfbf00"/>
<circle cx="1183.7" cy="1995" r="5.3" fill="#bfbf00"/>
<circle cx="1193" cy="2006.5" r="3.5" fill="#bfbf00"/>
<circle cx="1197.4" cy="2011.5" r="5.9" fill="#bfbf00"/>
<circle cx="1200.6" cy="2015.1" r="4.3" fill="#bfbf00"/>
<circle cx="1204" cy="2018.6" r="3.5" fill="#bfbf00"/>
<circle cx="1207.4" cy="2022.1" r="3.9" fill="#bfbf00"/>
<circle cx="1232.5" cy="2044.1" r="5.5" fill="#bfbf00"/>
<circle cx="1237.3" cy="2047.8" r="6" fill="#bfbf00"/>
<circle cx="1240.6" cy="2050.2" r="4" fill="#bfbf00"/>
<circle cx="1244" cy="2052.5" r="2.6" fill="#bfbf00"/>
<circle cx="1248.4" cy="2055.5" r="2.8" fill="#bfbf00"/>
<circle cx="1252.2" cy="2058" r="3.8" fill="#bfbf00"/>
<circle cx="1256.2" cy="2060.5" r="3.7" fill="#bfbf00"/>
<circle cx="1260.1" cy="2062.9" r="6.1" fill="#bfbf00"/>
<circle cx="1265.2" cy="2065.7" r="2.5" fill="#bfbf00"/>
<circle cx="1271.1" cy="2069" r="2.7" fill="#bfbf00"/>
<circle cx="1278.6" cy="2072.8" r="4.9" fill="#bfbf00"/>
<circle cx="1286.3" cy="2076.4" r="2.7" fill="#bfbf00"/>
<circle cx="1290.7" cy="2078.3" r="3.9" fill="#bfbf00"/>
<circle cx="1704.6" cy="1829.2" r="4.3" fill="#bfbf00"/>
<circle cx="1280.1" cy="2121.8" r="5.1" fill="#bfbf00"/>
<circle cx="1292.8" cy="2126.5" r="5.2" fill="#bfbf00"/>
<circle cx="1297.3" cy="2128.1" r="3.4" fill="#bfbf00"/>
<circle cx="1301.9" cy="2129.6" r="4.6" fill="#bfbf00"/>
<circle cx="1304.9" cy="2130.5" r="2.3" fill="#bfbf00"/>
<circle cx="1310.4" cy="2132.1" r="2.2" fill="#bfbf00"/>
<circle cx="1313.4" cy="2132.9" r="2.2" fill="#bfbf00"/>
<circle cx="1319.5" cy="2134.5" r="3.1" fill="#bfbf00"/>
<circle cx="1323.7" cy="2135.6" r="2.3" fill="#bfbf00"/>
<circle cx="1328" cy="2136.5" r="3.2" fill="#bfbf00"/>
<circle cx="1332.9" cy="2137.6" r="2.7" fill="#bfbf00"/>
<circle cx="1339.5" cy="2138.9" r="2.8" fill="#bfbf00"/>
<circle cx="1345.4" cy="2139.9" r="4.3" fill="#bfbf00"/>
<circle cx="1350.8" cy="2140.7" r="4.3" fill="#bfbf00"/>
<circle cx="1355" cy="2141.3" r="4.1" fill="#bfbf00"/>
<circle cx="1359.6" cy="2141.8" r="3.6" fill="#bfbf00"/>
<circle cx="1362.3" cy="2142.1" r="2.4" fill="#bfbf00"/>
<circle cx="1365.1" cy="2142.4" r="4.4" fill="#bfbf00"/>
<circle cx="1367.8" cy="2142.7" r="3.4" fill="#bfbf00"/>
<circle cx="1370.6" cy="2142.9" r="3.3" fill="#bfbf00"/>
<circle cx="1374.2" cy="2143.2" r="4.5" fill="#bfbf00"/>
<circle cx="1378.3" cy="2143.4" r="4.8" fill="#bfbf00"/>
<circle cx="1384.2" cy="2143.7" r="3.3" fill="#bfbf00"/>
<circle cx="1385.6" cy="2143.7" r="5.4" fill="#bfbf00"/>
<circle cx="1391.5" cy="2143.8" r="2.5" fill="#bfbf00"/>
<circle cx="1394.6" cy="2143.8" r="5" fill="#bfbf00"/>
<circle cx="1399" cy="2143.8" r="5.1" fill="#bfbf00"/>
<circle cx="1405.9" cy="2143.7" r="3.3" fill="#bfbf00"/>
<circle cx="1407.6" cy="2143.6" r="4.5" fill="#bfbf00"/>
<circle cx="1414.5" cy="2143.2" r="4.4" fill="#bfbf00"/>
<circle cx="1418.6" cy="2142.9" r="5.2" fill="#bfbf00"/>
<circle cx="1425.6" cy="2142.3" r="2.5" fill="#bfbf00"/>
<circle cx="1428.7" cy="2142" r="3.9" fill="#bfbf00"/>
<circle cx="1431.9" cy="2141.6" r="3.4" fill="#bfbf00"/>
<circle cx="1435.1" cy="2141.2" r="4.3" fill="#bfbf00"/>
<circle cx="1438.3" cy="2140.8" r="2.2" fill="#bfbf00"/>
<circle cx="1441.4" cy="2140.3" r="4" fill="#bfbf00"/>
<circle cx="1444.6" cy="2139.8" r="4.3" fill="#bfbf00"/>
<circle cx="1447.7" cy="2139.3" r="2.4" fill="#bfbf00"/>
<circle cx="1459.3" cy="2137.1" r="4.3" fill="#bfbf00"/>
<circle cx="1463.4" cy="2136.2" r="4.9" fill="#bfbf00"/>
<circle cx="1467.5" cy="2135.2" r="3.3" fill="#bfbf00"/>
<circle cx="1471.1" cy="2134.3" r="5.3" fill="#bfbf00"/>
<circle cx="1476.3" cy="2133" r="3.5" fill="#bfbf00"/>
<circle cx="1481.4" cy="2131.5" r="3.1" fill="#bfbf00"/>
<circle cx="1509.4" cy="2121.9" r="4.1" fill="#bfbf00"/>
<circle cx="1514.3" cy="2119.9" r="4.5" fill="#bfbf00"/>
<circle cx="1517" cy="2118.8" r="4.5" fill="#bfbf00"/>
<circle cx="1519.7" cy="2117.6" r="4.8" fill="#bfbf00"/>
<circle cx="1522.4" cy="2116.4" r="5.1" fill="#bfbf00"/>
<circle cx="1525" cy="2115.2" r="4.7" fill="#bfbf00"/>
<circle cx="1527.7" cy="2114" r="4" fill="#bfbf00"/>
<circle cx="1530.3" cy="2112.7" r="5" fill="#bfbf00"/>
<circle cx="1537.2" cy="2109.2" r="4.5" fill="#bfbf00"/>
<circle cx="1543.1" cy="2106.1" r="2.3" fill="#bfbf00"/>
<circle cx="1546.2" cy="2104.4" r="4.6" fill="#bfbf00"/>
<circle cx="1551" cy="2101.6" r="2.7" fill="#bfbf00"/>
<circle cx="1555.8" cy="2098.8" r="4.2" fill="#bfbf00"/>
<circle cx="1560.9" cy="2095.6" r="4.1" fill="#bfbf00"/>
<circle cx="1564.7" cy="2093.2" r="4.8" fill="#bfbf00"/>
<circle cx="1568.4" cy="2090.7" r="3.9" fill="#bfbf00"/>
<circle cx="1571.6" cy="2088.5" r="5.3" fill="#bfbf00"/>
<circle cx="1588" cy="2076.3" r="3.8" fill="#bfbf00"/>
<circle cx="1593.1" cy="2072.1" r="3.2" fill="#bfbf00"/>
<circle cx="1594.8" cy="2070.7" r="3.5" fill="#bfbf00"/>
<circle cx="1597.6" cy="2068.3" r="3.4" fill="#bfbf00"/>
<circle cx="1600.4" cy="2065.9" r="2.9" fill="#bfbf00"/>
<circle cx="1603.1" cy="2063.4" r="3.6" fill="#bfbf00"/>
<circle cx="1606.9" cy="2059.9" r="3.1" fill="#bfbf00"/>
<circle cx="1610.8" cy="2056.2" r="5.1" fill="#bfbf00"/>
<circle cx="1613.4" cy="2053.7" r="5" fill="#bfbf00"/>
<circle cx="1618.1" cy="2048.8" r="4.8" fill="#bfbf00"/>
<circle cx="1619.8" cy="2047.1" r="2.8" fill="#bfbf00"/>
<circle cx="1622.6" cy="2044.1" r="4" fill="#bfbf00"/>
<circle cx="1625.3" cy="2041.1" r="3.5" fill="#bfbf00"/>
<circle cx="1628.1" cy="2038" r="4.1" fill="#bfbf00"/>
<circle cx="1630.8" cy="2034.8" r="2.3" fill="#bfbf00"/>
<circle cx="1633.9" cy="2031.1" r="4.3" fill="#bfbf00"/>
<circle cx="1637.8" cy="2026.3" r="2.2" fill="#bfbf00"/>
<circle cx="1645.4" cy="2016.3" r="4.7" fill="#bfbf00"/>
<circle cx="1649" cy="2011.2" r="4.7" fill="#bfbf00"/>
<circle cx="1654.8" cy="2002.5" r="3.1" fill="#bfbf00"/>
<circle cx="1656.6" cy="1999.8" r="2.8" fill="#bfbf00"/>
<circle cx="1659.7" cy="1994.8" r="3.2" fill="#bfbf00"/>
<circle cx="1661.4" cy="1992" r="5.1" fill="#bfbf00"/>
<circle cx="1662.9" cy="1989.4" r="3.3" fill="#bfbf00"/>
<circle cx="1664.5" cy="1986.6" r="3.3" fill="#bfbf00"/>
<circle cx="1671" cy="1974.5" r="3.7" fill="#bfbf00"/>
<circle cx="1672.5" cy="1971.4" r="4.9" fill="#bfbf00"/>
<circle cx="1674.1" cy="1968.3" r="5.4" fill="#bfbf00"/>
<circle cx="1675.5" cy="1965.2" r="3.5" fill="#bfbf00"/>
<circle cx="1677.2" cy="1961.6" r="3" fill="#bfbf00"/>
<circle cx="1679.4" cy="1956.6" r="2.2" fill="#bfbf00"/>
<circle cx="1680.7" cy="1953.5" r="3.5" fill="#bfbf00"/>
<circle cx="1682.8" cy="1948.4" r="5.3" fill="#bfbf00"/>
<circle cx="1684" cy="1945.3" r="5.1" fill="#bfbf00"/>
<circle cx="1685.8" cy="1940.5" r="2.2" fill="#bfbf00"/>
<circle cx="1687" cy="1937.3" r="4" fill="#bfbf00"/>
<circle cx="1689.2" cy="1930.7" r="3.8" fill="#bfbf00"/>
<circle cx="1690.2" cy="1927.7" r="5.1" fill="#bfbf00"/>
<circle cx="1691.5" cy="1923.3" r="2.3" fill="#bfbf00"/>
<circle cx="1693.4" cy="1917" r="5.1" fill="#bfbf00"/>
<circle cx="1694" cy="1914.6" r="2.2" fill="#bfbf00"/>
<circle cx="1694.6" cy="1912.3" r="2.3" fill="#bfbf00"/>
<circle cx="1695.2" cy="1909.9" r="2.5" fill="#bfbf00"/>
<circle cx="1695.8" cy="1907.6" r="5.4" fill="#bfbf00"/>
<circle cx="1696.4" cy="1905.2" r="5.3" fill="#bfbf00"/>
<circle cx="1696.9" cy="1902.9" r="4.9" fill="#bfbf00"/>
<circle cx="1697.5" cy="1900.5" r="4.4" fill="#bfbf00"/>
<circle cx="1698" cy="1898.1" r="3.6" fill="#bfbf00"/>
<circle cx="1698.5" cy="1895.7" r="3" fill="#bfbf00"/>
<circle cx="1700.4" cy="1885.2" r="4.4" fill="#bfbf00"/>
<circle cx="1701.5" cy="1878.3" r="4.9" fill="#bfbf00"/>
<circle cx="1702.4" cy="1871.3" r="4.8" fill="#bfbf00"/>
<circle cx="1703.2" cy="1864.3" r="5.8" fill="#bfbf00"/>
<circle cx="1703.8" cy="1857.3" r="5.5" fill="#bfbf00"/>
<circle cx="1704.2" cy="1850.3" r="5.2" fill="#bfbf00"/>
<circle cx="1704.5" cy="1843.3" r="5.3" fill="#bfbf00"/>
<circle cx="1704.6" cy="1836.3" r="3.6" fill="#bfbf00"/>
<circle cx="1704.2" cy="1817.2" r="4.9" fill="#bfbf00"/>
<circle cx="1704" cy="1813.6" r="4.9" fill="#bfbf00"/>
<circle cx="1703.4" cy="1806.8" r="4" fill="#bfbf00"/>
<circle cx="1703.1" cy="1803.3" r="4.3" fill="#bfbf00"/>
<circle cx="1702.7" cy="1799.1" r="3.9" fill="#bfbf00"/>
<circle cx="1702.3" cy="1796.1" r="4.9" fill="#bfbf00"/>
<circle cx="1701.9" cy="1793.1" r="5.2" fill="#bfbf00"/>
<circle cx="1701.5" cy="1790.1" r="3.8" fill="#bfbf00"/>
<circle cx="1701.1" cy="1787.1" r="5.2" fill="#bfbf00"/>
<circle cx="1700.4" cy="1782.7" r="3.1" fill="#bfbf00"/>
<circle cx="1699.7" cy="1778.9" r="3.5" fill="#bfbf00"/>
<circle cx="1698.8" cy="1774.4" r="2.4" fill="#bfbf00"/>
<circle cx="1697.7" cy="1769.1" r="3.4" fill="#bfbf00"/>
<circle cx="1696.6" cy="1763.8" r="2.7" fill="#bfbf00"/>
<circle cx="1695.3" cy="1758.5" r="4.4" fill="#bfbf00"/>
<circle cx="1693.9" cy="1753.3" r="4.3" fill="#bfbf00"/>
<circle cx="1692.2" cy="1747.2" r="3.4" fill="#bfbf00"/>
<circle cx="1690.5" cy="1741.6" r="3.9" fill="#bfbf00"/>
<circle cx="1688.7" cy="1736" r="2.7" fill="#bfbf00"/>
<circle cx="1686.9" cy="1730.8" r="4.8" fill="#bfbf00"/>
<circle cx="1685.3" cy="1726.3" r="4.7" fill="#bfbf00"/>
<circle cx="1683.8" cy="1722.4" r="2.3" fill="#bfbf00"/>
<circle cx="1682.3" cy="1718.6" r="2.6" fill="#bfbf00"/>
<circle cx="1680.7" cy="1714.8" r="2.2" fill="#bfbf00"/>
<circle cx="1679.1" cy="1711" r="3.7" fill="#bfbf00"/>
<circle cx="1676.8" cy="1705.6" r="3.6" fill="#bfbf00"/>
<circle cx="1674.5" cy="1700.7" r="4.8" fill="#bfbf00"/>
<circle cx="1673" cy="1697.6" r="2.4" fill="#bfbf00"/>
<circle cx="1670.2" cy="1692.2" r="2.9" fill="#bfbf00"/>
<circle cx="1668.8" cy="1689.4" r="2.8" fill="#bfbf00"/>
<circle cx="1667" cy="1686.1" r="3.3" fill="#bfbf00"/>
<circle cx="1665.2" cy="1682.9" r="4.4" fill="#bfbf00"/>
<circle cx="1663.4" cy="1679.6" r="3.1" fill="#bfbf00"/>
<circle cx="1661.5" cy="1676.3" r="5.3" fill="#bfbf00"/>
<circle cx="1658.9" cy="1672.1" r="2.4" fill="#bfbf00"/>
<circle cx="1656.3" cy="1668" r="3.4" fill="#bfbf00"/>
<circle cx="1653.7" cy="1663.8" r="2.9" fill="#bfbf00"/>
<circle cx="1651.2" cy="1660.2" r="4.5" fill="#bfbf00"/>
<circle cx="1647.4" cy="1654.6" r="5.1" fill="#bfbf00"/>
<circle cx="1645.2" cy="1651.6" r="4.1" fill="#bfbf00"/>
<circle cx="1641.8" cy="1647.1" r="3.9" fill="#bfbf00"/>
<circle cx="1638.3" cy="1642.6" r="5" fill="#bfbf00"/>
<circle cx="1635.3" cy="1638.7" r="4.6" fill="#bfbf00"/>
<circle cx="1632.6" cy="1635.5" r="5" fill="#bfbf00"/>
<circle cx="1630" cy="1632.4" r="4.1" fill="#bfbf00"/>
<circle cx="1626.2" cy="1628" r="5" fill="#bfbf00"/>
<circle cx="1622.5" cy="1624" r="3.3" fill="#bfbf00"/>
<circle cx="1620.1" cy="1621.4" r="4.6" fill="#bfbf00"/>
<circle cx="1615.4" cy="1616.6" r="4.3" fill="#bfbf00"/>
<circle cx="1613.4" cy="1614.6" r="3.3" fill="#bfbf00"/>
<circle cx="1608.5" cy="1609.8" r="3.4" fill="#bfbf00"/>
<circle cx="1604" cy="1605.5" r="4.3" fill="#bfbf00"/>
<circle cx="1595.7" cy="1598.2" r="5.3" fill="#bfbf00"/>
<circle cx="1593.9" cy="1596.7" r="3.4" fill="#bfbf00"/>
<circle cx="1592.1" cy="1595.2" r="2.6" fill="#bfbf00"/>
<circle cx="1590.3" cy="1593.7" r="4.5" fill="#bfbf00"/>
<circle cx="1588.4" cy="1592.2" r="3.5" fill="#bfbf00"/>
<circle cx="1586.6" cy="1590.8" r="4.4" fill="#bfbf00"/>
<circle cx="1584.7" cy="1589.3" r="5.2" fill="#bfbf00"/>
<circle cx="1582.9" cy="1587.9" r="3.4" fill="#bfbf00"/>
<circle cx="1581" cy="1586.5" r="3.5" fill="#bfbf00"/>
<circle cx="1579.1" cy="1585.1" r="3.9" fill="#bfbf00"/>
<circle cx="1577.3" cy="1583.7" r="5.3" fill="#bfbf00"/>
<circle cx="1575.4" cy="1582.3" r="4.5" fill="#bfbf00"/>
<circle cx="1573.4" cy="1581" r="4.8" fill="#bfbf00"/>
<circle cx="1567.2" cy="1576.7" r="3.3" fill="#bfbf00"/>
<circle cx="1562.2" cy="1573.4" r="3.3" fill="#bfbf00"/>
<circle cx="1550.2" cy="1566.1" r="5.2" fill="#bfbf00"/>
<circle cx="1544" cy="1562.6" r="2.4" fill="#bfbf00"/>
<circle cx="1540" cy="1560.4" r="2.6" fill="#bfbf00"/>
<circle cx="1534.8" cy="1557.7" r="4" fill="#bfbf00"/>
<circle cx="1531.4" cy="1556.1" r="5" fill="#bfbf00"/>
<circle cx="1526.2" cy="1553.6" r="2.2" fill="#bfbf00"/>
<circle cx="1521.1" cy="1551.2" r="3.7" fill="#bfbf00"/>
<circle cx="1516" cy="1549" r="2.4" fill="#bfbf00"/>
<circle cx="1509.9" cy="1546.5" r="2.9" fill="#bfbf00"/>
<circle cx="1508.2" cy="1545.8" r="4.4" fill="#bfbf00"/>
<circle cx="1506.5" cy="1545.2" r="2.6" fill="#bfbf00"/>
<circle cx="1504.8" cy="1544.5" r="2.4" fill="#bfbf00"/>
<circle cx="1503.1" cy="1543.9" r="4" fill="#bfbf00"/>
<circle cx="1501.4" cy="1543.2" r="2.3" fill="#bfbf00"/>
<circle cx="1477.2" cy="1535.5" r="3.9" fill="#bfbf00"/>
<circle cx="1474" cy="1534.6" r="3.9" fill="#bfbf00"/>
<circle cx="1465.7" cy="1532.6" r="5.3" fill="#bfbf00"/>
<circle cx="1463.7" cy="1532.1" r="4.5" fill="#bfbf00"/>
<circle cx="1461.7" cy="1531.6" r="2.2" fill="#bfbf00"/>
<circle cx="1459.6" cy="1531.2" r="4.7" fill="#bfbf00"/>
<circle cx="1457.6" cy="1530.8" r="2.5" fill="#bfbf00"/>
<circle cx="1455.5" cy="1530.3" r="4.2" fill="#bfbf00"/>
<circle cx="1453.4" cy="1529.9" r="5.2" fill="#bfbf00"/>
<circle cx="1451.4" cy="1529.5" r="5.2" fill="#bfbf00"/>
<circle cx="1449.3" cy="1529.2" r="3.3" fill="#bfbf00"/>
<circle cx="1447.3" cy="1528.8" r="3.7" fill="#bfbf00"/>
<circle cx="1445.2" cy="1528.5" r="3.9" fill="#bfbf00"/>
<circle cx="1443.1" cy="1528.1" r="5.4" fill="#bfbf00"/>
<circle cx="1441.1" cy="1527.8" r="5" fill="#bfbf00"/>
<circle cx="1439" cy="1527.5" r="2.6" fill="#bfbf00"/>
<circle cx="1436.9" cy="1527.2" r="2.9" fill="#bfbf00"/>
<circle cx="1434.8" cy="1526.9" r="4.4" fill="#bfbf00"/>
<circle cx="1432.7" cy="1526.7" r="4.9" fill="#bfbf00"/>
<circle cx="1430.7" cy="1526.4" r="2.2" fill="#bfbf00"/>
<circle cx="1428.6" cy="1526.2" r="3.2" fill="#bfbf00"/>
<circle cx="1426.5" cy="1526" r="2.2" fill="#bfbf00"/>
<circle cx="1424.4" cy="1525.8" r="5.3" fill="#bfbf00"/>
<circle cx="1422.3" cy="1525.6" r="4.8" fill="#bfbf00"/>
<circle cx="1419.4" cy="1525.3" r="2.2" fill="#bfbf00"/>
<circle cx="1415.7" cy="1525" r="2.5" fill="#bfbf00"/>
<circle cx="1411.9" cy="1524.8" r="4.9" fill="#bfbf00"/>
<circle cx="1408.2" cy="1524.6" r="4.8" fill="#bfbf00"/>
<circle cx="1383" cy="1524.6" r="2.6" fill="#bfbf00"/>
<circle cx="1375.5" cy="1525" r="4.4" fill="#bfbf00"/>
<circle cx="1363.2" cy="1526" r="4.3" fill="#bfbf00"/>
<circle cx="1358.1" cy="1526.5" r="2.5" fill="#bfbf00"/>
<circle cx="1354.5" cy="1527" r="3.8" fill="#bfbf00"/>
<circle cx="1352.7" cy="1527.2" r="2.8" fill="#bfbf00"/>
<circle cx="1351" cy="1527.5" r="2.6" fill="#bfbf00"/>
<circle cx="1349.3" cy="1527.7" r="2.7" fill="#bfbf00"/>
<circle cx="1347.6" cy="1528" r="2.5" fill="#bfbf00"/>
<circle cx="1345.8" cy="1528.3" r="3.8" fill="#bfbf00"/>
<circle cx="1344.1" cy="1528.5" r="3" fill="#bfbf00"/>
<circle cx="1342.4" cy="1528.8" r="5.4" fill="#bfbf00"/>
<circle cx="1340.7" cy="1529.1" r="4.8" fill="#bfbf00"/>
<circle cx="1338.9" cy="1529.4" r="2.5" fill="#bfbf00"/>
<circle cx="1337.2" cy="1529.8" r="4.9" fill="#bfbf00"/>
<circle cx="1335.5" cy="1530.1" r="3" fill="#bfbf00"/>
<circle cx="1333.8" cy="1530.4" r="3.8" fill="#bfbf00"/>
<circle cx="1332.1" cy="1530.8" r="4.1" fill="#bfbf00"/>
<circle cx="1328.4" cy="1531.6" r="3.4" fill="#bfbf00"/>
<circle cx="1326.7" cy="1531.9" r="4.2" fill="#bfbf00"/>
<circle cx="1325.1" cy="1532.3" r="2.9" fill="#bfbf00"/>
<circle cx="1323.4" cy="1532.7" r="3.3" fill="#bfbf00"/>
<circle cx="1321.8" cy="1533.1" r="5.3" fill="#bfbf00"/>
<circle cx="1320.1" cy="1533.5" r="4.4" fill="#bfbf00"/>
<circle cx="1318.5" cy="1533.9" r="4.6" fill="#bfbf00"/>
<circle cx="1316.8" cy="1534.4" r="4" fill="#bfbf00"/>
<circle cx="1315.2" cy="1534.8" r="3.6" fill="#bfbf00"/>
<circle cx="1313.5" cy="1535.2" r="4.4" fill="#bfbf00"/>
<circle cx="1311.9" cy="1535.7" r="2.2" fill="#bfbf00"/>
<circle cx="1310.3" cy="1536.1" r="5.4" fill="#bfbf00"/>
<circle cx="1308.6" cy="1536.6" r="3.6" fill="#bfbf00"/>
<circle cx="1307" cy="1537.1" r="2.3" fill="#bfbf00"/>
<circle cx="1305.4" cy="1537.6" r="2.4" fill="#bfbf00"/>
<circle cx="1303.7" cy="1538.1" r="3.8" fill="#bfbf00"/>
<circle cx="1302.1" cy="1538.6" r="3.2" fill="#bfbf00"/>
<circle cx="1300.5" cy="1539.1" r="4" fill="#bfbf00"/>
<circle cx="1298.9" cy="1539.6" r="4.2" fill="#bfbf00"/>
<circle cx="1297.3" cy="1540.1" r="4.5" fill="#bfbf00"/>
<circle cx="1295.7" cy="1540.7" r="3.7" fill="#bfbf00"/>
<circle cx="1294.1" cy="1541.2" r="2.2" fill="#bfbf00"/>
<circle cx="1284.4" cy="1544.7" r="3.8" fill="#bfbf00"/>
<circle cx="1277.9" cy="1547.3" r="3.8" fill="#bfbf00"/>
<circle cx="1271.4" cy="1550" r="3.6" fill="#bfbf00"/>
<circle cx="1265.5" cy="1552.7" r="4.4" fill="#bfbf00"/>
<circle cx="1260.1" cy="1555.2" r="1.9" fill="#bfbf00"/>
<circle cx="1254.8" cy="1557.9" r="3.4" fill="#bfbf00"/>
<circle cx="1249.5" cy="1560.6" r="4" fill="#bfbf00"/>
<circle cx="1244.3" cy="1563.4" r="2.5" fill="#bfbf00"/>
<circle cx="1239.1" cy="1566.4" r="2.5" fill="#bfbf00"/>
<circle cx="1220.9" cy="1577.8" r="5" fill="#bfbf00"/>
<circle cx="1218.5" cy="1579.5" r="3.8" fill="#bfbf00"/>
<circle cx="1216.1" cy="1581.1" r="2.7" fill="#bfbf00"/>
<circle cx="1213.8" cy="1582.8" r="5" fill="#bfbf00"/>
<circle cx="1211.4" cy="1584.6" r="4.1" fill="#bfbf00"/>
<circle cx="1208.3" cy="1586.9" r="2.5" fill="#bfbf00"/>
<circle cx="1203.6" cy="1590.5" r="3.6" fill="#bfbf00"/>
<circle cx="1199.9" cy="1593.5" r="4" fill="#bfbf00"/>
<circle cx="1196.2" cy="1596.5" r="4.7" fill="#bfbf00"/>
<circle cx="1193.6" cy="1598.7" r="3.2" fill="#bfbf00"/>
<circle cx="1190.7" cy="1601.2" r="3.3" fill="#bfbf00"/>
<circle cx="1187.9" cy="1603.7" r="3.5" fill="#bfbf00"/>
<circle cx="1185.4" cy="1605.9" r="3" fill="#bfbf00"/>
<circle cx="1182" cy="1609.1" r="4.6" fill="#bfbf00"/>
<circle cx="1178.8" cy="1612.2" r="4.6" fill="#bfbf00"/>
<circle cx="1175.6" cy="1615.3" r="3.9" fill="#bfbf00"/>
<circle cx="1172.5" cy="1618.5" r="4.3" fill="#bfbf00"/>
<circle cx="1159" cy="1633.3" r="3.3" fill="#bfbf00"/>
<circle cx="1156.2" cy="1636.7" r="3.9" fill="#bfbf00"/>
<circle cx="1151.5" cy="1642.5" r="2.7" fill="#bfbf00"/>
<circle cx="1150.1" cy="1644.3" r="3.1" fill="#bfbf00"/>
<circle cx="1148.7" cy="1646.1" r="5" fill="#bfbf00"/>
<circle cx="1147.3" cy="1648" r="2.7" fill="#bfbf00"/>
<circle cx="1145.9" cy="1649.8" r="4.1" fill="#bfbf00"/>
<circle cx="1144.5" cy="1651.7" r="3.3" fill="#bfbf00"/>
<circle cx="1143.2" cy="1653.6" r="4.1" fill="#bfbf00"/>
<circle cx="1141.8" cy="1655.5" r="3.8" fill="#bfbf00"/>
<circle cx="1140.5" cy="1657.4" r="5.4" fill="#bfbf00"/>
<circle cx="1139.2" cy="1659.3" r="3.6" fill="#bfbf00"/>
<circle cx="1137.9" cy="1661.2" r="4.5" fill="#bfbf00"/>
<circle cx="1136.6" cy="1663.1" r="2.9" fill="#bfbf00"/>
<circle cx="1135.3" cy="1665.1" r="4.9" fill="#bfbf00"/>
<circle cx="1134.1" cy="1667" r="5" fill="#bfbf00"/>
<circle cx="1132.8" cy="1669" r="4" fill="#bfbf00"/>
<circle cx="1131.6" cy="1671" r="2.7" fill="#bfbf00"/>
<circle cx="1136.5" cy="1663.2" r="5.2" fill="#bfbf00"/>
<circle cx="1134.5" cy="1666.3" r="3.7" fill="#bfbf00"/>
<circle cx="1131" cy="1672" r="2.2" fill="#bfbf00"/>
<circle cx="1129.1" cy="1675" r="2.7" fill="#bfbf00"/>
<circle cx="1125.9" cy="1680.5" r="3.9" fill="#bfbf00"/>
<circle cx="1124.8" cy="1682.5" r="2.7" fill="#bfbf00"/>
<circle cx="1123.7" cy="1684.5" r="5" fill="#bfbf00"/>
<circle cx="1122.6" cy="1686.4" r="5.1" fill="#bfbf00"/>
<circle cx="1121.5" cy="1688.4" r="2.5" fill="#bfbf00"/>
<circle cx="1120.5" cy="1690.4" r="2.2" fill="#bfbf00"/>
<circle cx="1119.4" cy="1692.4" r="4.6" fill="#bfbf00"/>
<circle cx="1118.4" cy="1694.4" r="4.1" fill="#bfbf00"/>
<circle cx="1117.4" cy="1696.5" r="3.8" fill="#bfbf00"/>
<circle cx="1116.4" cy="1698.5" r="4.1" fill="#bfbf00"/>
<circle cx="1115.4" cy="1700.5" r="4.7" fill="#bfbf00"/>
<circle cx="1114.5" cy="1702.6" r="3" fill="#bfbf00"/>
<circle cx="1113.5" cy="1704.6" r="4.9" fill="#bfbf00"/>
<circle cx="1112.6" cy="1706.6" r="3" fill="#bfbf00"/>
<circle cx="1111.7" cy="1708.7" r="5.3" fill="#bfbf00"/>
<circle cx="1108.8" cy="1715.3" r="4.5" fill="#bfbf00"/>
<circle cx="1107" cy="1719.8" r="5" fill="#bfbf00"/>
<circle cx="1105.2" cy="1724.5" r="2.7" fill="#bfbf00"/>
<circle cx="1103.8" cy="1728.1" r="3.2" fill="#bfbf00"/>
<circle cx="1102.5" cy="1731.8" r="5.2" fill="#bfbf00"/>
<circle cx="1101.3" cy="1735.5" r="4.1" fill="#bfbf00"/>
<circle cx="1099.9" cy="1739.7" r="2.4" fill="#bfbf00"/>
<circle cx="1097.9" cy="1746.2" r="3.7" fill="#bfbf00"/>
<circle cx="1096.4" cy="1751.5" r="2.5" fill="#bfbf00"/>
<circle cx="1095.3" cy="1755.5" r="2.5" fill="#bfbf00"/>
<circle cx="1094.4" cy="1759.1" r="3.7" fill="#bfbf00"/>
<circle cx="1093.5" cy="1762.6" r="5.1" fill="#bfbf00"/>
<circle cx="1092.7" cy="1766.2" r="3.4" fill="#bfbf00"/>
<circle cx="1091.9" cy="1769.8" r="4.3" fill="#bfbf00"/>
<circle cx="1090.9" cy="1774.5" r="3.1" fill="#bfbf00"/>
<circle cx="1090.1" cy="1779.1" r="5" fill="#bfbf00"/>
<circle cx="1089.4" cy="1782.9" r="4.5" fill="#bfbf00"/>
<circle cx="1088.9" cy="1786.2" r="2.6" fill="#bfbf00"/>
<circle cx="1088.4" cy="1789.6" r="2.8" fill="#bfbf00"/>
<circle cx="1087.9" cy="1792.9" r="4.7" fill="#bfbf00"/>
<circle cx="1087.5" cy="1796.3" r="3.3" fill="#bfbf00"/>
<circle cx="1087.1" cy="1799.7" r="3.6" fill="#bfbf00"/>
<circle cx="1086.7" cy="1803.2" r="2.9" fill="#bfbf00"/>
<circle cx="1086.3" cy="1807" r="5" fill="#bfbf00"/>
<circle cx="1086" cy="1810.7" r="4.1" fill="#bfbf00"/>
<circle cx="1085.8" cy="1814" r="2.5" fill="#bfbf00"/>
<circle cx="1085.5" cy="1818.8" r="4.4" fill="#bfbf00"/>
<circle cx="1085.2" cy="1840.7" r="4.6" fill="#bfbf00"/>
<circle cx="1085.3" cy="1843.9" r="2.4" fill="#bfbf00"/>
<circle cx="1085.4" cy="1847" r="3.6" fill="#bfbf00"/>
<circle cx="1085.6" cy="1850.2" r="2.7" fill="#bfbf00"/>
<circle cx="1085.7" cy="1852.5" r="3.6" fill="#bfbf00"/>
<circle cx="1085.9" cy="1855.7" r="3" fill="#bfbf00"/>
<circle cx="1086.1" cy="1858.8" r="5.1" fill="#bfbf00"/>
<circle cx="1086.4" cy="1862" r="3.2" fill="#bfbf00"/>
<circle cx="1086.6" cy="1863.9" r="4.7" fill="#bfbf00"/>
<circle cx="1087.2" cy="1869.5" r="4.8" fill="#bfbf00"/>
<circle cx="1087.8" cy="1874.6" r="4.5" fill="#bfbf00"/>
<circle cx="1088.2" cy="1877.5" r="4.7" fill="#bfbf00"/>
<circle cx="1088.6" cy="1880.4" r="4.1" fill="#bfbf00"/>
<circle cx="1089.1" cy="1883.3" r="5" fill="#bfbf00"/>
<circle cx="1089.6" cy="1886.6" r="4.1" fill="#bfbf00"/>
<circle cx="1090.1" cy="1889.4" r="5.2" fill="#bfbf00"/>
<circle cx="1091.1" cy="1894.7" r="5" fill="#bfbf00"/>
<circle cx="1093.5" cy="1905.4" r="4.2" fill="#bfbf00"/>
<circle cx="1094.5" cy="1909.8" r="2.3" fill="#bfbf00"/>
<circle cx="1095.7" cy="1914.2" r="4.5" fill="#bfbf00"/>
<circle cx="1099.5" cy="1927.3" r="3.9" fill="#bfbf00"/>
<circle cx="1100.7" cy="1930.9" r="4.1" fill="#bfbf00"/>
<circle cx="1101.4" cy="1933.2" r="4.4" fill="#bfbf00"/>
<circle cx="1102.2" cy="1935.4" r="4.1" fill="#bfbf00"/>
<circle cx="1103" cy="1937.7" r="4.2" fill="#bfbf00"/>
<circle cx="1103.8" cy="1939.9" r="5.3" fill="#bfbf00"/>
<circle cx="1104.6" cy="1942.1" r="2.6" fill="#bfbf00"/>
<circle cx="1105.4" cy="1944.3" r="4.7" fill="#bfbf00"/>
<circle cx="1106.3" cy="1946.6" r="2.9" fill="#bfbf00"/>
<circle cx="1107.2" cy="1948.8" r="3.7" fill="#bfbf00"/>
<circle cx="1108" cy="1951" r="2.4" fill="#bfbf00"/>
<circle cx="1108.9" cy="1953.2" r="5.1" fill="#bfbf00"/>
<circle cx="1109.9" cy="1955.3" r="2.2" fill="#bfbf00"/>
<circle cx="1110.8" cy="1957.5" r="2.8" fill="#bfbf00"/>
<circle cx="1111.8" cy="1959.7" r="4.4" fill="#bfbf00"/>
<circle cx="1117.2" cy="1971.4" r="3.2" fill="#bfbf00"/>
<circle cx="1119.2" cy="1975.4" r="2.6" fill="#bfbf00"/>
<circle cx="1121.3" cy="1979.3" r="4.5" fill="#bfbf00"/>
<circle cx="1123.2" cy="1982.8" r="5.1" fill="#bfbf00"/>
<circle cx="1126.4" cy="1988.5" r="2.6" fill="#bfbf00"/>
<circle cx="1148.5" cy="2021.8" r="3.2" fill="#bfbf00"/>
<circle cx="1159.4" cy="2035.3" r="3.9" fill="#bfbf00"/>
<circle cx="1164.4" cy="2041.1" r="5" fill="#bfbf00"/>
<circle cx="1168.3" cy="2045.3" r="3.8" fill="#bfbf00"/>
<circle cx="1172.2" cy="2049.4" r="3.7" fill="#bfbf00"/>
<circle cx="1176.2" cy="2053.4" r="4.3" fill="#bfbf00"/>
<circle cx="1202.4" cy="2076.8" r="4.5" fill="#bfbf00"/>
<circle cx="1205.4" cy="2079.1" r="3.4" fill="#bfbf00"/>
<circle cx="1208.4" cy="2081.4" r="3.1" fill="#bfbf00"/>
<circle cx="1211.1" cy="2083.4" r="3.6" fill="#bfbf00"/>
<circle cx="1214.9" cy="2086.2" r="5.3" fill="#bfbf00"/>
<circle cx="1218.8" cy="2088.9" r="2.2" fill="#bfbf00"/>
<circle cx="1223.9" cy="2092.4" r="4.1" fill="#bfbf00"/>
<circle cx="1228.5" cy="2095.3" r="2.7" fill="#bfbf00"/>
<circle cx="1233.1" cy="2098.2" r="2.5" fill="#bfbf00"/>
<circle cx="1237.7" cy="2101" r="3.8" fill="#bfbf00"/>
<circle cx="1240.7" cy="2102.8" r="3.9" fill="#bfbf00"/>
<circle cx="1246.4" cy="2105.9" r="5.1" fill="#bfbf00"/>
<circle cx="1250.5" cy="2108.1" r="2.2" fill="#bfbf00"/>
<circle cx="1254.3" cy="2110.1" r="5.3" fill="#bfbf00"/>
<circle cx="1257.6" cy="2111.8" r="2.2" fill="#bfbf00"/>
<circle cx="1261" cy="2113.4" r="4.1" fill="#bfbf00"/>
<circle cx="1264.3" cy="2115" r="3.7" fill="#bfbf00"/>
<circle cx="1268.2" cy="2116.7" r="3" fill="#bfbf00"/>
<circle cx="1273.3" cy="2119" r="3" fill="#bfbf00"/>
<circle cx="1412.1" cy="1747.3" r="7.2" fill="#008000"/>
<circle cx="1348.1" cy="1759" r="5.3" fill="#008000"/>
<circle cx="1306.9" cy="1843.4" r="7" fill="#ff0000"/>
<circle cx="1438.4" cy="1959.5" r="7.2" fill="#008000"/>
<circle cx="1508.5" cy="1902.7" r="6.7" fill="#ff0000"/>
<circle cx="1365.5" cy="1704.6" r="6.1" fill="#008000"/>
<circle cx="1324.7" cy="1721.4" r="5.3" fill="#008000"/>
<circle cx="1437.7" cy="2005.8" r="7.2" fill="#008000"/>
<circle cx="1501.5" cy="1975.4" r="3.9" fill="#008000"/>
<circle cx="1538" cy="1938.2" r="4.4" fill="#008000"/>
<circle cx="1548.1" cy="1922.7" r="6.7" fill="#ff0000"/>
<circle cx="1356.3" cy="1661.4" r="6.1" fill="#008000"/>
<circle cx="1301.4" cy="1683.8" r="5.3" fill="#008000"/>
<circle cx="1280.2" cy="1968.9" r="4.4" fill="#008000"/>
<circle cx="1448.2" cy="2048.8" r="5" fill="#008000"/>
<circle cx="1464.7" cy="2044" r="3.3" fill="#008000"/>
<circle cx="1473" cy="2041.1" r="5" fill="#008000"/>
<circle cx="1525.3" cy="2012.9" r="4.4" fill="#008000"/>
<circle cx="1586.2" cy="1945.2" r="6.7" fill="#ff0000"/>
<circle cx="1524.3" cy="1654.7" r="6.1" fill="#008000"/>
<circle cx="1499.5" cy="1639.1" r="4.4" fill="#008000"/>
<circle cx="1484.9" cy="1632" r="5" fill="#008000"/>
<circle cx="1396.8" cy="1612.9" r="5" fill="#008000"/>
<circle cx="1345.5" cy="1618.4" r="6.7" fill="#008000"/>
<circle cx="1278" cy="1646.3" r="5.3" fill="#008000"/>
<circle cx="1231.3" cy="1685.2" r="6.1" fill="#008000"/>
<circle cx="1175.6" cy="1804.5" r="3.9" fill="#008000"/>
<circle cx="1195" cy="1929" r="5.6" fill="#008000"/>
<circle cx="1213.4" cy="1960.7" r="6.1" fill="#008000"/>
<circle cx="1251.5" cy="2002.6" r="4.4" fill="#008000"/>
<circle cx="1302.8" cy="2083.1" r="5" fill="#008000"/>
<circle cx="1446.5" cy="2094.5" r="5" fill="#008000"/>
<circle cx="1475.5" cy="2087.1" r="3.3" fill="#008000"/>
<circle cx="1489.5" cy="2082.2" r="5" fill="#008000"/>
<circle cx="1551.3" cy="2048.6" r="4.4" fill="#008000"/>
<circle cx="1606.4" cy="1994.6" r="3.9" fill="#008000"/>
<circle cx="1626.2" cy="1964.5" r="6.7" fill="#ff0000"/>
<circle cx="1633.9" cy="1949.7" r="4.4" fill="#ff0000"/>
<circle cx="1550.2" cy="1618.8" r="6.1" fill="#008000"/>
<circle cx="1474.3" cy="1580.7" r="4.4" fill="#008000"/>
<circle cx="1397.2" cy="1568.6" r="5" fill="#008000"/>
<circle cx="1353.8" cy="1571.8" r="6.1" fill="#008000"/>
<circle cx="1324.8" cy="1578" r="5" fill="#008000"/>
<circle cx="1254.6" cy="1608.7" r="5.3" fill="#008000"/>
<circle cx="1199.5" cy="1654.4" r="6.1" fill="#008000"/>
<circle cx="1129.5" cy="1827.2" r="4.4" fill="#008000"/>
<circle cx="1129.4" cy="1835.5" r="5" fill="#008000"/>
<circle cx="1131.4" cy="1866.5" r="3.3" fill="#008000"/>
<circle cx="1135.2" cy="1889.3" r="5.6" fill="#008000"/>
<circle cx="1139.7" cy="1907.3" r="5.6" fill="#008000"/>
<circle cx="1154.5" cy="1946.7" r="5" fill="#008000"/>
<circle cx="1167.3" cy="1970.8" r="5" fill="#008000"/>
<circle cx="1171.2" cy="1977.1" r="5" fill="#008000"/>
<circle cx="1175.8" cy="1984.1" r="4.4" fill="#008000"/>
<circle cx="1180.1" cy="1990.2" r="3.9" fill="#008000"/>
<circle cx="1186.8" cy="1999" r="3.9" fill="#008000"/>
<circle cx="1211.1" cy="2025.7" r="4.4" fill="#008000"/>
<circle cx="1223.9" cy="2037.2" r="4.4" fill="#008000"/>
<circle cx="1285.9" cy="2124" r="5" fill="#008000"/>
<circle cx="1454.2" cy="2138.1" r="5.6" fill="#008000"/>
<circle cx="1488.9" cy="2129.2" r="4.4" fill="#008000"/>
<circle cx="1502.6" cy="2124.5" r="5" fill="#008000"/>
<circle cx="1533.8" cy="2110.9" r="5" fill="#ff0000"/>
<circle cx="1577.4" cy="2084.4" r="4.4" fill="#008000"/>
<circle cx="1641.6" cy="2021.4" r="4.4" fill="#008000"/>
<circle cx="1667.7" cy="1980.8" r="6.1" fill="#ff0000"/>
<circle cx="1671.9" cy="1972.8" r="3.3" fill="#ff0000"/>
<circle cx="1674.3" cy="1967.8" r="4.4" fill="#ff0000"/>
<circle cx="1598.1" cy="1600.3" r="5" fill="#008000"/>
<circle cx="1571.1" cy="1579.3" r="5" fill="#008000"/>
<circle cx="1557.2" cy="1570.3" r="4.4" fill="#008000"/>
<circle cx="1497.8" cy="1541.9" r="4.4" fill="#008000"/>
<circle cx="1489.6" cy="1539.2" r="4.4" fill="#008000"/>
<circle cx="1483.4" cy="1537.3" r="3.9" fill="#008000"/>
<circle cx="1469.8" cy="1533.6" r="5" fill="#008000"/>
<circle cx="1443.4" cy="1528.2" r="5.6" fill="#008000"/>
<circle cx="1402.5" cy="1524.4" r="4.4" fill="#008000"/>
<circle cx="1396.5" cy="1524.4" r="5" fill="#008000"/>
<circle cx="1391.7" cy="1524.4" r="3.3" fill="#008000"/>
<circle cx="1231.2" cy="1571.1" r="5.3" fill="#008000"/>
<circle cx="1167.3" cy="1624" r="6.7" fill="#008000"/>
<circle cx="1150.5" cy="1643.8" r="4.4" fill="#008000"/>
<circle cx="1124.8" cy="1682.5" r="2.7" fill="#ff0000"/>
<circle cx="1085.3" cy="1825.5" r="4.4" fill="#008000"/>
<circle cx="1085.2" cy="1836.3" r="5" fill="#008000"/>
<circle cx="1087.5" cy="1871.8" r="2.2" fill="#008000"/>
<circle cx="1092.3" cy="1900.1" r="5.6" fill="#008000"/>
<circle cx="1093.5" cy="1905.4" r="4.4" fill="#008000"/>
<circle cx="1097.9" cy="1922.1" r="5" fill="#008000"/>
<circle cx="1099.6" cy="1927.8" r="4.4" fill="#008000"/>
<circle cx="1101" cy="1931.9" r="4.4" fill="#008000"/>
<circle cx="1113.9" cy="1964.5" r="5" fill="#008000"/>
<circle cx="1130" cy="1994.6" r="5" fill="#008000"/>
<circle cx="1134.5" cy="2001.9" r="4.4" fill="#008000"/>
<circle cx="1139.6" cy="2009.5" r="4.4" fill="#008000"/>
<circle cx="1144.9" cy="2017" r="3.9" fill="#008000"/>
<circle cx="1152.8" cy="2027.3" r="3.9" fill="#008000"/>
<circle cx="1182.9" cy="2059.9" r="4.4" fill="#008000"/>
<circle cx="1191.7" cy="2067.9" r="3.9" fill="#008000"/>
<circle cx="1201.2" cy="2075.8" r="4.4" fill="#008000"/>
</g>
<text x="986.9" y="1874.1" transform="rotate(-95.6 986.9 1874.1)" font-family="'DejaVu Sans',sans-serif" font-size="14.6" fill="#6e0000" text-anchor="middle" dominant-baseline="central">p_Firmicutes</text>
<text x="1481.2" y="1433.3" transform="rotate(12.2 1481.2 1433.3)" font-family="'DejaVu Sans',sans-serif" font-size="14.6" fill="#003f00" text-anchor="middle" dominant-baseline="central">p_Bacteroidetes</text>
<text x="1178.9" y="1485.7" transform="rotate(-31.8 1178.9 1485.7)" font-family="'DejaVu Sans',sans-serif" font-size="14.6" fill="#003f00" text-anchor="middle" dominant-baseline="central">p_Deinococcus_Thermus</text>
<text x="1193.4" y="1509.1" transform="rotate(-31.8 1193.4 1509.1)" font-family="'DejaVu Sans',sans-serif" font-size="14.6" fill="#003f00" text-anchor="middle" dominant-baseline="central">j</text>
<text x="1208.4" y="1533.3" transform="rotate(-31.8 1208.4 1533.3)" font-family="'DejaVu Sans',sans-serif" font-size="14.6" fill="#003f00" text-anchor="middle" dominant-baseline="central">i</text>
<text x="1223.9" y="1558.3" transform="rotate(-31.8 1223.9 1558.3)" font-family="'DejaVu Sans',sans-serif" font-size="14.6" fill="#003f00" text-anchor="middle" dominant-baseline="central">h</text>
<text x="1313.8" y="1460.4" transform="rotate(-12.2 1313.8 1460.4)" font-family="'DejaVu Sans',sans-serif" font-size="14.6" fill="#003f00" text-anchor="middle" dominant-baseline="central">g</text>
<text x="1320.1" y="1488.1" transform="rotate(-12.2 1320.1 1488.1)" font-family="'DejaVu Sans',sans-serif" font-size="14.6" fill="#003f00" text-anchor="middle" dominant-baseline="central">f</text>
<text x="1323" y="1517.7" transform="rotate(-12.8 1323 1517.7)" font-family="'DejaVu Sans',sans-serif" font-size="14.6" fill="#003f00" text-anchor="middle" dominant-baseline="central">e</text>
<text x="1398.6" y="1509.6" transform="rotate(0.7 1398.6 1509.6)" font-family="'DejaVu Sans',sans-serif" font-size="14.6" fill="#003f00" text-anchor="middle" dominant-baseline="central">d</text>
<text x="1527.1" y="1537.8" transform="rotate(24.1 1527.1 1537.8)" font-family="'DejaVu Sans',sans-serif" font-size="14.6" fill="#003f00" text-anchor="middle" dominant-baseline="central">c</text>
<text x="1549" y="1548.5" transform="rotate(28.3 1549 1548.5)" font-family="'DejaVu Sans',sans-serif" font-size="14.6" fill="#003f00" text-anchor="middle" dominant-baseline="central">b</text>
<text x="1586.8" y="1572.4" transform="rotate(36.2 1586.8 1572.4)" font-family="'DejaVu Sans',sans-serif" font-size="14.6" fill="#003f00" text-anchor="middle" dominant-baseline="central">a</text>
<text x="1155.5" y="1615.1" transform="rotate(-47.6 1155.5 1615.1)" font-family="'DejaVu Sans',sans-serif" font-size="14.6" fill="#003f00" text-anchor="middle" dominant-baseline="central">k</text>
<text x="1073.5" y="1789.2" transform="rotate(-82.1 1073.5 1789.2)" font-family="'DejaVu Sans',sans-serif" font-size="14.6" fill="#003f00" text-anchor="middle" dominant-baseline="central">l</text>
<text x="1101.2" y="1972" transform="rotate(-115.2 1101.2 1972)" font-family="'DejaVu Sans',sans-serif" font-size="14.6" fill="#003f00" text-anchor="middle" dominant-baseline="central">m</text>
<text x="1127.8" y="2018.4" transform="rotate(-124.6 1127.8 2018.4)" font-family="'DejaVu Sans',sans-serif" font-size="14.6" fill="#003f00" text-anchor="middle" dominant-baseline="central">n</text>
<text x="1183.5" y="2080.3" transform="rotate(-139.4 1183.5 2080.3)" font-family="'DejaVu Sans',sans-serif" font-size="14.6" fill="#003f00" text-anchor="middle" dominant-baseline="central">o</text>
<text x="1164.3" y="2102.7" transform="rotate(-139.4 1164.3 2102.7)" font-family="'DejaVu Sans',sans-serif" font-size="14.6" fill="#003f00" text-anchor="middle" dominant-baseline="central">p</text>
<text x="1517.2" y="2196.5" transform="rotate(161.3 1517.2 2196.5)" font-family="'DejaVu Sans',sans-serif" font-size="14.6" fill="#003f00" text-anchor="middle" dominant-baseline="central">u</text>
<text x="1479" y="2177.9" transform="rotate(166.2 1479 2177.9)" font-family="'DejaVu Sans',sans-serif" font-size="14.6" fill="#003f00" text-anchor="middle" dominant-baseline="central">t</text>
<text x="1470.9" y="2149.6" transform="rotate(166.4 1470.9 2149.6)" font-family="'DejaVu Sans',sans-serif" font-size="14.6" fill="#003f00" text-anchor="middle" dominant-baseline="central">q</text>
<text x="1494.4" y="2143" transform="rotate(162.2 1494.4 2143)" font-family="'DejaVu Sans',sans-serif" font-size="14.6" fill="#003f00" text-anchor="middle" dominant-baseline="central">r</text>
<text x="1508.8" y="2137.9" transform="rotate(159.4 1508.8 2137.9)" font-family="'DejaVu Sans',sans-serif" font-size="14.6" fill="#003f00" text-anchor="middle" dominant-baseline="central">s</text>
<text x="1588.1" y="2094.8" transform="rotate(143.4 1588.1 2094.8)" font-family="'DejaVu Sans',sans-serif" font-size="14.6" fill="#003f00" text-anchor="middle" dominant-baseline="central">v</text>
<text x="1606.2" y="2118.1" transform="rotate(143.3 1606.2 2118.1)" font-family="'DejaVu Sans',sans-serif" font-size="14.6" fill="#003f00" text-anchor="middle" dominant-baseline="central">w</text>
<text x="1720" y="2035.5" transform="rotate(121.8 1720 2035.5)" font-family="'DejaVu Sans',sans-serif" font-size="14.6" fill="#6e0000" text-anchor="middle" dominant-baseline="central">a0</text>
<text x="1700.5" y="2012.7" transform="rotate(120.3 1700.5 2012.7)" font-family="'DejaVu Sans',sans-serif" font-size="14.6" fill="#6e0000" text-anchor="middle" dominant-baseline="central">z</text>
<text x="1674.6" y="1998.5" transform="rotate(120.5 1674.6 1998.5)" font-family="'DejaVu Sans',sans-serif" font-size="14.6" fill="#6e0000" text-anchor="middle" dominant-baseline="central">y</text>
<text x="1679.1" y="2045.1" transform="rotate(126.6 1679.1 2045.1)" font-family="'DejaVu Sans',sans-serif" font-size="14.6" fill="#003f00" text-anchor="middle" dominant-baseline="central">x</text></g>
</svg></body></html>
